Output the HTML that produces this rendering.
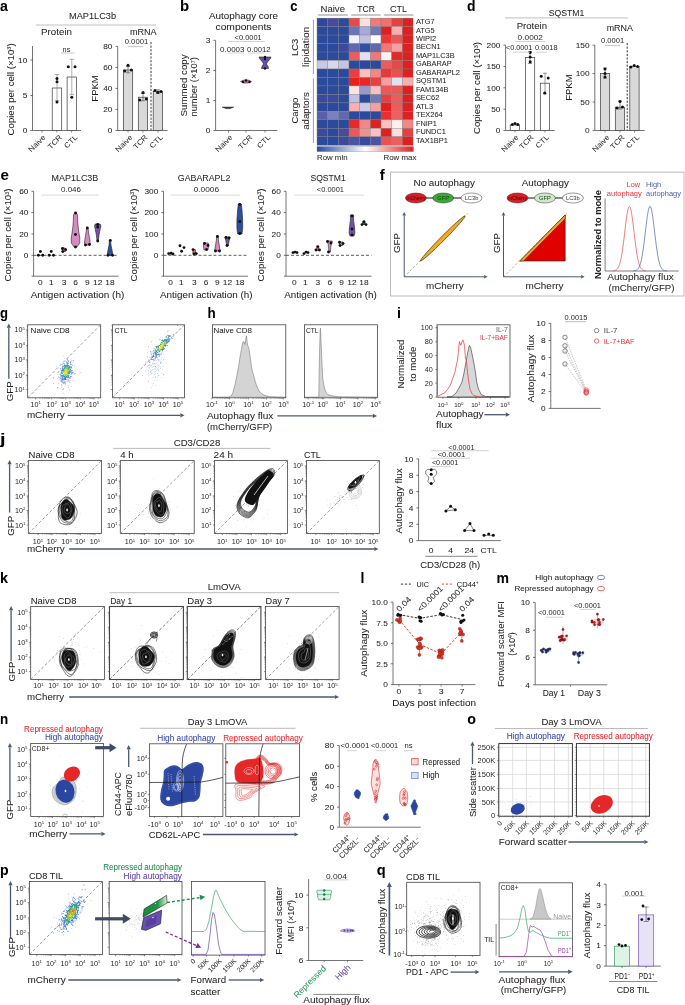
<!DOCTYPE html>
<html><head><meta charset="utf-8"><style>
html,body{margin:0;padding:0;background:#fff;}
svg{display:block;font-family:"Liberation Sans", sans-serif;will-change:transform;}
</style></head><body>
<svg width="685" height="1005" viewBox="0 0 685 1005" fill="#231f20">
<text x="0" y="10.9" font-size="14.5" font-weight="bold" fill="#000" textLength="7.90" lengthAdjust="spacingAndGlyphs" stroke="#000" stroke-width="0.05">a</text>
<text x="69.00" y="18.80" font-size="8.6" textLength="47.00" lengthAdjust="spacingAndGlyphs" stroke="#231f20" stroke-width="0.05">MAP1LC3b</text>
<line x1="36.00" y1="25.00" x2="156.00" y2="25.00" stroke="#b0b0b0" stroke-width="0.8"/>
<text x="41.00" y="35.30" font-size="8.6" textLength="31.00" lengthAdjust="spacingAndGlyphs" stroke="#231f20" stroke-width="0.05">Protein</text>
<text x="130.00" y="35.10" font-size="8.6" textLength="26.60" lengthAdjust="spacingAndGlyphs" stroke="#231f20" stroke-width="0.05">mRNA</text>
<line x1="32.50" y1="46.00" x2="32.50" y2="130.50" stroke="#3a3a3a" stroke-width="0.7"/>
<line x1="30.30" y1="130.50" x2="32.50" y2="130.50" stroke="#3a3a3a" stroke-width="0.7"/>
<text x="27.30" y="133.38" font-size="8.0" text-anchor="end" textLength="4.63" lengthAdjust="spacingAndGlyphs" stroke="#231f20" stroke-width="0.05">0</text>
<line x1="30.30" y1="95.50" x2="32.50" y2="95.50" stroke="#3a3a3a" stroke-width="0.7"/>
<text x="27.30" y="98.38" font-size="8.0" text-anchor="end" textLength="4.63" lengthAdjust="spacingAndGlyphs" stroke="#231f20" stroke-width="0.05">5</text>
<line x1="30.30" y1="60.00" x2="32.50" y2="60.00" stroke="#3a3a3a" stroke-width="0.7"/>
<text x="27.30" y="62.88" font-size="8.0" text-anchor="end" textLength="9.25" lengthAdjust="spacingAndGlyphs" stroke="#231f20" stroke-width="0.05">10</text>
<line x1="32.50" y1="130.50" x2="81.00" y2="130.50" stroke="#3a3a3a" stroke-width="0.7"/>
<line x1="42.00" y1="130.50" x2="42.00" y2="132.50" stroke="#3a3a3a" stroke-width="0.6"/>
<line x1="56.80" y1="130.50" x2="56.80" y2="132.50" stroke="#3a3a3a" stroke-width="0.6"/>
<line x1="71.60" y1="130.50" x2="71.60" y2="132.50" stroke="#3a3a3a" stroke-width="0.6"/>
<text x="10.80" y="92.50" font-size="8.6" text-anchor="middle" textLength="92.00" lengthAdjust="spacingAndGlyphs" transform="rotate(-90 10.80 89.40)" stroke="#231f20" stroke-width="0.05">Copies per cell (×10<tspan dy="-2.8" font-size="5">3</tspan><tspan dy="2.8">)</tspan></text>
<rect x="52.20" y="88.00" width="9.50" height="42.50" fill="white" stroke="#3a3a3a" stroke-width="0.7"/>
<rect x="67.10" y="77.00" width="9.50" height="53.50" fill="white" stroke="#3a3a3a" stroke-width="0.7"/>
<line x1="57.00" y1="74.50" x2="57.00" y2="100.50" stroke="#777" stroke-width="0.6"/>
<line x1="54.80" y1="74.50" x2="59.20" y2="74.50" stroke="#777" stroke-width="0.6"/>
<line x1="54.80" y1="100.50" x2="59.20" y2="100.50" stroke="#777" stroke-width="0.6"/>
<line x1="71.80" y1="59.30" x2="71.80" y2="94.60" stroke="#777" stroke-width="0.6"/>
<line x1="69.60" y1="59.30" x2="74.00" y2="59.30" stroke="#777" stroke-width="0.6"/>
<line x1="69.60" y1="94.60" x2="74.00" y2="94.60" stroke="#777" stroke-width="0.6"/>
<circle cx="57.00" cy="78.50" r="1.50" fill="#111"/>
<circle cx="57.00" cy="81.80" r="1.50" fill="#111"/>
<circle cx="57.00" cy="102.10" r="1.50" fill="#111"/>
<circle cx="68.30" cy="66.70" r="1.50" fill="#111"/>
<circle cx="75.00" cy="66.70" r="1.50" fill="#111"/>
<circle cx="71.80" cy="97.20" r="1.50" fill="#111"/>
<text x="62.60" y="51.98" font-size="6.6" textLength="7.67" lengthAdjust="spacingAndGlyphs">ns</text>
<line x1="61.00" y1="53.00" x2="74.50" y2="53.00" stroke="#b0b0b0" stroke-width="0.7"/>
<text x="46.00" y="137.80" font-size="7.4" text-anchor="end" textLength="20.81" lengthAdjust="spacingAndGlyphs" transform="rotate(-45 46.00 137.80)">Naive</text>
<text x="62.50" y="137.80" font-size="7.4" text-anchor="end" textLength="16.73" lengthAdjust="spacingAndGlyphs" transform="rotate(-45 62.50 137.80)">TCR</text>
<text x="78.00" y="137.80" font-size="7.4" text-anchor="end" textLength="15.38" lengthAdjust="spacingAndGlyphs" transform="rotate(-45 78.00 137.80)">CTL</text>
<line x1="117.70" y1="46.40" x2="117.70" y2="130.50" stroke="#3a3a3a" stroke-width="0.7"/>
<line x1="115.50" y1="130.50" x2="117.70" y2="130.50" stroke="#3a3a3a" stroke-width="0.7"/>
<text x="112.50" y="133.38" font-size="8.0" text-anchor="end" textLength="4.63" lengthAdjust="spacingAndGlyphs" stroke="#231f20" stroke-width="0.05">0</text>
<line x1="115.50" y1="109.40" x2="117.70" y2="109.40" stroke="#3a3a3a" stroke-width="0.7"/>
<text x="112.50" y="112.28" font-size="8.0" text-anchor="end" textLength="9.25" lengthAdjust="spacingAndGlyphs" stroke="#231f20" stroke-width="0.05">20</text>
<line x1="115.50" y1="88.40" x2="117.70" y2="88.40" stroke="#3a3a3a" stroke-width="0.7"/>
<text x="112.50" y="91.28" font-size="8.0" text-anchor="end" textLength="9.25" lengthAdjust="spacingAndGlyphs" stroke="#231f20" stroke-width="0.05">40</text>
<line x1="115.50" y1="67.40" x2="117.70" y2="67.40" stroke="#3a3a3a" stroke-width="0.7"/>
<text x="112.50" y="70.28" font-size="8.0" text-anchor="end" textLength="9.25" lengthAdjust="spacingAndGlyphs" stroke="#231f20" stroke-width="0.05">60</text>
<line x1="115.50" y1="46.40" x2="117.70" y2="46.40" stroke="#3a3a3a" stroke-width="0.7"/>
<text x="112.50" y="49.28" font-size="8.0" text-anchor="end" textLength="9.25" lengthAdjust="spacingAndGlyphs" stroke="#231f20" stroke-width="0.05">80</text>
<line x1="117.70" y1="130.50" x2="167.60" y2="130.50" stroke="#3a3a3a" stroke-width="0.7"/>
<line x1="128.00" y1="130.50" x2="128.00" y2="132.50" stroke="#3a3a3a" stroke-width="0.6"/>
<line x1="143.00" y1="130.50" x2="143.00" y2="132.50" stroke="#3a3a3a" stroke-width="0.6"/>
<line x1="158.00" y1="130.50" x2="158.00" y2="132.50" stroke="#3a3a3a" stroke-width="0.6"/>
<text x="94.90" y="91.60" font-size="8.6" text-anchor="middle" textLength="26.28" lengthAdjust="spacingAndGlyphs" transform="rotate(-90 94.90 88.50)" stroke="#231f20" stroke-width="0.05">FPKM</text>
<rect x="123.40" y="70.00" width="9.30" height="60.50" fill="#d9d9d9" stroke="#3a3a3a" stroke-width="0.7"/>
<rect x="138.30" y="97.20" width="9.30" height="33.30" fill="#d9d9d9" stroke="#3a3a3a" stroke-width="0.7"/>
<rect x="153.20" y="91.50" width="9.30" height="39.00" fill="#d9d9d9" stroke="#3a3a3a" stroke-width="0.7"/>
<line x1="128.00" y1="66.50" x2="128.00" y2="72.80" stroke="#444" stroke-width="0.6"/>
<line x1="126.00" y1="66.50" x2="130.00" y2="66.50" stroke="#444" stroke-width="0.6"/>
<line x1="126.00" y1="72.80" x2="130.00" y2="72.80" stroke="#444" stroke-width="0.6"/>
<line x1="143.00" y1="93.50" x2="143.00" y2="100.80" stroke="#444" stroke-width="0.6"/>
<line x1="141.00" y1="93.50" x2="145.00" y2="93.50" stroke="#444" stroke-width="0.6"/>
<line x1="141.00" y1="100.80" x2="145.00" y2="100.80" stroke="#444" stroke-width="0.6"/>
<line x1="158.00" y1="89.80" x2="158.00" y2="93.20" stroke="#444" stroke-width="0.6"/>
<line x1="156.00" y1="89.80" x2="160.00" y2="89.80" stroke="#444" stroke-width="0.6"/>
<line x1="156.00" y1="93.20" x2="160.00" y2="93.20" stroke="#444" stroke-width="0.6"/>
<circle cx="128.00" cy="65.20" r="1.50" fill="#111"/>
<circle cx="124.80" cy="71.00" r="1.50" fill="#111"/>
<circle cx="131.30" cy="70.00" r="1.50" fill="#111"/>
<circle cx="143.00" cy="92.50" r="1.50" fill="#111"/>
<circle cx="139.70" cy="100.00" r="1.50" fill="#111"/>
<circle cx="146.30" cy="99.00" r="1.50" fill="#111"/>
<circle cx="155.00" cy="90.50" r="1.50" fill="#111"/>
<circle cx="157.80" cy="92.50" r="1.50" fill="#111"/>
<circle cx="161.00" cy="91.50" r="1.50" fill="#111"/>
<line x1="151.00" y1="42.00" x2="151.00" y2="130.50" stroke="#222" stroke-width="0.9" stroke-dasharray="2.2,1.4"/>
<text x="124.70" y="44.30" font-size="6.4" textLength="23.60" lengthAdjust="spacingAndGlyphs">0.0001</text>
<line x1="128.00" y1="46.60" x2="143.00" y2="46.60" stroke="#b0b0b0" stroke-width="0.7"/>
<text x="133.00" y="137.80" font-size="7.4" text-anchor="end" textLength="20.81" lengthAdjust="spacingAndGlyphs" transform="rotate(-45 133.00 137.80)">Naive</text>
<text x="148.00" y="137.80" font-size="7.4" text-anchor="end" textLength="16.73" lengthAdjust="spacingAndGlyphs" transform="rotate(-45 148.00 137.80)">TCR</text>
<text x="163.50" y="137.80" font-size="7.4" text-anchor="end" textLength="15.38" lengthAdjust="spacingAndGlyphs" transform="rotate(-45 163.50 137.80)">CTL</text>
<text x="179.9" y="11.4" font-size="14.5" font-weight="bold" fill="#000" textLength="9.10" lengthAdjust="spacingAndGlyphs" stroke="#000" stroke-width="0.05">b</text>
<text x="243.50" y="18.80" font-size="8.6" text-anchor="middle" textLength="69.00" lengthAdjust="spacingAndGlyphs" stroke="#231f20" stroke-width="0.05">Autophagy core</text>
<text x="243.50" y="29.70" font-size="8.6" text-anchor="middle" textLength="56.00" lengthAdjust="spacingAndGlyphs" stroke="#231f20" stroke-width="0.05">components</text>
<line x1="215.60" y1="40.30" x2="215.60" y2="130.50" stroke="#3a3a3a" stroke-width="0.7"/>
<line x1="213.40" y1="130.50" x2="215.60" y2="130.50" stroke="#3a3a3a" stroke-width="0.7"/>
<text x="210.40" y="133.38" font-size="8.0" text-anchor="end" textLength="4.63" lengthAdjust="spacingAndGlyphs" stroke="#231f20" stroke-width="0.05">0</text>
<line x1="213.40" y1="100.50" x2="215.60" y2="100.50" stroke="#3a3a3a" stroke-width="0.7"/>
<text x="210.40" y="103.38" font-size="8.0" text-anchor="end" textLength="4.63" lengthAdjust="spacingAndGlyphs" stroke="#231f20" stroke-width="0.05">1</text>
<line x1="213.40" y1="70.40" x2="215.60" y2="70.40" stroke="#3a3a3a" stroke-width="0.7"/>
<text x="210.40" y="73.28" font-size="8.0" text-anchor="end" textLength="4.63" lengthAdjust="spacingAndGlyphs" stroke="#231f20" stroke-width="0.05">2</text>
<line x1="213.40" y1="40.30" x2="215.60" y2="40.30" stroke="#3a3a3a" stroke-width="0.7"/>
<text x="210.40" y="43.18" font-size="8.0" text-anchor="end" textLength="4.63" lengthAdjust="spacingAndGlyphs" stroke="#231f20" stroke-width="0.05">3</text>
<line x1="215.60" y1="130.50" x2="277.50" y2="130.50" stroke="#3a3a3a" stroke-width="0.7"/>
<line x1="228.50" y1="130.50" x2="228.50" y2="132.50" stroke="#3a3a3a" stroke-width="0.6"/>
<line x1="246.00" y1="130.50" x2="246.00" y2="132.50" stroke="#3a3a3a" stroke-width="0.6"/>
<line x1="265.00" y1="130.50" x2="265.00" y2="132.50" stroke="#3a3a3a" stroke-width="0.6"/>
<text x="183.80" y="88.50" font-size="8.6" text-anchor="middle" textLength="62.00" lengthAdjust="spacingAndGlyphs" transform="rotate(-90 183.80 85.40)" stroke="#231f20" stroke-width="0.05">Summed copy</text>
<text x="194.30" y="89.90" font-size="8.6" text-anchor="middle" textLength="59.50" lengthAdjust="spacingAndGlyphs" transform="rotate(-90 194.30 86.80)" stroke="#231f20" stroke-width="0.05">number (×10<tspan dy="-2.8" font-size="5">7</tspan><tspan dy="2.8">)</tspan></text>
<text x="234.60" y="39.90" font-size="6.4" textLength="27.10" lengthAdjust="spacingAndGlyphs">&lt;0.0001</text>
<line x1="228.00" y1="41.50" x2="265.00" y2="41.50" stroke="#c0c0c0" stroke-width="0.7"/>
<text x="220.00" y="51.50" font-size="6.4" textLength="24.50" lengthAdjust="spacingAndGlyphs">0.0003</text>
<text x="247.00" y="51.50" font-size="6.4" textLength="23.50" lengthAdjust="spacingAndGlyphs">0.0012</text>
<line x1="228.00" y1="53.00" x2="244.00" y2="53.00" stroke="#c0c0c0" stroke-width="0.7"/>
<line x1="248.00" y1="53.00" x2="265.00" y2="53.00" stroke="#c0c0c0" stroke-width="0.7"/>
<path d="M222.10,107.10 L233.80,107.10 L230.00,108.60 L226.00,108.60 Z" fill="#2a48a0" stroke="#111" stroke-width="0.5"/>
<path d="M244.00,80.00 L240.50,81.50 L244.00,83.00 L248.00,83.00 L251.50,81.50 L248.00,80.00 Z" fill="#c774b8" stroke="#222" stroke-width="0.6"/>
<circle cx="243.00" cy="82.00" r="1.20" fill="#111"/>
<circle cx="246.00" cy="80.50" r="1.20" fill="#111"/>
<circle cx="249.50" cy="82.00" r="1.20" fill="#111"/>
<path d="M259.00,57.00 L259.50,58.50 L262.50,62.00 L263.50,64.00 L262.00,66.50 L261.50,68.50 L268.50,68.50 L268.00,66.50 L266.50,64.00 L267.50,62.00 L270.50,58.50 L271.00,57.00 Z" fill="#6a4fa8" stroke="#222" stroke-width="0.6"/>
<circle cx="265.00" cy="57.00" r="1.20" fill="#111"/>
<circle cx="265.00" cy="59.00" r="1.20" fill="#111"/>
<circle cx="265.00" cy="68.50" r="1.20" fill="#111"/>
<text x="233.00" y="137.80" font-size="7.4" text-anchor="end" textLength="20.81" lengthAdjust="spacingAndGlyphs" transform="rotate(-45 233.00 137.80)">Naive</text>
<text x="253.00" y="137.80" font-size="7.4" text-anchor="end" textLength="16.73" lengthAdjust="spacingAndGlyphs" transform="rotate(-45 253.00 137.80)">TCR</text>
<text x="271.00" y="137.80" font-size="7.4" text-anchor="end" textLength="15.38" lengthAdjust="spacingAndGlyphs" transform="rotate(-45 271.00 137.80)">CTL</text>
<text x="290.3" y="10.5" font-size="14.5" font-weight="bold" fill="#000" textLength="7.20" lengthAdjust="spacingAndGlyphs" stroke="#000" stroke-width="0.05">c</text>
<rect x="317.00" y="18.10" width="10.67" height="8.48" fill="#2b4a9c" stroke="#7a7a7a" stroke-width="0.35"/>
<rect x="327.67" y="18.10" width="10.67" height="8.48" fill="#4a4a9c" stroke="#7a7a7a" stroke-width="0.35"/>
<rect x="338.34" y="18.10" width="10.67" height="8.48" fill="#2b4a9c" stroke="#7a7a7a" stroke-width="0.35"/>
<rect x="349.01" y="18.10" width="10.67" height="8.48" fill="#e84a4a" stroke="#7a7a7a" stroke-width="0.35"/>
<rect x="359.68" y="18.10" width="10.67" height="8.48" fill="#fce0e0" stroke="#7a7a7a" stroke-width="0.35"/>
<rect x="370.35" y="18.10" width="10.67" height="8.48" fill="#f07a7a" stroke="#7a7a7a" stroke-width="0.35"/>
<rect x="381.02" y="18.10" width="10.67" height="8.48" fill="#f07070" stroke="#7a7a7a" stroke-width="0.35"/>
<rect x="391.69" y="18.10" width="10.67" height="8.48" fill="#e84040" stroke="#7a7a7a" stroke-width="0.35"/>
<rect x="402.36" y="18.10" width="10.67" height="8.48" fill="#e02020" stroke="#7a7a7a" stroke-width="0.35"/>
<rect x="317.00" y="26.58" width="10.67" height="8.48" fill="#2b4a9c" stroke="#7a7a7a" stroke-width="0.35"/>
<rect x="327.67" y="26.58" width="10.67" height="8.48" fill="#2b4a9c" stroke="#7a7a7a" stroke-width="0.35"/>
<rect x="338.34" y="26.58" width="10.67" height="8.48" fill="#2b4a9c" stroke="#7a7a7a" stroke-width="0.35"/>
<rect x="349.01" y="26.58" width="10.67" height="8.48" fill="#6c74b8" stroke="#7a7a7a" stroke-width="0.35"/>
<rect x="359.68" y="26.58" width="10.67" height="8.48" fill="#a8a8d8" stroke="#7a7a7a" stroke-width="0.35"/>
<rect x="370.35" y="26.58" width="10.67" height="8.48" fill="#7078b8" stroke="#7a7a7a" stroke-width="0.35"/>
<rect x="381.02" y="26.58" width="10.67" height="8.48" fill="#e02020" stroke="#7a7a7a" stroke-width="0.35"/>
<rect x="391.69" y="26.58" width="10.67" height="8.48" fill="#f4b0b0" stroke="#7a7a7a" stroke-width="0.35"/>
<rect x="402.36" y="26.58" width="10.67" height="8.48" fill="#e02020" stroke="#7a7a7a" stroke-width="0.35"/>
<rect x="317.00" y="35.06" width="10.67" height="8.48" fill="#2b4a9c" stroke="#7a7a7a" stroke-width="0.35"/>
<rect x="327.67" y="35.06" width="10.67" height="8.48" fill="#2b4a9c" stroke="#7a7a7a" stroke-width="0.35"/>
<rect x="338.34" y="35.06" width="10.67" height="8.48" fill="#2b4a9c" stroke="#7a7a7a" stroke-width="0.35"/>
<rect x="349.01" y="35.06" width="10.67" height="8.48" fill="#f0f0f8" stroke="#7a7a7a" stroke-width="0.35"/>
<rect x="359.68" y="35.06" width="10.67" height="8.48" fill="#c0c0e0" stroke="#7a7a7a" stroke-width="0.35"/>
<rect x="370.35" y="35.06" width="10.67" height="8.48" fill="#ffffff" stroke="#7a7a7a" stroke-width="0.35"/>
<rect x="381.02" y="35.06" width="10.67" height="8.48" fill="#e83838" stroke="#7a7a7a" stroke-width="0.35"/>
<rect x="391.69" y="35.06" width="10.67" height="8.48" fill="#e85858" stroke="#7a7a7a" stroke-width="0.35"/>
<rect x="402.36" y="35.06" width="10.67" height="8.48" fill="#e02020" stroke="#7a7a7a" stroke-width="0.35"/>
<rect x="317.00" y="43.54" width="10.67" height="8.48" fill="#2b4a9c" stroke="#7a7a7a" stroke-width="0.35"/>
<rect x="327.67" y="43.54" width="10.67" height="8.48" fill="#2b4a9c" stroke="#7a7a7a" stroke-width="0.35"/>
<rect x="338.34" y="43.54" width="10.67" height="8.48" fill="#3a4a9c" stroke="#7a7a7a" stroke-width="0.35"/>
<rect x="349.01" y="43.54" width="10.67" height="8.48" fill="#6068b0" stroke="#7a7a7a" stroke-width="0.35"/>
<rect x="359.68" y="43.54" width="10.67" height="8.48" fill="#3050a0" stroke="#7a7a7a" stroke-width="0.35"/>
<rect x="370.35" y="43.54" width="10.67" height="8.48" fill="#6068b0" stroke="#7a7a7a" stroke-width="0.35"/>
<rect x="381.02" y="43.54" width="10.67" height="8.48" fill="#f07878" stroke="#7a7a7a" stroke-width="0.35"/>
<rect x="391.69" y="43.54" width="10.67" height="8.48" fill="#f4a0a0" stroke="#7a7a7a" stroke-width="0.35"/>
<rect x="402.36" y="43.54" width="10.67" height="8.48" fill="#e02020" stroke="#7a7a7a" stroke-width="0.35"/>
<rect x="317.00" y="52.02" width="10.67" height="8.48" fill="#2b4a9c" stroke="#7a7a7a" stroke-width="0.35"/>
<rect x="327.67" y="52.02" width="10.67" height="8.48" fill="#2b4a9c" stroke="#7a7a7a" stroke-width="0.35"/>
<rect x="338.34" y="52.02" width="10.67" height="8.48" fill="#2b4a9c" stroke="#7a7a7a" stroke-width="0.35"/>
<rect x="349.01" y="52.02" width="10.67" height="8.48" fill="#ec5c5c" stroke="#7a7a7a" stroke-width="0.35"/>
<rect x="359.68" y="52.02" width="10.67" height="8.48" fill="#e0e0f4" stroke="#7a7a7a" stroke-width="0.35"/>
<rect x="370.35" y="52.02" width="10.67" height="8.48" fill="#f07878" stroke="#7a7a7a" stroke-width="0.35"/>
<rect x="381.02" y="52.02" width="10.67" height="8.48" fill="#fcf0f0" stroke="#7a7a7a" stroke-width="0.35"/>
<rect x="391.69" y="52.02" width="10.67" height="8.48" fill="#e82828" stroke="#7a7a7a" stroke-width="0.35"/>
<rect x="402.36" y="52.02" width="10.67" height="8.48" fill="#e02020" stroke="#7a7a7a" stroke-width="0.35"/>
<rect x="317.00" y="60.50" width="10.67" height="8.48" fill="#c8c8e4" stroke="#7a7a7a" stroke-width="0.35"/>
<rect x="327.67" y="60.50" width="10.67" height="8.48" fill="#d8d8ec" stroke="#7a7a7a" stroke-width="0.35"/>
<rect x="338.34" y="60.50" width="10.67" height="8.48" fill="#c4c4e4" stroke="#7a7a7a" stroke-width="0.35"/>
<rect x="349.01" y="60.50" width="10.67" height="8.48" fill="#2b4a9c" stroke="#7a7a7a" stroke-width="0.35"/>
<rect x="359.68" y="60.50" width="10.67" height="8.48" fill="#2b4a9c" stroke="#7a7a7a" stroke-width="0.35"/>
<rect x="370.35" y="60.50" width="10.67" height="8.48" fill="#2b4a9c" stroke="#7a7a7a" stroke-width="0.35"/>
<rect x="381.02" y="60.50" width="10.67" height="8.48" fill="#ec5c5c" stroke="#7a7a7a" stroke-width="0.35"/>
<rect x="391.69" y="60.50" width="10.67" height="8.48" fill="#e84848" stroke="#7a7a7a" stroke-width="0.35"/>
<rect x="402.36" y="60.50" width="10.67" height="8.48" fill="#e02020" stroke="#7a7a7a" stroke-width="0.35"/>
<rect x="317.00" y="68.98" width="10.67" height="8.48" fill="#2b4a9c" stroke="#7a7a7a" stroke-width="0.35"/>
<rect x="327.67" y="68.98" width="10.67" height="8.48" fill="#2b4a9c" stroke="#7a7a7a" stroke-width="0.35"/>
<rect x="338.34" y="68.98" width="10.67" height="8.48" fill="#2b4a9c" stroke="#7a7a7a" stroke-width="0.35"/>
<rect x="349.01" y="68.98" width="10.67" height="8.48" fill="#e84040" stroke="#7a7a7a" stroke-width="0.35"/>
<rect x="359.68" y="68.98" width="10.67" height="8.48" fill="#f8c0c0" stroke="#7a7a7a" stroke-width="0.35"/>
<rect x="370.35" y="68.98" width="10.67" height="8.48" fill="#f08888" stroke="#7a7a7a" stroke-width="0.35"/>
<rect x="381.02" y="68.98" width="10.67" height="8.48" fill="#e83838" stroke="#7a7a7a" stroke-width="0.35"/>
<rect x="391.69" y="68.98" width="10.67" height="8.48" fill="#e85050" stroke="#7a7a7a" stroke-width="0.35"/>
<rect x="402.36" y="68.98" width="10.67" height="8.48" fill="#e02020" stroke="#7a7a7a" stroke-width="0.35"/>
<rect x="317.00" y="77.46" width="10.67" height="8.48" fill="#2b4a9c" stroke="#7a7a7a" stroke-width="0.35"/>
<rect x="327.67" y="77.46" width="10.67" height="8.48" fill="#2b4a9c" stroke="#7a7a7a" stroke-width="0.35"/>
<rect x="338.34" y="77.46" width="10.67" height="8.48" fill="#2b4a9c" stroke="#7a7a7a" stroke-width="0.35"/>
<rect x="349.01" y="77.46" width="10.67" height="8.48" fill="#e82020" stroke="#7a7a7a" stroke-width="0.35"/>
<rect x="359.68" y="77.46" width="10.67" height="8.48" fill="#e82828" stroke="#7a7a7a" stroke-width="0.35"/>
<rect x="370.35" y="77.46" width="10.67" height="8.48" fill="#e84040" stroke="#7a7a7a" stroke-width="0.35"/>
<rect x="381.02" y="77.46" width="10.67" height="8.48" fill="#f4a0a0" stroke="#7a7a7a" stroke-width="0.35"/>
<rect x="391.69" y="77.46" width="10.67" height="8.48" fill="#e0e0f0" stroke="#7a7a7a" stroke-width="0.35"/>
<rect x="402.36" y="77.46" width="10.67" height="8.48" fill="#f4b0b0" stroke="#7a7a7a" stroke-width="0.35"/>
<rect x="317.00" y="85.94" width="10.67" height="8.48" fill="#2b4a9c" stroke="#7a7a7a" stroke-width="0.35"/>
<rect x="327.67" y="85.94" width="10.67" height="8.48" fill="#2b4a9c" stroke="#7a7a7a" stroke-width="0.35"/>
<rect x="338.34" y="85.94" width="10.67" height="8.48" fill="#2b4a9c" stroke="#7a7a7a" stroke-width="0.35"/>
<rect x="349.01" y="85.94" width="10.67" height="8.48" fill="#fce4e4" stroke="#7a7a7a" stroke-width="0.35"/>
<rect x="359.68" y="85.94" width="10.67" height="8.48" fill="#9898d0" stroke="#7a7a7a" stroke-width="0.35"/>
<rect x="370.35" y="85.94" width="10.67" height="8.48" fill="#f8c0c0" stroke="#7a7a7a" stroke-width="0.35"/>
<rect x="381.02" y="85.94" width="10.67" height="8.48" fill="#ec5858" stroke="#7a7a7a" stroke-width="0.35"/>
<rect x="391.69" y="85.94" width="10.67" height="8.48" fill="#ec5858" stroke="#7a7a7a" stroke-width="0.35"/>
<rect x="402.36" y="85.94" width="10.67" height="8.48" fill="#e02020" stroke="#7a7a7a" stroke-width="0.35"/>
<rect x="317.00" y="94.42" width="10.67" height="8.48" fill="#3a4a9c" stroke="#7a7a7a" stroke-width="0.35"/>
<rect x="327.67" y="94.42" width="10.67" height="8.48" fill="#3a4a9c" stroke="#7a7a7a" stroke-width="0.35"/>
<rect x="338.34" y="94.42" width="10.67" height="8.48" fill="#2b4a9c" stroke="#7a7a7a" stroke-width="0.35"/>
<rect x="349.01" y="94.42" width="10.67" height="8.48" fill="#c0c0e4" stroke="#7a7a7a" stroke-width="0.35"/>
<rect x="359.68" y="94.42" width="10.67" height="8.48" fill="#2b4a9c" stroke="#7a7a7a" stroke-width="0.35"/>
<rect x="370.35" y="94.42" width="10.67" height="8.48" fill="#7078b8" stroke="#7a7a7a" stroke-width="0.35"/>
<rect x="381.02" y="94.42" width="10.67" height="8.48" fill="#e84040" stroke="#7a7a7a" stroke-width="0.35"/>
<rect x="391.69" y="94.42" width="10.67" height="8.48" fill="#ec5c5c" stroke="#7a7a7a" stroke-width="0.35"/>
<rect x="402.36" y="94.42" width="10.67" height="8.48" fill="#e02020" stroke="#7a7a7a" stroke-width="0.35"/>
<rect x="317.00" y="102.90" width="10.67" height="8.48" fill="#2b4a9c" stroke="#7a7a7a" stroke-width="0.35"/>
<rect x="327.67" y="102.90" width="10.67" height="8.48" fill="#2b4a9c" stroke="#7a7a7a" stroke-width="0.35"/>
<rect x="338.34" y="102.90" width="10.67" height="8.48" fill="#2b4a9c" stroke="#7a7a7a" stroke-width="0.35"/>
<rect x="349.01" y="102.90" width="10.67" height="8.48" fill="#f8b0b0" stroke="#7a7a7a" stroke-width="0.35"/>
<rect x="359.68" y="102.90" width="10.67" height="8.48" fill="#c8c8e8" stroke="#7a7a7a" stroke-width="0.35"/>
<rect x="370.35" y="102.90" width="10.67" height="8.48" fill="#f4a0a0" stroke="#7a7a7a" stroke-width="0.35"/>
<rect x="381.02" y="102.90" width="10.67" height="8.48" fill="#e02020" stroke="#7a7a7a" stroke-width="0.35"/>
<rect x="391.69" y="102.90" width="10.67" height="8.48" fill="#ec5c5c" stroke="#7a7a7a" stroke-width="0.35"/>
<rect x="402.36" y="102.90" width="10.67" height="8.48" fill="#e02020" stroke="#7a7a7a" stroke-width="0.35"/>
<rect x="317.00" y="111.38" width="10.67" height="8.48" fill="#5a60a8" stroke="#7a7a7a" stroke-width="0.35"/>
<rect x="327.67" y="111.38" width="10.67" height="8.48" fill="#7c80c0" stroke="#7a7a7a" stroke-width="0.35"/>
<rect x="338.34" y="111.38" width="10.67" height="8.48" fill="#6068b0" stroke="#7a7a7a" stroke-width="0.35"/>
<rect x="349.01" y="111.38" width="10.67" height="8.48" fill="#2b4a9c" stroke="#7a7a7a" stroke-width="0.35"/>
<rect x="359.68" y="111.38" width="10.67" height="8.48" fill="#2b4a9c" stroke="#7a7a7a" stroke-width="0.35"/>
<rect x="370.35" y="111.38" width="10.67" height="8.48" fill="#2b4a9c" stroke="#7a7a7a" stroke-width="0.35"/>
<rect x="381.02" y="111.38" width="10.67" height="8.48" fill="#e83030" stroke="#7a7a7a" stroke-width="0.35"/>
<rect x="391.69" y="111.38" width="10.67" height="8.48" fill="#ec6060" stroke="#7a7a7a" stroke-width="0.35"/>
<rect x="402.36" y="111.38" width="10.67" height="8.48" fill="#e02020" stroke="#7a7a7a" stroke-width="0.35"/>
<rect x="317.00" y="119.86" width="10.67" height="8.48" fill="#2b4a9c" stroke="#7a7a7a" stroke-width="0.35"/>
<rect x="327.67" y="119.86" width="10.67" height="8.48" fill="#2b4a9c" stroke="#7a7a7a" stroke-width="0.35"/>
<rect x="338.34" y="119.86" width="10.67" height="8.48" fill="#2b4a9c" stroke="#7a7a7a" stroke-width="0.35"/>
<rect x="349.01" y="119.86" width="10.67" height="8.48" fill="#e82828" stroke="#7a7a7a" stroke-width="0.35"/>
<rect x="359.68" y="119.86" width="10.67" height="8.48" fill="#f08888" stroke="#7a7a7a" stroke-width="0.35"/>
<rect x="370.35" y="119.86" width="10.67" height="8.48" fill="#e02020" stroke="#7a7a7a" stroke-width="0.35"/>
<rect x="381.02" y="119.86" width="10.67" height="8.48" fill="#f8c0c0" stroke="#7a7a7a" stroke-width="0.35"/>
<rect x="391.69" y="119.86" width="10.67" height="8.48" fill="#fcf0f0" stroke="#7a7a7a" stroke-width="0.35"/>
<rect x="402.36" y="119.86" width="10.67" height="8.48" fill="#f08888" stroke="#7a7a7a" stroke-width="0.35"/>
<rect x="317.00" y="128.34" width="10.67" height="8.48" fill="#3a4a9c" stroke="#7a7a7a" stroke-width="0.35"/>
<rect x="327.67" y="128.34" width="10.67" height="8.48" fill="#2b4a9c" stroke="#7a7a7a" stroke-width="0.35"/>
<rect x="338.34" y="128.34" width="10.67" height="8.48" fill="#4a4a9c" stroke="#7a7a7a" stroke-width="0.35"/>
<rect x="349.01" y="128.34" width="10.67" height="8.48" fill="#ec5858" stroke="#7a7a7a" stroke-width="0.35"/>
<rect x="359.68" y="128.34" width="10.67" height="8.48" fill="#f09090" stroke="#7a7a7a" stroke-width="0.35"/>
<rect x="370.35" y="128.34" width="10.67" height="8.48" fill="#f8c0c0" stroke="#7a7a7a" stroke-width="0.35"/>
<rect x="381.02" y="128.34" width="10.67" height="8.48" fill="#e02020" stroke="#7a7a7a" stroke-width="0.35"/>
<rect x="391.69" y="128.34" width="10.67" height="8.48" fill="#fce0e0" stroke="#7a7a7a" stroke-width="0.35"/>
<rect x="402.36" y="128.34" width="10.67" height="8.48" fill="#e84040" stroke="#7a7a7a" stroke-width="0.35"/>
<rect x="317.00" y="136.82" width="10.67" height="8.48" fill="#2b4a9c" stroke="#7a7a7a" stroke-width="0.35"/>
<rect x="327.67" y="136.82" width="10.67" height="8.48" fill="#2b4a9c" stroke="#7a7a7a" stroke-width="0.35"/>
<rect x="338.34" y="136.82" width="10.67" height="8.48" fill="#3a4a9c" stroke="#7a7a7a" stroke-width="0.35"/>
<rect x="349.01" y="136.82" width="10.67" height="8.48" fill="#4a54a4" stroke="#7a7a7a" stroke-width="0.35"/>
<rect x="359.68" y="136.82" width="10.67" height="8.48" fill="#3a4a9c" stroke="#7a7a7a" stroke-width="0.35"/>
<rect x="370.35" y="136.82" width="10.67" height="8.48" fill="#4a54a4" stroke="#7a7a7a" stroke-width="0.35"/>
<rect x="381.02" y="136.82" width="10.67" height="8.48" fill="#ec5050" stroke="#7a7a7a" stroke-width="0.35"/>
<rect x="391.69" y="136.82" width="10.67" height="8.48" fill="#ec6060" stroke="#7a7a7a" stroke-width="0.35"/>
<rect x="402.36" y="136.82" width="10.67" height="8.48" fill="#e02020" stroke="#7a7a7a" stroke-width="0.35"/>
<text x="415.90" y="24.05" font-size="7.8" textLength="18.80" lengthAdjust="spacingAndGlyphs" stroke="#231f20" stroke-width="0.05">ATG7</text>
<text x="415.90" y="32.53" font-size="7.8" textLength="18.80" lengthAdjust="spacingAndGlyphs" stroke="#231f20" stroke-width="0.05">ATG5</text>
<text x="415.90" y="41.01" font-size="7.8" textLength="20.17" lengthAdjust="spacingAndGlyphs" stroke="#231f20" stroke-width="0.05">WIPI2</text>
<text x="415.90" y="49.49" font-size="7.8" textLength="24.71" lengthAdjust="spacingAndGlyphs" stroke="#231f20" stroke-width="0.05">BECN1</text>
<text x="415.90" y="57.97" font-size="7.8" textLength="38.71" lengthAdjust="spacingAndGlyphs" stroke="#231f20" stroke-width="0.05">MAP1LC3B</text>
<text x="415.90" y="66.45" font-size="7.8" textLength="35.83" lengthAdjust="spacingAndGlyphs" stroke="#231f20" stroke-width="0.05">GABARAP</text>
<text x="415.90" y="74.93" font-size="7.8" textLength="44.07" lengthAdjust="spacingAndGlyphs" stroke="#231f20" stroke-width="0.05">GABARAPL2</text>
<text x="415.90" y="83.41" font-size="7.8" textLength="30.47" lengthAdjust="spacingAndGlyphs" stroke="#231f20" stroke-width="0.05">SQSTM1</text>
<text x="415.90" y="91.89" font-size="7.8" textLength="32.54" lengthAdjust="spacingAndGlyphs" stroke="#231f20" stroke-width="0.05">FAM134B</text>
<text x="415.90" y="100.37" font-size="7.8" textLength="23.48" lengthAdjust="spacingAndGlyphs" stroke="#231f20" stroke-width="0.05">SEC62</text>
<text x="415.90" y="108.85" font-size="7.8" textLength="17.16" lengthAdjust="spacingAndGlyphs" stroke="#231f20" stroke-width="0.05">ATL3</text>
<text x="415.90" y="117.33" font-size="7.8" textLength="26.77" lengthAdjust="spacingAndGlyphs" stroke="#231f20" stroke-width="0.05">TEX264</text>
<text x="415.90" y="125.81" font-size="7.8" textLength="21.00" lengthAdjust="spacingAndGlyphs" stroke="#231f20" stroke-width="0.05">FNIP1</text>
<text x="415.90" y="134.29" font-size="7.8" textLength="30.05" lengthAdjust="spacingAndGlyphs" stroke="#231f20" stroke-width="0.05">FUNDC1</text>
<text x="415.90" y="142.77" font-size="7.8" textLength="31.99" lengthAdjust="spacingAndGlyphs" stroke="#231f20" stroke-width="0.05">TAX1BP1</text>
<text x="320.50" y="12.40" font-size="8.6" textLength="24.50" lengthAdjust="spacingAndGlyphs" stroke="#231f20" stroke-width="0.05">Naive</text>
<text x="357.30" y="12.40" font-size="8.6" textLength="17.60" lengthAdjust="spacingAndGlyphs" stroke="#231f20" stroke-width="0.05">TCR</text>
<text x="390.00" y="12.40" font-size="8.6" textLength="17.00" lengthAdjust="spacingAndGlyphs" stroke="#231f20" stroke-width="0.05">CTL</text>
<line x1="317.90" y1="15.00" x2="347.80" y2="15.00" stroke="#777" stroke-width="0.8"/>
<line x1="351.20" y1="15.00" x2="380.70" y2="15.00" stroke="#777" stroke-width="0.8"/>
<line x1="383.90" y1="15.00" x2="413.50" y2="15.00" stroke="#777" stroke-width="0.8"/>
<line x1="313.40" y1="19.80" x2="313.40" y2="74.10" stroke="#888" stroke-width="0.8"/>
<line x1="313.40" y1="78.30" x2="313.40" y2="143.10" stroke="#888" stroke-width="0.8"/>
<text x="295.10" y="50.40" font-size="8.6" text-anchor="middle" textLength="17.40" lengthAdjust="spacingAndGlyphs" transform="rotate(-90 295.10 47.30)" stroke="#231f20" stroke-width="0.05">LC3</text>
<text x="305.60" y="50.00" font-size="8.6" text-anchor="middle" textLength="40.40" lengthAdjust="spacingAndGlyphs" transform="rotate(-90 305.60 46.90)" stroke="#231f20" stroke-width="0.05">lipidation</text>
<text x="295.10" y="113.80" font-size="8.6" text-anchor="middle" textLength="25.80" lengthAdjust="spacingAndGlyphs" transform="rotate(-90 295.10 110.70)" stroke="#231f20" stroke-width="0.05">Cargo</text>
<text x="305.60" y="114.10" font-size="8.6" text-anchor="middle" textLength="37.60" lengthAdjust="spacingAndGlyphs" transform="rotate(-90 305.60 111.00)" stroke="#231f20" stroke-width="0.05">adaptors</text>
<defs><linearGradient id="hg" x1="0" x2="1" y1="0" y2="0"><stop offset="0" stop-color="#2a4a9e"/><stop offset="0.5" stop-color="#ffffff"/><stop offset="1" stop-color="#e02020"/></linearGradient></defs>
<rect x="317.00" y="146.50" width="96.50" height="5.20" fill="url(#hg)" stroke="#888" stroke-width="0.35"/>
<text x="317.00" y="160.08" font-size="8.0" textLength="30.50" lengthAdjust="spacingAndGlyphs" stroke="#231f20" stroke-width="0.05">Row min</text>
<text x="383.50" y="160.08" font-size="8.0" textLength="32.90" lengthAdjust="spacingAndGlyphs" stroke="#231f20" stroke-width="0.05">Row max</text>
<text x="467" y="10.9" font-size="14.5" font-weight="bold" fill="#000" textLength="8.50" lengthAdjust="spacingAndGlyphs" stroke="#000" stroke-width="0.05">d</text>
<text x="548.70" y="15.60" font-size="8.6" textLength="35.60" lengthAdjust="spacingAndGlyphs" stroke="#231f20" stroke-width="0.05">SQSTM1</text>
<line x1="505.00" y1="17.90" x2="628.00" y2="17.90" stroke="#b0b0b0" stroke-width="0.8"/>
<text x="516.70" y="29.30" font-size="8.6" textLength="30.30" lengthAdjust="spacingAndGlyphs" stroke="#231f20" stroke-width="0.05">Protein</text>
<text x="606.70" y="30.60" font-size="8.6" textLength="26.30" lengthAdjust="spacingAndGlyphs" stroke="#231f20" stroke-width="0.05">mRNA</text>
<line x1="505.60" y1="45.20" x2="505.60" y2="130.50" stroke="#3a3a3a" stroke-width="0.7"/>
<line x1="503.40" y1="130.50" x2="505.60" y2="130.50" stroke="#3a3a3a" stroke-width="0.7"/>
<text x="500.40" y="133.38" font-size="8.0" text-anchor="end" textLength="4.63" lengthAdjust="spacingAndGlyphs" stroke="#231f20" stroke-width="0.05">0</text>
<line x1="503.40" y1="109.20" x2="505.60" y2="109.20" stroke="#3a3a3a" stroke-width="0.7"/>
<text x="500.40" y="112.08" font-size="8.0" text-anchor="end" textLength="9.25" lengthAdjust="spacingAndGlyphs" stroke="#231f20" stroke-width="0.05">50</text>
<line x1="503.40" y1="87.80" x2="505.60" y2="87.80" stroke="#3a3a3a" stroke-width="0.7"/>
<text x="500.40" y="90.68" font-size="8.0" text-anchor="end" textLength="13.88" lengthAdjust="spacingAndGlyphs" stroke="#231f20" stroke-width="0.05">100</text>
<line x1="503.40" y1="66.50" x2="505.60" y2="66.50" stroke="#3a3a3a" stroke-width="0.7"/>
<text x="500.40" y="69.38" font-size="8.0" text-anchor="end" textLength="13.88" lengthAdjust="spacingAndGlyphs" stroke="#231f20" stroke-width="0.05">150</text>
<line x1="503.40" y1="45.20" x2="505.60" y2="45.20" stroke="#3a3a3a" stroke-width="0.7"/>
<text x="500.40" y="48.08" font-size="8.0" text-anchor="end" textLength="13.88" lengthAdjust="spacingAndGlyphs" stroke="#231f20" stroke-width="0.05">200</text>
<line x1="505.60" y1="130.50" x2="554.70" y2="130.50" stroke="#3a3a3a" stroke-width="0.7"/>
<line x1="515.00" y1="130.50" x2="515.00" y2="132.50" stroke="#3a3a3a" stroke-width="0.6"/>
<line x1="530.00" y1="130.50" x2="530.00" y2="132.50" stroke="#3a3a3a" stroke-width="0.6"/>
<line x1="545.00" y1="130.50" x2="545.00" y2="132.50" stroke="#3a3a3a" stroke-width="0.6"/>
<text x="477.30" y="91.10" font-size="8.6" text-anchor="middle" textLength="92.00" lengthAdjust="spacingAndGlyphs" transform="rotate(-90 477.30 88.00)" stroke="#231f20" stroke-width="0.05">Copies per cell (×10<tspan dy="-2.8" font-size="5">3</tspan><tspan dy="2.8">)</tspan></text>
<rect x="510.20" y="125.00" width="9.30" height="5.50" fill="white" stroke="#3a3a3a" stroke-width="0.7"/>
<rect x="525.40" y="57.50" width="9.30" height="73.00" fill="white" stroke="#3a3a3a" stroke-width="0.7"/>
<rect x="540.30" y="83.20" width="9.30" height="47.30" fill="white" stroke="#3a3a3a" stroke-width="0.7"/>
<line x1="530.00" y1="51.50" x2="530.00" y2="63.50" stroke="#555" stroke-width="0.6"/>
<line x1="528.00" y1="51.50" x2="532.00" y2="51.50" stroke="#555" stroke-width="0.6"/>
<line x1="528.00" y1="63.50" x2="532.00" y2="63.50" stroke="#555" stroke-width="0.6"/>
<line x1="545.00" y1="73.20" x2="545.00" y2="93.70" stroke="#555" stroke-width="0.6"/>
<line x1="543.00" y1="73.20" x2="547.00" y2="73.20" stroke="#555" stroke-width="0.6"/>
<line x1="543.00" y1="93.70" x2="547.00" y2="93.70" stroke="#555" stroke-width="0.6"/>
<circle cx="512.30" cy="124.50" r="1.50" fill="#111"/>
<circle cx="515.00" cy="123.50" r="1.50" fill="#111"/>
<circle cx="517.80" cy="124.50" r="1.50" fill="#111"/>
<circle cx="530.20" cy="52.60" r="1.50" fill="#111"/>
<circle cx="530.20" cy="57.00" r="1.50" fill="#111"/>
<circle cx="530.20" cy="61.70" r="1.50" fill="#111"/>
<circle cx="541.20" cy="76.20" r="1.50" fill="#111"/>
<circle cx="548.20" cy="78.00" r="1.50" fill="#111"/>
<circle cx="544.70" cy="92.90" r="1.50" fill="#111"/>
<text x="517.60" y="39.60" font-size="6.4" textLength="25.40" lengthAdjust="spacingAndGlyphs">0.0002</text>
<line x1="515.00" y1="41.50" x2="545.00" y2="41.50" stroke="#c0c0c0" stroke-width="0.7"/>
<text x="506.00" y="49.60" font-size="6.4" textLength="26.40" lengthAdjust="spacingAndGlyphs">&lt;0.0001</text>
<text x="535.00" y="49.60" font-size="6.4" textLength="22.50" lengthAdjust="spacingAndGlyphs">0.0018</text>
<line x1="513.00" y1="52.20" x2="530.00" y2="52.20" stroke="#c0c0c0" stroke-width="0.7"/>
<line x1="536.00" y1="52.20" x2="547.00" y2="52.20" stroke="#c0c0c0" stroke-width="0.7"/>
<text x="519.00" y="137.80" font-size="7.4" text-anchor="end" textLength="20.81" lengthAdjust="spacingAndGlyphs" transform="rotate(-45 519.00 137.80)">Naive</text>
<text x="534.00" y="137.80" font-size="7.4" text-anchor="end" textLength="16.73" lengthAdjust="spacingAndGlyphs" transform="rotate(-45 534.00 137.80)">TCR</text>
<text x="549.50" y="137.80" font-size="7.4" text-anchor="end" textLength="15.38" lengthAdjust="spacingAndGlyphs" transform="rotate(-45 549.50 137.80)">CTL</text>
<line x1="594.80" y1="45.20" x2="594.80" y2="130.50" stroke="#3a3a3a" stroke-width="0.7"/>
<line x1="592.60" y1="130.50" x2="594.80" y2="130.50" stroke="#3a3a3a" stroke-width="0.7"/>
<text x="589.60" y="133.38" font-size="8.0" text-anchor="end" textLength="4.63" lengthAdjust="spacingAndGlyphs" stroke="#231f20" stroke-width="0.05">0</text>
<line x1="592.60" y1="102.00" x2="594.80" y2="102.00" stroke="#3a3a3a" stroke-width="0.7"/>
<text x="589.60" y="104.88" font-size="8.0" text-anchor="end" textLength="9.25" lengthAdjust="spacingAndGlyphs" stroke="#231f20" stroke-width="0.05">50</text>
<line x1="592.60" y1="73.60" x2="594.80" y2="73.60" stroke="#3a3a3a" stroke-width="0.7"/>
<text x="589.60" y="76.48" font-size="8.0" text-anchor="end" textLength="13.88" lengthAdjust="spacingAndGlyphs" stroke="#231f20" stroke-width="0.05">100</text>
<line x1="592.60" y1="45.20" x2="594.80" y2="45.20" stroke="#3a3a3a" stroke-width="0.7"/>
<text x="589.60" y="48.08" font-size="8.0" text-anchor="end" textLength="13.88" lengthAdjust="spacingAndGlyphs" stroke="#231f20" stroke-width="0.05">150</text>
<line x1="594.80" y1="130.50" x2="644.70" y2="130.50" stroke="#3a3a3a" stroke-width="0.7"/>
<line x1="605.00" y1="130.50" x2="605.00" y2="132.50" stroke="#3a3a3a" stroke-width="0.6"/>
<line x1="620.00" y1="130.50" x2="620.00" y2="132.50" stroke="#3a3a3a" stroke-width="0.6"/>
<line x1="634.50" y1="130.50" x2="634.50" y2="132.50" stroke="#3a3a3a" stroke-width="0.6"/>
<text x="568.50" y="90.70" font-size="8.6" text-anchor="middle" textLength="26.28" lengthAdjust="spacingAndGlyphs" transform="rotate(-90 568.50 87.60)" stroke="#231f20" stroke-width="0.05">FPKM</text>
<rect x="600.40" y="73.60" width="9.30" height="56.90" fill="#d9d9d9" stroke="#3a3a3a" stroke-width="0.7"/>
<rect x="615.30" y="107.20" width="9.30" height="23.30" fill="#d9d9d9" stroke="#3a3a3a" stroke-width="0.7"/>
<rect x="629.80" y="66.60" width="9.30" height="63.90" fill="#d9d9d9" stroke="#3a3a3a" stroke-width="0.7"/>
<line x1="605.00" y1="68.00" x2="605.00" y2="78.00" stroke="#444" stroke-width="0.6"/>
<line x1="603.00" y1="68.00" x2="607.00" y2="68.00" stroke="#444" stroke-width="0.6"/>
<line x1="603.00" y1="78.00" x2="607.00" y2="78.00" stroke="#444" stroke-width="0.6"/>
<line x1="620.00" y1="101.00" x2="620.00" y2="109.00" stroke="#444" stroke-width="0.6"/>
<line x1="618.00" y1="101.00" x2="622.00" y2="101.00" stroke="#444" stroke-width="0.6"/>
<line x1="618.00" y1="109.00" x2="622.00" y2="109.00" stroke="#444" stroke-width="0.6"/>
<circle cx="605.00" cy="69.00" r="1.50" fill="#111"/>
<circle cx="605.00" cy="73.50" r="1.50" fill="#111"/>
<circle cx="605.00" cy="77.00" r="1.50" fill="#111"/>
<circle cx="620.00" cy="101.50" r="1.50" fill="#111"/>
<circle cx="617.00" cy="108.00" r="1.50" fill="#111"/>
<circle cx="622.50" cy="107.00" r="1.50" fill="#111"/>
<circle cx="630.80" cy="67.00" r="1.50" fill="#111"/>
<circle cx="634.20" cy="65.60" r="1.50" fill="#111"/>
<circle cx="637.60" cy="66.60" r="1.50" fill="#111"/>
<line x1="627.20" y1="43.00" x2="627.20" y2="130.50" stroke="#222" stroke-width="0.9" stroke-dasharray="2.2,1.4"/>
<text x="601.00" y="43.30" font-size="6.4" textLength="23.20" lengthAdjust="spacingAndGlyphs">0.0001</text>
<line x1="605.00" y1="45.50" x2="620.00" y2="45.50" stroke="#b0b0b0" stroke-width="0.7"/>
<text x="610.00" y="137.80" font-size="7.4" text-anchor="end" textLength="20.81" lengthAdjust="spacingAndGlyphs" transform="rotate(-45 610.00 137.80)">Naive</text>
<text x="625.00" y="137.80" font-size="7.4" text-anchor="end" textLength="16.73" lengthAdjust="spacingAndGlyphs" transform="rotate(-45 625.00 137.80)">TCR</text>
<text x="640.00" y="137.80" font-size="7.4" text-anchor="end" textLength="15.38" lengthAdjust="spacingAndGlyphs" transform="rotate(-45 640.00 137.80)">CTL</text>
<text x="0.4" y="179.7" font-size="14.5" font-weight="bold" fill="#000" textLength="8.40" lengthAdjust="spacingAndGlyphs" stroke="#000" stroke-width="0.05">e</text>
<line x1="33.60" y1="191.30" x2="33.60" y2="276.20" stroke="#3a3a3a" stroke-width="0.7"/>
<line x1="31.40" y1="255.30" x2="33.60" y2="255.30" stroke="#3a3a3a" stroke-width="0.7"/>
<text x="28.40" y="258.18" font-size="8.0" text-anchor="end" textLength="4.63" lengthAdjust="spacingAndGlyphs" stroke="#231f20" stroke-width="0.05">0</text>
<line x1="31.40" y1="234.00" x2="33.60" y2="234.00" stroke="#3a3a3a" stroke-width="0.7"/>
<text x="28.40" y="236.88" font-size="8.0" text-anchor="end" textLength="9.25" lengthAdjust="spacingAndGlyphs" stroke="#231f20" stroke-width="0.05">20</text>
<line x1="31.40" y1="212.60" x2="33.60" y2="212.60" stroke="#3a3a3a" stroke-width="0.7"/>
<text x="28.40" y="215.48" font-size="8.0" text-anchor="end" textLength="9.25" lengthAdjust="spacingAndGlyphs" stroke="#231f20" stroke-width="0.05">40</text>
<line x1="31.40" y1="191.30" x2="33.60" y2="191.30" stroke="#3a3a3a" stroke-width="0.7"/>
<text x="28.40" y="194.18" font-size="8.0" text-anchor="end" textLength="9.25" lengthAdjust="spacingAndGlyphs" stroke="#231f20" stroke-width="0.05">60</text>
<line x1="31.60" y1="276.20" x2="33.60" y2="276.20" stroke="#3a3a3a" stroke-width="0.7"/>
<line x1="33.60" y1="276.20" x2="118.60" y2="276.20" stroke="#3a3a3a" stroke-width="0.7"/>
<line x1="33.60" y1="255.30" x2="118.60" y2="255.30" stroke="#333" stroke-width="0.8" stroke-dasharray="3,2"/>
<text x="51.60" y="181.10" font-size="8.6" textLength="46.70" lengthAdjust="spacingAndGlyphs" stroke="#231f20" stroke-width="0.05">MAP1LC3B</text>
<text x="61.00" y="192.18" font-size="6.6" textLength="20.00" lengthAdjust="spacingAndGlyphs">0.046</text>
<line x1="41.40" y1="195.10" x2="99.00" y2="195.10" stroke="#c8c8c8" stroke-width="0.7"/>
<text x="40.40" y="285.14" font-size="7.6" text-anchor="middle" textLength="4.65" lengthAdjust="spacingAndGlyphs" stroke="#231f20" stroke-width="0.05">0</text>
<text x="51.20" y="285.14" font-size="7.6" text-anchor="middle" textLength="4.65" lengthAdjust="spacingAndGlyphs" stroke="#231f20" stroke-width="0.05">1</text>
<text x="64.00" y="285.14" font-size="7.6" text-anchor="middle" textLength="4.65" lengthAdjust="spacingAndGlyphs" stroke="#231f20" stroke-width="0.05">3</text>
<text x="75.50" y="285.14" font-size="7.6" text-anchor="middle" textLength="4.65" lengthAdjust="spacingAndGlyphs" stroke="#231f20" stroke-width="0.05">6</text>
<text x="87.30" y="285.14" font-size="7.6" text-anchor="middle" textLength="4.65" lengthAdjust="spacingAndGlyphs" stroke="#231f20" stroke-width="0.05">9</text>
<text x="97.70" y="285.14" font-size="7.6" text-anchor="middle" textLength="9.30" lengthAdjust="spacingAndGlyphs" stroke="#231f20" stroke-width="0.05">12</text>
<text x="110.00" y="285.14" font-size="7.6" text-anchor="middle" textLength="9.30" lengthAdjust="spacingAndGlyphs" stroke="#231f20" stroke-width="0.05">18</text>
<text x="30.70" y="297.64" font-size="9.0" textLength="93.60" lengthAdjust="spacingAndGlyphs" stroke="#231f20" stroke-width="0.05">Antigen activation (h)</text>
<text x="8.20" y="238.24" font-size="9.0" text-anchor="middle" textLength="93.00" lengthAdjust="spacingAndGlyphs" transform="rotate(-90 8.20 235.00)" stroke="#231f20" stroke-width="0.05">Copies per cell (×10<tspan dy="-2.8" font-size="5">3</tspan><tspan dy="2.8">)</tspan></text>
<circle cx="40.40" cy="251.50" r="1.45" fill="#111"/>
<circle cx="38.40" cy="255.30" r="1.45" fill="#111"/>
<circle cx="42.70" cy="255.30" r="1.45" fill="#111"/>
<circle cx="51.20" cy="251.50" r="1.45" fill="#111"/>
<circle cx="49.20" cy="255.30" r="1.45" fill="#111"/>
<circle cx="53.50" cy="255.30" r="1.45" fill="#111"/>
<path d="M62.80,248.00 L61.80,249.50 L62.80,251.50 L65.20,251.50 L66.20,249.50 L65.20,248.00 Z" fill="#e86a6a" stroke="#222" stroke-width="0.6"/>
<circle cx="62.50" cy="248.50" r="1.45" fill="#111"/>
<circle cx="65.60" cy="249.80" r="1.45" fill="#111"/>
<circle cx="62.80" cy="251.60" r="1.45" fill="#111"/>
<path d="M74.50,213.00 L73.50,215.00 L73.30,222.00 L72.50,230.00 L71.20,238.00 L71.30,243.00 L74.00,247.00 L77.00,247.00 L79.70,243.00 L79.80,238.00 L78.50,230.00 L77.70,222.00 L77.50,215.00 L76.50,213.00 Z" fill="#d68ac4" stroke="#222" stroke-width="0.6"/>
<circle cx="75.50" cy="213.00" r="1.45" fill="#111"/>
<circle cx="75.50" cy="234.50" r="1.45" fill="#111"/>
<circle cx="75.50" cy="247.00" r="1.45" fill="#111"/>
<path d="M86.50,228.00 L86.00,233.00 L85.10,238.00 L84.50,242.00 L84.90,245.00 L89.70,245.00 L90.10,242.00 L89.50,238.00 L88.60,233.00 L88.10,228.00 Z" fill="#d68ac4" stroke="#222" stroke-width="0.6"/>
<circle cx="87.30" cy="228.00" r="1.45" fill="#111"/>
<circle cx="85.50" cy="245.00" r="1.45" fill="#111"/>
<circle cx="89.50" cy="244.50" r="1.45" fill="#111"/>
<path d="M95.20,224.00 L94.50,226.00 L95.20,229.00 L96.20,234.00 L96.70,238.00 L97.10,241.00 L98.30,241.00 L98.70,238.00 L99.20,234.00 L100.20,229.00 L100.90,226.00 L100.20,224.00 Z" fill="#7452ad" stroke="#222" stroke-width="0.6"/>
<circle cx="97.70" cy="224.50" r="1.45" fill="#111"/>
<circle cx="97.70" cy="227.00" r="1.45" fill="#111"/>
<circle cx="97.70" cy="241.00" r="1.45" fill="#111"/>
<path d="M109.40,240.50 L109.00,245.00 L108.00,250.00 L107.40,253.00 L107.60,255.30 L112.40,255.30 L112.60,253.00 L112.00,250.00 L111.00,245.00 L110.60,240.50 Z" fill="#2b4fa3" stroke="#222" stroke-width="0.6"/>
<circle cx="110.30" cy="240.50" r="1.45" fill="#111"/>
<circle cx="108.00" cy="255.30" r="1.45" fill="#111"/>
<circle cx="112.50" cy="255.30" r="1.45" fill="#111"/>
<line x1="163.50" y1="191.30" x2="163.50" y2="276.20" stroke="#3a3a3a" stroke-width="0.7"/>
<line x1="161.30" y1="255.30" x2="163.50" y2="255.30" stroke="#3a3a3a" stroke-width="0.7"/>
<text x="158.30" y="258.18" font-size="8.0" text-anchor="end" textLength="4.63" lengthAdjust="spacingAndGlyphs" stroke="#231f20" stroke-width="0.05">0</text>
<line x1="161.30" y1="234.00" x2="163.50" y2="234.00" stroke="#3a3a3a" stroke-width="0.7"/>
<text x="158.30" y="236.88" font-size="8.0" text-anchor="end" textLength="13.88" lengthAdjust="spacingAndGlyphs" stroke="#231f20" stroke-width="0.05">100</text>
<line x1="161.30" y1="212.60" x2="163.50" y2="212.60" stroke="#3a3a3a" stroke-width="0.7"/>
<text x="158.30" y="215.48" font-size="8.0" text-anchor="end" textLength="13.88" lengthAdjust="spacingAndGlyphs" stroke="#231f20" stroke-width="0.05">200</text>
<line x1="161.30" y1="191.30" x2="163.50" y2="191.30" stroke="#3a3a3a" stroke-width="0.7"/>
<text x="158.30" y="194.18" font-size="8.0" text-anchor="end" textLength="13.88" lengthAdjust="spacingAndGlyphs" stroke="#231f20" stroke-width="0.05">300</text>
<line x1="161.50" y1="276.20" x2="163.50" y2="276.20" stroke="#3a3a3a" stroke-width="0.7"/>
<line x1="163.50" y1="276.20" x2="248.00" y2="276.20" stroke="#3a3a3a" stroke-width="0.7"/>
<line x1="163.50" y1="255.30" x2="248.00" y2="255.30" stroke="#333" stroke-width="0.8" stroke-dasharray="3,2"/>
<text x="177.80" y="181.10" font-size="8.6" textLength="52.50" lengthAdjust="spacingAndGlyphs" stroke="#231f20" stroke-width="0.05">GABARAPL2</text>
<text x="193.70" y="192.18" font-size="6.6" textLength="25.30" lengthAdjust="spacingAndGlyphs">0.0006</text>
<line x1="170.50" y1="195.10" x2="239.80" y2="195.10" stroke="#c8c8c8" stroke-width="0.7"/>
<text x="170.50" y="285.14" font-size="7.6" text-anchor="middle" textLength="4.65" lengthAdjust="spacingAndGlyphs" stroke="#231f20" stroke-width="0.05">0</text>
<text x="181.40" y="285.14" font-size="7.6" text-anchor="middle" textLength="4.65" lengthAdjust="spacingAndGlyphs" stroke="#231f20" stroke-width="0.05">1</text>
<text x="194.30" y="285.14" font-size="7.6" text-anchor="middle" textLength="4.65" lengthAdjust="spacingAndGlyphs" stroke="#231f20" stroke-width="0.05">3</text>
<text x="206.00" y="285.14" font-size="7.6" text-anchor="middle" textLength="4.65" lengthAdjust="spacingAndGlyphs" stroke="#231f20" stroke-width="0.05">6</text>
<text x="217.40" y="285.14" font-size="7.6" text-anchor="middle" textLength="4.65" lengthAdjust="spacingAndGlyphs" stroke="#231f20" stroke-width="0.05">9</text>
<text x="227.50" y="285.14" font-size="7.6" text-anchor="middle" textLength="9.30" lengthAdjust="spacingAndGlyphs" stroke="#231f20" stroke-width="0.05">12</text>
<text x="239.80" y="285.14" font-size="7.6" text-anchor="middle" textLength="9.30" lengthAdjust="spacingAndGlyphs" stroke="#231f20" stroke-width="0.05">18</text>
<text x="160.00" y="297.64" font-size="9.0" textLength="92.50" lengthAdjust="spacingAndGlyphs" stroke="#231f20" stroke-width="0.05">Antigen activation (h)</text>
<text x="133.30" y="238.24" font-size="9.0" text-anchor="middle" textLength="93.00" lengthAdjust="spacingAndGlyphs" transform="rotate(-90 133.30 235.00)" stroke="#231f20" stroke-width="0.05">Copies per cell (×10<tspan dy="-2.8" font-size="5">3</tspan><tspan dy="2.8">)</tspan></text>
<circle cx="168.70" cy="253.60" r="1.45" fill="#111"/>
<circle cx="171.00" cy="253.20" r="1.45" fill="#111"/>
<circle cx="173.00" cy="254.00" r="1.45" fill="#111"/>
<circle cx="180.00" cy="245.80" r="1.45" fill="#111"/>
<circle cx="184.00" cy="247.60" r="1.45" fill="#111"/>
<circle cx="181.60" cy="251.20" r="1.45" fill="#111"/>
<path d="M193.30,249.50 L192.80,252.00 L193.10,254.00 L195.50,254.00 L195.80,252.00 L195.30,249.50 Z" fill="#e86a6a" stroke="#222" stroke-width="0.6"/>
<circle cx="193.00" cy="249.60" r="1.45" fill="#111"/>
<circle cx="194.00" cy="254.00" r="1.45" fill="#111"/>
<circle cx="196.30" cy="253.60" r="1.45" fill="#111"/>
<path d="M203.80,243.00 L203.40,246.00 L204.00,250.00 L208.00,250.00 L208.60,246.00 L208.20,243.00 Z" fill="#d68ac4" stroke="#222" stroke-width="0.6"/>
<circle cx="204.50" cy="243.50" r="1.45" fill="#111"/>
<circle cx="208.00" cy="245.50" r="1.45" fill="#111"/>
<circle cx="206.50" cy="249.50" r="1.45" fill="#111"/>
<path d="M216.60,236.00 L216.40,240.00 L215.60,245.00 L214.60,251.00 L220.20,251.00 L219.20,245.00 L218.40,240.00 L218.20,236.00 Z" fill="#d68ac4" stroke="#222" stroke-width="0.6"/>
<circle cx="217.40" cy="236.50" r="1.45" fill="#111"/>
<circle cx="215.50" cy="251.00" r="1.45" fill="#111"/>
<circle cx="219.50" cy="251.00" r="1.45" fill="#111"/>
<path d="M224.90,237.00 L225.90,241.00 L226.70,246.00 L228.30,246.00 L229.10,241.00 L230.10,237.00 Z" fill="#7452ad" stroke="#222" stroke-width="0.6"/>
<circle cx="226.00" cy="237.50" r="1.45" fill="#111"/>
<circle cx="229.00" cy="238.00" r="1.45" fill="#111"/>
<circle cx="227.00" cy="245.50" r="1.45" fill="#111"/>
<path d="M238.30,204.00 L237.60,210.00 L236.90,220.00 L236.90,228.00 L237.60,234.00 L242.00,234.00 L242.70,228.00 L242.70,220.00 L242.00,210.00 L241.30,204.00 Z" fill="#2b4fa3" stroke="#222" stroke-width="0.6"/>
<circle cx="239.80" cy="204.50" r="1.45" fill="#111"/>
<circle cx="239.80" cy="221.50" r="1.45" fill="#111"/>
<circle cx="239.80" cy="233.50" r="1.45" fill="#111"/>
<line x1="286.00" y1="191.30" x2="286.00" y2="276.20" stroke="#3a3a3a" stroke-width="0.7"/>
<line x1="283.80" y1="255.30" x2="286.00" y2="255.30" stroke="#3a3a3a" stroke-width="0.7"/>
<text x="280.80" y="258.18" font-size="8.0" text-anchor="end" textLength="4.63" lengthAdjust="spacingAndGlyphs" stroke="#231f20" stroke-width="0.05">0</text>
<line x1="283.80" y1="234.00" x2="286.00" y2="234.00" stroke="#3a3a3a" stroke-width="0.7"/>
<text x="280.80" y="236.88" font-size="8.0" text-anchor="end" textLength="9.25" lengthAdjust="spacingAndGlyphs" stroke="#231f20" stroke-width="0.05">20</text>
<line x1="283.80" y1="212.60" x2="286.00" y2="212.60" stroke="#3a3a3a" stroke-width="0.7"/>
<text x="280.80" y="215.48" font-size="8.0" text-anchor="end" textLength="9.25" lengthAdjust="spacingAndGlyphs" stroke="#231f20" stroke-width="0.05">40</text>
<line x1="283.80" y1="191.30" x2="286.00" y2="191.30" stroke="#3a3a3a" stroke-width="0.7"/>
<text x="280.80" y="194.18" font-size="8.0" text-anchor="end" textLength="9.25" lengthAdjust="spacingAndGlyphs" stroke="#231f20" stroke-width="0.05">60</text>
<line x1="284.00" y1="276.20" x2="286.00" y2="276.20" stroke="#3a3a3a" stroke-width="0.7"/>
<line x1="286.00" y1="276.20" x2="371.50" y2="276.20" stroke="#3a3a3a" stroke-width="0.7"/>
<line x1="286.00" y1="255.30" x2="371.50" y2="255.30" stroke="#333" stroke-width="0.8" stroke-dasharray="3,2"/>
<text x="310.40" y="181.10" font-size="8.6" textLength="35.40" lengthAdjust="spacingAndGlyphs" stroke="#231f20" stroke-width="0.05">SQSTM1</text>
<text x="316.80" y="192.18" font-size="6.6" textLength="27.20" lengthAdjust="spacingAndGlyphs">&lt;0.0001</text>
<line x1="294.60" y1="195.10" x2="363.90" y2="195.10" stroke="#c8c8c8" stroke-width="0.7"/>
<text x="294.20" y="285.14" font-size="7.6" text-anchor="middle" textLength="4.65" lengthAdjust="spacingAndGlyphs" stroke="#231f20" stroke-width="0.05">0</text>
<text x="305.40" y="285.14" font-size="7.6" text-anchor="middle" textLength="4.65" lengthAdjust="spacingAndGlyphs" stroke="#231f20" stroke-width="0.05">1</text>
<text x="317.80" y="285.14" font-size="7.6" text-anchor="middle" textLength="4.65" lengthAdjust="spacingAndGlyphs" stroke="#231f20" stroke-width="0.05">3</text>
<text x="329.70" y="285.14" font-size="7.6" text-anchor="middle" textLength="4.65" lengthAdjust="spacingAndGlyphs" stroke="#231f20" stroke-width="0.05">6</text>
<text x="341.50" y="285.14" font-size="7.6" text-anchor="middle" textLength="4.65" lengthAdjust="spacingAndGlyphs" stroke="#231f20" stroke-width="0.05">9</text>
<text x="352.00" y="285.14" font-size="7.6" text-anchor="middle" textLength="9.30" lengthAdjust="spacingAndGlyphs" stroke="#231f20" stroke-width="0.05">12</text>
<text x="363.90" y="285.14" font-size="7.6" text-anchor="middle" textLength="9.30" lengthAdjust="spacingAndGlyphs" stroke="#231f20" stroke-width="0.05">18</text>
<text x="284.20" y="297.64" font-size="9.0" textLength="92.60" lengthAdjust="spacingAndGlyphs" stroke="#231f20" stroke-width="0.05">Antigen activation (h)</text>
<text x="260.30" y="238.24" font-size="9.0" text-anchor="middle" textLength="93.00" lengthAdjust="spacingAndGlyphs" transform="rotate(-90 260.30 235.00)" stroke="#231f20" stroke-width="0.05">Copies per cell (×10<tspan dy="-2.8" font-size="5">3</tspan><tspan dy="2.8">)</tspan></text>
<circle cx="293.00" cy="252.60" r="1.45" fill="#111"/>
<circle cx="295.00" cy="252.10" r="1.45" fill="#111"/>
<circle cx="297.00" cy="252.60" r="1.45" fill="#111"/>
<circle cx="304.00" cy="253.60" r="1.45" fill="#111"/>
<circle cx="306.00" cy="252.10" r="1.45" fill="#111"/>
<circle cx="308.00" cy="252.60" r="1.45" fill="#111"/>
<path d="M317.00,246.50 L316.60,249.00 L316.80,250.50 L318.80,250.50 L319.00,249.00 L318.60,246.50 Z" fill="#e86a6a" stroke="#222" stroke-width="0.6"/>
<circle cx="317.80" cy="246.60" r="1.45" fill="#111"/>
<circle cx="316.00" cy="250.00" r="1.45" fill="#111"/>
<circle cx="319.50" cy="250.00" r="1.45" fill="#111"/>
<path d="M327.10,241.00 L328.10,244.00 L328.70,248.00 L328.90,252.00 L330.50,252.00 L330.70,248.00 L331.30,244.00 L332.30,241.00 Z" fill="#d68ac4" stroke="#222" stroke-width="0.6"/>
<circle cx="327.50" cy="241.50" r="1.45" fill="#111"/>
<circle cx="331.00" cy="243.00" r="1.45" fill="#111"/>
<circle cx="328.50" cy="252.00" r="1.45" fill="#111"/>
<path d="M340.00,242.00 L339.30,243.50 L340.30,245.50 L342.70,245.50 L343.70,243.50 L343.00,242.00 Z" fill="#d68ac4" stroke="#222" stroke-width="0.6"/>
<circle cx="339.50" cy="242.20" r="1.45" fill="#111"/>
<circle cx="343.00" cy="243.60" r="1.45" fill="#111"/>
<circle cx="340.00" cy="245.60" r="1.45" fill="#111"/>
<path d="M350.40,215.00 L350.40,220.00 L349.40,228.00 L349.10,233.00 L350.00,236.00 L354.00,236.00 L354.90,233.00 L354.60,228.00 L353.60,220.00 L353.60,215.00 Z" fill="#7452ad" stroke="#222" stroke-width="0.6"/>
<circle cx="352.00" cy="216.00" r="1.45" fill="#111"/>
<circle cx="352.00" cy="229.00" r="1.45" fill="#111"/>
<circle cx="352.00" cy="235.00" r="1.45" fill="#111"/>
<path d="M363.10,221.50 L362.40,223.00 L362.90,224.50 L364.90,224.50 L365.40,223.00 L364.70,221.50 Z" fill="#2b4fa3" stroke="#222" stroke-width="0.6"/>
<circle cx="363.90" cy="221.60" r="1.45" fill="#111"/>
<circle cx="362.00" cy="224.60" r="1.45" fill="#111"/>
<circle cx="366.00" cy="224.60" r="1.45" fill="#111"/>
<text x="379.7" y="179.9" font-size="14.5" font-weight="bold" fill="#000" textLength="4.90" lengthAdjust="spacingAndGlyphs" stroke="#000" stroke-width="0.05">f</text>
<rect x="390.60" y="172.10" width="293.40" height="123.90" fill="none" stroke="#aaaaaa" stroke-width="0.8"/>
<text x="413.50" y="186.17" font-size="8.8" textLength="61.50" lengthAdjust="spacingAndGlyphs" stroke="#231f20" stroke-width="0.05">No autophagy</text>
<line x1="425.90" y1="198.00" x2="461.50" y2="198.00" stroke="#111" stroke-width="1.0"/>
<ellipse cx="415.9" cy="198" rx="10.5" ry="5" fill="#dc1c24" stroke="#333" stroke-width="0.5"/>
<ellipse cx="443.2" cy="198" rx="10.5" ry="5" fill="#3aaa35" stroke="#333" stroke-width="0.5"/>
<ellipse cx="471.5" cy="198" rx="10.5" ry="5" fill="#fff" stroke="#333" stroke-width="0.5"/>
<text x="415.90" y="199.87" font-size="5.2" text-anchor="middle" fill="#4a0000" textLength="19.00" lengthAdjust="spacingAndGlyphs">mCherry</text>
<text x="443.20" y="199.87" font-size="5.2" text-anchor="middle" fill="#143a14" textLength="11.76" lengthAdjust="spacingAndGlyphs">GFP</text>
<text x="471.50" y="199.87" font-size="5.2" text-anchor="middle" fill="#333" textLength="13.67" lengthAdjust="spacingAndGlyphs">LC3b</text>
<line x1="527.50" y1="198.00" x2="562.90" y2="198.00" stroke="#111" stroke-width="1.0"/>
<ellipse cx="517.5" cy="198" rx="10.5" ry="5" fill="#dc1c24" stroke="#333" stroke-width="0.5"/>
<ellipse cx="544.9" cy="198" rx="10.5" ry="5" fill="#cfe8c8" stroke="#333" stroke-width="0.5"/>
<ellipse cx="572.9" cy="198" rx="10.5" ry="5" fill="#fff" stroke="#333" stroke-width="0.5"/>
<text x="517.50" y="199.87" font-size="5.2" text-anchor="middle" fill="#4a0000" textLength="19.00" lengthAdjust="spacingAndGlyphs">mCherry</text>
<text x="544.90" y="199.87" font-size="5.2" text-anchor="middle" fill="#143a14" textLength="11.76" lengthAdjust="spacingAndGlyphs">GFP</text>
<text x="572.90" y="199.87" font-size="5.2" text-anchor="middle" fill="#333" textLength="13.67" lengthAdjust="spacingAndGlyphs">LC3b</text>
<line x1="404.20" y1="276.80" x2="467.70" y2="213.30" stroke="#888888" stroke-width="0.7" stroke-dasharray="2.2,2"/>
<line x1="404.20" y1="276.80" x2="404.20" y2="215.40" stroke="#4a5876" stroke-width="1.0"/>
<path d="M404.20,211.90 L406.00,215.40 L402.40,215.40 Z" fill="#4a5876"/>
<line x1="404.20" y1="276.80" x2="484.10" y2="276.80" stroke="#4a5876" stroke-width="1.0"/>
<path d="M487.60,276.80 L484.10,278.60 L484.10,275.00 Z" fill="#4a5876"/>
<line x1="503.50" y1="276.80" x2="567.00" y2="213.30" stroke="#888888" stroke-width="0.7" stroke-dasharray="2.2,2"/>
<line x1="503.50" y1="276.80" x2="503.50" y2="215.40" stroke="#4a5876" stroke-width="1.0"/>
<path d="M503.50,211.90 L505.30,215.40 L501.70,215.40 Z" fill="#4a5876"/>
<line x1="503.50" y1="276.80" x2="581.10" y2="276.80" stroke="#4a5876" stroke-width="1.0"/>
<path d="M584.60,276.80 L581.10,278.60 L581.10,275.00 Z" fill="#4a5876"/>
<ellipse cx="442.75" cy="238.5" rx="31.8" ry="2.1" fill="#f4a81d" stroke="#222" stroke-width="0.6" transform="rotate(-45.3 442.75 238.5)"/>
<path d="M519.80,261.00 L565.20,261.00 L565.20,214.90 Z" fill="#e00000" stroke="#222" stroke-width="0.6"/>
<path d="M519.80,261.00 L565.20,214.90 L565.20,218.60 L523.50,261.00 Z" fill="#f4a81d" stroke="#222" stroke-width="0.5"/>
<text x="397.20" y="246.17" font-size="8.8" text-anchor="middle" textLength="19.90" lengthAdjust="spacingAndGlyphs" transform="rotate(-90 397.20 243.00)" stroke="#231f20" stroke-width="0.05">GFP</text>
<text x="496.80" y="246.17" font-size="8.8" text-anchor="middle" textLength="19.90" lengthAdjust="spacingAndGlyphs" transform="rotate(-90 496.80 243.00)" stroke="#231f20" stroke-width="0.05">GFP</text>
<text x="426.00" y="289.17" font-size="8.8" textLength="37.80" lengthAdjust="spacingAndGlyphs" stroke="#231f20" stroke-width="0.05">mCherry</text>
<text x="521.70" y="186.17" font-size="8.8" textLength="47.30" lengthAdjust="spacingAndGlyphs" stroke="#231f20" stroke-width="0.05">Autophagy</text>
<text x="525.40" y="289.17" font-size="8.8" textLength="38.10" lengthAdjust="spacingAndGlyphs" stroke="#231f20" stroke-width="0.05">mCherry</text>
<line x1="605.10" y1="198.50" x2="605.10" y2="271.00" stroke="#444" stroke-width="0.7"/>
<line x1="605.10" y1="271.00" x2="678.70" y2="271.00" stroke="#444" stroke-width="0.7"/>
<path d="M613.00,270.89 L613.55,270.83 L614.10,270.74 L614.65,270.62 L615.20,270.45 L615.75,270.21 L616.30,269.88 L616.85,269.43 L617.40,268.85 L617.95,268.08 L618.50,267.09 L619.05,265.85 L619.60,264.31 L620.15,262.43 L620.70,260.18 L621.25,257.53 L621.80,254.47 L622.35,251.01 L622.90,247.16 L623.45,242.97 L624.00,238.52 L624.55,233.89 L625.10,229.20 L625.65,224.59 L626.20,220.21 L626.75,216.19 L627.30,212.70 L627.85,209.87 L628.40,207.81 L628.95,206.61 L629.50,206.32 L630.05,206.94 L630.60,208.46 L631.15,210.82 L631.70,213.90 L632.25,217.60 L632.80,221.77 L633.35,226.25 L633.90,230.90 L634.45,235.58 L635.00,240.16 L635.55,244.53 L636.10,248.60 L636.65,252.31 L637.20,255.63 L637.75,258.54 L638.30,261.05 L638.85,263.16 L639.40,264.91 L639.95,266.34 L640.50,267.48 L641.05,268.38 L641.60,269.08 L642.15,269.61 L642.70,270.01 L643.25,270.30 L643.80,270.52 L644.35,270.67 L644.90,270.78 L645.45,270.85 L646.00,270.90" fill="none" stroke="#e8464b" stroke-width="0.7"/>
<path d="M633.00,270.93 L633.57,270.89 L634.13,270.83 L634.70,270.74 L635.27,270.62 L635.83,270.44 L636.40,270.18 L636.97,269.83 L637.53,269.36 L638.10,268.72 L638.67,267.89 L639.23,266.82 L639.80,265.46 L640.37,263.78 L640.93,261.73 L641.50,259.27 L642.07,256.38 L642.63,253.05 L643.20,249.30 L643.77,245.17 L644.33,240.70 L644.90,236.01 L645.47,231.19 L646.03,226.39 L646.60,221.77 L647.17,217.48 L647.73,213.70 L648.30,210.57 L648.87,208.23 L649.43,206.79 L650.00,206.30 L650.57,206.79 L651.13,208.23 L651.70,210.57 L652.27,213.70 L652.83,217.48 L653.40,221.77 L653.97,226.39 L654.53,231.19 L655.10,236.01 L655.67,240.70 L656.23,245.17 L656.80,249.30 L657.37,253.05 L657.93,256.38 L658.50,259.27 L659.07,261.73 L659.63,263.78 L660.20,265.46 L660.77,266.82 L661.33,267.89 L661.90,268.72 L662.47,269.36 L663.03,269.83 L663.60,270.18 L664.17,270.44 L664.73,270.62 L665.30,270.74 L665.87,270.83 L666.43,270.89 L667.00,270.93" fill="none" stroke="#4a62b0" stroke-width="0.7"/>
<text x="626.60" y="187.16" font-size="7.4" fill="#e8323a" textLength="13.40" lengthAdjust="spacingAndGlyphs">Low</text>
<text x="606.80" y="196.06" font-size="7.4" fill="#e8323a" textLength="35.00" lengthAdjust="spacingAndGlyphs">autophagy</text>
<text x="646.00" y="187.16" font-size="7.4" fill="#4a62b0" textLength="15.20" lengthAdjust="spacingAndGlyphs">High</text>
<text x="646.00" y="196.06" font-size="7.4" fill="#4a62b0" textLength="35.00" lengthAdjust="spacingAndGlyphs">autophagy</text>
<text x="598" y="237.7" font-size="8.8" font-weight="bold" text-anchor="middle" textLength="89" lengthAdjust="spacingAndGlyphs" transform="rotate(-90 598 234.5)" stroke="#231f20" stroke-width="0.05">Normalized to mode</text>
<text x="607.20" y="280.47" font-size="8.8" textLength="66.60" lengthAdjust="spacingAndGlyphs" stroke="#231f20" stroke-width="0.05">Autophagy flux</text>
<text x="608.60" y="291.17" font-size="8.8" textLength="65.90" lengthAdjust="spacingAndGlyphs" stroke="#231f20" stroke-width="0.05">(mCherry/GFP)</text>
<text x="0" y="317.9" font-size="14.5" font-weight="bold" fill="#000" textLength="8.00" lengthAdjust="spacingAndGlyphs" stroke="#000" stroke-width="0.05">g</text>
<rect x="27.70" y="324.80" width="73.00" height="73.00" fill="none" stroke="#444" stroke-width="0.8"/>
<line x1="27.70" y1="397.80" x2="100.70" y2="324.80" stroke="#7c7c7c" stroke-width="0.75" stroke-dasharray="3,2"/>
<line x1="26.10" y1="329.80" x2="27.70" y2="329.80" stroke="#444" stroke-width="0.6"/>
<text x="25.00" y="332.39" font-size="7.2" text-anchor="end">10<tspan dy="-2.6" font-size="4.3">5</tspan></text>
<line x1="26.10" y1="345.30" x2="27.70" y2="345.30" stroke="#444" stroke-width="0.6"/>
<text x="25.00" y="347.89" font-size="7.2" text-anchor="end">10<tspan dy="-2.6" font-size="4.3">4</tspan></text>
<line x1="26.10" y1="359.90" x2="27.70" y2="359.90" stroke="#444" stroke-width="0.6"/>
<text x="25.00" y="362.49" font-size="7.2" text-anchor="end">10<tspan dy="-2.6" font-size="4.3">3</tspan></text>
<line x1="26.10" y1="375.30" x2="27.70" y2="375.30" stroke="#444" stroke-width="0.6"/>
<text x="25.00" y="377.89" font-size="7.2" text-anchor="end">10<tspan dy="-2.6" font-size="4.3">2</tspan></text>
<line x1="26.10" y1="389.60" x2="27.70" y2="389.60" stroke="#444" stroke-width="0.6"/>
<text x="25.00" y="392.19" font-size="7.2" text-anchor="end">10<tspan dy="-2.6" font-size="4.3">1</tspan></text>
<path d="M26.6 385.1h1.1M26.6 382.5h1.1M26.6 380.6h1.1M26.6 379.2h1.1M26.6 378.0h1.1M26.6 377.0h1.1M26.6 376.1h1.1M26.6 375.3h1.1M26.6 370.1h1.1M26.6 367.5h1.1M26.6 365.6h1.1M26.6 364.2h1.1M26.6 363.0h1.1M26.6 362.0h1.1M26.6 361.1h1.1M26.6 360.4h1.1M26.6 355.2h1.1M26.6 352.6h1.1M26.6 350.7h1.1M26.6 349.3h1.1M26.6 348.1h1.1M26.6 347.1h1.1M26.6 346.2h1.1M26.6 345.4h1.1M26.6 340.2h1.1M26.6 337.6h1.1M26.6 335.7h1.1M26.6 334.3h1.1M26.6 333.1h1.1M26.6 332.1h1.1M26.6 331.2h1.1M26.6 330.5h1.1M26.6 325.3h1.1" stroke="#444" stroke-width="0.4" fill="none"/>
<path d="M40.0 397.8v1.1M42.6 397.8v1.1M44.4 397.8v1.1M45.8 397.8v1.1M47.0 397.8v1.1M47.9 397.8v1.1M48.8 397.8v1.1M49.5 397.8v1.1M54.6 397.8v1.1M57.2 397.8v1.1M59.0 397.8v1.1M60.4 397.8v1.1M61.6 397.8v1.1M62.5 397.8v1.1M63.4 397.8v1.1M64.1 397.8v1.1M69.2 397.8v1.1M71.8 397.8v1.1M73.6 397.8v1.1M75.0 397.8v1.1M76.2 397.8v1.1M77.1 397.8v1.1M78.0 397.8v1.1M78.7 397.8v1.1M83.8 397.8v1.1M86.4 397.8v1.1M88.2 397.8v1.1M89.6 397.8v1.1M90.8 397.8v1.1M91.7 397.8v1.1M92.6 397.8v1.1M93.3 397.8v1.1M98.4 397.8v1.1" stroke="#444" stroke-width="0.4" fill="none"/>
<line x1="35.60" y1="397.80" x2="35.60" y2="399.40" stroke="#444" stroke-width="0.6"/>
<text x="35.60" y="407.09" font-size="7.2" text-anchor="middle">10<tspan dy="-2.6" font-size="4.3">1</tspan></text>
<line x1="51.70" y1="397.80" x2="51.70" y2="399.40" stroke="#444" stroke-width="0.6"/>
<text x="51.70" y="407.09" font-size="7.2" text-anchor="middle">10<tspan dy="-2.6" font-size="4.3">2</tspan></text>
<line x1="65.70" y1="397.80" x2="65.70" y2="399.40" stroke="#444" stroke-width="0.6"/>
<text x="65.70" y="407.09" font-size="7.2" text-anchor="middle">10<tspan dy="-2.6" font-size="4.3">3</tspan></text>
<line x1="80.30" y1="397.80" x2="80.30" y2="399.40" stroke="#444" stroke-width="0.6"/>
<text x="80.30" y="407.09" font-size="7.2" text-anchor="middle">10<tspan dy="-2.6" font-size="4.3">4</tspan></text>
<line x1="94.00" y1="397.80" x2="94.00" y2="399.40" stroke="#444" stroke-width="0.6"/>
<text x="94.00" y="407.09" font-size="7.2" text-anchor="middle">10<tspan dy="-2.6" font-size="4.3">5</tspan></text>
<rect x="112.40" y="324.80" width="72.10" height="73.00" fill="none" stroke="#444" stroke-width="0.8"/>
<line x1="112.40" y1="397.80" x2="184.50" y2="324.80" stroke="#7c7c7c" stroke-width="0.75" stroke-dasharray="3,2"/>
<line x1="110.80" y1="329.80" x2="112.40" y2="329.80" stroke="#444" stroke-width="0.6"/>
<line x1="110.80" y1="345.30" x2="112.40" y2="345.30" stroke="#444" stroke-width="0.6"/>
<line x1="110.80" y1="359.90" x2="112.40" y2="359.90" stroke="#444" stroke-width="0.6"/>
<line x1="110.80" y1="375.30" x2="112.40" y2="375.30" stroke="#444" stroke-width="0.6"/>
<line x1="110.80" y1="389.60" x2="112.40" y2="389.60" stroke="#444" stroke-width="0.6"/>
<path d="M111.3 385.1h1.1M111.3 382.5h1.1M111.3 380.6h1.1M111.3 379.2h1.1M111.3 378.0h1.1M111.3 377.0h1.1M111.3 376.1h1.1M111.3 375.3h1.1M111.3 370.1h1.1M111.3 367.5h1.1M111.3 365.6h1.1M111.3 364.2h1.1M111.3 363.0h1.1M111.3 362.0h1.1M111.3 361.1h1.1M111.3 360.4h1.1M111.3 355.2h1.1M111.3 352.6h1.1M111.3 350.7h1.1M111.3 349.3h1.1M111.3 348.1h1.1M111.3 347.1h1.1M111.3 346.2h1.1M111.3 345.4h1.1M111.3 340.2h1.1M111.3 337.6h1.1M111.3 335.7h1.1M111.3 334.3h1.1M111.3 333.1h1.1M111.3 332.1h1.1M111.3 331.2h1.1M111.3 330.5h1.1M111.3 325.3h1.1" stroke="#444" stroke-width="0.4" fill="none"/>
<path d="M124.1 397.8v1.1M126.7 397.8v1.1M128.5 397.8v1.1M129.9 397.8v1.1M131.0 397.8v1.1M132.0 397.8v1.1M132.9 397.8v1.1M133.6 397.8v1.1M138.7 397.8v1.1M141.2 397.8v1.1M143.1 397.8v1.1M144.5 397.8v1.1M145.6 397.8v1.1M146.6 397.8v1.1M147.4 397.8v1.1M148.2 397.8v1.1M153.2 397.8v1.1M155.8 397.8v1.1M157.6 397.8v1.1M159.0 397.8v1.1M160.2 397.8v1.1M161.2 397.8v1.1M162.0 397.8v1.1M162.8 397.8v1.1M167.8 397.8v1.1M170.4 397.8v1.1M172.2 397.8v1.1M173.6 397.8v1.1M174.8 397.8v1.1M175.7 397.8v1.1M176.6 397.8v1.1M177.3 397.8v1.1M182.4 397.8v1.1" stroke="#444" stroke-width="0.4" fill="none"/>
<line x1="119.70" y1="397.80" x2="119.70" y2="399.40" stroke="#444" stroke-width="0.6"/>
<text x="119.70" y="407.09" font-size="7.2" text-anchor="middle">10<tspan dy="-2.6" font-size="4.3">1</tspan></text>
<line x1="134.30" y1="397.80" x2="134.30" y2="399.40" stroke="#444" stroke-width="0.6"/>
<text x="134.30" y="407.09" font-size="7.2" text-anchor="middle">10<tspan dy="-2.6" font-size="4.3">2</tspan></text>
<line x1="149.00" y1="397.80" x2="149.00" y2="399.40" stroke="#444" stroke-width="0.6"/>
<text x="149.00" y="407.09" font-size="7.2" text-anchor="middle">10<tspan dy="-2.6" font-size="4.3">3</tspan></text>
<line x1="163.50" y1="397.80" x2="163.50" y2="399.40" stroke="#444" stroke-width="0.6"/>
<text x="163.50" y="407.09" font-size="7.2" text-anchor="middle">10<tspan dy="-2.6" font-size="4.3">4</tspan></text>
<line x1="178.00" y1="397.80" x2="178.00" y2="399.40" stroke="#444" stroke-width="0.6"/>
<text x="178.00" y="407.09" font-size="7.2" text-anchor="middle">10<tspan dy="-2.6" font-size="4.3">5</tspan></text>
<path fill="#7890d0" d="M80.6 372.3h.6v.6h-.6zM53.0 383.3h.6v.6h-.6zM62.8 355.6h.6v.6h-.6zM74.6 365.8h.6v.6h-.6zM53.3 377.8h.6v.6h-.6zM53.3 377.2h.6v.6h-.6zM75.4 373.5h.6v.6h-.6zM63.6 393.1h.6v.6h-.6zM62.6 392.7h.6v.6h-.6zM69.6 389.8h.6v.6h-.6zM73.8 381.2h.6v.6h-.6zM64.4 358.5h.6v.6h-.6zM72.4 365.1h.6v.6h-.6zM69.6 388.9h.6v.6h-.6zM56.3 366.5h.6v.6h-.6zM70.9 386.5h.6v.6h-.6zM62.2 389.7h.6v.6h-.6zM72.7 377.5h.6v.6h-.6zM72.3 380.0h.6v.6h-.6zM68.4 387.1h.6v.6h-.6zM63.3 388.5h.6v.6h-.6zM71.1 367.4h.6v.6h-.6zM56.8 372.1h.6v.6h-.6zM61.0 386.9h.6v.6h-.6zM58.6 383.3h.6v.6h-.6zM71.5 376.3h.6v.6h-.6zM57.6 373.9h.6v.6h-.6zM67.5 385.4h.6v.6h-.6zM61.8 385.7h.6v.6h-.6zM61.7 364.5h.6v.6h-.6zM70.8 370.4h.6v.6h-.6zM70.6 380.2h.6v.6h-.6zM61.4 385.2h.6v.6h-.6zM62.0 364.6h.6v.6h-.6zM71.1 373.4h.6v.6h-.6zM58.3 371.1h.6v.6h-.6zM64.9 364.0h.6v.6h-.6zM58.0 376.7h.6v.6h-.6zM67.7 365.7h.6v.6h-.6zM60.9 383.9h.6v.6h-.6zM58.2 376.5h.6v.6h-.6zM58.6 371.1h.6v.6h-.6zM58.4 372.3h.6v.6h-.6zM70.6 377.6h.6v.6h-.6zM62.3 365.5h.6v.6h-.6zM65.9 365.4h.6v.6h-.6zM64.0 365.4h.6v.6h-.6zM69.0 380.7h.6v.6h-.6zM68.4 381.5h.6v.6h-.6zM65.2 384.1h.6v.6h-.6zM59.6 378.9h.6v.6h-.6zM61.0 381.8h.6v.6h-.6zM66.5 366.8h.6v.6h-.6zM69.6 376.6h.6v.6h-.6zM60.3 370.2h.6v.6h-.6zM69.2 377.7h.6v.6h-.6zM67.5 381.4h.6v.6h-.6zM65.3 382.8h.6v.6h-.6zM68.1 380.1h.6v.6h-.6zM60.7 379.6h.6v.6h-.6zM64.8 367.2h.6v.6h-.6zM64.6 382.7h.6v.6h-.6zM62.1 381.5h.6v.6h-.6zM63.1 367.9h.6v.6h-.6zM68.9 375.5h.6v.6h-.6zM62.0 380.9h.6v.6h-.6zM68.4 372.1h.6v.6h-.6zM61.9 380.6h.6v.6h-.6zM65.0 368.2h.6v.6h-.6zM67.1 379.9h.6v.6h-.6zM62.1 380.2h.6v.6h-.6zM65.4 380.9h.6v.6h-.6zM68.0 376.4h.6v.6h-.6zM68.1 375.2h.6v.6h-.6zM63.7 380.6h.6v.6h-.6zM61.6 377.7h.6v.6h-.6zM67.0 378.6h.6v.6h-.6zM63.6 370.0h.6v.6h-.6zM62.6 378.7h.6v.6h-.6zM62.6 371.9h.6v.6h-.6zM66.6 372.3h.6v.6h-.6zM63.2 371.4h.6v.6h-.6zM63.0 377.3h.6v.6h-.6zM62.5 374.8h.6v.6h-.6zM65.7 377.5h.6v.6h-.6zM64.0 372.7h.6v.6h-.6zM63.7 376.2h.6v.6h-.6zM63.5 375.0h.6v.6h-.6zM65.0 373.8h.6v.6h-.6zM64.5 376.0h.6v.6h-.6z"/>
<path fill="#6a8ad8" d="M57.0 387.2h.9v.9h-.9zM62.7 388.9h.9v.9h-.9zM73.9 373.5h.9v.9h-.9zM72.9 360.2h.9v.9h-.9zM69.3 381.7h.9v.9h-.9zM72.8 371.7h.9v.9h-.9zM72.3 371.8h.9v.9h-.9zM66.7 359.2h.9v.9h-.9zM71.0 376.2h.9v.9h-.9zM70.8 360.7h.9v.9h-.9zM71.7 373.0h.9v.9h-.9zM70.0 377.5h.9v.9h-.9zM64.5 383.2h.9v.9h-.9zM67.1 359.6h.9v.9h-.9zM63.1 383.2h.9v.9h-.9zM71.7 372.3h.9v.9h-.9zM68.2 359.9h.9v.9h-.9zM60.1 368.3h.9v.9h-.9zM70.2 376.1h.9v.9h-.9zM71.8 370.0h.9v.9h-.9zM60.6 380.9h.9v.9h-.9zM63.2 363.2h.9v.9h-.9zM69.8 361.6h.9v.9h-.9zM70.1 362.0h.9v.9h-.9zM65.8 361.2h.9v.9h-.9zM62.4 382.0h.9v.9h-.9zM70.7 374.2h.9v.9h-.9zM60.6 380.4h.9v.9h-.9zM63.6 362.9h.9v.9h-.9zM62.7 382.0h.9v.9h-.9zM69.1 377.5h.9v.9h-.9zM70.2 362.6h.9v.9h-.9zM70.8 363.7h.9v.9h-.9zM67.8 361.0h.9v.9h-.9zM64.0 381.9h.9v.9h-.9zM59.6 377.0h.9v.9h-.9zM67.7 379.3h.9v.9h-.9zM59.6 373.8h.9v.9h-.9zM60.0 378.3h.9v.9h-.9zM61.2 380.5h.9v.9h-.9zM71.2 366.6h.9v.9h-.9zM70.8 372.5h.9v.9h-.9zM71.2 366.9h.9v.9h-.9zM62.2 365.9h.9v.9h-.9zM66.6 361.9h.9v.9h-.9zM61.8 366.8h.9v.9h-.9zM64.3 380.9h.9v.9h-.9zM70.2 364.2h.9v.9h-.9zM70.9 370.3h.9v.9h-.9zM66.4 362.2h.9v.9h-.9zM60.1 373.7h.9v.9h-.9zM61.3 379.5h.9v.9h-.9zM60.1 373.7h.9v.9h-.9zM62.9 380.4h.9v.9h-.9zM67.0 362.5h.9v.9h-.9zM70.7 367.7h.9v.9h-.9zM70.4 371.5h.9v.9h-.9zM67.6 362.6h.9v.9h-.9zM68.1 377.3h.9v.9h-.9zM70.3 371.8h.9v.9h-.9zM70.4 371.1h.9v.9h-.9z"/>
<path fill="#3c78c8" d="M70.5 367.0h.9v.9h-.9zM60.5 375.6h.9v.9h-.9zM70.3 366.4h.9v.9h-.9zM64.1 364.4h.9v.9h-.9zM60.6 375.9h.9v.9h-.9zM61.8 379.0h.9v.9h-.9zM61.7 368.4h.9v.9h-.9zM60.5 374.7h.9v.9h-.9zM61.3 378.2h.9v.9h-.9zM67.6 363.1h.9v.9h-.9zM62.1 367.8h.9v.9h-.9zM66.1 363.4h.9v.9h-.9zM60.8 372.3h.9v.9h-.9zM66.3 363.4h.9v.9h-.9zM63.3 365.9h.9v.9h-.9zM61.3 370.1h.9v.9h-.9zM70.1 370.8h.9v.9h-.9zM63.8 365.3h.9v.9h-.9zM66.0 378.9h.9v.9h-.9zM68.0 376.5h.9v.9h-.9zM63.8 365.4h.9v.9h-.9zM65.0 379.2h.9v.9h-.9zM67.4 377.2h.9v.9h-.9zM61.2 371.3h.9v.9h-.9zM62.5 378.8h.9v.9h-.9zM63.7 379.3h.9v.9h-.9zM61.7 369.6h.9v.9h-.9zM70.0 369.3h.9v.9h-.9zM65.5 378.9h.9v.9h-.9zM64.6 364.9h.9v.9h-.9zM62.7 378.8h.9v.9h-.9zM69.3 365.7h.9v.9h-.9zM63.8 379.1h.9v.9h-.9zM67.2 363.9h.9v.9h-.9zM69.2 365.8h.9v.9h-.9zM61.7 370.3h.9v.9h-.9zM61.2 374.9h.9v.9h-.9zM61.6 376.8h.9v.9h-.9zM62.5 378.1h.9v.9h-.9zM61.3 373.1h.9v.9h-.9zM62.1 377.4h.9v.9h-.9zM61.8 370.5h.9v.9h-.9zM69.6 368.4h.9v.9h-.9zM69.4 371.6h.9v.9h-.9zM64.4 365.7h.9v.9h-.9zM66.6 377.2h.9v.9h-.9zM69.1 372.5h.9v.9h-.9zM69.2 366.6h.9v.9h-.9zM62.2 369.7h.9v.9h-.9zM67.7 375.7h.9v.9h-.9zM69.1 372.2h.9v.9h-.9zM68.8 373.4h.9v.9h-.9zM64.8 378.3h.9v.9h-.9zM67.9 375.4h.9v.9h-.9zM68.0 365.1h.9v.9h-.9zM64.6 365.7h.9v.9h-.9zM61.9 376.2h.9v.9h-.9zM65.1 378.1h.9v.9h-.9zM65.0 365.5h.9v.9h-.9zM69.0 366.7h.9v.9h-.9zM63.4 367.4h.9v.9h-.9zM69.2 367.7h.9v.9h-.9zM68.5 373.6h.9v.9h-.9zM63.9 378.1h.9v.9h-.9zM62.5 369.5h.9v.9h-.9zM62.2 370.3h.9v.9h-.9zM65.9 365.2h.9v.9h-.9zM67.4 375.7h.9v.9h-.9zM66.9 365.1h.9v.9h-.9zM68.9 367.3h.9v.9h-.9zM66.3 365.2h.9v.9h-.9z"/>
<path fill="#28a08c" d="M65.2 365.7h.9v.9h-.9zM62.0 375.3h.9v.9h-.9zM69.0 371.1h.9v.9h-.9zM65.1 365.9h.9v.9h-.9zM68.7 366.8h.9v.9h-.9zM61.9 372.5h.9v.9h-.9zM67.6 375.0h.9v.9h-.9zM67.6 365.8h.9v.9h-.9zM64.7 366.4h.9v.9h-.9zM64.5 377.5h.9v.9h-.9zM68.8 371.1h.9v.9h-.9zM64.7 366.5h.9v.9h-.9zM66.0 365.7h.9v.9h-.9zM68.8 371.2h.9v.9h-.9zM63.1 368.9h.9v.9h-.9zM65.3 377.1h.9v.9h-.9zM66.6 376.1h.9v.9h-.9zM63.1 369.0h.9v.9h-.9zM64.0 367.5h.9v.9h-.9zM62.9 369.4h.9v.9h-.9zM66.0 365.9h.9v.9h-.9zM66.3 376.3h.9v.9h-.9zM65.6 376.8h.9v.9h-.9zM64.5 366.9h.9v.9h-.9zM68.8 370.4h.9v.9h-.9zM63.4 368.6h.9v.9h-.9zM68.7 370.8h.9v.9h-.9zM62.3 373.2h.9v.9h-.9zM63.7 376.8h.9v.9h-.9zM68.2 372.6h.9v.9h-.9zM65.8 376.5h.9v.9h-.9zM68.7 369.2h.9v.9h-.9zM62.7 375.6h.9v.9h-.9zM66.5 366.0h.9v.9h-.9zM62.9 375.9h.9v.9h-.9zM68.7 369.7h.9v.9h-.9zM68.0 373.3h.9v.9h-.9zM68.6 370.4h.9v.9h-.9zM64.5 367.2h.9v.9h-.9zM65.4 376.6h.9v.9h-.9zM66.4 375.9h.9v.9h-.9zM62.6 374.8h.9v.9h-.9zM68.4 371.6h.9v.9h-.9zM63.5 368.9h.9v.9h-.9zM64.6 367.2h.9v.9h-.9zM67.2 374.7h.9v.9h-.9zM63.1 369.8h.9v.9h-.9zM66.4 375.7h.9v.9h-.9zM65.0 376.6h.9v.9h-.9zM63.0 370.3h.9v.9h-.9zM68.0 367.5h.9v.9h-.9zM66.5 375.4h.9v.9h-.9zM68.4 370.5h.9v.9h-.9zM63.9 368.4h.9v.9h-.9zM64.8 376.5h.9v.9h-.9zM63.3 369.6h.9v.9h-.9zM62.7 374.5h.9v.9h-.9zM67.1 366.7h.9v.9h-.9zM67.7 367.2h.9v.9h-.9zM66.6 366.5h.9v.9h-.9zM64.7 367.5h.9v.9h-.9zM64.1 376.4h.9v.9h-.9zM67.1 366.7h.9v.9h-.9zM68.2 371.6h.9v.9h-.9zM64.9 376.4h.9v.9h-.9zM63.3 369.9h.9v.9h-.9zM66.4 366.7h.9v.9h-.9zM68.0 368.0h.9v.9h-.9zM68.2 368.7h.9v.9h-.9zM64.7 367.7h.9v.9h-.9zM63.4 375.6h.9v.9h-.9zM65.5 375.9h.9v.9h-.9zM67.8 372.4h.9v.9h-.9zM67.9 368.4h.9v.9h-.9zM64.0 375.8h.9v.9h-.9zM65.4 367.4h.9v.9h-.9z"/>
<path fill="#8cc83c" d="M66.8 374.3h.9v.9h-.9zM67.0 367.3h.9v.9h-.9zM65.7 367.3h.9v.9h-.9zM63.2 371.5h.9v.9h-.9zM64.2 368.9h.9v.9h-.9zM67.9 369.6h.9v.9h-.9zM66.7 374.3h.9v.9h-.9zM64.4 368.7h.9v.9h-.9zM63.3 374.1h.9v.9h-.9zM64.7 368.5h.9v.9h-.9zM63.3 372.0h.9v.9h-.9zM63.3 372.2h.9v.9h-.9zM65.0 375.3h.9v.9h-.9zM66.9 367.8h.9v.9h-.9zM67.4 372.4h.9v.9h-.9zM63.3 372.0h.9v.9h-.9zM65.0 375.3h.9v.9h-.9zM66.2 374.3h.9v.9h-.9zM67.5 371.4h.9v.9h-.9zM65.3 375.0h.9v.9h-.9zM66.3 367.9h.9v.9h-.9zM67.2 368.6h.9v.9h-.9zM67.4 369.1h.9v.9h-.9zM63.6 371.4h.9v.9h-.9zM63.9 374.5h.9v.9h-.9zM66.8 373.4h.9v.9h-.9zM65.2 374.9h.9v.9h-.9zM67.2 372.0h.9v.9h-.9zM65.2 368.6h.9v.9h-.9zM67.4 370.3h.9v.9h-.9zM65.4 374.7h.9v.9h-.9zM64.4 369.7h.9v.9h-.9zM67.1 372.3h.9v.9h-.9zM65.6 368.4h.9v.9h-.9zM64.6 374.7h.9v.9h-.9zM66.8 372.9h.9v.9h-.9zM64.7 374.6h.9v.9h-.9zM65.9 368.4h.9v.9h-.9zM63.8 371.6h.9v.9h-.9zM66.7 368.7h.9v.9h-.9zM66.7 368.8h.9v.9h-.9zM65.2 374.4h.9v.9h-.9zM64.5 374.3h.9v.9h-.9zM65.3 374.4h.9v.9h-.9zM64.2 370.6h.9v.9h-.9zM65.4 374.2h.9v.9h-.9zM65.8 373.9h.9v.9h-.9zM64.5 370.0h.9v.9h-.9zM66.8 372.2h.9v.9h-.9zM67.0 370.1h.9v.9h-.9zM64.6 370.1h.9v.9h-.9zM67.0 370.7h.9v.9h-.9zM66.5 369.2h.9v.9h-.9zM64.3 370.7h.9v.9h-.9z"/>
<path fill="#e8e020" d="M66.8 371.4h.9v.9h-.9zM64.9 369.8h.9v.9h-.9zM64.2 372.3h.9v.9h-.9zM64.3 372.8h.9v.9h-.9zM64.8 373.7h.9v.9h-.9zM66.8 370.8h.9v.9h-.9zM66.7 370.6h.9v.9h-.9zM66.7 371.1h.9v.9h-.9zM66.3 369.8h.9v.9h-.9zM64.7 373.2h.9v.9h-.9zM65.4 373.3h.9v.9h-.9zM65.8 369.6h.9v.9h-.9zM64.8 373.2h.9v.9h-.9zM65.6 369.7h.9v.9h-.9zM66.3 370.0h.9v.9h-.9zM64.5 371.8h.9v.9h-.9zM65.9 372.7h.9v.9h-.9zM64.7 371.0h.9v.9h-.9zM65.1 370.2h.9v.9h-.9zM65.3 373.1h.9v.9h-.9zM65.9 369.9h.9v.9h-.9zM65.7 372.8h.9v.9h-.9zM65.1 372.9h.9v.9h-.9zM65.6 370.1h.9v.9h-.9zM66.3 370.6h.9v.9h-.9zM65.8 372.5h.9v.9h-.9zM65.7 372.6h.9v.9h-.9zM65.9 372.2h.9v.9h-.9zM64.9 371.4h.9v.9h-.9zM65.2 370.7h.9v.9h-.9zM64.9 371.7h.9v.9h-.9zM66.1 371.5h.9v.9h-.9zM65.9 370.5h.9v.9h-.9zM65.1 371.3h.9v.9h-.9zM65.6 372.3h.9v.9h-.9zM65.2 372.2h.9v.9h-.9zM65.3 370.9h.9v.9h-.9zM65.3 372.2h.9v.9h-.9z"/>
<path fill="#7890d0" d="M142.4 375.3h.6v.6h-.6zM151.2 387.0h.6v.6h-.6zM151.4 341.3h.6v.6h-.6zM148.1 346.6h.6v.6h-.6zM162.8 348.1h.6v.6h-.6zM152.6 384.7h.6v.6h-.6zM148.4 381.4h.6v.6h-.6zM155.2 385.0h.6v.6h-.6zM148.0 380.7h.6v.6h-.6zM166.5 362.6h.6v.6h-.6zM153.3 383.3h.6v.6h-.6zM144.9 370.8h.6v.6h-.6zM147.1 352.6h.6v.6h-.6zM163.2 374.3h.6v.6h-.6zM163.5 373.7h.6v.6h-.6zM164.1 356.7h.6v.6h-.6zM161.6 377.2h.6v.6h-.6zM163.0 353.7h.6v.6h-.6zM145.4 363.1h.6v.6h-.6zM145.6 361.5h.6v.6h-.6zM161.6 352.0h.6v.6h-.6zM163.7 359.6h.6v.6h-.6zM154.4 380.2h.6v.6h-.6zM156.8 379.8h.6v.6h-.6zM147.1 356.6h.6v.6h-.6zM148.6 374.8h.6v.6h-.6zM146.7 368.9h.6v.6h-.6zM148.1 373.4h.6v.6h-.6zM149.9 351.5h.6v.6h-.6zM162.9 358.6h.6v.6h-.6zM146.7 366.5h.6v.6h-.6zM162.8 365.7h.6v.6h-.6zM161.1 372.7h.6v.6h-.6zM157.3 377.2h.6v.6h-.6zM149.7 373.9h.6v.6h-.6zM151.6 351.8h.6v.6h-.6zM147.5 365.7h.6v.6h-.6zM152.5 376.9h.6v.6h-.6zM147.5 362.2h.6v.6h-.6zM155.1 377.6h.6v.6h-.6zM148.3 370.4h.6v.6h-.6zM162.0 369.2h.6v.6h-.6zM148.0 359.8h.6v.6h-.6zM154.3 350.9h.6v.6h-.6zM150.6 353.5h.6v.6h-.6zM158.7 375.2h.6v.6h-.6zM158.2 375.4h.6v.6h-.6zM147.9 365.1h.6v.6h-.6zM149.0 357.2h.6v.6h-.6zM154.7 351.4h.6v.6h-.6zM160.9 357.7h.6v.6h-.6zM155.1 376.2h.6v.6h-.6zM149.9 372.1h.6v.6h-.6zM148.8 359.5h.6v.6h-.6zM161.6 362.7h.6v.6h-.6zM153.1 352.8h.6v.6h-.6zM151.3 373.6h.6v.6h-.6zM151.5 354.4h.6v.6h-.6zM161.1 361.2h.6v.6h-.6zM149.1 367.7h.6v.6h-.6zM160.7 359.5h.6v.6h-.6zM148.9 364.3h.6v.6h-.6zM150.4 371.1h.6v.6h-.6zM159.2 356.3h.6v.6h-.6zM151.6 372.6h.6v.6h-.6zM158.7 356.2h.6v.6h-.6zM154.4 374.1h.6v.6h-.6zM151.1 356.7h.6v.6h-.6zM149.6 361.8h.6v.6h-.6zM156.9 373.3h.6v.6h-.6zM150.7 369.9h.6v.6h-.6zM160.4 363.4h.6v.6h-.6zM159.9 368.1h.6v.6h-.6zM149.7 364.9h.6v.6h-.6zM159.9 360.7h.6v.6h-.6zM160.1 362.1h.6v.6h-.6zM159.9 366.6h.6v.6h-.6zM160.0 362.7h.6v.6h-.6zM154.8 372.9h.6v.6h-.6zM151.7 370.6h.6v.6h-.6zM158.2 370.6h.6v.6h-.6zM155.3 355.4h.6v.6h-.6zM154.8 372.6h.6v.6h-.6zM158.8 359.1h.6v.6h-.6zM150.5 365.6h.6v.6h-.6zM158.2 369.7h.6v.6h-.6zM155.6 356.3h.6v.6h-.6zM159.2 365.7h.6v.6h-.6zM157.0 357.2h.6v.6h-.6zM156.2 356.6h.6v.6h-.6zM158.6 360.3h.6v.6h-.6zM157.7 358.9h.6v.6h-.6zM158.6 361.4h.6v.6h-.6zM157.5 369.4h.6v.6h-.6zM154.5 370.9h.6v.6h-.6zM155.3 370.9h.6v.6h-.6zM152.6 369.3h.6v.6h-.6zM157.4 358.8h.6v.6h-.6zM151.4 365.1h.6v.6h-.6zM158.7 363.9h.6v.6h-.6zM156.1 370.2h.6v.6h-.6zM151.8 367.0h.6v.6h-.6zM157.6 368.3h.6v.6h-.6zM157.6 368.4h.6v.6h-.6zM153.3 358.4h.6v.6h-.6zM157.9 367.0h.6v.6h-.6zM154.0 369.5h.6v.6h-.6zM154.1 358.5h.6v.6h-.6zM152.2 362.9h.6v.6h-.6zM153.1 360.2h.6v.6h-.6zM154.6 359.0h.6v.6h-.6zM155.5 369.0h.6v.6h-.6zM157.7 365.1h.6v.6h-.6zM157.5 366.0h.6v.6h-.6zM157.7 364.9h.6v.6h-.6zM152.7 366.1h.6v.6h-.6zM154.9 359.6h.6v.6h-.6zM154.1 360.0h.6v.6h-.6zM154.8 368.2h.6v.6h-.6zM152.7 364.0h.6v.6h-.6zM153.2 361.7h.6v.6h-.6zM155.9 367.6h.6v.6h-.6zM152.8 363.4h.6v.6h-.6zM155.9 360.5h.6v.6h-.6zM156.7 362.6h.6v.6h-.6zM155.4 366.1h.6v.6h-.6zM153.9 363.2h.6v.6h-.6zM154.8 366.1h.6v.6h-.6zM154.6 363.5h.6v.6h-.6zM154.9 363.8h.6v.6h-.6z"/>
<path fill="#6a8ad8" d="M177.0 325.0h.9v.9h-.9zM149.9 351.3h.9v.9h-.9zM167.5 330.6h.9v.9h-.9zM159.5 339.0h.9v.9h-.9zM171.9 337.9h.9v.9h-.9zM149.1 361.9h.9v.9h-.9zM173.3 334.0h.9v.9h-.9zM161.1 353.7h.9v.9h-.9zM149.4 361.4h.9v.9h-.9zM161.2 353.5h.9v.9h-.9zM153.5 348.4h.9v.9h-.9zM171.5 337.9h.9v.9h-.9zM150.9 353.8h.9v.9h-.9zM158.9 355.3h.9v.9h-.9zM152.6 350.7h.9v.9h-.9zM153.5 359.6h.9v.9h-.9zM167.2 344.9h.9v.9h-.9zM155.5 346.1h.9v.9h-.9zM150.5 359.1h.9v.9h-.9zM171.1 336.8h.9v.9h-.9zM153.4 350.0h.9v.9h-.9zM150.6 357.5h.9v.9h-.9zM152.4 359.1h.9v.9h-.9zM151.4 358.9h.9v.9h-.9zM159.7 353.8h.9v.9h-.9zM156.1 346.0h.9v.9h-.9zM151.2 356.4h.9v.9h-.9zM155.3 357.3h.9v.9h-.9zM169.0 340.5h.9v.9h-.9zM154.8 357.5h.9v.9h-.9zM156.1 346.3h.9v.9h-.9zM168.3 341.6h.9v.9h-.9zM166.4 344.7h.9v.9h-.9zM164.1 348.0h.9v.9h-.9zM163.6 348.7h.9v.9h-.9zM154.8 348.7h.9v.9h-.9zM152.7 352.8h.9v.9h-.9zM161.3 340.0h.9v.9h-.9zM152.1 357.0h.9v.9h-.9zM157.4 355.2h.9v.9h-.9zM155.7 356.5h.9v.9h-.9zM169.9 335.5h.9v.9h-.9zM169.8 335.6h.9v.9h-.9zM152.2 355.8h.9v.9h-.9zM167.4 335.1h.9v.9h-.9zM155.3 356.5h.9v.9h-.9zM169.2 335.1h.9v.9h-.9zM161.4 340.1h.9v.9h-.9zM168.6 340.1h.9v.9h-.9zM165.4 336.5h.9v.9h-.9zM155.9 356.0h.9v.9h-.9z"/>
<path fill="#3c78c8" d="M158.7 353.8h.9v.9h-.9zM162.0 339.6h.9v.9h-.9zM169.1 338.6h.9v.9h-.9zM156.0 347.3h.9v.9h-.9zM167.8 335.3h.9v.9h-.9zM168.0 341.2h.9v.9h-.9zM169.2 335.8h.9v.9h-.9zM152.8 356.1h.9v.9h-.9zM162.8 349.2h.9v.9h-.9zM153.0 356.2h.9v.9h-.9zM161.6 350.4h.9v.9h-.9zM168.5 335.8h.9v.9h-.9zM168.8 338.4h.9v.9h-.9zM153.7 356.2h.9v.9h-.9zM158.0 353.9h.9v.9h-.9zM153.1 355.3h.9v.9h-.9zM153.1 354.4h.9v.9h-.9zM153.1 354.7h.9v.9h-.9zM165.1 345.6h.9v.9h-.9zM162.2 339.8h.9v.9h-.9zM157.3 345.8h.9v.9h-.9zM166.1 336.6h.9v.9h-.9zM165.9 336.7h.9v.9h-.9zM165.5 344.9h.9v.9h-.9zM158.3 353.6h.9v.9h-.9zM167.7 340.9h.9v.9h-.9zM153.8 352.5h.9v.9h-.9zM165.0 345.6h.9v.9h-.9zM157.6 354.0h.9v.9h-.9zM162.5 339.7h.9v.9h-.9zM162.0 349.6h.9v.9h-.9zM155.9 355.1h.9v.9h-.9zM155.2 349.6h.9v.9h-.9zM168.2 336.9h.9v.9h-.9zM167.7 336.7h.9v.9h-.9zM162.9 348.3h.9v.9h-.9zM162.9 348.2h.9v.9h-.9zM166.5 342.8h.9v.9h-.9zM162.3 340.1h.9v.9h-.9zM167.2 341.3h.9v.9h-.9zM157.6 346.0h.9v.9h-.9zM167.6 339.8h.9v.9h-.9zM167.8 338.9h.9v.9h-.9zM167.8 338.9h.9v.9h-.9zM160.8 341.9h.9v.9h-.9zM166.6 342.0h.9v.9h-.9zM167.6 338.0h.9v.9h-.9zM156.4 354.2h.9v.9h-.9zM167.6 338.7h.9v.9h-.9zM164.5 345.6h.9v.9h-.9zM157.9 345.8h.9v.9h-.9zM155.5 350.0h.9v.9h-.9zM162.5 340.4h.9v.9h-.9zM155.0 354.3h.9v.9h-.9zM160.9 342.1h.9v.9h-.9zM162.3 348.5h.9v.9h-.9zM154.7 352.3h.9v.9h-.9zM161.8 349.0h.9v.9h-.9zM157.4 346.8h.9v.9h-.9zM156.2 353.8h.9v.9h-.9zM165.0 344.5h.9v.9h-.9zM157.7 346.4h.9v.9h-.9z"/>
<path fill="#28a08c" d="M158.5 345.3h.9v.9h-.9zM158.8 344.9h.9v.9h-.9zM155.1 351.5h.9v.9h-.9zM164.2 339.1h.9v.9h-.9zM161.5 349.2h.9v.9h-.9zM155.5 353.7h.9v.9h-.9zM155.0 352.5h.9v.9h-.9zM166.9 339.2h.9v.9h-.9zM166.1 342.3h.9v.9h-.9zM161.4 341.9h.9v.9h-.9zM163.1 347.1h.9v.9h-.9zM164.4 345.2h.9v.9h-.9zM155.3 353.1h.9v.9h-.9zM166.5 338.7h.9v.9h-.9zM165.3 338.9h.9v.9h-.9zM166.6 339.3h.9v.9h-.9zM166.6 339.8h.9v.9h-.9zM161.5 342.0h.9v.9h-.9zM163.8 339.8h.9v.9h-.9zM156.8 348.4h.9v.9h-.9zM159.9 343.8h.9v.9h-.9zM165.9 342.2h.9v.9h-.9zM166.4 340.6h.9v.9h-.9zM158.6 351.7h.9v.9h-.9zM155.7 352.6h.9v.9h-.9zM166.1 339.2h.9v.9h-.9zM166.3 340.6h.9v.9h-.9zM163.2 340.5h.9v.9h-.9zM162.6 347.4h.9v.9h-.9zM159.0 345.1h.9v.9h-.9zM166.0 339.5h.9v.9h-.9zM155.9 350.9h.9v.9h-.9zM161.5 342.1h.9v.9h-.9zM157.9 346.9h.9v.9h-.9zM164.8 339.6h.9v.9h-.9zM159.1 351.1h.9v.9h-.9zM160.4 343.5h.9v.9h-.9zM166.1 340.0h.9v.9h-.9zM162.9 346.9h.9v.9h-.9zM161.2 348.9h.9v.9h-.9zM160.0 344.0h.9v.9h-.9zM159.1 351.1h.9v.9h-.9zM156.0 351.4h.9v.9h-.9zM159.8 350.4h.9v.9h-.9zM156.9 348.8h.9v.9h-.9zM158.0 346.8h.9v.9h-.9zM158.2 346.6h.9v.9h-.9zM162.6 341.3h.9v.9h-.9zM156.1 351.1h.9v.9h-.9zM157.1 352.2h.9v.9h-.9zM165.8 340.4h.9v.9h-.9zM156.5 350.0h.9v.9h-.9zM164.9 340.0h.9v.9h-.9zM160.9 349.0h.9v.9h-.9zM165.7 341.1h.9v.9h-.9zM163.1 341.0h.9v.9h-.9zM156.8 349.5h.9v.9h-.9zM157.9 347.3h.9v.9h-.9zM156.9 351.9h.9v.9h-.9zM163.8 345.1h.9v.9h-.9zM156.7 350.2h.9v.9h-.9zM163.6 345.4h.9v.9h-.9zM165.4 340.9h.9v.9h-.9zM159.9 344.6h.9v.9h-.9zM164.5 340.5h.9v.9h-.9zM165.1 340.6h.9v.9h-.9z"/>
<path fill="#8cc83c" d="M162.8 346.5h.9v.9h-.9zM164.5 343.6h.9v.9h-.9zM164.8 342.6h.9v.9h-.9zM157.0 349.8h.9v.9h-.9zM164.7 343.0h.9v.9h-.9zM158.1 347.6h.9v.9h-.9zM160.0 349.5h.9v.9h-.9zM157.0 350.2h.9v.9h-.9zM160.2 349.3h.9v.9h-.9zM162.4 346.8h.9v.9h-.9zM164.7 341.3h.9v.9h-.9zM157.6 350.7h.9v.9h-.9zM164.7 341.6h.9v.9h-.9zM162.1 342.6h.9v.9h-.9zM163.6 341.5h.9v.9h-.9zM157.4 349.4h.9v.9h-.9zM164.1 341.3h.9v.9h-.9zM157.6 349.1h.9v.9h-.9zM164.4 341.5h.9v.9h-.9zM158.6 350.4h.9v.9h-.9zM164.0 343.8h.9v.9h-.9zM162.4 346.4h.9v.9h-.9zM164.5 342.1h.9v.9h-.9zM163.3 345.1h.9v.9h-.9zM164.2 343.3h.9v.9h-.9zM163.8 344.1h.9v.9h-.9zM161.1 343.7h.9v.9h-.9zM161.5 343.4h.9v.9h-.9zM164.3 342.7h.9v.9h-.9zM157.7 349.9h.9v.9h-.9zM161.1 347.9h.9v.9h-.9zM157.9 349.7h.9v.9h-.9zM160.5 344.7h.9v.9h-.9zM157.9 349.4h.9v.9h-.9zM158.0 349.6h.9v.9h-.9zM158.7 349.7h.9v.9h-.9zM158.5 347.9h.9v.9h-.9zM160.6 344.6h.9v.9h-.9zM161.8 343.4h.9v.9h-.9zM158.6 347.8h.9v.9h-.9zM162.5 345.8h.9v.9h-.9zM161.9 343.4h.9v.9h-.9zM161.7 343.6h.9v.9h-.9zM162.0 346.5h.9v.9h-.9zM162.1 343.2h.9v.9h-.9zM162.0 343.4h.9v.9h-.9zM163.6 343.0h.9v.9h-.9zM159.2 349.2h.9v.9h-.9zM159.1 349.2h.9v.9h-.9zM160.0 345.7h.9v.9h-.9zM163.3 344.0h.9v.9h-.9zM163.5 343.1h.9v.9h-.9zM158.5 348.8h.9v.9h-.9z"/>
<path fill="#e8e020" d="M160.8 347.7h.9v.9h-.9zM159.0 349.0h.9v.9h-.9zM162.3 343.3h.9v.9h-.9zM161.9 346.4h.9v.9h-.9zM161.9 343.7h.9v.9h-.9zM160.0 345.9h.9v.9h-.9zM160.2 345.5h.9v.9h-.9zM159.3 348.8h.9v.9h-.9zM160.9 347.5h.9v.9h-.9zM162.5 345.3h.9v.9h-.9zM160.5 347.9h.9v.9h-.9zM162.8 343.4h.9v.9h-.9zM162.0 343.7h.9v.9h-.9zM161.0 347.2h.9v.9h-.9zM160.1 346.0h.9v.9h-.9zM159.4 348.1h.9v.9h-.9zM159.4 347.7h.9v.9h-.9zM159.4 347.7h.9v.9h-.9zM159.4 347.5h.9v.9h-.9zM161.8 346.0h.9v.9h-.9zM160.1 347.6h.9v.9h-.9zM162.2 344.7h.9v.9h-.9zM161.8 344.7h.9v.9h-.9zM161.6 344.9h.9v.9h-.9zM160.6 346.0h.9v.9h-.9zM160.6 346.4h.9v.9h-.9zM160.7 346.5h.9v.9h-.9zM160.9 346.3h.9v.9h-.9z"/>
<text x="30.60" y="332.54" font-size="7.6" textLength="38.90" lengthAdjust="spacingAndGlyphs" stroke="#231f20" stroke-width="0.05">Naive CD8</text>
<text x="114.50" y="332.54" font-size="7.6" textLength="13.20" lengthAdjust="spacingAndGlyphs" stroke="#231f20" stroke-width="0.05">CTL</text>
<line x1="8.80" y1="378.80" x2="8.80" y2="327.70" stroke="#4a5876" stroke-width="1.3"/>
<path d="M8.80,323.50 L10.90,327.70 L6.70,327.70 Z" fill="#4a5876"/>
<text x="10.20" y="394.47" font-size="8.8" text-anchor="middle" textLength="19.90" lengthAdjust="spacingAndGlyphs" transform="rotate(-90 10.20 391.30)" stroke="#231f20" stroke-width="0.05">GFP</text>
<text x="26.90" y="418.47" font-size="8.8" textLength="37.90" lengthAdjust="spacingAndGlyphs" stroke="#231f20" stroke-width="0.05">mCherry</text>
<line x1="67.70" y1="415.30" x2="180.30" y2="415.30" stroke="#4a5876" stroke-width="1.3"/>
<path d="M184.50,415.30 L180.30,417.40 L180.30,413.20 Z" fill="#4a5876"/>
<text x="207.5" y="318" font-size="14.5" font-weight="bold" fill="#000" textLength="8.20" lengthAdjust="spacingAndGlyphs" stroke="#000" stroke-width="0.05">h</text>
<rect x="212.50" y="324.80" width="73.30" height="73.00" fill="none" stroke="#444" stroke-width="0.8"/>
<path d="M217.3 397.8v1.1M220.4 397.8v1.1M222.7 397.8v1.1M224.4 397.8v1.1M225.8 397.8v1.1M227.0 397.8v1.1M228.0 397.8v1.1M229.0 397.8v1.1M235.2 397.8v1.1M238.3 397.8v1.1M240.5 397.8v1.1M242.3 397.8v1.1M243.7 397.8v1.1M244.9 397.8v1.1M245.9 397.8v1.1M246.8 397.8v1.1M253.0 397.8v1.1M256.2 397.8v1.1M258.4 397.8v1.1M260.1 397.8v1.1M261.6 397.8v1.1M262.8 397.8v1.1M263.8 397.8v1.1M264.7 397.8v1.1M270.9 397.8v1.1M274.1 397.8v1.1M276.3 397.8v1.1M278.0 397.8v1.1M279.4 397.8v1.1M280.6 397.8v1.1M281.7 397.8v1.1M282.6 397.8v1.1" stroke="#444" stroke-width="0.4" fill="none"/>
<line x1="211.90" y1="397.80" x2="211.90" y2="399.40" stroke="#444" stroke-width="0.6"/>
<text x="211.90" y="407.09" font-size="7.2" text-anchor="middle">10<tspan dy="-2.6" font-size="4.3">-1</tspan></text>
<line x1="229.40" y1="397.80" x2="229.40" y2="399.40" stroke="#444" stroke-width="0.6"/>
<text x="229.40" y="407.09" font-size="7.2" text-anchor="middle">10<tspan dy="-2.6" font-size="4.3">0</tspan></text>
<line x1="248.40" y1="397.80" x2="248.40" y2="399.40" stroke="#444" stroke-width="0.6"/>
<text x="248.40" y="407.09" font-size="7.2" text-anchor="middle">10<tspan dy="-2.6" font-size="4.3">1</tspan></text>
<line x1="266.50" y1="397.80" x2="266.50" y2="399.40" stroke="#444" stroke-width="0.6"/>
<text x="266.50" y="407.09" font-size="7.2" text-anchor="middle">10<tspan dy="-2.6" font-size="4.3">2</tspan></text>
<line x1="283.40" y1="397.80" x2="283.40" y2="399.40" stroke="#444" stroke-width="0.6"/>
<text x="283.40" y="407.09" font-size="7.2" text-anchor="middle">10<tspan dy="-2.6" font-size="4.3">3</tspan></text>
<rect x="304.50" y="324.80" width="72.90" height="73.00" fill="none" stroke="#444" stroke-width="0.8"/>
<path d="M313.3 397.8v1.1M316.2 397.8v1.1M318.3 397.8v1.1M319.9 397.8v1.1M321.3 397.8v1.1M322.4 397.8v1.1M323.4 397.8v1.1M324.2 397.8v1.1M330.1 397.8v1.1M333.0 397.8v1.1M335.1 397.8v1.1M336.7 397.8v1.1M338.1 397.8v1.1M339.2 397.8v1.1M340.2 397.8v1.1M341.0 397.8v1.1M346.9 397.8v1.1M349.8 397.8v1.1M351.9 397.8v1.1M353.5 397.8v1.1M354.9 397.8v1.1M356.0 397.8v1.1M357.0 397.8v1.1M357.8 397.8v1.1M363.7 397.8v1.1M366.6 397.8v1.1M368.7 397.8v1.1M370.3 397.8v1.1M371.7 397.8v1.1M372.8 397.8v1.1M373.8 397.8v1.1M374.6 397.8v1.1" stroke="#444" stroke-width="0.4" fill="none"/>
<line x1="308.20" y1="397.80" x2="308.20" y2="399.40" stroke="#444" stroke-width="0.6"/>
<text x="308.20" y="407.09" font-size="7.2" text-anchor="middle">10<tspan dy="-2.6" font-size="4.3">-1</tspan></text>
<line x1="322.80" y1="397.80" x2="322.80" y2="399.40" stroke="#444" stroke-width="0.6"/>
<text x="322.80" y="407.09" font-size="7.2" text-anchor="middle">10<tspan dy="-2.6" font-size="4.3">0</tspan></text>
<line x1="340.40" y1="397.80" x2="340.40" y2="399.40" stroke="#444" stroke-width="0.6"/>
<text x="340.40" y="407.09" font-size="7.2" text-anchor="middle">10<tspan dy="-2.6" font-size="4.3">1</tspan></text>
<line x1="357.90" y1="397.80" x2="357.90" y2="399.40" stroke="#444" stroke-width="0.6"/>
<text x="357.90" y="407.09" font-size="7.2" text-anchor="middle">10<tspan dy="-2.6" font-size="4.3">2</tspan></text>
<line x1="375.40" y1="397.80" x2="375.40" y2="399.40" stroke="#444" stroke-width="0.6"/>
<text x="375.40" y="407.09" font-size="7.2" text-anchor="middle">10<tspan dy="-2.6" font-size="4.3">3</tspan></text>
<path d="M213,397.3 L229,397.2 L231.5,395.5 L233,392.4 L235.1,384.2 L237,375 L238.6,366.7 L240,357 L241.5,349.2 L242.7,342.2 L243.9,341.6 L245,344.5 L246.4,335.8 L247.6,345.7 L248.5,346.9 L249.1,349.2 L250.3,358 L251.5,366.7 L252.5,372 L253.5,374.5 L254.5,379 L256.1,384.2 L258,389 L260.2,392.4 L263,394.5 L266,395.8 L270,396.8 L285,397.3 Z" fill="#d4d4d4" stroke="#666" stroke-width="0.5"/>
<path d="M305,397.3 L318.8,397.2 L319,380 L319.6,350 L320.2,330 L320.5,328.2 L321,340 L321.6,355 L322.2,368 L322.8,378.4 L323.8,385 L325.1,390 L326.5,393 L328,394.7 L332,395.8 L338.5,396.8 L377,397.3 Z" fill="#d4d4d4" stroke="#666" stroke-width="0.5"/>
<text x="213.50" y="332.74" font-size="7.6" textLength="38.50" lengthAdjust="spacingAndGlyphs" stroke="#231f20" stroke-width="0.05">Naive CD8</text>
<text x="306.00" y="332.74" font-size="7.6" textLength="12.50" lengthAdjust="spacingAndGlyphs" stroke="#231f20" stroke-width="0.05">CTL</text>
<text x="206.90" y="419.07" font-size="8.8" textLength="66.50" lengthAdjust="spacingAndGlyphs" stroke="#231f20" stroke-width="0.05">Autophagy flux</text>
<text x="206.90" y="430.07" font-size="8.8" textLength="65.30" lengthAdjust="spacingAndGlyphs" stroke="#231f20" stroke-width="0.05">(mCherry/GFP)</text>
<line x1="277.40" y1="415.90" x2="372.80" y2="415.90" stroke="#4a5876" stroke-width="1.3"/>
<path d="M377.00,415.90 L372.80,418.00 L372.80,413.80 Z" fill="#4a5876"/>
<text x="397" y="318" font-size="14.5" font-weight="bold" fill="#000" textLength="4.00" lengthAdjust="spacingAndGlyphs" stroke="#000" stroke-width="0.05">i</text>
<rect x="437.00" y="324.80" width="73.00" height="72.40" fill="none" stroke="#444" stroke-width="0.8"/>
<line x1="435.40" y1="327.70" x2="437.00" y2="327.70" stroke="#444" stroke-width="0.6"/>
<text x="432.80" y="330.08" font-size="6.6" text-anchor="end" textLength="12.11" lengthAdjust="spacingAndGlyphs">100</text>
<line x1="435.40" y1="341.80" x2="437.00" y2="341.80" stroke="#444" stroke-width="0.6"/>
<text x="432.80" y="344.18" font-size="6.6" text-anchor="end" textLength="8.07" lengthAdjust="spacingAndGlyphs">80</text>
<line x1="435.40" y1="355.50" x2="437.00" y2="355.50" stroke="#444" stroke-width="0.6"/>
<text x="432.80" y="357.88" font-size="6.6" text-anchor="end" textLength="8.07" lengthAdjust="spacingAndGlyphs">60</text>
<line x1="435.40" y1="369.50" x2="437.00" y2="369.50" stroke="#444" stroke-width="0.6"/>
<text x="432.80" y="371.88" font-size="6.6" text-anchor="end" textLength="8.07" lengthAdjust="spacingAndGlyphs">40</text>
<line x1="435.40" y1="383.20" x2="437.00" y2="383.20" stroke="#444" stroke-width="0.6"/>
<text x="432.80" y="385.58" font-size="6.6" text-anchor="end" textLength="8.07" lengthAdjust="spacingAndGlyphs">20</text>
<line x1="435.40" y1="397.00" x2="437.00" y2="397.00" stroke="#444" stroke-width="0.6"/>
<text x="432.80" y="399.38" font-size="6.6" text-anchor="end" textLength="4.04" lengthAdjust="spacingAndGlyphs">0</text>
<line x1="442.80" y1="397.20" x2="442.80" y2="398.80" stroke="#444" stroke-width="0.6"/>
<text x="442.80" y="407.23" font-size="6.2" text-anchor="middle">10<tspan dy="-2.6" font-size="4.3">-1</tspan></text>
<line x1="458.80" y1="397.20" x2="458.80" y2="398.80" stroke="#444" stroke-width="0.6"/>
<text x="458.80" y="407.23" font-size="6.2" text-anchor="middle">10<tspan dy="-2.6" font-size="4.3">0</tspan></text>
<line x1="475.80" y1="397.20" x2="475.80" y2="398.80" stroke="#444" stroke-width="0.6"/>
<text x="475.80" y="407.23" font-size="6.2" text-anchor="middle">10<tspan dy="-2.6" font-size="4.3">1</tspan></text>
<line x1="490.40" y1="397.20" x2="490.40" y2="398.80" stroke="#444" stroke-width="0.6"/>
<text x="490.40" y="407.23" font-size="6.2" text-anchor="middle">10<tspan dy="-2.6" font-size="4.3">2</tspan></text>
<line x1="505.00" y1="397.20" x2="505.00" y2="398.80" stroke="#444" stroke-width="0.6"/>
<text x="505.00" y="407.23" font-size="6.2" text-anchor="middle">10<tspan dy="-2.6" font-size="4.3">3</tspan></text>
<path d="M447,397 L452,396.5 L456,393 L459,388 L462,381.9 L464,373 L465.7,363.6 L467,356 L468.5,349 L469.4,345.4 L470.5,347 L472,354 L474,363.6 L475.5,373 L476.7,381.9 L478.5,389 L481.2,394.6 L486,396.6 L509,396.8 Z" fill="#d8d8d8" stroke="#333" stroke-width="0.6"/>
<path d="M437.8,396.5 L441,394.5 L444.7,392.9 L447.5,389.5 L450.2,385.6 L452.5,379 L454.8,372.8 L456.2,366 L457.5,360 L458.5,350 L459.4,341.7 L460.8,345.4 L462,342 L463,339.9 L464.5,345.4 L465.4,358.2 L466.3,360 L467.6,372.8 L468.8,382 L470,389.2 L472,393.5 L474,395.6 L479.5,396.9 L484,397" fill="none" stroke="#e8323a" stroke-width="0.7"/>
<line x1="437.50" y1="326.00" x2="437.50" y2="396.00" stroke="#e8323a" stroke-width="0.7"/>
<text x="496.00" y="331.65" font-size="6.8" fill="#555" textLength="11.90" lengthAdjust="spacingAndGlyphs">IL-7</text>
<text x="479.90" y="339.85" font-size="6.8" fill="#e8323a" textLength="28.00" lengthAdjust="spacingAndGlyphs">IL-7+BAF</text>
<text x="400.40" y="367.17" font-size="8.8" text-anchor="middle" textLength="48.95" lengthAdjust="spacingAndGlyphs" transform="rotate(-90 400.40 364.00)" stroke="#231f20" stroke-width="0.05">Normalized</text>
<text x="412.70" y="367.17" font-size="8.8" text-anchor="middle" textLength="34.97" lengthAdjust="spacingAndGlyphs" transform="rotate(-90 412.70 364.00)" stroke="#231f20" stroke-width="0.05">to mode</text>
<text x="436.00" y="417.07" font-size="8.8" textLength="47.60" lengthAdjust="spacingAndGlyphs" stroke="#231f20" stroke-width="0.05">Autophagy</text>
<text x="436.00" y="428.17" font-size="8.8" textLength="16.40" lengthAdjust="spacingAndGlyphs" stroke="#231f20" stroke-width="0.05">flux</text>
<line x1="484.50" y1="414.70" x2="505.80" y2="414.70" stroke="#4a5876" stroke-width="1.3"/>
<path d="M510.00,414.70 L505.80,416.80 L505.80,412.60 Z" fill="#4a5876"/>
<line x1="550.80" y1="323.40" x2="550.80" y2="408.40" stroke="#3a3a3a" stroke-width="0.7"/>
<line x1="548.60" y1="408.40" x2="550.80" y2="408.40" stroke="#3a3a3a" stroke-width="0.7"/>
<text x="545.60" y="411.28" font-size="8.0" text-anchor="end" textLength="4.63" lengthAdjust="spacingAndGlyphs" stroke="#231f20" stroke-width="0.05">0</text>
<line x1="548.60" y1="391.40" x2="550.80" y2="391.40" stroke="#3a3a3a" stroke-width="0.7"/>
<text x="545.60" y="394.28" font-size="8.0" text-anchor="end" textLength="4.63" lengthAdjust="spacingAndGlyphs" stroke="#231f20" stroke-width="0.05">2</text>
<line x1="548.60" y1="374.50" x2="550.80" y2="374.50" stroke="#3a3a3a" stroke-width="0.7"/>
<text x="545.60" y="377.38" font-size="8.0" text-anchor="end" textLength="4.63" lengthAdjust="spacingAndGlyphs" stroke="#231f20" stroke-width="0.05">4</text>
<line x1="548.60" y1="357.50" x2="550.80" y2="357.50" stroke="#3a3a3a" stroke-width="0.7"/>
<text x="545.60" y="360.38" font-size="8.0" text-anchor="end" textLength="4.63" lengthAdjust="spacingAndGlyphs" stroke="#231f20" stroke-width="0.05">6</text>
<line x1="548.60" y1="340.50" x2="550.80" y2="340.50" stroke="#3a3a3a" stroke-width="0.7"/>
<text x="545.60" y="343.38" font-size="8.0" text-anchor="end" textLength="4.63" lengthAdjust="spacingAndGlyphs" stroke="#231f20" stroke-width="0.05">8</text>
<line x1="548.60" y1="323.40" x2="550.80" y2="323.40" stroke="#3a3a3a" stroke-width="0.7"/>
<text x="545.60" y="326.28" font-size="8.0" text-anchor="end" textLength="9.25" lengthAdjust="spacingAndGlyphs" stroke="#231f20" stroke-width="0.05">10</text>
<line x1="550.80" y1="408.40" x2="600.70" y2="408.40" stroke="#3a3a3a" stroke-width="0.7"/>
<text x="530.80" y="371.77" font-size="8.8" text-anchor="middle" textLength="68.00" lengthAdjust="spacingAndGlyphs" transform="rotate(-90 530.80 368.60)" stroke="#231f20" stroke-width="0.05">Autophagy flux</text>
<text x="564.60" y="319.68" font-size="6.6" textLength="22.80" lengthAdjust="spacingAndGlyphs">0.0015</text>
<line x1="565.00" y1="321.70" x2="586.00" y2="321.70" stroke="#a0a0a0" stroke-width="0.7"/>
<line x1="565.00" y1="337.30" x2="586.20" y2="390.00" stroke="#888" stroke-width="0.5" stroke-dasharray="1.5,1"/>
<line x1="565.00" y1="345.80" x2="586.20" y2="391.50" stroke="#888" stroke-width="0.5" stroke-dasharray="1.5,1"/>
<line x1="565.00" y1="351.00" x2="586.20" y2="392.50" stroke="#888" stroke-width="0.5" stroke-dasharray="1.5,1"/>
<line x1="565.00" y1="364.00" x2="586.20" y2="393.00" stroke="#888" stroke-width="0.5" stroke-dasharray="1.5,1"/>
<circle cx="565.00" cy="337.30" r="2.20" fill="none" stroke="#555" stroke-width="0.7"/>
<circle cx="565.00" cy="345.80" r="2.20" fill="none" stroke="#555" stroke-width="0.7"/>
<circle cx="565.00" cy="351.00" r="2.20" fill="none" stroke="#555" stroke-width="0.7"/>
<circle cx="565.00" cy="364.00" r="2.20" fill="none" stroke="#555" stroke-width="0.7"/>
<circle cx="586.20" cy="390.00" r="2.20" fill="none" stroke="#e8323a" stroke-width="0.7"/>
<circle cx="586.20" cy="391.50" r="2.20" fill="none" stroke="#e8323a" stroke-width="0.7"/>
<circle cx="586.20" cy="392.50" r="2.20" fill="none" stroke="#e8323a" stroke-width="0.7"/>
<circle cx="586.20" cy="393.00" r="2.20" fill="none" stroke="#e8323a" stroke-width="0.7"/>
<circle cx="596.60" cy="330.60" r="2.20" fill="none" stroke="#555" stroke-width="0.7"/>
<text x="603.80" y="333.26" font-size="7.4" fill="#444" textLength="13.70" lengthAdjust="spacingAndGlyphs">IL-7</text>
<circle cx="596.60" cy="341.00" r="2.20" fill="none" stroke="#e8323a" stroke-width="0.7"/>
<text x="603.80" y="343.66" font-size="7.4" fill="#e8323a" textLength="30.60" lengthAdjust="spacingAndGlyphs">IL-7+BAF</text>
<text x="0" y="443.5" font-size="14.5" font-weight="bold" fill="#000" textLength="5.50" lengthAdjust="spacingAndGlyphs" stroke="#000" stroke-width="0.05">j</text>
<rect x="28.30" y="460.60" width="73.30" height="73.00" fill="none" stroke="#444" stroke-width="0.8"/>
<line x1="28.30" y1="533.60" x2="101.60" y2="460.60" stroke="#7c7c7c" stroke-width="0.75" stroke-dasharray="3,2"/>
<line x1="26.70" y1="465.90" x2="28.30" y2="465.90" stroke="#444" stroke-width="0.6"/>
<text x="25.30" y="468.49" font-size="7.2" text-anchor="end">10<tspan dy="-2.6" font-size="4.3">5</tspan></text>
<line x1="26.70" y1="481.00" x2="28.30" y2="481.00" stroke="#444" stroke-width="0.6"/>
<text x="25.30" y="483.59" font-size="7.2" text-anchor="end">10<tspan dy="-2.6" font-size="4.3">4</tspan></text>
<line x1="26.70" y1="496.00" x2="28.30" y2="496.00" stroke="#444" stroke-width="0.6"/>
<text x="25.30" y="498.59" font-size="7.2" text-anchor="end">10<tspan dy="-2.6" font-size="4.3">3</tspan></text>
<line x1="26.70" y1="510.50" x2="28.30" y2="510.50" stroke="#444" stroke-width="0.6"/>
<text x="25.30" y="513.09" font-size="7.2" text-anchor="end">10<tspan dy="-2.6" font-size="4.3">2</tspan></text>
<line x1="26.70" y1="525.00" x2="28.30" y2="525.00" stroke="#444" stroke-width="0.6"/>
<text x="25.30" y="527.59" font-size="7.2" text-anchor="end">10<tspan dy="-2.6" font-size="4.3">1</tspan></text>
<path d="M27.2 520.6h1.1M27.2 518.0h1.1M27.2 516.1h1.1M27.2 514.7h1.1M27.2 513.5h1.1M27.2 512.5h1.1M27.2 511.7h1.1M27.2 510.9h1.1M27.2 505.8h1.1M27.2 503.2h1.1M27.2 501.3h1.1M27.2 499.9h1.1M27.2 498.7h1.1M27.2 497.7h1.1M27.2 496.9h1.1M27.2 496.1h1.1M27.2 491.0h1.1M27.2 488.4h1.1M27.2 486.6h1.1M27.2 485.1h1.1M27.2 484.0h1.1M27.2 483.0h1.1M27.2 482.1h1.1M27.2 481.4h1.1M27.2 476.2h1.1M27.2 473.6h1.1M27.2 471.8h1.1M27.2 470.3h1.1M27.2 469.2h1.1M27.2 468.2h1.1M27.2 467.3h1.1M27.2 466.6h1.1M27.2 461.5h1.1" stroke="#444" stroke-width="0.4" fill="none"/>
<path d="M42.3 533.6v1.1M44.8 533.6v1.1M46.6 533.6v1.1M47.9 533.6v1.1M49.1 533.6v1.1M50.0 533.6v1.1M50.8 533.6v1.1M51.6 533.6v1.1M56.5 533.6v1.1M59.0 533.6v1.1M60.8 533.6v1.1M62.2 533.6v1.1M63.3 533.6v1.1M64.2 533.6v1.1M65.1 533.6v1.1M65.8 533.6v1.1M70.7 533.6v1.1M73.2 533.6v1.1M75.0 533.6v1.1M76.4 533.6v1.1M77.5 533.6v1.1M78.5 533.6v1.1M79.3 533.6v1.1M80.0 533.6v1.1M85.0 533.6v1.1M87.5 533.6v1.1M89.2 533.6v1.1M90.6 533.6v1.1M91.7 533.6v1.1M92.7 533.6v1.1M93.5 533.6v1.1M94.2 533.6v1.1M99.2 533.6v1.1" stroke="#444" stroke-width="0.4" fill="none"/>
<line x1="38.00" y1="533.60" x2="38.00" y2="535.20" stroke="#444" stroke-width="0.6"/>
<text x="38.00" y="544.39" font-size="7.2" text-anchor="middle">10<tspan dy="-2.6" font-size="4.3">1</tspan></text>
<line x1="52.00" y1="533.60" x2="52.00" y2="535.20" stroke="#444" stroke-width="0.6"/>
<text x="52.00" y="544.39" font-size="7.2" text-anchor="middle">10<tspan dy="-2.6" font-size="4.3">2</tspan></text>
<line x1="66.60" y1="533.60" x2="66.60" y2="535.20" stroke="#444" stroke-width="0.6"/>
<text x="66.60" y="544.39" font-size="7.2" text-anchor="middle">10<tspan dy="-2.6" font-size="4.3">3</tspan></text>
<line x1="80.30" y1="533.60" x2="80.30" y2="535.20" stroke="#444" stroke-width="0.6"/>
<text x="80.30" y="544.39" font-size="7.2" text-anchor="middle">10<tspan dy="-2.6" font-size="4.3">4</tspan></text>
<line x1="94.90" y1="533.60" x2="94.90" y2="535.20" stroke="#444" stroke-width="0.6"/>
<text x="94.90" y="544.39" font-size="7.2" text-anchor="middle">10<tspan dy="-2.6" font-size="4.3">5</tspan></text>
<text x="28.60" y="457.97" font-size="8.8" textLength="45.90" lengthAdjust="spacingAndGlyphs" stroke="#231f20" stroke-width="0.05">Naive CD8</text>
<rect x="120.30" y="460.60" width="73.90" height="73.00" fill="none" stroke="#444" stroke-width="0.8"/>
<line x1="120.30" y1="533.60" x2="194.20" y2="460.60" stroke="#7c7c7c" stroke-width="0.75" stroke-dasharray="3,2"/>
<line x1="118.70" y1="465.90" x2="120.30" y2="465.90" stroke="#444" stroke-width="0.6"/>
<text x="117.30" y="468.49" font-size="7.2" text-anchor="end">10<tspan dy="-2.6" font-size="4.3">5</tspan></text>
<line x1="118.70" y1="481.00" x2="120.30" y2="481.00" stroke="#444" stroke-width="0.6"/>
<text x="117.30" y="483.59" font-size="7.2" text-anchor="end">10<tspan dy="-2.6" font-size="4.3">4</tspan></text>
<line x1="118.70" y1="496.00" x2="120.30" y2="496.00" stroke="#444" stroke-width="0.6"/>
<text x="117.30" y="498.59" font-size="7.2" text-anchor="end">10<tspan dy="-2.6" font-size="4.3">3</tspan></text>
<line x1="118.70" y1="510.50" x2="120.30" y2="510.50" stroke="#444" stroke-width="0.6"/>
<text x="117.30" y="513.09" font-size="7.2" text-anchor="end">10<tspan dy="-2.6" font-size="4.3">2</tspan></text>
<line x1="118.70" y1="525.00" x2="120.30" y2="525.00" stroke="#444" stroke-width="0.6"/>
<text x="117.30" y="527.59" font-size="7.2" text-anchor="end">10<tspan dy="-2.6" font-size="4.3">1</tspan></text>
<path d="M119.2 520.6h1.1M119.2 518.0h1.1M119.2 516.1h1.1M119.2 514.7h1.1M119.2 513.5h1.1M119.2 512.5h1.1M119.2 511.7h1.1M119.2 510.9h1.1M119.2 505.8h1.1M119.2 503.2h1.1M119.2 501.3h1.1M119.2 499.9h1.1M119.2 498.7h1.1M119.2 497.7h1.1M119.2 496.9h1.1M119.2 496.1h1.1M119.2 491.0h1.1M119.2 488.4h1.1M119.2 486.6h1.1M119.2 485.1h1.1M119.2 484.0h1.1M119.2 483.0h1.1M119.2 482.1h1.1M119.2 481.4h1.1M119.2 476.2h1.1M119.2 473.6h1.1M119.2 471.8h1.1M119.2 470.3h1.1M119.2 469.2h1.1M119.2 468.2h1.1M119.2 467.3h1.1M119.2 466.6h1.1M119.2 461.5h1.1" stroke="#444" stroke-width="0.4" fill="none"/>
<path d="M134.4 533.6v1.1M137.0 533.6v1.1M138.8 533.6v1.1M140.3 533.6v1.1M141.4 533.6v1.1M142.4 533.6v1.1M143.3 533.6v1.1M144.0 533.6v1.1M149.2 533.6v1.1M151.8 533.6v1.1M153.7 533.6v1.1M155.1 533.6v1.1M156.3 533.6v1.1M157.3 533.6v1.1M158.1 533.6v1.1M158.9 533.6v1.1M164.0 533.6v1.1M166.6 533.6v1.1M168.5 533.6v1.1M169.9 533.6v1.1M171.1 533.6v1.1M172.1 533.6v1.1M172.9 533.6v1.1M173.7 533.6v1.1M178.8 533.6v1.1M181.4 533.6v1.1M183.3 533.6v1.1M184.7 533.6v1.1M185.9 533.6v1.1M186.9 533.6v1.1M187.8 533.6v1.1M188.5 533.6v1.1M193.7 533.6v1.1" stroke="#444" stroke-width="0.4" fill="none"/>
<line x1="129.90" y1="533.60" x2="129.90" y2="535.20" stroke="#444" stroke-width="0.6"/>
<text x="129.90" y="544.39" font-size="7.2" text-anchor="middle">10<tspan dy="-2.6" font-size="4.3">1</tspan></text>
<line x1="144.50" y1="533.60" x2="144.50" y2="535.20" stroke="#444" stroke-width="0.6"/>
<text x="144.50" y="544.39" font-size="7.2" text-anchor="middle">10<tspan dy="-2.6" font-size="4.3">2</tspan></text>
<line x1="159.10" y1="533.60" x2="159.10" y2="535.20" stroke="#444" stroke-width="0.6"/>
<text x="159.10" y="544.39" font-size="7.2" text-anchor="middle">10<tspan dy="-2.6" font-size="4.3">3</tspan></text>
<line x1="174.30" y1="533.60" x2="174.30" y2="535.20" stroke="#444" stroke-width="0.6"/>
<text x="174.30" y="544.39" font-size="7.2" text-anchor="middle">10<tspan dy="-2.6" font-size="4.3">4</tspan></text>
<line x1="189.20" y1="533.60" x2="189.20" y2="535.20" stroke="#444" stroke-width="0.6"/>
<text x="189.20" y="544.39" font-size="7.2" text-anchor="middle">10<tspan dy="-2.6" font-size="4.3">5</tspan></text>
<text x="120.30" y="457.97" font-size="8.8" textLength="13.40" lengthAdjust="spacingAndGlyphs" stroke="#231f20" stroke-width="0.05">4 h</text>
<rect x="214.50" y="460.60" width="72.90" height="73.00" fill="none" stroke="#444" stroke-width="0.8"/>
<line x1="214.50" y1="533.60" x2="287.40" y2="460.60" stroke="#7c7c7c" stroke-width="0.75" stroke-dasharray="3,2"/>
<line x1="212.90" y1="465.90" x2="214.50" y2="465.90" stroke="#444" stroke-width="0.6"/>
<text x="211.50" y="468.49" font-size="7.2" text-anchor="end">10<tspan dy="-2.6" font-size="4.3">5</tspan></text>
<line x1="212.90" y1="481.00" x2="214.50" y2="481.00" stroke="#444" stroke-width="0.6"/>
<text x="211.50" y="483.59" font-size="7.2" text-anchor="end">10<tspan dy="-2.6" font-size="4.3">4</tspan></text>
<line x1="212.90" y1="496.00" x2="214.50" y2="496.00" stroke="#444" stroke-width="0.6"/>
<text x="211.50" y="498.59" font-size="7.2" text-anchor="end">10<tspan dy="-2.6" font-size="4.3">3</tspan></text>
<line x1="212.90" y1="510.50" x2="214.50" y2="510.50" stroke="#444" stroke-width="0.6"/>
<text x="211.50" y="513.09" font-size="7.2" text-anchor="end">10<tspan dy="-2.6" font-size="4.3">2</tspan></text>
<line x1="212.90" y1="525.00" x2="214.50" y2="525.00" stroke="#444" stroke-width="0.6"/>
<text x="211.50" y="527.59" font-size="7.2" text-anchor="end">10<tspan dy="-2.6" font-size="4.3">1</tspan></text>
<path d="M213.4 520.6h1.1M213.4 518.0h1.1M213.4 516.1h1.1M213.4 514.7h1.1M213.4 513.5h1.1M213.4 512.5h1.1M213.4 511.7h1.1M213.4 510.9h1.1M213.4 505.8h1.1M213.4 503.2h1.1M213.4 501.3h1.1M213.4 499.9h1.1M213.4 498.7h1.1M213.4 497.7h1.1M213.4 496.9h1.1M213.4 496.1h1.1M213.4 491.0h1.1M213.4 488.4h1.1M213.4 486.6h1.1M213.4 485.1h1.1M213.4 484.0h1.1M213.4 483.0h1.1M213.4 482.1h1.1M213.4 481.4h1.1M213.4 476.2h1.1M213.4 473.6h1.1M213.4 471.8h1.1M213.4 470.3h1.1M213.4 469.2h1.1M213.4 468.2h1.1M213.4 467.3h1.1M213.4 466.6h1.1M213.4 461.5h1.1" stroke="#444" stroke-width="0.4" fill="none"/>
<path d="M226.7 533.6v1.1M229.3 533.6v1.1M231.1 533.6v1.1M232.5 533.6v1.1M233.7 533.6v1.1M234.6 533.6v1.1M235.5 533.6v1.1M236.2 533.6v1.1M241.3 533.6v1.1M243.9 533.6v1.1M245.7 533.6v1.1M247.1 533.6v1.1M248.3 533.6v1.1M249.2 533.6v1.1M250.1 533.6v1.1M250.8 533.6v1.1M255.9 533.6v1.1M258.5 533.6v1.1M260.3 533.6v1.1M261.7 533.6v1.1M262.9 533.6v1.1M263.8 533.6v1.1M264.7 533.6v1.1M265.4 533.6v1.1M270.5 533.6v1.1M273.1 533.6v1.1M274.9 533.6v1.1M276.3 533.6v1.1M277.5 533.6v1.1M278.4 533.6v1.1M279.3 533.6v1.1M280.0 533.6v1.1M285.1 533.6v1.1" stroke="#444" stroke-width="0.4" fill="none"/>
<line x1="222.30" y1="533.60" x2="222.30" y2="535.20" stroke="#444" stroke-width="0.6"/>
<text x="222.30" y="544.39" font-size="7.2" text-anchor="middle">10<tspan dy="-2.6" font-size="4.3">1</tspan></text>
<line x1="236.90" y1="533.60" x2="236.90" y2="535.20" stroke="#444" stroke-width="0.6"/>
<text x="236.90" y="544.39" font-size="7.2" text-anchor="middle">10<tspan dy="-2.6" font-size="4.3">2</tspan></text>
<line x1="251.50" y1="533.60" x2="251.50" y2="535.20" stroke="#444" stroke-width="0.6"/>
<text x="251.50" y="544.39" font-size="7.2" text-anchor="middle">10<tspan dy="-2.6" font-size="4.3">3</tspan></text>
<line x1="266.70" y1="533.60" x2="266.70" y2="535.20" stroke="#444" stroke-width="0.6"/>
<text x="266.70" y="544.39" font-size="7.2" text-anchor="middle">10<tspan dy="-2.6" font-size="4.3">4</tspan></text>
<line x1="280.70" y1="533.60" x2="280.70" y2="535.20" stroke="#444" stroke-width="0.6"/>
<text x="280.70" y="544.39" font-size="7.2" text-anchor="middle">10<tspan dy="-2.6" font-size="4.3">5</tspan></text>
<text x="213.60" y="457.97" font-size="8.8" textLength="19.50" lengthAdjust="spacingAndGlyphs" stroke="#231f20" stroke-width="0.05">24 h</text>
<rect x="306.40" y="460.60" width="72.90" height="73.00" fill="none" stroke="#444" stroke-width="0.8"/>
<line x1="306.40" y1="533.60" x2="379.30" y2="460.60" stroke="#7c7c7c" stroke-width="0.75" stroke-dasharray="3,2"/>
<line x1="304.80" y1="465.90" x2="306.40" y2="465.90" stroke="#444" stroke-width="0.6"/>
<text x="303.40" y="468.49" font-size="7.2" text-anchor="end">10<tspan dy="-2.6" font-size="4.3">5</tspan></text>
<line x1="304.80" y1="481.00" x2="306.40" y2="481.00" stroke="#444" stroke-width="0.6"/>
<text x="303.40" y="483.59" font-size="7.2" text-anchor="end">10<tspan dy="-2.6" font-size="4.3">4</tspan></text>
<line x1="304.80" y1="496.00" x2="306.40" y2="496.00" stroke="#444" stroke-width="0.6"/>
<text x="303.40" y="498.59" font-size="7.2" text-anchor="end">10<tspan dy="-2.6" font-size="4.3">3</tspan></text>
<line x1="304.80" y1="510.50" x2="306.40" y2="510.50" stroke="#444" stroke-width="0.6"/>
<text x="303.40" y="513.09" font-size="7.2" text-anchor="end">10<tspan dy="-2.6" font-size="4.3">2</tspan></text>
<line x1="304.80" y1="525.00" x2="306.40" y2="525.00" stroke="#444" stroke-width="0.6"/>
<text x="303.40" y="527.59" font-size="7.2" text-anchor="end">10<tspan dy="-2.6" font-size="4.3">1</tspan></text>
<path d="M305.3 520.6h1.1M305.3 518.0h1.1M305.3 516.1h1.1M305.3 514.7h1.1M305.3 513.5h1.1M305.3 512.5h1.1M305.3 511.7h1.1M305.3 510.9h1.1M305.3 505.8h1.1M305.3 503.2h1.1M305.3 501.3h1.1M305.3 499.9h1.1M305.3 498.7h1.1M305.3 497.7h1.1M305.3 496.9h1.1M305.3 496.1h1.1M305.3 491.0h1.1M305.3 488.4h1.1M305.3 486.6h1.1M305.3 485.1h1.1M305.3 484.0h1.1M305.3 483.0h1.1M305.3 482.1h1.1M305.3 481.4h1.1M305.3 476.2h1.1M305.3 473.6h1.1M305.3 471.8h1.1M305.3 470.3h1.1M305.3 469.2h1.1M305.3 468.2h1.1M305.3 467.3h1.1M305.3 466.6h1.1M305.3 461.5h1.1" stroke="#444" stroke-width="0.4" fill="none"/>
<path d="M320.1 533.6v1.1M322.7 533.6v1.1M324.5 533.6v1.1M325.8 533.6v1.1M327.0 533.6v1.1M327.9 533.6v1.1M328.8 533.6v1.1M329.5 533.6v1.1M334.5 533.6v1.1M337.0 533.6v1.1M338.8 533.6v1.1M340.2 533.6v1.1M341.4 533.6v1.1M342.3 533.6v1.1M343.2 533.6v1.1M343.9 533.6v1.1M348.9 533.6v1.1M351.4 533.6v1.1M353.2 533.6v1.1M354.6 533.6v1.1M355.7 533.6v1.1M356.7 533.6v1.1M357.5 533.6v1.1M358.3 533.6v1.1M363.3 533.6v1.1M365.8 533.6v1.1M367.6 533.6v1.1M369.0 533.6v1.1M370.1 533.6v1.1M371.1 533.6v1.1M371.9 533.6v1.1M372.6 533.6v1.1M377.6 533.6v1.1" stroke="#444" stroke-width="0.4" fill="none"/>
<line x1="315.80" y1="533.60" x2="315.80" y2="535.20" stroke="#444" stroke-width="0.6"/>
<text x="315.80" y="544.39" font-size="7.2" text-anchor="middle">10<tspan dy="-2.6" font-size="4.3">1</tspan></text>
<line x1="331.80" y1="533.60" x2="331.80" y2="535.20" stroke="#444" stroke-width="0.6"/>
<text x="331.80" y="544.39" font-size="7.2" text-anchor="middle">10<tspan dy="-2.6" font-size="4.3">2</tspan></text>
<line x1="346.40" y1="533.60" x2="346.40" y2="535.20" stroke="#444" stroke-width="0.6"/>
<text x="346.40" y="544.39" font-size="7.2" text-anchor="middle">10<tspan dy="-2.6" font-size="4.3">3</tspan></text>
<line x1="360.10" y1="533.60" x2="360.10" y2="535.20" stroke="#444" stroke-width="0.6"/>
<text x="360.10" y="544.39" font-size="7.2" text-anchor="middle">10<tspan dy="-2.6" font-size="4.3">4</tspan></text>
<line x1="373.30" y1="533.60" x2="373.30" y2="535.20" stroke="#444" stroke-width="0.6"/>
<text x="373.30" y="544.39" font-size="7.2" text-anchor="middle">10<tspan dy="-2.6" font-size="4.3">5</tspan></text>
<text x="304.00" y="457.97" font-size="8.8" textLength="16.70" lengthAdjust="spacingAndGlyphs" stroke="#231f20" stroke-width="0.05">CTL</text>
<text x="173.70" y="445.67" font-size="8.8" textLength="46.60" lengthAdjust="spacingAndGlyphs" stroke="#231f20" stroke-width="0.05">CD3/CD28</text>
<line x1="113.30" y1="448.40" x2="270.50" y2="448.40" stroke="#aaaaaa" stroke-width="0.8"/>
<line x1="9.60" y1="512.60" x2="9.60" y2="464.20" stroke="#4a5876" stroke-width="1.3"/>
<path d="M9.60,460.00 L11.70,464.20 L7.50,464.20 Z" fill="#4a5876"/>
<text x="10.50" y="528.97" font-size="8.8" text-anchor="middle" textLength="19.90" lengthAdjust="spacingAndGlyphs" transform="rotate(-90 10.50 525.80)" stroke="#231f20" stroke-width="0.05">GFP</text>
<text x="26.90" y="552.17" font-size="8.8" textLength="37.90" lengthAdjust="spacingAndGlyphs" stroke="#231f20" stroke-width="0.05">mCherry</text>
<line x1="69.20" y1="549.00" x2="374.30" y2="549.00" stroke="#4a5876" stroke-width="1.3"/>
<path d="M378.50,549.00 L374.30,551.10 L374.30,546.90 Z" fill="#4a5876"/>
<path fill="#888" d="M75.0 527.0h.5v.5h-.5zM66.5 507.1h.5v.5h-.5zM58.4 514.3h.5v.5h-.5zM58.8 501.1h.5v.5h-.5zM67.4 515.2h.5v.5h-.5zM69.8 505.8h.5v.5h-.5zM66.0 513.4h.5v.5h-.5zM55.5 518.8h.5v.5h-.5zM67.4 512.7h.5v.5h-.5zM74.6 515.8h.5v.5h-.5zM72.4 510.7h.5v.5h-.5zM67.5 523.2h.5v.5h-.5zM70.9 515.2h.5v.5h-.5zM58.4 518.0h.5v.5h-.5zM66.5 520.5h.5v.5h-.5zM67.5 523.8h.5v.5h-.5zM65.6 515.8h.5v.5h-.5zM70.7 504.2h.5v.5h-.5zM63.2 509.5h.5v.5h-.5zM79.9 513.2h.5v.5h-.5zM70.6 519.6h.5v.5h-.5zM64.0 500.0h.5v.5h-.5zM72.8 510.3h.5v.5h-.5zM71.0 502.3h.5v.5h-.5z"/>
<path d="M77.2,511.5C77.3,513.3 76.6,515.5 76.0,517.1C75.4,518.7 74.3,519.9 73.4,521.1C72.5,522.3 71.6,523.5 70.5,524.1C69.5,524.7 68.3,524.8 67.1,524.8C65.9,524.8 64.8,524.7 63.6,524.3C62.4,523.9 60.8,523.6 59.9,522.4C59.0,521.2 58.5,518.9 58.3,517.1C58.1,515.3 58.6,513.3 58.8,511.5C58.9,509.7 58.7,508.1 59.0,506.4C59.3,504.7 59.7,502.7 60.4,501.3C61.1,499.9 62.4,499.0 63.5,498.2C64.6,497.5 65.9,496.8 67.1,496.8C68.3,496.8 69.7,497.5 70.7,498.4C71.6,499.4 72.2,501.3 72.9,502.6C73.7,503.9 74.6,504.9 75.3,506.4C76.0,507.8 77.0,509.7 77.2,511.5 Z" fill="none" stroke="#111" stroke-width="0.55"/>
<path d="M74.7,511.0C74.7,512.6 74.9,514.1 74.7,515.8C74.5,517.4 74.4,519.7 73.6,521.0C72.9,522.2 71.5,522.9 70.4,523.2C69.3,523.5 68.2,523.2 67.1,523.0C66.0,522.9 65.0,522.9 64.0,522.4C63.0,521.9 62.1,520.9 61.3,519.8C60.6,518.7 59.9,517.4 59.3,515.9C58.7,514.5 58.0,512.6 57.9,511.0C57.9,509.4 58.6,507.4 59.2,506.0C59.9,504.7 61.0,504.0 61.8,502.9C62.6,501.9 63.1,500.6 64.0,499.7C64.9,498.8 66.0,497.7 67.1,497.5C68.2,497.4 69.4,498.2 70.4,498.9C71.4,499.6 72.4,500.5 73.2,501.8C73.9,503.0 74.5,504.6 74.8,506.2C75.0,507.7 74.7,509.4 74.7,511.0 Z" fill="none" stroke="#111" stroke-width="0.55"/>
<path d="M74.2,510.5C74.1,511.9 73.8,513.1 73.5,514.6C73.3,516.0 73.3,517.9 72.8,519.1C72.2,520.4 71.2,521.7 70.3,522.1C69.3,522.5 68.1,521.9 67.1,521.6C66.1,521.4 65.2,521.0 64.4,520.5C63.5,520.0 62.6,519.4 61.9,518.5C61.2,517.5 60.7,516.2 60.2,514.8C59.8,513.5 59.2,512.0 59.1,510.5C59.0,509.0 59.1,507.0 59.6,505.8C60.1,504.5 61.3,503.7 62.1,502.9C62.9,502.1 63.6,501.6 64.5,500.9C65.3,500.2 66.2,498.9 67.1,498.7C68.0,498.4 69.2,498.7 70.1,499.3C71.1,499.9 71.9,501.1 72.5,502.2C73.2,503.3 73.9,504.7 74.2,506.0C74.5,507.4 74.3,509.1 74.2,510.5 Z" fill="none" stroke="#111" stroke-width="0.55"/>
<path d="M74.2,510.0C74.2,511.3 73.7,512.7 73.2,513.9C72.8,515.1 72.4,516.2 71.8,517.1C71.2,518.0 70.3,518.6 69.6,519.1C68.8,519.5 68.0,519.7 67.1,519.8C66.2,520.0 65.2,520.4 64.4,520.1C63.5,519.7 62.5,518.8 62.0,517.7C61.5,516.7 61.4,515.0 61.2,513.7C61.0,512.4 60.9,511.3 60.8,510.0C60.7,508.7 60.6,507.3 60.8,506.1C61.1,504.8 61.7,503.6 62.3,502.6C62.9,501.7 63.6,500.7 64.4,500.2C65.2,499.6 66.3,499.2 67.1,499.4C67.9,499.6 68.8,500.5 69.5,501.2C70.2,501.8 70.8,502.5 71.5,503.3C72.2,504.1 73.2,504.8 73.6,505.9C74.1,507.0 74.3,508.7 74.2,510.0 Z" fill="#111" stroke="#111" stroke-width="0.55"/>
<path d="M71.9,509.9C71.8,511.1 71.1,512.0 70.8,513.1C70.4,514.3 70.4,516.1 69.7,516.9C69.1,517.7 67.9,518.0 67.1,517.8C66.3,517.6 65.6,516.3 64.9,515.6C64.2,514.9 63.4,514.5 63.0,513.5C62.5,512.6 62.3,511.2 62.2,509.9C62.1,508.6 61.9,506.7 62.4,505.8C62.8,504.8 64.1,504.6 64.9,504.1C65.7,503.7 66.3,503.3 67.1,503.1C67.9,502.9 69.0,502.4 69.8,502.9C70.5,503.4 71.0,505.0 71.4,506.2C71.7,507.3 72.0,508.7 71.9,509.9 Z" fill="none" stroke="#fff" stroke-width="0.3" opacity="0.7"/>
<path d="M70.7,509.2C70.8,510.0 70.7,511.2 70.4,511.9C70.1,512.5 69.4,512.8 68.9,513.1C68.4,513.4 67.9,513.8 67.4,513.8C66.9,513.8 66.4,513.5 65.9,513.2C65.4,512.9 64.5,512.6 64.3,511.9C64.0,511.3 64.2,510.0 64.3,509.2C64.5,508.4 64.7,507.8 65.0,507.0C65.2,506.3 65.3,505.3 65.7,504.8C66.1,504.3 66.8,504.2 67.4,504.2C67.9,504.2 68.6,504.4 69.0,504.9C69.4,505.3 69.5,506.4 69.7,507.1C70.0,507.9 70.5,508.4 70.7,509.2 Z" fill="none" stroke="#fff" stroke-width="0.3" opacity="0.7"/>
<ellipse cx="67.1" cy="510.0" rx="0.8" ry="1.4" fill="#fff"/>
<path fill="#888" d="M176.7 506.7h.5v.5h-.5zM161.2 515.6h.5v.5h-.5zM164.7 498.6h.5v.5h-.5zM154.7 505.7h.5v.5h-.5zM149.4 504.7h.5v.5h-.5zM153.9 510.8h.5v.5h-.5zM150.7 518.6h.5v.5h-.5zM153.6 478.8h.5v.5h-.5zM167.5 509.7h.5v.5h-.5zM152.1 517.0h.5v.5h-.5zM159.8 514.6h.5v.5h-.5zM151.2 516.1h.5v.5h-.5zM145.7 529.9h.5v.5h-.5zM147.9 511.7h.5v.5h-.5zM158.2 516.4h.5v.5h-.5zM156.0 519.3h.5v.5h-.5zM128.9 511.4h.5v.5h-.5zM155.7 507.8h.5v.5h-.5zM169.2 501.8h.5v.5h-.5zM156.3 490.2h.5v.5h-.5zM159.1 494.6h.5v.5h-.5zM162.6 512.5h.5v.5h-.5zM158.3 496.6h.5v.5h-.5zM148.5 517.2h.5v.5h-.5zM139.8 515.6h.5v.5h-.5zM142.9 513.9h.5v.5h-.5zM147.9 532.1h.5v.5h-.5zM165.2 506.8h.5v.5h-.5zM141.6 503.8h.5v.5h-.5zM156.5 501.5h.5v.5h-.5zM159.2 523.6h.5v.5h-.5zM156.5 507.7h.5v.5h-.5zM163.3 509.2h.5v.5h-.5zM163.8 509.0h.5v.5h-.5zM170.1 509.4h.5v.5h-.5zM148.3 513.6h.5v.5h-.5zM151.8 502.1h.5v.5h-.5zM155.9 520.9h.5v.5h-.5zM139.4 512.1h.5v.5h-.5z"/>
<path d="M167.2,505.8C167.8,507.8 168.8,510.2 169.0,512.2C169.1,514.3 168.6,516.8 167.9,518.3C167.2,519.7 165.9,520.3 164.8,521.0C163.8,521.7 162.8,522.4 161.7,522.6C160.6,522.8 159.4,522.7 158.2,522.2C157.1,521.6 156.0,520.5 154.8,519.4C153.7,518.2 152.3,517.1 151.4,515.3C150.5,513.6 149.6,511.0 149.5,508.9C149.3,506.8 150.1,504.7 150.4,502.8C150.7,501.0 151.0,499.5 151.4,497.8C151.8,496.1 152.0,493.7 152.8,492.5C153.6,491.3 154.9,490.7 156.1,490.5C157.2,490.3 158.6,490.7 159.8,491.3C161.0,492.0 162.4,493.0 163.4,494.5C164.3,495.9 164.9,498.3 165.6,500.2C166.2,502.0 166.6,503.7 167.2,505.8 Z" fill="none" stroke="#111" stroke-width="0.55"/>
<path d="M166.4,505.4C166.9,507.2 167.9,509.4 168.0,511.3C168.1,513.2 167.8,515.5 167.2,516.8C166.6,518.2 165.3,518.6 164.3,519.3C163.4,519.9 162.5,520.5 161.5,520.7C160.5,520.9 159.4,520.8 158.3,520.3C157.3,519.9 156.3,518.8 155.2,517.7C154.2,516.7 152.9,515.7 152.1,514.1C151.3,512.5 150.5,510.1 150.3,508.2C150.1,506.3 150.8,504.4 151.1,502.7C151.4,501.0 151.7,499.7 152.1,498.2C152.5,496.6 152.7,494.5 153.4,493.4C154.1,492.3 155.3,491.7 156.3,491.5C157.4,491.3 158.6,491.7 159.7,492.3C160.8,492.9 162.1,493.7 163.0,495.1C163.9,496.4 164.5,498.5 165.0,500.3C165.6,502.0 165.9,503.6 166.4,505.4 Z" fill="none" stroke="#111" stroke-width="0.55"/>
<path d="M166.6,504.9C167.1,506.5 167.4,508.8 167.3,510.4C167.1,512.0 166.3,513.3 165.7,514.5C165.1,515.7 164.5,516.7 163.8,517.5C163.0,518.2 162.1,518.8 161.2,518.9C160.3,519.1 159.4,518.7 158.4,518.3C157.4,518.0 156.3,517.9 155.3,517.0C154.3,516.1 153.2,514.6 152.6,513.0C152.1,511.4 152.2,509.1 152.1,507.4C152.0,505.7 152.1,504.3 152.1,502.7C152.1,501.1 151.8,499.1 152.1,497.7C152.4,496.3 153.2,495.0 153.9,494.1C154.6,493.3 155.6,492.8 156.6,492.6C157.6,492.4 158.7,492.4 159.7,493.0C160.6,493.7 161.5,495.3 162.3,496.6C163.1,497.8 163.6,499.2 164.3,500.6C165.0,501.9 166.1,503.2 166.6,504.9 Z" fill="none" stroke="#111" stroke-width="0.55"/>
<path d="M165.9,504.5C166.3,506.0 166.4,507.9 166.2,509.4C166.1,510.8 165.4,512.0 164.9,513.0C164.4,514.1 163.9,515.2 163.3,515.8C162.6,516.5 161.8,516.9 161.0,517.0C160.2,517.2 159.3,516.9 158.4,516.6C157.6,516.4 156.5,516.2 155.7,515.4C154.9,514.6 153.9,513.0 153.5,511.6C153.0,510.2 153.0,508.3 152.9,506.8C152.8,505.3 152.7,503.9 152.7,502.5C152.7,501.0 152.5,499.3 152.9,498.1C153.2,496.8 153.8,495.8 154.5,495.0C155.2,494.3 156.0,493.7 156.9,493.6C157.7,493.4 158.7,493.5 159.6,494.1C160.4,494.7 161.2,496.1 161.9,497.2C162.6,498.3 163.2,499.3 163.8,500.5C164.5,501.7 165.5,503.0 165.9,504.5 Z" fill="#111" stroke="#111" stroke-width="0.55"/>
<path d="M163.9,505.4C164.1,506.7 163.6,507.8 163.5,509.3C163.4,510.7 163.8,512.9 163.4,513.9C162.9,514.8 161.7,515.2 160.9,515.1C160.1,514.9 159.2,513.8 158.4,513.1C157.6,512.5 156.7,512.0 156.1,511.0C155.5,510.0 154.9,508.5 154.6,507.0C154.2,505.5 153.7,503.4 154.0,502.2C154.2,501.1 155.5,500.8 156.1,500.1C156.8,499.4 157.2,498.6 157.9,498.2C158.7,497.8 159.7,497.2 160.5,497.7C161.3,498.2 162.1,499.9 162.7,501.2C163.3,502.4 163.8,504.0 163.9,505.4 Z" fill="none" stroke="#fff" stroke-width="0.3" opacity="0.7"/>
<path d="M161.9,505.4C161.9,506.3 161.7,507.1 161.6,507.9C161.5,508.8 161.6,509.9 161.3,510.6C161.0,511.3 160.4,512.1 159.9,512.1C159.4,512.1 158.7,510.9 158.2,510.4C157.7,509.9 157.1,509.7 156.7,509.0C156.3,508.4 156.0,507.4 155.8,506.4C155.5,505.5 155.2,504.2 155.3,503.4C155.5,502.6 156.1,502.0 156.6,501.6C157.0,501.2 157.5,501.3 158.0,501.1C158.5,500.9 159.0,500.1 159.6,500.4C160.1,500.6 160.6,501.8 161.0,502.6C161.4,503.4 161.8,504.5 161.9,505.4 Z" fill="none" stroke="#fff" stroke-width="0.3" opacity="0.7"/>
<ellipse cx="159.0" cy="505.7" rx="0.8" ry="1.4" fill="#fff"/>
<path fill="#888" d="M250.9 521.8h.5v.5h-.5zM241.6 518.9h.5v.5h-.5zM247.7 505.1h.5v.5h-.5zM267.1 509.7h.5v.5h-.5zM249.6 516.0h.5v.5h-.5zM260.1 507.7h.5v.5h-.5zM255.3 497.3h.5v.5h-.5zM246.7 503.2h.5v.5h-.5zM238.0 491.4h.5v.5h-.5zM235.4 505.4h.5v.5h-.5zM248.4 504.5h.5v.5h-.5zM250.6 493.3h.5v.5h-.5zM249.3 510.6h.5v.5h-.5zM256.8 498.7h.5v.5h-.5zM246.4 485.8h.5v.5h-.5zM245.5 483.8h.5v.5h-.5zM237.2 520.1h.5v.5h-.5zM230.2 516.8h.5v.5h-.5zM253.0 504.6h.5v.5h-.5zM254.1 513.8h.5v.5h-.5zM259.4 505.5h.5v.5h-.5zM244.7 501.3h.5v.5h-.5zM241.1 507.5h.5v.5h-.5zM242.9 519.8h.5v.5h-.5zM233.2 496.0h.5v.5h-.5zM241.4 485.0h.5v.5h-.5zM267.1 481.5h.5v.5h-.5zM247.5 502.2h.5v.5h-.5zM264.9 486.2h.5v.5h-.5zM259.6 500.0h.5v.5h-.5zM248.6 500.6h.5v.5h-.5zM255.8 495.5h.5v.5h-.5zM249.3 511.9h.5v.5h-.5zM266.6 481.5h.5v.5h-.5zM263.7 518.4h.5v.5h-.5zM245.6 511.4h.5v.5h-.5zM245.8 526.1h.5v.5h-.5zM251.9 505.6h.5v.5h-.5zM247.9 505.8h.5v.5h-.5zM248.4 498.3h.5v.5h-.5zM268.5 487.0h.5v.5h-.5zM217.5 506.6h.5v.5h-.5zM248.7 512.1h.5v.5h-.5zM248.2 506.4h.5v.5h-.5zM253.0 518.7h.5v.5h-.5zM246.0 503.9h.5v.5h-.5zM267.5 513.8h.5v.5h-.5zM257.0 501.5h.5v.5h-.5zM239.4 511.3h.5v.5h-.5z"/>
<path d="M236.9,506.9C236.8,504.9 237.3,503.1 238.2,501.0C239.1,498.9 240.5,496.8 242.2,494.4C243.8,492.0 246.0,488.9 248.1,486.5C250.2,484.1 252.3,482.2 254.7,480.0C257.1,477.8 260.2,475.2 262.6,473.4C265.0,471.6 267.4,470.0 269.1,469.2C270.9,468.4 272.2,468.4 273.1,468.8C274.0,469.2 274.5,470.2 274.6,471.4C274.7,472.6 274.6,474.4 273.7,476.0C272.8,477.6 270.7,479.3 269.1,481.3C267.5,483.3 265.4,485.6 263.9,487.8C262.4,490.0 260.9,492.2 259.9,494.4C258.9,496.6 258.6,498.4 258.0,501.0C257.4,503.6 257.4,507.5 256.0,510.2C254.6,512.9 251.4,516.3 249.4,517.4C247.4,518.5 245.9,517.6 244.2,516.8C242.4,516.0 240.1,514.4 238.9,512.8C237.7,511.1 237.0,508.9 236.9,506.9 Z" fill="none" stroke="#111" stroke-width="0.6"/>
<path d="M237.5,506.4C237.4,504.5 237.9,502.7 238.8,500.7C239.6,498.7 241.0,496.7 242.6,494.4C244.2,492.1 246.3,489.1 248.3,486.8C250.3,484.5 252.3,482.7 254.6,480.6C256.9,478.5 259.9,476.0 262.2,474.2C264.5,472.5 266.7,470.9 268.4,470.2C270.1,469.5 271.4,469.5 272.3,469.8C273.1,470.2 273.6,471.2 273.7,472.3C273.8,473.5 273.7,475.1 272.8,476.7C272.0,478.3 270.0,479.9 268.4,481.8C266.8,483.7 264.9,486.0 263.4,488.0C262.0,490.1 260.5,492.3 259.6,494.4C258.6,496.5 258.4,498.2 257.8,500.7C257.1,503.2 257.2,506.9 255.8,509.6C254.5,512.2 251.4,515.4 249.5,516.5C247.6,517.5 246.2,516.6 244.5,515.9C242.8,515.2 240.6,513.6 239.4,512.0C238.3,510.5 237.6,508.3 237.5,506.4 Z" fill="none" stroke="#111" stroke-width="0.6"/>
<path d="M238.1,505.9C238.0,504.1 238.5,502.4 239.3,500.4C240.1,498.5 241.5,496.6 243.0,494.4C244.5,492.1 246.5,489.3 248.4,487.1C250.3,484.9 252.3,483.1 254.5,481.1C256.7,479.1 259.5,476.7 261.8,475.0C264.0,473.4 266.1,471.9 267.7,471.2C269.3,470.5 270.6,470.5 271.4,470.8C272.3,471.2 272.7,472.1 272.8,473.2C272.9,474.3 272.8,475.9 272.0,477.4C271.1,479.0 269.2,480.5 267.7,482.3C266.2,484.1 264.4,486.3 262.9,488.3C261.5,490.3 260.2,492.3 259.3,494.4C258.4,496.4 258.1,498.0 257.5,500.4C256.9,502.9 257.0,506.4 255.7,508.9C254.4,511.4 251.4,514.5 249.6,515.5C247.8,516.5 246.4,515.7 244.8,515.0C243.2,514.3 241.1,512.8 239.9,511.3C238.8,509.8 238.2,507.7 238.1,505.9 Z" fill="none" stroke="#111" stroke-width="0.6"/>
<path d="M238.7,505.4C238.6,503.6 239.1,502.0 239.9,500.2C240.6,498.3 241.9,496.5 243.4,494.4C244.8,492.2 246.7,489.5 248.6,487.4C250.4,485.3 252.2,483.6 254.4,481.7C256.5,479.8 259.2,477.5 261.3,475.9C263.4,474.3 265.5,472.9 267.0,472.2C268.6,471.5 269.8,471.5 270.6,471.8C271.4,472.1 271.8,473.1 271.9,474.1C272.0,475.2 271.9,476.7 271.1,478.2C270.3,479.6 268.5,481.1 267.0,482.8C265.6,484.6 263.8,486.6 262.5,488.5C261.1,490.5 259.8,492.4 259.0,494.4C258.1,496.3 257.9,497.8 257.3,500.2C256.7,502.5 256.8,505.9 255.5,508.3C254.3,510.7 251.4,513.6 249.7,514.6C248.0,515.6 246.7,514.7 245.1,514.1C243.6,513.4 241.5,512.0 240.5,510.5C239.4,509.1 238.8,507.1 238.7,505.4 Z" fill="none" stroke="#111" stroke-width="0.6"/>
<path d="M239.3,504.8C239.2,503.2 239.7,501.6 240.4,499.9C241.1,498.1 242.4,496.4 243.8,494.3C245.2,492.3 247.0,489.7 248.7,487.7C250.5,485.7 252.2,484.1 254.3,482.2C256.3,480.4 258.9,478.2 260.9,476.7C262.9,475.2 264.9,473.8 266.4,473.2C267.8,472.5 269.0,472.5 269.7,472.8C270.5,473.1 270.9,474.0 271.0,475.0C271.1,476.0 271.0,477.5 270.2,478.9C269.5,480.3 267.7,481.7 266.4,483.3C265.0,485.0 263.3,487.0 262.0,488.8C260.7,490.6 259.5,492.5 258.6,494.3C257.8,496.2 257.6,497.7 257.0,499.9C256.5,502.1 256.6,505.3 255.4,507.6C254.2,509.9 251.5,512.7 249.8,513.7C248.2,514.6 246.9,513.8 245.4,513.2C244.0,512.5 242.0,511.2 241.0,509.8C240.0,508.4 239.4,506.5 239.3,504.8 Z" fill="none" stroke="#111" stroke-width="0.6"/>
<path d="M239.9,504.3C239.8,502.7 240.3,501.3 241.0,499.6C241.7,497.9 242.8,496.3 244.2,494.3C245.5,492.4 247.2,489.9 248.9,488.0C250.5,486.1 252.2,484.5 254.2,482.8C256.1,481.1 258.6,479.0 260.5,477.5C262.4,476.1 264.3,474.8 265.7,474.2C267.1,473.5 268.1,473.5 268.9,473.8C269.6,474.1 270.0,475.0 270.1,475.9C270.2,476.9 270.1,478.3 269.4,479.6C268.6,480.9 267.0,482.3 265.7,483.8C264.4,485.4 262.7,487.3 261.5,489.0C260.3,490.8 259.1,492.6 258.3,494.3C257.5,496.1 257.3,497.5 256.8,499.6C256.3,501.7 256.3,504.8 255.2,507.0C254.1,509.1 251.5,511.8 249.9,512.7C248.3,513.6 247.2,512.9 245.8,512.2C244.4,511.6 242.5,510.4 241.5,509.0C240.5,507.7 240.0,505.9 239.9,504.3 Z" fill="none" stroke="#111" stroke-width="0.6"/>
<path d="M240.5,503.8C240.4,502.3 240.8,500.9 241.5,499.3C242.2,497.7 243.3,496.1 244.6,494.3C245.8,492.5 247.5,490.1 249.0,488.3C250.6,486.5 252.2,485.0 254.1,483.4C255.9,481.7 258.2,479.7 260.1,478.3C261.9,477.0 263.7,475.7 265.0,475.2C266.3,474.6 267.3,474.6 268.0,474.8C268.7,475.1 269.1,475.9 269.2,476.8C269.3,477.7 269.2,479.1 268.5,480.3C267.8,481.6 266.2,482.9 265.0,484.3C263.8,485.8 262.2,487.6 261.0,489.3C259.9,490.9 258.8,492.6 258.0,494.3C257.3,496.0 257.1,497.3 256.6,499.3C256.1,501.3 256.1,504.2 255.0,506.3C254.0,508.4 251.5,510.9 250.0,511.8C248.5,512.6 247.4,511.9 246.1,511.3C244.7,510.7 243.0,509.5 242.0,508.3C241.1,507.0 240.6,505.3 240.5,503.8 Z" fill="none" stroke="#111" stroke-width="0.6"/>
<path d="M253.0,505.0C255.2,504.5 256.4,500.5 258.1,498.1C259.8,495.8 261.3,493.6 263.1,491.1C264.9,488.5 267.1,485.4 268.8,482.7C270.6,480.0 273.7,476.9 273.7,474.8C273.6,472.7 270.4,470.0 268.3,470.2C266.3,470.5 263.6,474.0 261.2,476.3C258.8,478.6 256.1,481.4 253.9,483.9C251.7,486.5 249.4,489.0 247.9,491.9C246.4,494.7 244.1,498.8 245.0,501.0C245.8,503.2 250.8,505.5 253.0,505.0 Z" fill="#111"/>
<line x1="254.00" y1="495.00" x2="268.00" y2="476.00" stroke="#fff" stroke-width="0.7"/>
<path fill="#777" d="M354.2 493.3h.5v.5h-.5zM351.7 492.5h.5v.5h-.5zM358.6 492.9h.5v.5h-.5zM361.8 483.8h.5v.5h-.5zM354.3 485.1h.5v.5h-.5zM350.1 488.7h.5v.5h-.5zM355.1 492.9h.5v.5h-.5zM356.5 505.6h.5v.5h-.5zM358.3 478.8h.5v.5h-.5zM355.0 485.6h.5v.5h-.5zM351.4 499.1h.5v.5h-.5zM352.9 476.3h.5v.5h-.5zM355.6 488.0h.5v.5h-.5zM348.1 483.6h.5v.5h-.5zM350.9 489.8h.5v.5h-.5zM351.9 490.5h.5v.5h-.5zM363.2 484.4h.5v.5h-.5zM350.0 488.3h.5v.5h-.5zM359.5 485.1h.5v.5h-.5zM361.2 480.8h.5v.5h-.5zM348.8 489.6h.5v.5h-.5zM349.7 485.7h.5v.5h-.5zM356.3 495.1h.5v.5h-.5zM354.6 488.1h.5v.5h-.5zM360.7 492.8h.5v.5h-.5zM352.8 498.5h.5v.5h-.5zM349.5 491.2h.5v.5h-.5zM357.3 489.9h.5v.5h-.5zM351.1 492.5h.5v.5h-.5zM351.3 485.8h.5v.5h-.5zM348.9 499.1h.5v.5h-.5zM351.3 498.1h.5v.5h-.5zM355.9 488.2h.5v.5h-.5zM357.3 491.9h.5v.5h-.5zM354.7 480.4h.5v.5h-.5zM354.4 496.3h.5v.5h-.5zM356.4 497.0h.5v.5h-.5zM361.5 492.9h.5v.5h-.5zM363.9 479.4h.5v.5h-.5zM352.8 472.3h.5v.5h-.5zM358.1 490.7h.5v.5h-.5zM362.4 487.4h.5v.5h-.5zM343.9 498.9h.5v.5h-.5zM347.3 481.1h.5v.5h-.5zM353.1 494.4h.5v.5h-.5zM351.5 491.3h.5v.5h-.5zM344.6 502.1h.5v.5h-.5zM353.7 490.8h.5v.5h-.5zM356.9 491.2h.5v.5h-.5zM355.0 483.5h.5v.5h-.5z"/>
<path fill="#999" d="M330.3 502.9h.5v.5h-.5zM337.9 492.1h.5v.5h-.5zM333.8 496.1h.5v.5h-.5zM343.9 494.0h.5v.5h-.5zM344.1 491.6h.5v.5h-.5zM339.6 496.6h.5v.5h-.5zM334.5 502.8h.5v.5h-.5zM331.1 504.6h.5v.5h-.5zM341.6 495.7h.5v.5h-.5zM339.3 504.5h.5v.5h-.5zM337.4 497.8h.5v.5h-.5zM338.0 497.4h.5v.5h-.5zM335.5 500.3h.5v.5h-.5zM348.2 489.2h.5v.5h-.5zM339.9 499.2h.5v.5h-.5zM347.8 488.8h.5v.5h-.5zM338.6 505.9h.5v.5h-.5zM330.1 505.5h.5v.5h-.5zM344.8 499.4h.5v.5h-.5zM329.5 499.8h.5v.5h-.5zM340.5 495.0h.5v.5h-.5zM336.8 501.6h.5v.5h-.5zM339.6 498.4h.5v.5h-.5zM337.8 503.1h.5v.5h-.5zM345.6 491.7h.5v.5h-.5zM336.8 502.4h.5v.5h-.5zM338.8 495.0h.5v.5h-.5zM337.3 502.9h.5v.5h-.5zM337.0 498.9h.5v.5h-.5zM339.0 497.9h.5v.5h-.5zM335.0 496.0h.5v.5h-.5zM347.1 490.8h.5v.5h-.5zM335.1 504.8h.5v.5h-.5zM339.6 497.5h.5v.5h-.5zM346.7 497.5h.5v.5h-.5zM343.2 498.8h.5v.5h-.5zM347.3 486.9h.5v.5h-.5zM336.6 502.8h.5v.5h-.5zM329.0 506.9h.5v.5h-.5zM346.1 494.4h.5v.5h-.5zM338.0 493.2h.5v.5h-.5zM350.7 488.4h.5v.5h-.5zM342.6 496.1h.5v.5h-.5zM327.2 505.1h.5v.5h-.5zM334.8 508.0h.5v.5h-.5zM333.4 502.7h.5v.5h-.5zM337.6 501.1h.5v.5h-.5zM340.9 497.0h.5v.5h-.5zM326.9 500.2h.5v.5h-.5zM339.2 498.6h.5v.5h-.5z"/>
<ellipse cx="355" cy="491" rx="6.5" ry="8.0" fill="none" stroke="#aaa" stroke-width="0.4"/>
<ellipse cx="355" cy="491" rx="5.2" ry="6.4" fill="none" stroke="#aaa" stroke-width="0.4"/>
<ellipse cx="355" cy="491" rx="3.9" ry="4.8" fill="none" stroke="#aaa" stroke-width="0.4"/>
<path d="M364.0,475.1C364.2,475.5 363.8,476.5 363.6,477.2C363.3,478.0 363.0,478.8 362.5,479.7C362.0,480.6 361.2,481.6 360.4,482.6C359.6,483.6 358.7,484.5 357.7,485.6C356.7,486.6 355.6,487.8 354.6,488.7C353.5,489.6 352.1,490.6 351.2,491.0C350.4,491.3 349.9,490.9 349.4,490.8C349.0,490.7 348.7,490.5 348.3,490.3C348.0,490.0 347.4,490.0 347.3,489.4C347.3,488.9 347.7,488.0 348.2,487.1C348.6,486.2 349.4,485.1 350.2,484.0C351.0,483.0 352.1,481.7 353.1,480.8C354.1,479.9 355.3,479.2 356.3,478.5C357.3,477.9 358.1,477.5 359.1,476.9C360.0,476.3 361.4,475.3 362.2,475.0C363.0,474.7 363.7,474.7 364.0,475.1 Z" fill="none" stroke="#111" stroke-width="0.55"/>
<path d="M363.2,475.4C363.6,475.5 363.6,476.2 363.4,476.9C363.1,477.6 362.4,478.7 361.8,479.5C361.3,480.4 360.8,481.3 360.0,482.2C359.3,483.1 358.4,484.0 357.5,484.9C356.6,485.7 355.7,486.5 354.7,487.3C353.7,488.1 352.5,489.2 351.6,489.8C350.7,490.3 349.8,490.6 349.3,490.5C348.9,490.4 349.1,489.6 348.9,489.1C348.8,488.7 348.6,488.5 348.6,488.0C348.6,487.5 348.5,487.0 348.8,486.2C349.2,485.5 350.0,484.4 350.7,483.5C351.5,482.5 352.4,481.4 353.3,480.5C354.3,479.6 355.4,478.6 356.3,478.0C357.2,477.4 358.0,477.3 358.8,477.0C359.5,476.6 360.2,476.3 360.9,476.1C361.7,475.8 362.8,475.2 363.2,475.4 Z" fill="none" stroke="#111" stroke-width="0.55"/>
<path d="M362.0,476.1C362.1,476.4 362.2,476.8 362.1,477.4C362.0,477.9 361.6,478.7 361.2,479.4C360.7,480.1 360.1,480.9 359.5,481.8C358.8,482.6 358.3,483.5 357.5,484.3C356.7,485.2 355.6,486.2 354.7,486.8C353.9,487.4 353.1,487.7 352.4,487.9C351.7,488.2 351.2,488.2 350.6,488.3C350.1,488.4 349.4,488.6 349.1,488.5C348.8,488.3 348.7,487.8 348.8,487.3C348.8,486.8 349.0,486.2 349.4,485.4C349.8,484.7 350.4,483.7 351.1,482.9C351.8,482.1 352.9,481.2 353.7,480.4C354.6,479.7 355.3,479.2 356.2,478.5C357.0,477.8 358.0,476.9 358.8,476.4C359.6,475.9 360.6,475.4 361.1,475.4C361.6,475.3 361.8,475.7 362.0,476.1 Z" fill="#111" stroke="#111" stroke-width="0.55"/>
<path d="M359.8,476.9C360.0,477.3 360.0,477.7 359.7,478.3C359.5,478.9 358.8,479.7 358.3,480.5C357.8,481.3 357.3,482.2 356.6,482.9C355.9,483.7 354.6,484.8 353.9,485.2C353.2,485.6 352.8,485.3 352.2,485.4C351.7,485.6 350.9,486.0 350.6,485.9C350.2,485.7 350.3,485.2 350.4,484.7C350.5,484.1 350.7,483.3 351.3,482.6C351.9,481.8 353.1,480.9 353.9,480.1C354.7,479.4 355.4,478.9 356.2,478.3C357.0,477.7 358.3,476.5 358.9,476.3C359.5,476.1 359.7,476.6 359.8,476.9 Z" fill="none" stroke="#fff" stroke-width="0.3" opacity="0.7"/>
<path d="M358.7,480.2C358.8,480.4 358.8,480.6 358.8,480.9C358.8,481.3 358.9,481.7 358.6,482.1C358.2,482.6 357.3,483.3 356.8,483.8C356.2,484.3 355.7,484.7 355.2,485.0C354.7,485.4 354.2,485.6 353.8,485.8C353.4,486.0 352.8,486.2 352.6,486.1C352.5,485.9 352.5,485.5 352.7,485.1C352.9,484.6 353.6,484.0 354.0,483.5C354.4,482.9 354.5,482.4 355.0,481.9C355.4,481.5 356.2,480.9 356.7,480.5C357.2,480.2 357.8,479.9 358.2,479.8C358.5,479.8 358.6,480.0 358.7,480.2 Z" fill="none" stroke="#fff" stroke-width="0.3" opacity="0.7"/>
<ellipse cx="355.5" cy="482.3" rx="0.8" ry="1.4" fill="#fff"/>
<line x1="418.60" y1="458.90" x2="418.60" y2="540.60" stroke="#3a3a3a" stroke-width="0.7"/>
<line x1="416.40" y1="540.60" x2="418.60" y2="540.60" stroke="#3a3a3a" stroke-width="0.7"/>
<text x="413.40" y="543.48" font-size="8.0" text-anchor="end" textLength="4.63" lengthAdjust="spacingAndGlyphs" stroke="#231f20" stroke-width="0.05">0</text>
<line x1="416.40" y1="524.30" x2="418.60" y2="524.30" stroke="#3a3a3a" stroke-width="0.7"/>
<text x="413.40" y="527.18" font-size="8.0" text-anchor="end" textLength="4.63" lengthAdjust="spacingAndGlyphs" stroke="#231f20" stroke-width="0.05">2</text>
<line x1="416.40" y1="507.90" x2="418.60" y2="507.90" stroke="#3a3a3a" stroke-width="0.7"/>
<text x="413.40" y="510.78" font-size="8.0" text-anchor="end" textLength="4.63" lengthAdjust="spacingAndGlyphs" stroke="#231f20" stroke-width="0.05">4</text>
<line x1="416.40" y1="491.60" x2="418.60" y2="491.60" stroke="#3a3a3a" stroke-width="0.7"/>
<text x="413.40" y="494.48" font-size="8.0" text-anchor="end" textLength="4.63" lengthAdjust="spacingAndGlyphs" stroke="#231f20" stroke-width="0.05">6</text>
<line x1="416.40" y1="475.20" x2="418.60" y2="475.20" stroke="#3a3a3a" stroke-width="0.7"/>
<text x="413.40" y="478.08" font-size="8.0" text-anchor="end" textLength="4.63" lengthAdjust="spacingAndGlyphs" stroke="#231f20" stroke-width="0.05">8</text>
<line x1="416.40" y1="458.90" x2="418.60" y2="458.90" stroke="#3a3a3a" stroke-width="0.7"/>
<text x="413.40" y="461.78" font-size="8.0" text-anchor="end" textLength="9.25" lengthAdjust="spacingAndGlyphs" stroke="#231f20" stroke-width="0.05">10</text>
<line x1="418.60" y1="540.60" x2="500.80" y2="540.60" stroke="#3a3a3a" stroke-width="0.7"/>
<text x="399.20" y="504.07" font-size="8.8" text-anchor="middle" textLength="65.40" lengthAdjust="spacingAndGlyphs" transform="rotate(-90 399.20 500.90)" stroke="#231f20" stroke-width="0.05">Autophagy flux</text>
<path d="M427.70,469.40 L425.70,471.00 L425.70,474.00 L428.70,477.00 L428.70,479.00 L427.70,481.50 L429.70,483.40 L432.70,483.40 L434.70,481.50 L433.70,479.00 L433.70,477.00 L436.70,474.00 L436.70,471.00 L434.70,469.40 Z" fill="#fff" stroke="#333" stroke-width="0.6"/>
<circle cx="431.20" cy="469.80" r="1.50" fill="#111"/>
<circle cx="431.20" cy="474.30" r="1.50" fill="#111"/>
<circle cx="431.20" cy="483.40" r="1.50" fill="#111"/>
<path d="M445.90,511.00 L450.60,506.30 L455.30,509.80 Z" fill="#fff" stroke="#333" stroke-width="0.6"/>
<circle cx="445.90" cy="511.00" r="1.50" fill="#111"/>
<circle cx="450.60" cy="506.30" r="1.50" fill="#111"/>
<circle cx="455.30" cy="509.80" r="1.50" fill="#111"/>
<path d="M464.60,530.60 L470.00,523.60 L474.00,530.60 Z" fill="#fff" stroke="#333" stroke-width="0.6"/>
<circle cx="464.60" cy="530.60" r="1.50" fill="#111"/>
<circle cx="470.00" cy="523.60" r="1.50" fill="#111"/>
<circle cx="474.00" cy="530.60" r="1.50" fill="#111"/>
<line x1="484.00" y1="535.30" x2="493.30" y2="535.30" stroke="#333" stroke-width="0.6"/>
<circle cx="484.00" cy="535.30" r="1.50" fill="#111"/>
<circle cx="488.70" cy="533.90" r="1.50" fill="#111"/>
<circle cx="493.30" cy="535.30" r="1.50" fill="#111"/>
<text x="431.20" y="553.21" font-size="7.8" text-anchor="middle" textLength="4.77" lengthAdjust="spacingAndGlyphs" stroke="#231f20" stroke-width="0.05">0</text>
<text x="450.60" y="553.21" font-size="7.8" text-anchor="middle" textLength="4.77" lengthAdjust="spacingAndGlyphs" stroke="#231f20" stroke-width="0.05">4</text>
<text x="469.30" y="553.21" font-size="7.8" text-anchor="middle" textLength="9.54" lengthAdjust="spacingAndGlyphs" stroke="#231f20" stroke-width="0.05">24</text>
<text x="488.70" y="553.21" font-size="7.8" text-anchor="middle" textLength="16.21" lengthAdjust="spacingAndGlyphs" stroke="#231f20" stroke-width="0.05">CTL</text>
<line x1="425.40" y1="556.30" x2="477.50" y2="556.30" stroke="#555" stroke-width="0.7"/>
<text x="420.20" y="567.87" font-size="8.8" textLength="60.10" lengthAdjust="spacingAndGlyphs" stroke="#231f20" stroke-width="0.05">CD3/CD28 (h)</text>
<text x="448.30" y="449.58" font-size="6.6" textLength="26.30" lengthAdjust="spacingAndGlyphs">&lt;0.0001</text>
<line x1="431.20" y1="450.70" x2="488.70" y2="450.70" stroke="#c0c0c0" stroke-width="0.7"/>
<text x="437.70" y="457.28" font-size="6.6" textLength="27.60" lengthAdjust="spacingAndGlyphs">&lt;0.0001</text>
<line x1="431.20" y1="458.20" x2="470.00" y2="458.20" stroke="#c0c0c0" stroke-width="0.7"/>
<text x="431.90" y="464.78" font-size="6.6" textLength="26.40" lengthAdjust="spacingAndGlyphs">&lt;0.0001</text>
<line x1="431.20" y1="466.60" x2="450.60" y2="466.60" stroke="#c0c0c0" stroke-width="0.7"/>
<text x="0" y="583" font-size="14.5" font-weight="bold" fill="#000" textLength="8.00" lengthAdjust="spacingAndGlyphs" stroke="#000" stroke-width="0.05">k</text>
<rect x="30.70" y="606.50" width="73.80" height="73.00" fill="none" stroke="#444" stroke-width="0.8"/>
<line x1="30.70" y1="679.50" x2="104.50" y2="606.50" stroke="#7c7c7c" stroke-width="0.75" stroke-dasharray="3,2"/>
<line x1="29.10" y1="612.30" x2="30.70" y2="612.30" stroke="#444" stroke-width="0.6"/>
<text x="27.70" y="614.89" font-size="7.2" text-anchor="end">10<tspan dy="-2.6" font-size="4.3">5</tspan></text>
<line x1="29.10" y1="627.20" x2="30.70" y2="627.20" stroke="#444" stroke-width="0.6"/>
<text x="27.70" y="629.79" font-size="7.2" text-anchor="end">10<tspan dy="-2.6" font-size="4.3">4</tspan></text>
<line x1="29.10" y1="642.40" x2="30.70" y2="642.40" stroke="#444" stroke-width="0.6"/>
<text x="27.70" y="644.99" font-size="7.2" text-anchor="end">10<tspan dy="-2.6" font-size="4.3">3</tspan></text>
<line x1="29.10" y1="657.00" x2="30.70" y2="657.00" stroke="#444" stroke-width="0.6"/>
<text x="27.70" y="659.59" font-size="7.2" text-anchor="end">10<tspan dy="-2.6" font-size="4.3">2</tspan></text>
<line x1="29.10" y1="671.60" x2="30.70" y2="671.60" stroke="#444" stroke-width="0.6"/>
<text x="27.70" y="674.19" font-size="7.2" text-anchor="end">10<tspan dy="-2.6" font-size="4.3">1</tspan></text>
<path d="M29.6 667.1h1.1M29.6 664.5h1.1M29.6 662.7h1.1M29.6 661.2h1.1M29.6 660.1h1.1M29.6 659.1h1.1M29.6 658.2h1.1M29.6 657.5h1.1M29.6 652.3h1.1M29.6 649.7h1.1M29.6 647.8h1.1M29.6 646.4h1.1M29.6 645.2h1.1M29.6 644.2h1.1M29.6 643.4h1.1M29.6 642.6h1.1M29.6 637.5h1.1M29.6 634.9h1.1M29.6 633.0h1.1M29.6 631.6h1.1M29.6 630.4h1.1M29.6 629.4h1.1M29.6 628.6h1.1M29.6 627.8h1.1M29.6 622.7h1.1M29.6 620.1h1.1M29.6 618.2h1.1M29.6 616.8h1.1M29.6 615.6h1.1M29.6 614.6h1.1M29.6 613.7h1.1M29.6 613.0h1.1M29.6 607.8h1.1" stroke="#444" stroke-width="0.4" fill="none"/>
<path d="M42.9 679.5v1.1M45.4 679.5v1.1M47.2 679.5v1.1M48.6 679.5v1.1M49.8 679.5v1.1M50.7 679.5v1.1M51.6 679.5v1.1M52.3 679.5v1.1M57.3 679.5v1.1M59.9 679.5v1.1M61.7 679.5v1.1M63.1 679.5v1.1M64.2 679.5v1.1M65.2 679.5v1.1M66.0 679.5v1.1M66.8 679.5v1.1M71.8 679.5v1.1M74.4 679.5v1.1M76.2 679.5v1.1M77.6 679.5v1.1M78.7 679.5v1.1M79.7 679.5v1.1M80.5 679.5v1.1M81.3 679.5v1.1M86.3 679.5v1.1M88.8 679.5v1.1M90.6 679.5v1.1M92.0 679.5v1.1M93.2 679.5v1.1M94.2 679.5v1.1M95.0 679.5v1.1M95.7 679.5v1.1M100.8 679.5v1.1M103.3 679.5v1.1" stroke="#444" stroke-width="0.4" fill="none"/>
<line x1="38.50" y1="679.50" x2="38.50" y2="681.10" stroke="#444" stroke-width="0.6"/>
<text x="38.50" y="688.19" font-size="7.2" text-anchor="middle">10<tspan dy="-2.6" font-size="4.3">1</tspan></text>
<line x1="53.40" y1="679.50" x2="53.40" y2="681.10" stroke="#444" stroke-width="0.6"/>
<text x="53.40" y="688.19" font-size="7.2" text-anchor="middle">10<tspan dy="-2.6" font-size="4.3">2</tspan></text>
<line x1="68.00" y1="679.50" x2="68.00" y2="681.10" stroke="#444" stroke-width="0.6"/>
<text x="68.00" y="688.19" font-size="7.2" text-anchor="middle">10<tspan dy="-2.6" font-size="4.3">3</tspan></text>
<line x1="83.20" y1="679.50" x2="83.20" y2="681.10" stroke="#444" stroke-width="0.6"/>
<text x="83.20" y="688.19" font-size="7.2" text-anchor="middle">10<tspan dy="-2.6" font-size="4.3">4</tspan></text>
<line x1="96.40" y1="679.50" x2="96.40" y2="681.10" stroke="#444" stroke-width="0.6"/>
<text x="96.40" y="688.19" font-size="7.2" text-anchor="middle">10<tspan dy="-2.6" font-size="4.3">5</tspan></text>
<text x="30.70" y="604.07" font-size="8.8" textLength="45.80" lengthAdjust="spacingAndGlyphs" stroke="#231f20" stroke-width="0.05">Naive CD8</text>
<rect x="109.50" y="606.50" width="73.90" height="73.00" fill="none" stroke="#444" stroke-width="1.1"/>
<line x1="109.50" y1="679.50" x2="183.40" y2="606.50" stroke="#555" stroke-width="0.75" stroke-dasharray="3,2"/>
<line x1="107.90" y1="612.30" x2="109.50" y2="612.30" stroke="#444" stroke-width="0.6"/>
<line x1="107.90" y1="627.20" x2="109.50" y2="627.20" stroke="#444" stroke-width="0.6"/>
<line x1="107.90" y1="642.40" x2="109.50" y2="642.40" stroke="#444" stroke-width="0.6"/>
<line x1="107.90" y1="657.00" x2="109.50" y2="657.00" stroke="#444" stroke-width="0.6"/>
<line x1="107.90" y1="671.60" x2="109.50" y2="671.60" stroke="#444" stroke-width="0.6"/>
<path d="M108.4 667.1h1.1M108.4 664.5h1.1M108.4 662.7h1.1M108.4 661.2h1.1M108.4 660.1h1.1M108.4 659.1h1.1M108.4 658.2h1.1M108.4 657.5h1.1M108.4 652.3h1.1M108.4 649.7h1.1M108.4 647.8h1.1M108.4 646.4h1.1M108.4 645.2h1.1M108.4 644.2h1.1M108.4 643.4h1.1M108.4 642.6h1.1M108.4 637.5h1.1M108.4 634.9h1.1M108.4 633.0h1.1M108.4 631.6h1.1M108.4 630.4h1.1M108.4 629.4h1.1M108.4 628.6h1.1M108.4 627.8h1.1M108.4 622.7h1.1M108.4 620.1h1.1M108.4 618.2h1.1M108.4 616.8h1.1M108.4 615.6h1.1M108.4 614.6h1.1M108.4 613.7h1.1M108.4 613.0h1.1M108.4 607.8h1.1" stroke="#444" stroke-width="0.4" fill="none"/>
<path d="M121.2 679.5v1.1M123.8 679.5v1.1M125.6 679.5v1.1M127.0 679.5v1.1M128.2 679.5v1.1M129.1 679.5v1.1M130.0 679.5v1.1M130.7 679.5v1.1M135.8 679.5v1.1M138.4 679.5v1.1M140.2 679.5v1.1M141.6 679.5v1.1M142.8 679.5v1.1M143.7 679.5v1.1M144.6 679.5v1.1M145.3 679.5v1.1M150.4 679.5v1.1M153.0 679.5v1.1M154.8 679.5v1.1M156.2 679.5v1.1M157.4 679.5v1.1M158.3 679.5v1.1M159.2 679.5v1.1M159.9 679.5v1.1M165.0 679.5v1.1M167.6 679.5v1.1M169.4 679.5v1.1M170.8 679.5v1.1M172.0 679.5v1.1M172.9 679.5v1.1M173.8 679.5v1.1M174.5 679.5v1.1M179.6 679.5v1.1M182.2 679.5v1.1" stroke="#444" stroke-width="0.4" fill="none"/>
<line x1="116.80" y1="679.50" x2="116.80" y2="681.10" stroke="#444" stroke-width="0.6"/>
<text x="116.80" y="688.19" font-size="7.2" text-anchor="middle">10<tspan dy="-2.6" font-size="4.3">1</tspan></text>
<line x1="132.00" y1="679.50" x2="132.00" y2="681.10" stroke="#444" stroke-width="0.6"/>
<text x="132.00" y="688.19" font-size="7.2" text-anchor="middle">10<tspan dy="-2.6" font-size="4.3">2</tspan></text>
<line x1="146.90" y1="679.50" x2="146.90" y2="681.10" stroke="#444" stroke-width="0.6"/>
<text x="146.90" y="688.19" font-size="7.2" text-anchor="middle">10<tspan dy="-2.6" font-size="4.3">3</tspan></text>
<line x1="162.00" y1="679.50" x2="162.00" y2="681.10" stroke="#444" stroke-width="0.6"/>
<text x="162.00" y="688.19" font-size="7.2" text-anchor="middle">10<tspan dy="-2.6" font-size="4.3">4</tspan></text>
<line x1="175.20" y1="679.50" x2="175.20" y2="681.10" stroke="#444" stroke-width="0.6"/>
<text x="175.20" y="688.19" font-size="7.2" text-anchor="middle">10<tspan dy="-2.6" font-size="4.3">5</tspan></text>
<text x="110.40" y="604.07" font-size="8.8" textLength="21.60" lengthAdjust="spacingAndGlyphs" stroke="#231f20" stroke-width="0.05">Day 1</text>
<rect x="187.30" y="606.50" width="73.60" height="73.00" fill="none" stroke="#444" stroke-width="1.1"/>
<line x1="187.30" y1="679.50" x2="260.90" y2="606.50" stroke="#555" stroke-width="0.75" stroke-dasharray="3,2"/>
<line x1="185.70" y1="612.30" x2="187.30" y2="612.30" stroke="#444" stroke-width="0.6"/>
<line x1="185.70" y1="627.20" x2="187.30" y2="627.20" stroke="#444" stroke-width="0.6"/>
<line x1="185.70" y1="642.40" x2="187.30" y2="642.40" stroke="#444" stroke-width="0.6"/>
<line x1="185.70" y1="657.00" x2="187.30" y2="657.00" stroke="#444" stroke-width="0.6"/>
<line x1="185.70" y1="671.60" x2="187.30" y2="671.60" stroke="#444" stroke-width="0.6"/>
<path d="M186.2 667.1h1.1M186.2 664.5h1.1M186.2 662.7h1.1M186.2 661.2h1.1M186.2 660.1h1.1M186.2 659.1h1.1M186.2 658.2h1.1M186.2 657.5h1.1M186.2 652.3h1.1M186.2 649.7h1.1M186.2 647.8h1.1M186.2 646.4h1.1M186.2 645.2h1.1M186.2 644.2h1.1M186.2 643.4h1.1M186.2 642.6h1.1M186.2 637.5h1.1M186.2 634.9h1.1M186.2 633.0h1.1M186.2 631.6h1.1M186.2 630.4h1.1M186.2 629.4h1.1M186.2 628.6h1.1M186.2 627.8h1.1M186.2 622.7h1.1M186.2 620.1h1.1M186.2 618.2h1.1M186.2 616.8h1.1M186.2 615.6h1.1M186.2 614.6h1.1M186.2 613.7h1.1M186.2 613.0h1.1M186.2 607.8h1.1" stroke="#444" stroke-width="0.4" fill="none"/>
<path d="M199.1 679.5v1.1M201.7 679.5v1.1M203.6 679.5v1.1M205.1 679.5v1.1M206.3 679.5v1.1M207.3 679.5v1.1M208.1 679.5v1.1M208.9 679.5v1.1M214.1 679.5v1.1M216.7 679.5v1.1M218.6 679.5v1.1M220.0 679.5v1.1M221.2 679.5v1.1M222.2 679.5v1.1M223.1 679.5v1.1M223.9 679.5v1.1M229.1 679.5v1.1M231.7 679.5v1.1M233.6 679.5v1.1M235.0 679.5v1.1M236.2 679.5v1.1M237.2 679.5v1.1M238.1 679.5v1.1M238.8 679.5v1.1M244.0 679.5v1.1M246.7 679.5v1.1M248.5 679.5v1.1M250.0 679.5v1.1M251.2 679.5v1.1M252.2 679.5v1.1M253.0 679.5v1.1M253.8 679.5v1.1M259.0 679.5v1.1" stroke="#444" stroke-width="0.4" fill="none"/>
<line x1="194.60" y1="679.50" x2="194.60" y2="681.10" stroke="#444" stroke-width="0.6"/>
<text x="194.60" y="688.19" font-size="7.2" text-anchor="middle">10<tspan dy="-2.6" font-size="4.3">1</tspan></text>
<line x1="209.20" y1="679.50" x2="209.20" y2="681.10" stroke="#444" stroke-width="0.6"/>
<text x="209.20" y="688.19" font-size="7.2" text-anchor="middle">10<tspan dy="-2.6" font-size="4.3">2</tspan></text>
<line x1="224.40" y1="679.50" x2="224.40" y2="681.10" stroke="#444" stroke-width="0.6"/>
<text x="224.40" y="688.19" font-size="7.2" text-anchor="middle">10<tspan dy="-2.6" font-size="4.3">3</tspan></text>
<line x1="239.90" y1="679.50" x2="239.90" y2="681.10" stroke="#444" stroke-width="0.6"/>
<text x="239.90" y="688.19" font-size="7.2" text-anchor="middle">10<tspan dy="-2.6" font-size="4.3">4</tspan></text>
<line x1="254.50" y1="679.50" x2="254.50" y2="681.10" stroke="#444" stroke-width="0.6"/>
<text x="254.50" y="688.19" font-size="7.2" text-anchor="middle">10<tspan dy="-2.6" font-size="4.3">5</tspan></text>
<text x="187.30" y="604.07" font-size="8.8" textLength="24.80" lengthAdjust="spacingAndGlyphs" stroke="#231f20" stroke-width="0.05">Day 3</text>
<rect x="265.50" y="606.50" width="73.60" height="73.00" fill="none" stroke="#444" stroke-width="0.8"/>
<line x1="265.50" y1="679.50" x2="339.10" y2="606.50" stroke="#7c7c7c" stroke-width="0.75" stroke-dasharray="3,2"/>
<line x1="263.90" y1="612.30" x2="265.50" y2="612.30" stroke="#444" stroke-width="0.6"/>
<line x1="263.90" y1="627.20" x2="265.50" y2="627.20" stroke="#444" stroke-width="0.6"/>
<line x1="263.90" y1="642.40" x2="265.50" y2="642.40" stroke="#444" stroke-width="0.6"/>
<line x1="263.90" y1="657.00" x2="265.50" y2="657.00" stroke="#444" stroke-width="0.6"/>
<line x1="263.90" y1="671.60" x2="265.50" y2="671.60" stroke="#444" stroke-width="0.6"/>
<path d="M264.4 667.1h1.1M264.4 664.5h1.1M264.4 662.7h1.1M264.4 661.2h1.1M264.4 660.1h1.1M264.4 659.1h1.1M264.4 658.2h1.1M264.4 657.5h1.1M264.4 652.3h1.1M264.4 649.7h1.1M264.4 647.8h1.1M264.4 646.4h1.1M264.4 645.2h1.1M264.4 644.2h1.1M264.4 643.4h1.1M264.4 642.6h1.1M264.4 637.5h1.1M264.4 634.9h1.1M264.4 633.0h1.1M264.4 631.6h1.1M264.4 630.4h1.1M264.4 629.4h1.1M264.4 628.6h1.1M264.4 627.8h1.1M264.4 622.7h1.1M264.4 620.1h1.1M264.4 618.2h1.1M264.4 616.8h1.1M264.4 615.6h1.1M264.4 614.6h1.1M264.4 613.7h1.1M264.4 613.0h1.1M264.4 607.8h1.1" stroke="#444" stroke-width="0.4" fill="none"/>
<path d="M277.8 679.5v1.1M280.4 679.5v1.1M282.3 679.5v1.1M283.7 679.5v1.1M284.9 679.5v1.1M285.9 679.5v1.1M286.7 679.5v1.1M287.5 679.5v1.1M292.6 679.5v1.1M295.2 679.5v1.1M297.0 679.5v1.1M298.5 679.5v1.1M299.6 679.5v1.1M300.6 679.5v1.1M301.5 679.5v1.1M302.2 679.5v1.1M307.3 679.5v1.1M309.9 679.5v1.1M311.8 679.5v1.1M313.2 679.5v1.1M314.4 679.5v1.1M315.4 679.5v1.1M316.2 679.5v1.1M317.0 679.5v1.1M322.1 679.5v1.1M324.7 679.5v1.1M326.5 679.5v1.1M328.0 679.5v1.1M329.1 679.5v1.1M330.1 679.5v1.1M331.0 679.5v1.1M331.7 679.5v1.1M336.8 679.5v1.1" stroke="#444" stroke-width="0.4" fill="none"/>
<line x1="273.40" y1="679.50" x2="273.40" y2="681.10" stroke="#444" stroke-width="0.6"/>
<text x="273.40" y="688.19" font-size="7.2" text-anchor="middle">10<tspan dy="-2.6" font-size="4.3">1</tspan></text>
<line x1="288.00" y1="679.50" x2="288.00" y2="681.10" stroke="#444" stroke-width="0.6"/>
<text x="288.00" y="688.19" font-size="7.2" text-anchor="middle">10<tspan dy="-2.6" font-size="4.3">2</tspan></text>
<line x1="302.60" y1="679.50" x2="302.60" y2="681.10" stroke="#444" stroke-width="0.6"/>
<text x="302.60" y="688.19" font-size="7.2" text-anchor="middle">10<tspan dy="-2.6" font-size="4.3">3</tspan></text>
<line x1="317.80" y1="679.50" x2="317.80" y2="681.10" stroke="#444" stroke-width="0.6"/>
<text x="317.80" y="688.19" font-size="7.2" text-anchor="middle">10<tspan dy="-2.6" font-size="4.3">4</tspan></text>
<line x1="332.40" y1="679.50" x2="332.40" y2="681.10" stroke="#444" stroke-width="0.6"/>
<text x="332.40" y="688.19" font-size="7.2" text-anchor="middle">10<tspan dy="-2.6" font-size="4.3">5</tspan></text>
<text x="265.50" y="604.07" font-size="8.8" textLength="24.00" lengthAdjust="spacingAndGlyphs" stroke="#231f20" stroke-width="0.05">Day 7</text>
<text x="207.70" y="590.07" font-size="8.8" textLength="33.00" lengthAdjust="spacingAndGlyphs" stroke="#231f20" stroke-width="0.05">LmOVA</text>
<line x1="109.50" y1="592.70" x2="339.10" y2="592.70" stroke="#aaaaaa" stroke-width="0.8"/>
<line x1="11.10" y1="661.30" x2="11.10" y2="610.20" stroke="#4a5876" stroke-width="1.3"/>
<path d="M11.10,606.00 L13.20,610.20 L9.00,610.20 Z" fill="#4a5876"/>
<text x="12.00" y="674.67" font-size="8.8" text-anchor="middle" textLength="19.90" lengthAdjust="spacingAndGlyphs" transform="rotate(-90 12.00 671.50)" stroke="#231f20" stroke-width="0.05">GFP</text>
<text x="26.90" y="699.57" font-size="8.8" textLength="37.30" lengthAdjust="spacingAndGlyphs" stroke="#231f20" stroke-width="0.05">mCherry</text>
<line x1="69.20" y1="697.00" x2="334.90" y2="697.00" stroke="#4a5876" stroke-width="1.3"/>
<path d="M339.10,697.00 L334.90,699.10 L334.90,694.90 Z" fill="#4a5876"/>
<path fill="#888" d="M59.0 656.5h.5v.5h-.5zM79.0 645.8h.5v.5h-.5zM58.0 651.2h.5v.5h-.5zM74.3 665.2h.5v.5h-.5zM59.1 636.5h.5v.5h-.5zM76.4 657.7h.5v.5h-.5zM83.8 663.8h.5v.5h-.5zM69.1 648.7h.5v.5h-.5zM93.1 648.5h.5v.5h-.5zM62.9 638.3h.5v.5h-.5zM70.9 653.7h.5v.5h-.5zM66.9 651.3h.5v.5h-.5zM72.5 660.3h.5v.5h-.5zM79.9 654.5h.5v.5h-.5zM53.9 660.4h.5v.5h-.5zM57.2 649.9h.5v.5h-.5zM56.7 652.0h.5v.5h-.5zM63.0 654.6h.5v.5h-.5zM99.7 651.4h.5v.5h-.5zM77.6 636.1h.5v.5h-.5zM67.4 659.9h.5v.5h-.5zM69.2 656.4h.5v.5h-.5zM70.9 639.9h.5v.5h-.5zM75.1 642.3h.5v.5h-.5zM86.8 645.9h.5v.5h-.5zM76.2 652.0h.5v.5h-.5zM78.6 644.8h.5v.5h-.5zM79.0 650.5h.5v.5h-.5zM81.4 659.5h.5v.5h-.5zM71.3 642.6h.5v.5h-.5zM76.9 657.6h.5v.5h-.5zM84.8 647.5h.5v.5h-.5zM75.0 658.1h.5v.5h-.5zM72.5 654.5h.5v.5h-.5zM71.6 644.8h.5v.5h-.5zM60.9 647.2h.5v.5h-.5zM75.3 670.1h.5v.5h-.5zM78.8 664.6h.5v.5h-.5zM77.0 660.4h.5v.5h-.5zM71.7 661.3h.5v.5h-.5z"/>
<path d="M78.2,659.8C78.3,661.6 78.5,663.6 78.2,665.2C77.8,666.8 77.0,668.1 76.4,669.4C75.7,670.7 74.9,671.8 74.0,672.9C73.1,674.0 72.2,675.8 71.0,676.2C69.9,676.6 68.2,676.2 67.0,675.3C65.9,674.5 65.0,672.5 64.0,671.1C63.1,669.8 62.2,668.7 61.5,667.2C60.7,665.8 59.9,664.1 59.6,662.4C59.2,660.7 59.3,658.8 59.5,657.0C59.6,655.2 59.8,653.1 60.4,651.7C61.1,650.2 62.2,648.8 63.3,648.3C64.4,647.7 65.9,648.4 67.1,648.5C68.3,648.6 69.3,648.5 70.5,648.7C71.8,648.9 73.3,648.7 74.5,649.7C75.6,650.6 76.6,652.5 77.2,654.2C77.8,655.9 78.0,658.0 78.2,659.8 Z" fill="none" stroke="#111" stroke-width="0.55"/>
<path d="M77.4,659.4C77.5,661.0 77.4,662.7 77.1,664.2C76.8,665.6 76.1,666.7 75.6,668.1C75.1,669.4 74.8,671.2 74.0,672.3C73.2,673.4 72.0,674.5 70.9,674.6C69.8,674.6 68.4,673.3 67.3,672.5C66.3,671.7 65.4,670.7 64.5,669.6C63.6,668.6 62.5,667.7 61.9,666.4C61.2,665.1 60.8,663.4 60.5,661.8C60.1,660.2 59.9,658.4 60.1,656.7C60.2,655.1 60.4,653.0 61.1,651.9C61.8,650.8 63.2,650.3 64.2,649.9C65.3,649.4 66.3,649.6 67.3,649.3C68.4,649.1 69.4,648.1 70.5,648.3C71.6,648.4 73.0,649.1 74.0,650.1C74.9,651.2 75.6,653.0 76.2,654.6C76.7,656.1 77.2,657.8 77.4,659.4 Z" fill="none" stroke="#111" stroke-width="0.55"/>
<path d="M75.9,659.1C76.2,660.6 76.9,662.1 76.9,663.6C77.0,665.1 76.7,667.0 76.1,668.1C75.4,669.2 74.2,669.6 73.2,670.0C72.3,670.5 71.4,670.8 70.4,670.9C69.5,671.0 68.4,671.1 67.5,670.7C66.5,670.3 65.7,669.5 64.8,668.6C63.9,667.8 62.8,667.0 62.1,665.7C61.4,664.5 60.7,662.7 60.6,661.3C60.5,659.8 61.2,658.2 61.6,656.9C62.0,655.6 62.5,654.7 63.0,653.5C63.5,652.3 63.7,650.7 64.4,649.8C65.1,649.0 66.2,648.3 67.2,648.2C68.2,648.0 69.4,648.4 70.4,648.9C71.4,649.4 72.5,650.0 73.3,651.0C74.1,652.1 74.6,653.7 75.0,655.0C75.4,656.4 75.5,657.7 75.9,659.1 Z" fill="none" stroke="#111" stroke-width="0.55"/>
<path d="M75.7,658.6C75.8,660.0 75.9,661.4 75.7,662.6C75.4,663.7 74.9,664.7 74.4,665.7C73.9,666.7 73.4,667.5 72.7,668.3C72.0,669.1 71.3,670.3 70.4,670.6C69.6,670.8 68.4,670.4 67.5,669.8C66.7,669.2 66.0,667.9 65.3,667.0C64.6,666.0 64.0,665.2 63.4,664.1C62.9,663.1 62.3,661.8 62.1,660.6C61.9,659.3 61.9,657.9 62.0,656.6C62.1,655.3 62.3,653.8 62.8,652.7C63.2,651.7 64.1,650.8 64.9,650.4C65.7,650.0 66.7,650.3 67.6,650.3C68.5,650.3 69.2,650.2 70.1,650.4C71.0,650.5 72.1,650.6 72.9,651.3C73.7,652.0 74.4,653.4 74.9,654.6C75.3,655.9 75.5,657.3 75.7,658.6 Z" fill="#111" stroke="#111" stroke-width="0.55"/>
<path d="M74.5,659.0C74.7,660.2 74.0,661.7 73.6,662.8C73.2,663.9 72.7,664.9 72.1,665.5C71.5,666.2 70.7,666.2 69.8,666.5C69.0,666.7 68.0,667.4 67.2,667.1C66.4,666.7 65.3,665.4 64.9,664.3C64.5,663.2 64.8,661.6 64.7,660.4C64.5,659.1 64.0,657.8 64.1,656.7C64.2,655.6 64.8,654.4 65.5,653.6C66.1,652.8 67.0,651.9 67.8,651.9C68.6,651.9 69.6,653.1 70.3,653.8C71.1,654.4 71.7,655.0 72.4,655.8C73.1,656.7 74.3,657.8 74.5,659.0 Z" fill="none" stroke="#fff" stroke-width="0.3" opacity="0.7"/>
<path d="M71.8,659.5C71.9,660.3 72.0,661.0 71.9,661.8C71.9,662.6 71.8,663.9 71.4,664.3C71.0,664.8 70.1,664.4 69.5,664.3C69.0,664.3 68.4,664.3 67.9,664.0C67.4,663.7 67.0,663.2 66.6,662.5C66.1,661.9 65.5,661.1 65.4,660.4C65.2,659.6 65.5,658.5 65.7,657.8C66.0,657.2 66.7,657.1 67.1,656.5C67.5,656.0 67.7,655.0 68.2,654.8C68.7,654.6 69.4,654.9 70.0,655.3C70.5,655.7 71.1,656.3 71.4,657.0C71.7,657.7 71.7,658.7 71.8,659.5 Z" fill="none" stroke="#fff" stroke-width="0.3" opacity="0.7"/>
<ellipse cx="68.9" cy="659.6" rx="0.8" ry="1.4" fill="#fff"/>
<path d="M72,646 C73,640 75,635 76,632.5" fill="none" stroke="#999" stroke-width="0.4" stroke-dasharray="1,1"/>
<path fill="#888" d="M130.1 656.6h.5v.5h-.5zM142.9 648.7h.5v.5h-.5zM156.6 654.7h.5v.5h-.5zM143.0 673.8h.5v.5h-.5zM140.6 640.1h.5v.5h-.5zM130.9 648.2h.5v.5h-.5zM153.2 663.4h.5v.5h-.5zM158.5 674.4h.5v.5h-.5zM165.0 661.3h.5v.5h-.5zM161.0 661.6h.5v.5h-.5zM140.2 663.6h.5v.5h-.5zM147.2 652.2h.5v.5h-.5zM168.7 663.1h.5v.5h-.5zM141.2 653.7h.5v.5h-.5zM172.6 651.8h.5v.5h-.5zM154.8 661.5h.5v.5h-.5zM152.3 661.1h.5v.5h-.5zM141.2 649.5h.5v.5h-.5zM144.8 650.6h.5v.5h-.5zM155.6 671.8h.5v.5h-.5zM136.7 660.7h.5v.5h-.5zM135.7 646.9h.5v.5h-.5zM144.0 655.8h.5v.5h-.5zM141.7 625.5h.5v.5h-.5zM162.1 651.6h.5v.5h-.5zM139.5 662.2h.5v.5h-.5zM140.0 638.7h.5v.5h-.5zM152.1 659.3h.5v.5h-.5zM137.4 664.0h.5v.5h-.5zM150.8 642.0h.5v.5h-.5zM166.1 657.6h.5v.5h-.5zM134.0 659.7h.5v.5h-.5zM148.0 665.4h.5v.5h-.5zM131.6 666.2h.5v.5h-.5zM157.1 662.4h.5v.5h-.5zM153.4 669.3h.5v.5h-.5zM154.6 656.0h.5v.5h-.5zM137.3 667.0h.5v.5h-.5zM157.6 657.9h.5v.5h-.5zM148.3 662.7h.5v.5h-.5z"/>
<path d="M156.4,656.8C156.5,658.6 156.6,660.5 156.2,662.0C155.8,663.6 154.8,664.8 154.1,666.1C153.3,667.4 152.6,668.6 151.6,669.8C150.6,670.9 149.4,672.7 148.1,673.0C146.8,673.4 144.9,672.7 143.6,671.9C142.4,671.1 141.4,669.2 140.4,668.0C139.4,666.8 138.3,665.8 137.5,664.5C136.7,663.1 135.9,661.4 135.6,659.8C135.2,658.1 135.4,656.2 135.5,654.5C135.7,652.7 135.9,650.7 136.7,649.3C137.5,647.9 138.9,646.7 140.1,646.2C141.4,645.7 143.0,646.3 144.3,646.3C145.6,646.3 146.8,645.9 148.1,646.1C149.5,646.2 151.3,646.1 152.5,647.0C153.7,647.9 154.6,649.9 155.3,651.5C155.9,653.2 156.2,655.1 156.4,656.8 Z" fill="none" stroke="#111" stroke-width="0.55"/>
<path d="M155.4,656.5C155.5,658.0 154.9,659.5 154.6,660.9C154.3,662.4 154.2,663.8 153.7,665.3C153.2,666.7 152.7,668.8 151.7,669.7C150.8,670.5 149.1,670.7 147.8,670.5C146.5,670.4 145.3,669.4 144.1,668.8C142.9,668.2 141.7,667.8 140.7,667.0C139.7,666.1 138.7,664.9 138.0,663.6C137.3,662.3 136.8,660.7 136.5,659.1C136.1,657.6 135.6,655.6 135.8,654.1C136.1,652.6 137.0,650.9 137.9,649.9C138.8,648.9 140.3,648.8 141.3,648.2C142.4,647.6 143.2,646.7 144.4,646.2C145.5,645.7 147.0,645.0 148.2,645.3C149.4,645.6 150.7,646.8 151.7,647.9C152.7,649.0 153.6,650.4 154.2,651.9C154.8,653.3 155.3,655.0 155.4,656.5 Z" fill="none" stroke="#111" stroke-width="0.55"/>
<path d="M154.4,656.1C154.5,657.5 154.0,658.8 153.8,660.1C153.5,661.5 153.4,662.8 153.0,664.1C152.5,665.4 152.1,667.2 151.2,668.0C150.3,668.8 148.8,668.8 147.6,668.7C146.5,668.6 145.3,667.7 144.3,667.2C143.2,666.7 142.2,666.4 141.2,665.6C140.3,664.8 139.4,663.7 138.8,662.5C138.2,661.4 137.7,659.9 137.4,658.5C137.0,657.1 136.6,655.3 136.8,654.0C137.0,652.6 137.9,651.1 138.7,650.3C139.6,649.4 140.9,649.2 141.8,648.7C142.8,648.1 143.5,647.2 144.5,646.8C145.5,646.3 146.9,645.7 148.0,646.0C149.1,646.3 150.2,647.4 151.1,648.4C152.0,649.4 152.8,650.6 153.4,651.9C153.9,653.2 154.4,654.7 154.4,656.1 Z" fill="none" stroke="#111" stroke-width="0.55"/>
<path d="M154.2,655.6C154.5,656.9 154.1,658.5 153.8,659.6C153.5,660.8 152.8,661.9 152.2,662.8C151.6,663.7 150.9,664.7 150.1,665.2C149.3,665.8 148.3,666.0 147.3,666.1C146.4,666.3 145.4,666.4 144.4,666.2C143.4,666.0 142.1,665.9 141.2,665.1C140.4,664.4 139.7,662.9 139.3,661.7C139.0,660.4 139.1,659.0 139.0,657.8C138.9,656.5 138.7,655.4 138.7,654.1C138.8,652.9 139.0,651.5 139.5,650.5C140.0,649.5 140.9,648.7 141.7,648.0C142.6,647.4 143.6,646.7 144.6,646.6C145.6,646.5 146.7,646.8 147.6,647.3C148.6,647.9 149.2,649.0 150.0,649.8C150.8,650.6 151.6,651.2 152.3,652.2C153.0,653.2 154.0,654.4 154.2,655.6 Z" fill="#111" stroke="#111" stroke-width="0.55"/>
<path d="M151.5,655.7C151.6,656.9 151.0,658.3 150.6,659.3C150.2,660.4 149.6,661.3 148.9,662.0C148.2,662.6 147.4,662.9 146.4,663.2C145.5,663.6 144.2,664.5 143.3,664.0C142.5,663.6 141.9,661.7 141.5,660.5C141.0,659.4 140.8,658.4 140.5,657.2C140.3,656.1 139.9,654.7 140.1,653.6C140.3,652.5 141.0,651.3 141.7,650.5C142.5,649.8 143.6,649.1 144.5,649.2C145.4,649.2 146.2,650.6 147.1,651.1C148.0,651.6 149.2,651.4 149.9,652.2C150.7,653.0 151.4,654.5 151.5,655.7 Z" fill="none" stroke="#fff" stroke-width="0.3" opacity="0.7"/>
<path d="M149.9,656.7C149.9,657.4 149.5,658.1 149.3,658.8C149.1,659.6 149.1,660.5 148.7,661.0C148.4,661.6 147.6,662.4 147.0,662.3C146.4,662.3 145.8,661.4 145.2,661.0C144.6,660.6 144.0,660.4 143.6,659.8C143.2,659.3 142.9,658.5 142.8,657.7C142.6,656.9 142.3,655.8 142.5,655.1C142.7,654.4 143.5,653.9 144.1,653.6C144.6,653.3 145.1,653.3 145.7,653.2C146.3,653.0 147.1,652.3 147.7,652.5C148.2,652.7 148.8,653.7 149.2,654.4C149.5,655.1 149.9,655.9 149.9,656.7 Z" fill="none" stroke="#fff" stroke-width="0.3" opacity="0.7"/>
<ellipse cx="146.0" cy="656.8" rx="0.8" ry="1.4" fill="#fff"/>
<ellipse cx="154.1" cy="635" rx="3.70" ry="3.10" fill="none" stroke="#000" stroke-width="0.7"/>
<ellipse cx="154.1" cy="635" rx="2.59" ry="2.17" fill="none" stroke="#000" stroke-width="0.7"/>
<ellipse cx="154.1" cy="635" rx="1.48" ry="1.24" fill="none" stroke="#000" stroke-width="0.7"/>
<path d="M147.1,643.5 C148.5,640 150.5,638.5 151.8,637.6 M156.2,641.5 C157,639.5 157,638 156.8,637.5" fill="none" stroke="#111" stroke-width="0.5"/>
<path fill="#888" d="M221.1 671.7h.5v.5h-.5zM213.4 635.4h.5v.5h-.5zM225.1 662.3h.5v.5h-.5zM226.7 661.3h.5v.5h-.5zM221.4 649.2h.5v.5h-.5zM214.5 653.5h.5v.5h-.5zM218.8 666.2h.5v.5h-.5zM229.9 642.2h.5v.5h-.5zM230.8 655.8h.5v.5h-.5zM235.5 672.7h.5v.5h-.5zM229.3 636.5h.5v.5h-.5zM230.4 638.9h.5v.5h-.5zM240.6 648.9h.5v.5h-.5zM221.1 676.4h.5v.5h-.5zM203.6 656.5h.5v.5h-.5zM211.3 650.4h.5v.5h-.5zM214.3 663.8h.5v.5h-.5zM219.9 660.1h.5v.5h-.5zM230.3 637.2h.5v.5h-.5zM238.8 653.5h.5v.5h-.5zM204.8 648.9h.5v.5h-.5zM232.9 667.4h.5v.5h-.5zM215.6 657.4h.5v.5h-.5zM225.9 667.8h.5v.5h-.5zM221.7 667.2h.5v.5h-.5zM213.3 648.2h.5v.5h-.5zM230.7 664.4h.5v.5h-.5zM222.7 663.0h.5v.5h-.5zM225.6 664.9h.5v.5h-.5zM236.3 662.1h.5v.5h-.5zM232.5 651.9h.5v.5h-.5zM217.0 629.9h.5v.5h-.5zM227.9 656.6h.5v.5h-.5zM229.2 635.3h.5v.5h-.5zM217.8 650.0h.5v.5h-.5zM203.0 666.5h.5v.5h-.5zM237.0 642.0h.5v.5h-.5zM228.3 675.6h.5v.5h-.5zM209.7 667.4h.5v.5h-.5zM241.1 677.2h.5v.5h-.5zM208.0 644.3h.5v.5h-.5zM225.6 669.8h.5v.5h-.5zM209.1 647.8h.5v.5h-.5zM210.7 668.7h.5v.5h-.5zM217.0 662.7h.5v.5h-.5z"/>
<path d="M211.9,653.7C212.1,651.9 211.8,650.4 213.0,649.0C214.2,647.6 217.3,647.0 218.9,645.5C220.5,644.0 221.1,641.8 222.4,639.7C223.8,637.6 225.4,634.3 227.0,632.7C228.6,631.1 230.3,630.1 231.7,629.9C233.1,629.7 234.6,630.2 235.2,631.5C235.8,632.8 235.6,634.9 235.2,637.4C234.8,639.9 233.1,643.6 232.9,646.7C232.7,649.8 234.5,653.2 234.1,656.1C233.7,659.0 232.3,662.3 230.5,664.2C228.7,666.1 225.8,667.5 223.5,667.7C221.2,667.9 218.4,666.8 216.5,665.4C214.6,664.0 212.7,661.5 211.9,659.6C211.1,657.7 211.7,655.5 211.9,653.7 Z" fill="none" stroke="#111" stroke-width="0.55"/>
<path d="M212.4,653.6C212.6,651.9 212.4,650.4 213.5,649.1C214.6,647.8 217.6,647.2 219.1,645.8C220.6,644.3 221.1,642.3 222.4,640.2C223.7,638.2 225.3,635.1 226.8,633.6C228.3,632.0 230.0,631.1 231.3,630.9C232.6,630.7 234.1,631.2 234.6,632.4C235.2,633.6 235.0,635.6 234.6,638.0C234.3,640.4 232.6,643.9 232.4,646.9C232.3,649.9 234.0,653.1 233.6,655.9C233.2,658.6 231.8,661.7 230.2,663.6C228.5,665.4 225.7,666.7 223.5,666.9C221.3,667.1 218.6,666.0 216.8,664.7C215.0,663.4 213.1,661.1 212.4,659.2C211.7,657.3 212.2,655.3 212.4,653.6 Z" fill="none" stroke="#111" stroke-width="0.55"/>
<path d="M212.9,653.4C213.1,651.8 212.9,650.4 213.9,649.2C215.0,647.9 217.9,647.4 219.3,646.0C220.7,644.6 221.2,642.7 222.5,640.8C223.7,638.8 225.2,635.9 226.6,634.4C228.0,632.9 229.6,632.1 230.9,631.9C232.1,631.7 233.5,632.2 234.1,633.3C234.6,634.5 234.4,636.4 234.1,638.7C233.7,641.0 232.1,644.3 232.0,647.1C231.8,649.9 233.4,653.0 233.1,655.6C232.7,658.3 231.4,661.2 229.8,663.0C228.2,664.7 225.6,666.0 223.5,666.1C221.3,666.3 218.9,665.3 217.1,664.1C215.4,662.8 213.6,660.6 212.9,658.8C212.2,657.0 212.8,655.0 212.9,653.4 Z" fill="none" stroke="#111" stroke-width="0.55"/>
<path d="M213.5,653.3C213.6,651.8 213.4,650.5 214.4,649.3C215.4,648.1 218.1,647.6 219.5,646.3C220.8,644.9 221.3,643.1 222.5,641.3C223.6,639.4 225.1,636.7 226.4,635.3C227.8,633.9 229.3,633.0 230.5,632.9C231.7,632.7 233.0,633.2 233.5,634.2C234.0,635.3 233.8,637.1 233.5,639.3C233.2,641.5 231.7,644.6 231.5,647.3C231.4,650.0 232.9,652.9 232.5,655.4C232.2,657.9 231.0,660.7 229.4,662.4C227.9,664.0 225.4,665.2 223.4,665.4C221.4,665.5 219.1,664.5 217.4,663.4C215.7,662.2 214.1,660.1 213.5,658.4C212.8,656.7 213.3,654.8 213.5,653.3 Z" fill="#111" stroke="#111" stroke-width="0.55"/>
<line x1="224.00" y1="641.00" x2="230.00" y2="634.00" stroke="#fff" stroke-width="0.45" stroke-dasharray="1.2,0.8"/>
<line x1="226.50" y1="642.00" x2="231.50" y2="636.00" stroke="#fff" stroke-width="0.45" stroke-dasharray="1.2,0.8"/>
<line x1="222.50" y1="645.00" x2="228.00" y2="638.50" stroke="#fff" stroke-width="0.45" stroke-dasharray="1.2,0.8"/>
<line x1="229.00" y1="640.00" x2="233.00" y2="636.00" stroke="#fff" stroke-width="0.45" stroke-dasharray="1.2,0.8"/>
<path d="M228.2,654.6C228.5,655.5 228.4,656.5 228.2,657.3C228.0,658.2 227.5,658.9 227.0,659.7C226.5,660.6 225.9,661.9 225.1,662.2C224.2,662.5 222.9,662.0 222.0,661.7C221.1,661.4 220.3,661.0 219.6,660.4C218.9,659.9 218.1,659.2 217.7,658.4C217.4,657.6 217.2,656.5 217.3,655.6C217.4,654.7 217.9,653.4 218.5,652.9C219.2,652.3 220.5,652.4 221.4,652.1C222.3,651.8 223.1,651.0 224.0,651.0C225.0,651.0 226.2,651.4 226.9,652.0C227.6,652.6 228.0,653.7 228.2,654.6 Z" fill="none" stroke="#fff" stroke-width="0.3" opacity="0.6"/>
<path d="M226.2,655.3C226.4,655.8 226.3,656.5 226.1,657.0C226.0,657.5 225.7,658.0 225.3,658.4C225.0,658.8 224.5,659.1 224.0,659.4C223.5,659.6 222.8,660.1 222.3,660.0C221.8,659.9 221.4,659.2 221.0,658.8C220.6,658.4 220.3,658.0 220.1,657.5C219.9,657.1 219.7,656.5 219.7,656.0C219.8,655.4 220.1,654.8 220.4,654.4C220.8,654.0 221.4,653.6 221.9,653.4C222.4,653.3 223.0,653.7 223.5,653.8C224.1,653.9 224.8,653.7 225.2,653.9C225.7,654.2 226.1,654.8 226.2,655.3 Z" fill="none" stroke="#fff" stroke-width="0.3" opacity="0.6"/>
<ellipse cx="222.5" cy="655" rx="0.8" ry="1.3" fill="#fff"/>
<path fill="#888" d="M315.2 667.7h.5v.5h-.5zM289.3 635.7h.5v.5h-.5zM302.0 665.4h.5v.5h-.5zM301.5 641.0h.5v.5h-.5zM298.0 672.8h.5v.5h-.5zM289.2 668.5h.5v.5h-.5zM308.2 662.3h.5v.5h-.5zM310.7 651.0h.5v.5h-.5zM301.8 676.8h.5v.5h-.5zM299.1 652.4h.5v.5h-.5zM289.0 651.9h.5v.5h-.5zM310.4 670.7h.5v.5h-.5zM309.5 664.0h.5v.5h-.5zM308.9 660.7h.5v.5h-.5zM313.1 655.5h.5v.5h-.5zM313.7 656.3h.5v.5h-.5zM287.2 643.0h.5v.5h-.5zM301.1 652.1h.5v.5h-.5zM291.0 648.7h.5v.5h-.5zM304.9 661.5h.5v.5h-.5zM311.5 647.6h.5v.5h-.5zM306.8 668.3h.5v.5h-.5zM306.6 676.3h.5v.5h-.5zM298.4 657.0h.5v.5h-.5zM304.8 652.7h.5v.5h-.5zM302.5 659.6h.5v.5h-.5zM302.7 651.6h.5v.5h-.5zM298.6 656.2h.5v.5h-.5zM287.9 659.1h.5v.5h-.5zM292.2 654.4h.5v.5h-.5zM292.3 658.1h.5v.5h-.5zM299.3 654.2h.5v.5h-.5zM295.8 658.3h.5v.5h-.5zM318.7 637.5h.5v.5h-.5zM308.1 659.5h.5v.5h-.5zM299.2 643.3h.5v.5h-.5zM318.5 659.1h.5v.5h-.5zM312.8 653.0h.5v.5h-.5zM295.5 668.7h.5v.5h-.5zM310.3 653.8h.5v.5h-.5z"/>
<path d="M293.6,654.9C294.0,652.0 295.5,649.6 297.1,647.9C298.7,646.1 301.8,646.0 303.0,644.4C304.2,642.8 303.3,640.1 304.1,638.5C304.9,636.9 306.2,635.4 307.6,635.0C309.0,634.6 311.1,634.5 312.3,636.2C313.5,638.0 314.2,642.2 314.6,645.5C315.0,648.8 315.0,652.8 314.6,656.1C314.2,659.4 313.9,663.1 312.3,665.4C310.8,667.7 307.4,669.3 305.3,670.1C303.2,670.9 301.2,670.9 299.5,670.1C297.8,669.3 295.8,667.9 294.8,665.4C293.8,662.9 293.2,657.8 293.6,654.9 Z" fill="none" stroke="#111" stroke-width="0.55"/>
<path d="M294.2,654.9C294.5,652.1 296.0,649.9 297.5,648.3C299.0,646.6 302.0,646.4 303.1,644.9C304.2,643.4 303.4,640.8 304.1,639.3C304.9,637.8 306.2,636.4 307.5,636.0C308.8,635.6 310.8,635.5 311.9,637.1C313.0,638.8 313.8,642.8 314.1,646.0C314.5,649.1 314.5,652.9 314.1,656.0C313.8,659.2 313.4,662.7 311.9,664.9C310.5,667.1 307.3,668.6 305.3,669.3C303.3,670.1 301.4,670.1 299.8,669.3C298.1,668.6 296.2,667.3 295.3,664.9C294.4,662.5 293.8,657.7 294.2,654.9 Z" fill="none" stroke="#111" stroke-width="0.55"/>
<path d="M294.7,654.9C295.1,652.3 296.5,650.2 297.9,648.6C299.3,647.0 302.1,646.9 303.2,645.5C304.2,644.1 303.5,641.6 304.2,640.1C304.9,638.7 306.1,637.3 307.3,637.0C308.6,636.7 310.5,636.5 311.6,638.1C312.6,639.7 313.3,643.5 313.6,646.5C314.0,649.4 314.0,653.0 313.6,656.0C313.3,659.0 313.0,662.3 311.6,664.4C310.2,666.5 307.2,667.9 305.3,668.6C303.3,669.3 301.6,669.3 300.1,668.6C298.5,667.9 296.7,666.6 295.8,664.4C294.9,662.1 294.4,657.5 294.7,654.9 Z" fill="none" stroke="#111" stroke-width="0.55"/>
<path d="M295.3,654.9C295.6,652.4 297.0,650.5 298.3,649.0C299.6,647.5 302.3,647.3 303.3,646.0C304.3,644.7 303.6,642.3 304.2,641.0C304.9,639.6 306.0,638.3 307.2,638.0C308.4,637.7 310.2,637.5 311.2,639.0C312.2,640.5 312.8,644.1 313.2,646.9C313.5,649.7 313.5,653.1 313.2,655.9C312.8,658.8 312.5,661.9 311.2,663.8C309.9,665.8 307.1,667.2 305.3,667.8C303.4,668.5 301.8,668.5 300.3,667.8C298.8,667.2 297.2,666.0 296.3,663.8C295.5,661.7 295.0,657.4 295.3,654.9 Z" fill="none" stroke="#111" stroke-width="0.55"/>
<path d="M295.9,654.9C296.2,652.6 297.4,650.7 298.7,649.3C299.9,647.9 302.5,647.8 303.4,646.5C304.3,645.3 303.7,643.1 304.3,641.8C304.9,640.5 306.0,639.3 307.1,639.0C308.2,638.7 309.9,638.6 310.8,640.0C311.8,641.4 312.4,644.7 312.7,647.4C313.0,650.1 313.0,653.2 312.7,655.9C312.4,658.5 312.1,661.5 310.8,663.3C309.6,665.2 306.9,666.5 305.2,667.1C303.5,667.7 302.0,667.7 300.6,667.1C299.2,666.5 297.6,665.3 296.8,663.3C296.1,661.3 295.6,657.3 295.9,654.9 Z" fill="#111" stroke="#111" stroke-width="0.55"/>
<path d="M298.6,654.2C298.8,652.5 299.7,651.2 300.6,650.2C301.5,649.3 303.2,649.2 303.9,648.3C304.5,647.4 304.1,645.9 304.5,645.0C304.9,644.1 305.7,643.2 306.5,643.0C307.2,642.8 308.4,642.7 309.1,643.7C309.7,644.7 310.2,647.0 310.4,648.9C310.6,650.8 310.6,653.0 310.4,654.8C310.2,656.7 310.0,658.7 309.1,660.0C308.2,661.3 306.4,662.2 305.2,662.7C304.0,663.1 302.9,663.1 301.9,662.7C300.9,662.2 299.8,661.5 299.3,660.0C298.7,658.6 298.4,655.8 298.6,654.2 Z" fill="none" stroke="#fff" stroke-width="0.3" opacity="0.75"/>
<path d="M301.2,655.4C301.3,654.4 301.8,653.6 302.3,653.0C302.9,652.4 303.9,652.4 304.3,651.8C304.7,651.3 304.4,650.4 304.7,649.9C305.0,649.3 305.4,648.8 305.9,648.7C306.3,648.6 307.1,648.5 307.5,649.1C307.8,649.7 308.1,651.1 308.2,652.2C308.4,653.3 308.4,654.7 308.2,655.8C308.1,656.9 308.0,658.1 307.5,658.9C306.9,659.7 305.8,660.2 305.1,660.5C304.4,660.7 303.7,660.7 303.2,660.5C302.6,660.2 301.9,659.8 301.6,658.9C301.2,658.0 301.0,656.4 301.2,655.4 Z" fill="none" stroke="#fff" stroke-width="0.3" opacity="0.75"/>
<ellipse cx="309" cy="640.5" rx="3.20" ry="3.60" fill="none" stroke="#fff" stroke-width="0.4"/>
<ellipse cx="309" cy="640.5" rx="2.24" ry="2.52" fill="none" stroke="#fff" stroke-width="0.4"/>
<ellipse cx="309" cy="640.5" rx="1.28" ry="1.44" fill="none" stroke="#fff" stroke-width="0.4"/>
<line x1="305.00" y1="660.00" x2="308.00" y2="648.00" stroke="#fff" stroke-width="0.5"/>
<text x="360.5" y="582.9" font-size="14.5" font-weight="bold" fill="#000" textLength="3.90" lengthAdjust="spacingAndGlyphs" stroke="#000" stroke-width="0.05">l</text>
<line x1="400.90" y1="584.10" x2="410.80" y2="584.10" stroke="#111" stroke-width="0.9" stroke-dasharray="2.2,1.8"/>
<text x="416.60" y="586.91" font-size="7.8" textLength="12.40" lengthAdjust="spacingAndGlyphs" stroke="#231f20" stroke-width="0.05">UIC</text>
<line x1="441.90" y1="584.10" x2="451.80" y2="584.10" stroke="#e0302a" stroke-width="0.9" stroke-dasharray="2.2,1.8"/>
<text x="456.80" y="586.91" font-size="7.8" textLength="21.80" lengthAdjust="spacingAndGlyphs" stroke="#231f20" stroke-width="0.05">CD44<tspan dy="-2.6" font-size="4.5">+</tspan></text>
<line x1="393.00" y1="602.20" x2="393.00" y2="684.60" stroke="#3a3a3a" stroke-width="0.7"/>
<line x1="390.80" y1="684.60" x2="393.00" y2="684.60" stroke="#3a3a3a" stroke-width="0.7"/>
<text x="387.80" y="687.48" font-size="8.0" text-anchor="end" textLength="4.63" lengthAdjust="spacingAndGlyphs" stroke="#231f20" stroke-width="0.05">0</text>
<line x1="390.80" y1="663.80" x2="393.00" y2="663.80" stroke="#3a3a3a" stroke-width="0.7"/>
<text x="387.80" y="666.68" font-size="8.0" text-anchor="end" textLength="11.56" lengthAdjust="spacingAndGlyphs" stroke="#231f20" stroke-width="0.05">2.5</text>
<line x1="390.80" y1="643.40" x2="393.00" y2="643.40" stroke="#3a3a3a" stroke-width="0.7"/>
<text x="387.80" y="646.28" font-size="8.0" text-anchor="end" textLength="11.56" lengthAdjust="spacingAndGlyphs" stroke="#231f20" stroke-width="0.05">5.0</text>
<line x1="390.80" y1="622.80" x2="393.00" y2="622.80" stroke="#3a3a3a" stroke-width="0.7"/>
<text x="387.80" y="625.68" font-size="8.0" text-anchor="end" textLength="11.56" lengthAdjust="spacingAndGlyphs" stroke="#231f20" stroke-width="0.05">7.5</text>
<line x1="390.80" y1="602.20" x2="393.00" y2="602.20" stroke="#3a3a3a" stroke-width="0.7"/>
<text x="387.80" y="605.08" font-size="8.0" text-anchor="end" textLength="16.19" lengthAdjust="spacingAndGlyphs" stroke="#231f20" stroke-width="0.05">10.0</text>
<line x1="393.00" y1="684.60" x2="475.40" y2="684.60" stroke="#3a3a3a" stroke-width="0.7"/>
<line x1="398.90" y1="684.60" x2="398.90" y2="686.60" stroke="#3a3a3a" stroke-width="0.6"/>
<text x="398.90" y="694.41" font-size="7.8" text-anchor="middle" textLength="4.77" lengthAdjust="spacingAndGlyphs" stroke="#231f20" stroke-width="0.05">0</text>
<line x1="420.00" y1="684.60" x2="420.00" y2="686.60" stroke="#3a3a3a" stroke-width="0.6"/>
<text x="420.00" y="694.41" font-size="7.8" text-anchor="middle" textLength="4.77" lengthAdjust="spacingAndGlyphs" stroke="#231f20" stroke-width="0.05">1</text>
<line x1="441.10" y1="684.60" x2="441.10" y2="686.60" stroke="#3a3a3a" stroke-width="0.6"/>
<text x="441.10" y="694.41" font-size="7.8" text-anchor="middle" textLength="4.77" lengthAdjust="spacingAndGlyphs" stroke="#231f20" stroke-width="0.05">3</text>
<line x1="462.20" y1="684.60" x2="462.20" y2="686.60" stroke="#3a3a3a" stroke-width="0.6"/>
<text x="462.20" y="694.41" font-size="7.8" text-anchor="middle" textLength="4.77" lengthAdjust="spacingAndGlyphs" stroke="#231f20" stroke-width="0.05">7</text>
<text x="392.20" y="706.37" font-size="8.8" textLength="83.90" lengthAdjust="spacingAndGlyphs" stroke="#231f20" stroke-width="0.05">Days post infection</text>
<text x="363.70" y="646.37" font-size="8.8" text-anchor="middle" textLength="67.00" lengthAdjust="spacingAndGlyphs" transform="rotate(-90 363.70 643.20)" stroke="#231f20" stroke-width="0.05">Autophagy flux</text>
<path d="M398.9,619.6 L420,644.4 L441.1,653.9 L462.2,631.5" fill="none" stroke="#e8392e" stroke-width="1.0" stroke-dasharray="2.5,1.5"/>
<path d="M398.9,614.6 L420,618.4 L441.1,614.6 L462.2,619.6" fill="none" stroke="#222" stroke-width="0.9" stroke-dasharray="2.5,1.5"/>
<circle cx="399.10" cy="621.14" r="1.55" fill="#e03424" stroke="#7a1a10" stroke-width="0.35"/>
<circle cx="399.74" cy="622.04" r="1.55" fill="#e03424" stroke="#7a1a10" stroke-width="0.35"/>
<circle cx="399.54" cy="621.95" r="1.55" fill="#e03424" stroke="#7a1a10" stroke-width="0.35"/>
<circle cx="396.91" cy="619.90" r="1.55" fill="#e03424" stroke="#7a1a10" stroke-width="0.35"/>
<circle cx="400.29" cy="620.72" r="1.55" fill="#e03424" stroke="#7a1a10" stroke-width="0.35"/>
<circle cx="400.13" cy="618.31" r="1.55" fill="#e03424" stroke="#7a1a10" stroke-width="0.35"/>
<circle cx="419.62" cy="639.71" r="1.55" fill="#e03424" stroke="#7a1a10" stroke-width="0.35"/>
<circle cx="419.94" cy="643.57" r="1.55" fill="#e03424" stroke="#7a1a10" stroke-width="0.35"/>
<circle cx="417.66" cy="639.36" r="1.55" fill="#e03424" stroke="#7a1a10" stroke-width="0.35"/>
<circle cx="418.80" cy="647.61" r="1.55" fill="#e03424" stroke="#7a1a10" stroke-width="0.35"/>
<circle cx="420.89" cy="638.68" r="1.55" fill="#e03424" stroke="#7a1a10" stroke-width="0.35"/>
<circle cx="421.03" cy="638.44" r="1.55" fill="#e03424" stroke="#7a1a10" stroke-width="0.35"/>
<circle cx="420.26" cy="638.30" r="1.55" fill="#e03424" stroke="#7a1a10" stroke-width="0.35"/>
<circle cx="417.61" cy="647.08" r="1.55" fill="#e03424" stroke="#7a1a10" stroke-width="0.35"/>
<circle cx="418.50" cy="639.34" r="1.55" fill="#e03424" stroke="#7a1a10" stroke-width="0.35"/>
<circle cx="421.82" cy="647.09" r="1.55" fill="#e03424" stroke="#7a1a10" stroke-width="0.35"/>
<circle cx="418.84" cy="648.15" r="1.55" fill="#e03424" stroke="#7a1a10" stroke-width="0.35"/>
<circle cx="419.92" cy="644.80" r="1.55" fill="#e03424" stroke="#7a1a10" stroke-width="0.35"/>
<circle cx="418.48" cy="647.90" r="1.55" fill="#e03424" stroke="#7a1a10" stroke-width="0.35"/>
<circle cx="420.57" cy="648.21" r="1.55" fill="#e03424" stroke="#7a1a10" stroke-width="0.35"/>
<circle cx="442.44" cy="652.61" r="1.55" fill="#e03424" stroke="#7a1a10" stroke-width="0.35"/>
<circle cx="440.15" cy="651.36" r="1.55" fill="#e03424" stroke="#7a1a10" stroke-width="0.35"/>
<circle cx="439.23" cy="650.41" r="1.55" fill="#e03424" stroke="#7a1a10" stroke-width="0.35"/>
<circle cx="439.90" cy="655.47" r="1.55" fill="#e03424" stroke="#7a1a10" stroke-width="0.35"/>
<circle cx="438.61" cy="656.17" r="1.55" fill="#e03424" stroke="#7a1a10" stroke-width="0.35"/>
<circle cx="440.05" cy="652.71" r="1.55" fill="#e03424" stroke="#7a1a10" stroke-width="0.35"/>
<circle cx="442.12" cy="654.32" r="1.55" fill="#e03424" stroke="#7a1a10" stroke-width="0.35"/>
<circle cx="439.96" cy="654.32" r="1.55" fill="#e03424" stroke="#7a1a10" stroke-width="0.35"/>
<circle cx="441.63" cy="650.34" r="1.55" fill="#e03424" stroke="#7a1a10" stroke-width="0.35"/>
<circle cx="442.79" cy="650.01" r="1.55" fill="#e03424" stroke="#7a1a10" stroke-width="0.35"/>
<circle cx="441.82" cy="657.74" r="1.55" fill="#e03424" stroke="#7a1a10" stroke-width="0.35"/>
<circle cx="438.68" cy="657.20" r="1.55" fill="#e03424" stroke="#7a1a10" stroke-width="0.35"/>
<circle cx="461.05" cy="632.10" r="1.55" fill="#e03424" stroke="#7a1a10" stroke-width="0.35"/>
<circle cx="459.73" cy="628.70" r="1.55" fill="#e03424" stroke="#7a1a10" stroke-width="0.35"/>
<circle cx="460.37" cy="634.51" r="1.55" fill="#e03424" stroke="#7a1a10" stroke-width="0.35"/>
<circle cx="460.43" cy="633.24" r="1.55" fill="#e03424" stroke="#7a1a10" stroke-width="0.35"/>
<circle cx="463.14" cy="634.43" r="1.55" fill="#e03424" stroke="#7a1a10" stroke-width="0.35"/>
<circle cx="460.97" cy="630.67" r="1.55" fill="#e03424" stroke="#7a1a10" stroke-width="0.35"/>
<circle cx="461.64" cy="633.36" r="1.55" fill="#e03424" stroke="#7a1a10" stroke-width="0.35"/>
<circle cx="460.10" cy="633.19" r="1.55" fill="#e03424" stroke="#7a1a10" stroke-width="0.35"/>
<line x1="419.60" y1="648.00" x2="419.60" y2="654.90" stroke="#e03424" stroke-width="0.7"/>
<circle cx="419.40" cy="654.90" r="1.55" fill="#e03424" stroke="#7a1a10" stroke-width="0.35"/>
<line x1="461.80" y1="634.00" x2="461.80" y2="640.90" stroke="#e03424" stroke-width="0.7"/>
<circle cx="461.80" cy="640.90" r="1.55" fill="#e03424" stroke="#7a1a10" stroke-width="0.35"/>
<circle cx="400.67" cy="615.15" r="1.50" fill="#111"/>
<circle cx="397.93" cy="615.30" r="1.50" fill="#111"/>
<circle cx="398.13" cy="614.21" r="1.50" fill="#111"/>
<circle cx="400.00" cy="615.25" r="1.50" fill="#111"/>
<circle cx="419.96" cy="620.83" r="1.50" fill="#111"/>
<circle cx="420.65" cy="617.83" r="1.50" fill="#111"/>
<circle cx="419.88" cy="617.17" r="1.50" fill="#111"/>
<circle cx="419.07" cy="617.03" r="1.50" fill="#111"/>
<circle cx="421.14" cy="621.18" r="1.50" fill="#111"/>
<circle cx="440.38" cy="613.59" r="1.50" fill="#111"/>
<circle cx="443.35" cy="614.46" r="1.50" fill="#111"/>
<circle cx="441.26" cy="613.93" r="1.50" fill="#111"/>
<circle cx="441.94" cy="614.99" r="1.50" fill="#111"/>
<circle cx="462.53" cy="620.89" r="1.50" fill="#111"/>
<circle cx="461.01" cy="622.52" r="1.50" fill="#111"/>
<circle cx="460.92" cy="621.13" r="1.50" fill="#111"/>
<circle cx="463.99" cy="619.93" r="1.50" fill="#111"/>
<circle cx="462.70" cy="615.20" r="1.50" fill="#111"/>
<text x="399.5" y="612.3" font-size="8" textLength="17.4" lengthAdjust="spacingAndGlyphs" transform="rotate(-45 399.5 612.3)" stroke="#231f20" stroke-width="0.05">0.04</text>
<text x="420.5" y="612.3" font-size="8" textLength="32.6" lengthAdjust="spacingAndGlyphs" transform="rotate(-45 420.5 612.3)" stroke="#231f20" stroke-width="0.05">&lt;0.0001</text>
<text x="441.5" y="612.3" font-size="8" textLength="32.6" lengthAdjust="spacingAndGlyphs" transform="rotate(-45 441.5 612.3)" stroke="#231f20" stroke-width="0.05">&lt;0.0001</text>
<text x="462.5" y="612.3" font-size="8" textLength="17.4" lengthAdjust="spacingAndGlyphs" transform="rotate(-45 462.5 612.3)" stroke="#231f20" stroke-width="0.05">0.04</text>
<text x="496.4" y="583" font-size="14.5" font-weight="bold" fill="#000" textLength="12.50" lengthAdjust="spacingAndGlyphs" stroke="#000" stroke-width="0.05">m</text>
<text x="535.20" y="580.31" font-size="7.8" textLength="58.30" lengthAdjust="spacingAndGlyphs" stroke="#231f20" stroke-width="0.05">High autophagy</text>
<ellipse cx="601" cy="577.5" rx="3.6" ry="2.2" fill="none" stroke="#3a50b0" stroke-width="0.7"/>
<text x="514.40" y="591.41" font-size="7.8" textLength="79.10" lengthAdjust="spacingAndGlyphs" stroke="#231f20" stroke-width="0.05">Repressed autophagy</text>
<ellipse cx="601" cy="588.6" rx="3.6" ry="2.2" fill="none" stroke="#e0302a" stroke-width="0.7"/>
<line x1="535.20" y1="602.40" x2="535.20" y2="684.80" stroke="#3a3a3a" stroke-width="0.7"/>
<line x1="533.00" y1="684.80" x2="535.20" y2="684.80" stroke="#3a3a3a" stroke-width="0.7"/>
<text x="530.00" y="687.68" font-size="8.0" text-anchor="end" textLength="4.63" lengthAdjust="spacingAndGlyphs" stroke="#231f20" stroke-width="0.05">4</text>
<line x1="533.00" y1="657.40" x2="535.20" y2="657.40" stroke="#3a3a3a" stroke-width="0.7"/>
<text x="530.00" y="660.28" font-size="8.0" text-anchor="end" textLength="4.63" lengthAdjust="spacingAndGlyphs" stroke="#231f20" stroke-width="0.05">6</text>
<line x1="533.00" y1="630.20" x2="535.20" y2="630.20" stroke="#3a3a3a" stroke-width="0.7"/>
<text x="530.00" y="633.08" font-size="8.0" text-anchor="end" textLength="4.63" lengthAdjust="spacingAndGlyphs" stroke="#231f20" stroke-width="0.05">8</text>
<line x1="533.00" y1="602.40" x2="535.20" y2="602.40" stroke="#3a3a3a" stroke-width="0.7"/>
<text x="530.00" y="605.28" font-size="8.0" text-anchor="end" textLength="9.25" lengthAdjust="spacingAndGlyphs" stroke="#231f20" stroke-width="0.05">10</text>
<line x1="535.20" y1="684.80" x2="607.30" y2="684.80" stroke="#3a3a3a" stroke-width="0.7"/>
<line x1="570.50" y1="684.80" x2="570.50" y2="686.80" stroke="#3a3a3a" stroke-width="0.6"/>
<text x="542.70" y="696.37" font-size="8.8" textLength="22.20" lengthAdjust="spacingAndGlyphs" stroke="#231f20" stroke-width="0.05">Day 1</text>
<text x="577.70" y="696.37" font-size="8.8" textLength="23.30" lengthAdjust="spacingAndGlyphs" stroke="#231f20" stroke-width="0.05">Day 3</text>
<text x="500.50" y="647.17" font-size="8.8" text-anchor="middle" textLength="86.00" lengthAdjust="spacingAndGlyphs" transform="rotate(-90 500.50 644.00)" stroke="#231f20" stroke-width="0.05">Forward scatter MFI</text>
<text x="511.60" y="647.17" font-size="8.8" text-anchor="middle" transform="rotate(-90 511.60 644.00)" stroke="#231f20" stroke-width="0.05">(×10<tspan dy="-2.8" font-size="5">4</tspan><tspan dy="2.8">)</tspan></text>
<text x="538.00" y="615.15" font-size="6.8" textLength="26.90" lengthAdjust="spacingAndGlyphs">&lt;0.0001</text>
<line x1="546.00" y1="617.20" x2="563.00" y2="617.20" stroke="#c0c0c0" stroke-width="0.7"/>
<text x="574.00" y="607.65" font-size="6.8" textLength="27.00" lengthAdjust="spacingAndGlyphs">&lt;0.0001</text>
<line x1="580.00" y1="609.40" x2="596.00" y2="609.40" stroke="#c0c0c0" stroke-width="0.7"/>
<ellipse cx="546.1" cy="650.6" rx="5.1" ry="2.2" fill="#8090d0" opacity="0.35"/>
<circle cx="545.74" cy="650.08" r="1.15" fill="#26307a" stroke="#111" stroke-width="0.3"/>
<circle cx="542.60" cy="652.10" r="1.15" fill="#26307a" stroke="#111" stroke-width="0.3"/>
<circle cx="541.32" cy="650.61" r="1.15" fill="#26307a" stroke="#111" stroke-width="0.3"/>
<circle cx="549.96" cy="648.89" r="1.15" fill="#26307a" stroke="#111" stroke-width="0.3"/>
<circle cx="546.63" cy="651.08" r="1.15" fill="#26307a" stroke="#111" stroke-width="0.3"/>
<circle cx="541.65" cy="650.11" r="1.15" fill="#26307a" stroke="#111" stroke-width="0.3"/>
<circle cx="548.07" cy="650.40" r="1.15" fill="#26307a" stroke="#111" stroke-width="0.3"/>
<circle cx="548.28" cy="649.20" r="1.15" fill="#26307a" stroke="#111" stroke-width="0.3"/>
<circle cx="543.56" cy="649.01" r="1.15" fill="#26307a" stroke="#111" stroke-width="0.3"/>
<circle cx="546.16" cy="652.33" r="1.15" fill="#26307a" stroke="#111" stroke-width="0.3"/>
<line x1="563.00" y1="626.30" x2="563.00" y2="644.20" stroke="#f08080" stroke-width="0.7"/>
<ellipse cx="563.0" cy="638.4" rx="5.0" ry="3.1" fill="#f08080" opacity="0.35"/>
<circle cx="563.86" cy="639.98" r="1.15" fill="#c8141e" stroke="#111" stroke-width="0.3"/>
<circle cx="561.89" cy="639.82" r="1.15" fill="#c8141e" stroke="#111" stroke-width="0.3"/>
<circle cx="559.21" cy="637.19" r="1.15" fill="#c8141e" stroke="#111" stroke-width="0.3"/>
<circle cx="564.66" cy="639.70" r="1.15" fill="#c8141e" stroke="#111" stroke-width="0.3"/>
<circle cx="562.26" cy="636.02" r="1.15" fill="#c8141e" stroke="#111" stroke-width="0.3"/>
<circle cx="560.78" cy="636.72" r="1.15" fill="#c8141e" stroke="#111" stroke-width="0.3"/>
<circle cx="560.92" cy="640.19" r="1.15" fill="#c8141e" stroke="#111" stroke-width="0.3"/>
<circle cx="560.14" cy="640.63" r="1.15" fill="#c8141e" stroke="#111" stroke-width="0.3"/>
<circle cx="566.61" cy="635.83" r="1.15" fill="#c8141e" stroke="#111" stroke-width="0.3"/>
<circle cx="561.85" cy="638.35" r="1.15" fill="#c8141e" stroke="#111" stroke-width="0.3"/>
<line x1="578.60" y1="652.00" x2="578.60" y2="663.70" stroke="#8090d0" stroke-width="0.7"/>
<ellipse cx="578.6" cy="654.2" rx="5.5" ry="2.0" fill="#8090d0" opacity="0.35"/>
<circle cx="573.66" cy="653.92" r="1.15" fill="#26307a" stroke="#111" stroke-width="0.3"/>
<circle cx="582.81" cy="652.75" r="1.15" fill="#26307a" stroke="#111" stroke-width="0.3"/>
<circle cx="579.60" cy="652.78" r="1.15" fill="#26307a" stroke="#111" stroke-width="0.3"/>
<circle cx="579.42" cy="655.68" r="1.15" fill="#26307a" stroke="#111" stroke-width="0.3"/>
<circle cx="575.52" cy="652.36" r="1.15" fill="#26307a" stroke="#111" stroke-width="0.3"/>
<circle cx="574.28" cy="654.35" r="1.15" fill="#26307a" stroke="#111" stroke-width="0.3"/>
<circle cx="573.60" cy="652.65" r="1.15" fill="#26307a" stroke="#111" stroke-width="0.3"/>
<circle cx="578.57" cy="655.77" r="1.15" fill="#26307a" stroke="#111" stroke-width="0.3"/>
<circle cx="577.77" cy="653.82" r="1.15" fill="#26307a" stroke="#111" stroke-width="0.3"/>
<circle cx="580.04" cy="652.68" r="1.15" fill="#26307a" stroke="#111" stroke-width="0.3"/>
<line x1="597.40" y1="612.80" x2="597.40" y2="628.50" stroke="#f08080" stroke-width="0.7"/>
<ellipse cx="597.4" cy="621.8" rx="6.3" ry="3.2" fill="#f08080" opacity="0.35"/>
<circle cx="598.35" cy="619.80" r="1.15" fill="#c8141e" stroke="#111" stroke-width="0.3"/>
<circle cx="598.70" cy="624.60" r="1.15" fill="#c8141e" stroke="#111" stroke-width="0.3"/>
<circle cx="592.09" cy="622.14" r="1.15" fill="#c8141e" stroke="#111" stroke-width="0.3"/>
<circle cx="598.67" cy="619.65" r="1.15" fill="#c8141e" stroke="#111" stroke-width="0.3"/>
<circle cx="594.64" cy="624.83" r="1.15" fill="#c8141e" stroke="#111" stroke-width="0.3"/>
<circle cx="603.33" cy="619.48" r="1.15" fill="#c8141e" stroke="#111" stroke-width="0.3"/>
<circle cx="599.85" cy="624.56" r="1.15" fill="#c8141e" stroke="#111" stroke-width="0.3"/>
<circle cx="594.27" cy="622.48" r="1.15" fill="#c8141e" stroke="#111" stroke-width="0.3"/>
<circle cx="591.96" cy="620.98" r="1.15" fill="#c8141e" stroke="#111" stroke-width="0.3"/>
<circle cx="599.47" cy="622.35" r="1.15" fill="#c8141e" stroke="#111" stroke-width="0.3"/>
<circle cx="563.00" cy="629.50" r="1.15" fill="#c8141e" stroke="#111" stroke-width="0.3"/>
<circle cx="578.60" cy="662.50" r="1.15" fill="#26307a" stroke="#111" stroke-width="0.3"/>
<circle cx="597.40" cy="614.20" r="1.15" fill="#c8141e" stroke="#111" stroke-width="0.3"/>
<text x="0" y="723.6" font-size="14.5" font-weight="bold" fill="#000" textLength="8.20" lengthAdjust="spacingAndGlyphs" stroke="#000" stroke-width="0.05">n</text>
<text x="24.10" y="731.85" font-size="8.2" fill="#e8242c" textLength="78.80" lengthAdjust="spacingAndGlyphs" stroke="#e8242c" stroke-width="0.05">Repressed autophagy</text>
<text x="44.90" y="739.75" font-size="8.2" fill="#3346a8" textLength="58.00" lengthAdjust="spacingAndGlyphs" stroke="#3346a8" stroke-width="0.05">High autophagy</text>
<rect x="30.70" y="743.40" width="72.70" height="73.10" fill="none" stroke="#444" stroke-width="0.8"/>
<line x1="29.10" y1="749.30" x2="30.70" y2="749.30" stroke="#444" stroke-width="0.6"/>
<text x="27.50" y="751.89" font-size="7.2" text-anchor="end">10<tspan dy="-2.6" font-size="4.3">5</tspan></text>
<line x1="29.10" y1="764.20" x2="30.70" y2="764.20" stroke="#444" stroke-width="0.6"/>
<text x="27.50" y="766.79" font-size="7.2" text-anchor="end">10<tspan dy="-2.6" font-size="4.3">4</tspan></text>
<line x1="29.10" y1="778.80" x2="30.70" y2="778.80" stroke="#444" stroke-width="0.6"/>
<text x="27.50" y="781.39" font-size="7.2" text-anchor="end">10<tspan dy="-2.6" font-size="4.3">3</tspan></text>
<line x1="29.10" y1="794.20" x2="30.70" y2="794.20" stroke="#444" stroke-width="0.6"/>
<text x="27.50" y="796.79" font-size="7.2" text-anchor="end">10<tspan dy="-2.6" font-size="4.3">2</tspan></text>
<line x1="29.10" y1="808.80" x2="30.70" y2="808.80" stroke="#444" stroke-width="0.6"/>
<text x="27.50" y="811.39" font-size="7.2" text-anchor="end">10<tspan dy="-2.6" font-size="4.3">1</tspan></text>
<path d="M29.6 804.3h1.1M29.6 801.7h1.1M29.6 799.8h1.1M29.6 798.4h1.1M29.6 797.2h1.1M29.6 796.2h1.1M29.6 795.4h1.1M29.6 794.6h1.1M29.6 789.4h1.1M29.6 786.8h1.1M29.6 785.0h1.1M29.6 783.5h1.1M29.6 782.4h1.1M29.6 781.4h1.1M29.6 780.5h1.1M29.6 779.7h1.1M29.6 774.6h1.1M29.6 772.0h1.1M29.6 770.1h1.1M29.6 768.7h1.1M29.6 767.5h1.1M29.6 766.5h1.1M29.6 765.6h1.1M29.6 764.9h1.1M29.6 759.7h1.1M29.6 757.1h1.1M29.6 755.2h1.1M29.6 753.8h1.1M29.6 752.6h1.1M29.6 751.6h1.1M29.6 750.7h1.1M29.6 750.0h1.1M29.6 744.8h1.1" stroke="#444" stroke-width="0.4" fill="none"/>
<path d="M43.2 816.5v1.1M45.6 816.5v1.1M47.4 816.5v1.1M48.7 816.5v1.1M49.8 816.5v1.1M50.7 816.5v1.1M51.6 816.5v1.1M52.3 816.5v1.1M57.1 816.5v1.1M59.5 816.5v1.1M61.3 816.5v1.1M62.6 816.5v1.1M63.7 816.5v1.1M64.6 816.5v1.1M65.5 816.5v1.1M66.2 816.5v1.1M71.0 816.5v1.1M73.4 816.5v1.1M75.2 816.5v1.1M76.5 816.5v1.1M77.6 816.5v1.1M78.5 816.5v1.1M79.4 816.5v1.1M80.1 816.5v1.1M84.9 816.5v1.1M87.3 816.5v1.1M89.1 816.5v1.1M90.4 816.5v1.1M91.5 816.5v1.1M92.4 816.5v1.1M93.3 816.5v1.1M94.0 816.5v1.1M98.8 816.5v1.1M101.2 816.5v1.1M103.0 816.5v1.1" stroke="#444" stroke-width="0.4" fill="none"/>
<line x1="39.00" y1="816.50" x2="39.00" y2="818.10" stroke="#444" stroke-width="0.6"/>
<text x="39.00" y="826.99" font-size="7.2" text-anchor="middle">10<tspan dy="-2.6" font-size="4.3">1</tspan></text>
<line x1="52.60" y1="816.50" x2="52.60" y2="818.10" stroke="#444" stroke-width="0.6"/>
<text x="52.60" y="826.99" font-size="7.2" text-anchor="middle">10<tspan dy="-2.6" font-size="4.3">2</tspan></text>
<line x1="66.80" y1="816.50" x2="66.80" y2="818.10" stroke="#444" stroke-width="0.6"/>
<text x="66.80" y="826.99" font-size="7.2" text-anchor="middle">10<tspan dy="-2.6" font-size="4.3">3</tspan></text>
<line x1="81.50" y1="816.50" x2="81.50" y2="818.10" stroke="#444" stroke-width="0.6"/>
<text x="81.50" y="826.99" font-size="7.2" text-anchor="middle">10<tspan dy="-2.6" font-size="4.3">4</tspan></text>
<line x1="94.60" y1="816.50" x2="94.60" y2="818.10" stroke="#444" stroke-width="0.6"/>
<text x="94.60" y="826.99" font-size="7.2" text-anchor="middle">10<tspan dy="-2.6" font-size="4.3">5</tspan></text>
<text x="31.70" y="750.65" font-size="6.8" textLength="17.60" lengthAdjust="spacingAndGlyphs">CD8+</text>
<path fill="#999" d="M73.8 807.8h.5v.5h-.5zM58.4 781.7h.5v.5h-.5zM69.8 812.8h.5v.5h-.5zM70.3 778.6h.5v.5h-.5zM58.7 791.7h.5v.5h-.5zM75.6 792.2h.5v.5h-.5zM62.7 789.7h.5v.5h-.5zM68.0 783.6h.5v.5h-.5zM66.3 795.5h.5v.5h-.5zM82.4 791.7h.5v.5h-.5zM75.8 780.3h.5v.5h-.5zM74.7 794.3h.5v.5h-.5zM61.0 792.1h.5v.5h-.5zM75.2 788.6h.5v.5h-.5zM76.4 810.3h.5v.5h-.5zM82.2 811.4h.5v.5h-.5zM53.9 796.4h.5v.5h-.5zM59.7 803.5h.5v.5h-.5zM67.1 795.0h.5v.5h-.5zM70.9 785.4h.5v.5h-.5zM67.3 783.9h.5v.5h-.5zM86.8 787.0h.5v.5h-.5zM66.5 771.7h.5v.5h-.5zM51.9 782.6h.5v.5h-.5zM74.2 801.5h.5v.5h-.5zM69.1 784.9h.5v.5h-.5zM84.5 780.4h.5v.5h-.5zM58.0 798.2h.5v.5h-.5zM56.6 795.6h.5v.5h-.5zM75.9 791.6h.5v.5h-.5zM70.4 792.9h.5v.5h-.5zM59.7 755.0h.5v.5h-.5zM54.4 792.3h.5v.5h-.5zM50.2 785.8h.5v.5h-.5zM68.4 808.2h.5v.5h-.5zM52.9 786.2h.5v.5h-.5zM68.6 798.6h.5v.5h-.5zM52.8 814.4h.5v.5h-.5zM58.3 805.3h.5v.5h-.5zM64.4 797.3h.5v.5h-.5zM82.8 800.8h.5v.5h-.5zM67.6 780.5h.5v.5h-.5zM59.9 775.5h.5v.5h-.5zM86.3 774.0h.5v.5h-.5zM40.9 811.9h.5v.5h-.5zM79.0 788.2h.5v.5h-.5zM74.6 782.7h.5v.5h-.5zM60.7 798.4h.5v.5h-.5zM70.2 787.0h.5v.5h-.5zM82.4 801.2h.5v.5h-.5zM67.7 778.4h.5v.5h-.5zM67.7 788.6h.5v.5h-.5zM65.6 801.9h.5v.5h-.5zM60.6 795.6h.5v.5h-.5zM74.2 796.6h.5v.5h-.5zM89.1 771.7h.5v.5h-.5zM65.7 778.3h.5v.5h-.5zM50.1 788.9h.5v.5h-.5zM72.8 793.5h.5v.5h-.5z"/>
<path d="M62.8,777.0C60.5,777.6 59.7,781.0 58.0,783.0C56.3,785.0 53.3,786.7 52.5,789.0C51.7,791.3 52.2,794.8 53.0,797.0C53.8,799.2 55.0,800.7 57.0,802.0C59.0,803.3 62.4,805.0 65.0,804.8C67.6,804.6 70.8,802.6 72.5,801.0C74.2,799.4 74.9,797.5 75.5,795.0C76.1,792.5 76.6,788.6 76.0,786.0C75.4,783.4 74.2,781.0 72.0,779.5C69.8,778.0 65.1,776.4 62.8,777.0 Z" fill="none" stroke="#888" stroke-width="0.5"/>
<path d="M62.9,777.7C60.7,778.3 60.0,781.5 58.3,783.4C56.7,785.3 53.9,786.9 53.1,789.1C52.3,791.3 52.9,794.6 53.6,796.7C54.3,798.8 55.5,800.2 57.4,801.5C59.3,802.7 62.5,804.3 65.0,804.1C67.4,804.0 70.4,802.1 72.1,800.5C73.8,798.9 74.4,797.2 75.0,794.8C75.5,792.4 76.0,788.7 75.4,786.2C74.9,783.8 73.7,781.5 71.6,780.1C69.5,778.7 65.1,777.1 62.9,777.7 Z" fill="none" stroke="#888" stroke-width="0.5"/>
<path d="M63.0,778.3C60.8,778.8 60.1,781.9 58.6,783.7C57.0,785.5 54.3,787.1 53.6,789.2C52.8,791.3 53.4,794.5 54.0,796.5C54.7,798.4 55.9,799.8 57.7,801.0C59.5,802.2 62.6,803.7 65.0,803.6C67.3,803.4 70.2,801.6 71.8,800.1C73.4,798.6 74.0,796.9 74.5,794.6C75.0,792.4 75.5,788.8 75.0,786.5C74.4,784.1 73.3,781.9 71.3,780.5C69.3,779.2 65.1,777.7 63.0,778.3 Z" fill="#c8c8c8"/>
<ellipse cx="65" cy="791.2" rx="9.4" ry="11.6" fill="#2b46a0" transform="rotate(-15 65 791.2)"/>
<ellipse cx="71.9" cy="774" rx="8.6" ry="6.9" fill="#e42828" transform="rotate(-35 71.9 774)"/>
<ellipse cx="65.5" cy="791" rx="0.8" ry="1.3" fill="#fff"/>
<path d="M62.5,816.3 A2.5,2.2 0 0 1 67.5,816.3" fill="none" stroke="#888" stroke-width="0.5"/>
<line x1="95.20" y1="747.70" x2="110.00" y2="747.70" stroke="#3d4d66" stroke-width="3.2"/>
<path d="M116.50,747.70 L109.50,743.20 L109.50,752.20 Z" fill="#3d4d66"/>
<text x="10.20" y="812.67" font-size="8.8" text-anchor="middle" textLength="19.90" lengthAdjust="spacingAndGlyphs" transform="rotate(-90 10.20 809.50)" stroke="#231f20" stroke-width="0.05">GFP</text>
<line x1="9.90" y1="800.70" x2="9.90" y2="747.20" stroke="#4a5876" stroke-width="1.3"/>
<path d="M9.90,743.00 L12.00,747.20 L7.80,747.20 Z" fill="#4a5876"/>
<text x="29.20" y="837.07" font-size="8.8" textLength="38.10" lengthAdjust="spacingAndGlyphs" stroke="#231f20" stroke-width="0.05">mCherry</text>
<line x1="69.60" y1="833.90" x2="101.40" y2="833.90" stroke="#4a5876" stroke-width="1.3"/>
<path d="M105.60,833.90 L101.40,836.00 L101.40,831.80 Z" fill="#4a5876"/>
<text x="118.30" y="797.17" font-size="8.8" text-anchor="middle" textLength="44.00" lengthAdjust="spacingAndGlyphs" transform="rotate(-90 118.30 794.00)" stroke="#231f20" stroke-width="0.05">CD44-APC</text>
<text x="128.60" y="798.17" font-size="8.8" text-anchor="middle" textLength="42.00" lengthAdjust="spacingAndGlyphs" transform="rotate(-90 128.60 795.00)" stroke="#231f20" stroke-width="0.05">eFluor780</text>
<line x1="128.70" y1="767.00" x2="128.70" y2="749.20" stroke="#4a5876" stroke-width="1.3"/>
<path d="M128.70,745.00 L130.80,749.20 L126.60,749.20 Z" fill="#4a5876"/>
<text x="187.70" y="724.77" font-size="8.8" textLength="59.60" lengthAdjust="spacingAndGlyphs" stroke="#231f20" stroke-width="0.05">Day 3 LmOVA</text>
<line x1="140.00" y1="728.30" x2="295.50" y2="728.30" stroke="#aaaaaa" stroke-width="0.8"/>
<text x="157.20" y="741.25" font-size="8.2" fill="#3346a8" textLength="58.20" lengthAdjust="spacingAndGlyphs" stroke="#3346a8" stroke-width="0.05">High autophagy</text>
<text x="223.20" y="741.45" font-size="8.2" fill="#e8242c" textLength="79.70" lengthAdjust="spacingAndGlyphs" stroke="#e8242c" stroke-width="0.05">Repressed autophagy</text>
<rect x="149.40" y="743.80" width="73.50" height="72.70" fill="none" stroke="#444" stroke-width="0.8"/>
<line x1="147.80" y1="758.30" x2="149.40" y2="758.30" stroke="#444" stroke-width="0.6"/>
<text x="147.20" y="760.89" font-size="7.2" text-anchor="end">10<tspan dy="-2.6" font-size="4.3">4</tspan></text>
<line x1="147.80" y1="774.30" x2="149.40" y2="774.30" stroke="#444" stroke-width="0.6"/>
<text x="147.20" y="776.89" font-size="7.2" text-anchor="end">10<tspan dy="-2.6" font-size="4.3">3</tspan></text>
<line x1="147.80" y1="794.30" x2="149.40" y2="794.30" stroke="#444" stroke-width="0.6"/>
<text x="147.20" y="796.89" font-size="7.2" text-anchor="end">10<tspan dy="-2.6" font-size="4.3">2</tspan></text>
<line x1="147.80" y1="800.40" x2="149.40" y2="800.40" stroke="#444" stroke-width="0.6"/>
<text x="147.20" y="802.99" font-size="7.2" text-anchor="end">0</text>
<line x1="147.80" y1="807.60" x2="149.40" y2="807.60" stroke="#444" stroke-width="0.6"/>
<text x="147.20" y="810.19" font-size="7.2" text-anchor="end">-10<tspan dy="-2.6" font-size="4.3">2</tspan></text>
<line x1="154.40" y1="816.50" x2="154.40" y2="818.10" stroke="#444" stroke-width="0.6"/>
<text x="154.40" y="826.89" font-size="7.2" text-anchor="middle">-10<tspan dy="-2.6" font-size="4.3">3</tspan></text>
<line x1="166.90" y1="816.50" x2="166.90" y2="818.10" stroke="#444" stroke-width="0.6"/>
<text x="166.90" y="826.89" font-size="7.2" text-anchor="middle">0</text>
<line x1="178.00" y1="816.50" x2="178.00" y2="818.10" stroke="#444" stroke-width="0.6"/>
<text x="178.00" y="826.89" font-size="7.2" text-anchor="middle">10<tspan dy="-2.6" font-size="4.3">3</tspan></text>
<line x1="198.20" y1="816.50" x2="198.20" y2="818.10" stroke="#444" stroke-width="0.6"/>
<text x="198.20" y="826.89" font-size="7.2" text-anchor="middle">10<tspan dy="-2.6" font-size="4.3">4</tspan></text>
<line x1="214.90" y1="816.50" x2="214.90" y2="818.10" stroke="#444" stroke-width="0.6"/>
<text x="214.90" y="826.89" font-size="7.2" text-anchor="middle">10<tspan dy="-2.6" font-size="4.3">5</tspan></text>
<rect x="225.80" y="743.80" width="73.80" height="72.70" fill="none" stroke="#444" stroke-width="0.8"/>
<line x1="224.20" y1="758.30" x2="225.80" y2="758.30" stroke="#444" stroke-width="0.6"/>
<line x1="224.20" y1="774.30" x2="225.80" y2="774.30" stroke="#444" stroke-width="0.6"/>
<line x1="224.20" y1="794.30" x2="225.80" y2="794.30" stroke="#444" stroke-width="0.6"/>
<line x1="224.20" y1="800.40" x2="225.80" y2="800.40" stroke="#444" stroke-width="0.6"/>
<line x1="224.20" y1="807.60" x2="225.80" y2="807.60" stroke="#444" stroke-width="0.6"/>
<line x1="230.70" y1="816.50" x2="230.70" y2="818.10" stroke="#444" stroke-width="0.6"/>
<text x="230.70" y="826.89" font-size="7.2" text-anchor="middle">-10<tspan dy="-2.6" font-size="4.3">3</tspan></text>
<line x1="242.60" y1="816.50" x2="242.60" y2="818.10" stroke="#444" stroke-width="0.6"/>
<text x="242.60" y="826.89" font-size="7.2" text-anchor="middle">0</text>
<line x1="254.20" y1="816.50" x2="254.20" y2="818.10" stroke="#444" stroke-width="0.6"/>
<text x="254.20" y="826.89" font-size="7.2" text-anchor="middle">10<tspan dy="-2.6" font-size="4.3">3</tspan></text>
<line x1="274.20" y1="816.50" x2="274.20" y2="818.10" stroke="#444" stroke-width="0.6"/>
<text x="274.20" y="826.89" font-size="7.2" text-anchor="middle">10<tspan dy="-2.6" font-size="4.3">4</tspan></text>
<line x1="291.70" y1="816.50" x2="291.70" y2="818.10" stroke="#444" stroke-width="0.6"/>
<text x="291.70" y="826.89" font-size="7.2" text-anchor="middle">10<tspan dy="-2.6" font-size="4.3">5</tspan></text>
<path d="M164.2,770.2C165.0,768.7 166.9,767.7 168.6,766.9C170.2,766.1 172.4,765.3 174.1,765.3C175.8,765.3 177.7,766.3 179.0,766.9C180.3,767.5 180.8,769.1 181.8,769.1C182.8,769.1 183.6,767.8 185.0,766.9C186.4,766.0 188.7,764.4 190.5,763.6C192.3,762.8 194.2,762.0 196.0,762.0C197.8,762.0 200.2,762.5 201.5,763.6C202.8,764.7 203.5,766.5 203.7,768.5C203.9,770.5 203.1,773.4 202.6,775.7C202.1,778.0 201.3,779.7 200.9,782.2C200.5,784.8 200.7,788.4 200.4,791.0C200.1,793.6 200.2,795.9 199.3,797.6C198.4,799.3 196.7,800.7 194.9,801.4C193.1,802.1 190.3,801.6 188.3,801.9C186.3,802.2 184.6,802.5 182.8,803.0C181.0,803.5 179.4,804.2 177.4,804.7C175.4,805.2 173.0,806.3 170.8,806.3C168.6,806.3 165.9,805.8 164.2,804.7C162.5,803.6 160.9,802.0 160.4,799.7C159.9,797.4 160.5,793.9 160.9,791.0C161.3,788.1 162.6,784.8 163.1,782.2C163.6,779.7 163.5,777.7 163.7,775.7C163.9,773.7 163.4,771.7 164.2,770.2 Z" fill="#2b46a0"/>
<path d="M164.7,770.6C165.5,769.1 167.4,768.2 169.0,767.4C170.6,766.6 172.7,765.8 174.3,765.8C176.0,765.8 177.9,766.8 179.1,767.4C180.3,768.0 180.8,769.5 181.8,769.5C182.8,769.5 183.5,768.3 184.9,767.4C186.3,766.5 188.5,765.0 190.3,764.2C192.0,763.4 193.8,762.6 195.6,762.6C197.4,762.6 199.7,763.1 200.9,764.2C202.2,765.2 202.9,767.0 203.1,768.9C203.2,770.9 202.4,773.7 202.0,775.9C201.5,778.1 200.7,779.7 200.3,782.2C200.0,784.7 200.1,788.3 199.9,790.7C199.6,793.2 199.7,795.5 198.8,797.1C197.9,798.8 196.3,800.1 194.5,800.8C192.7,801.5 190.1,801.1 188.1,801.3C186.2,801.6 184.5,801.9 182.8,802.4C181.0,802.8 179.5,803.5 177.5,804.0C175.6,804.6 173.3,805.6 171.1,805.6C169.0,805.6 166.4,805.1 164.7,804.0C163.1,803.0 161.6,801.4 161.1,799.2C160.5,797.0 161.1,793.6 161.5,790.7C162.0,787.9 163.2,784.7 163.7,782.2C164.1,779.7 164.1,777.8 164.3,775.9C164.4,774.0 163.9,772.0 164.7,770.6 Z" fill="none" stroke="#4a62b8" stroke-width="0.35"/>
<path d="M165.5,771.1C166.2,769.7 168.0,768.8 169.6,768.0C171.1,767.2 173.1,766.5 174.7,766.5C176.3,766.5 178.0,767.4 179.2,768.0C180.4,768.6 180.9,770.0 181.8,770.0C182.8,770.0 183.5,768.8 184.8,768.0C186.2,767.1 188.2,765.7 189.9,764.9C191.6,764.2 193.3,763.4 195.0,763.4C196.7,763.4 199.0,763.9 200.2,764.9C201.3,765.9 202.0,767.6 202.2,769.5C202.4,771.4 201.6,774.1 201.2,776.2C200.7,778.3 199.9,779.8 199.6,782.2C199.3,784.6 199.4,788.0 199.1,790.4C198.9,792.8 199.0,794.9 198.1,796.5C197.3,798.2 195.7,799.4 194.0,800.1C192.3,800.7 189.8,800.3 187.9,800.5C186.0,800.8 184.5,801.1 182.8,801.6C181.1,802.0 179.6,802.6 177.7,803.1C175.9,803.7 173.6,804.6 171.6,804.6C169.6,804.6 167.1,804.2 165.5,803.1C163.9,802.1 162.4,800.6 161.9,798.5C161.4,796.4 162.0,793.1 162.4,790.4C162.8,787.7 164.0,784.6 164.4,782.2C164.9,779.8 164.8,778.0 165.0,776.2C165.2,774.3 164.7,772.4 165.5,771.1 Z" fill="none" stroke="#4a62b8" stroke-width="0.35"/>
<ellipse cx="180.1" cy="781.1" rx="3.6" ry="10.5" fill="none" stroke="#fff" stroke-width="0.45"/>
<ellipse cx="180.1" cy="781.5" rx="2.7" ry="8.5" fill="none" stroke="#fff" stroke-width="0.45"/>
<ellipse cx="180.1" cy="782" rx="1.8" ry="6.2" fill="none" stroke="#fff" stroke-width="0.45"/>
<ellipse cx="180.3" cy="782.5" rx="0.9" ry="3.5" fill="none" stroke="#fff" stroke-width="0.45"/>
<ellipse cx="176.8" cy="786.6" rx="3.5" ry="4.5" fill="none" stroke="#fff" stroke-width="0.45"/>
<ellipse cx="176.5" cy="787" rx="2" ry="3" fill="none" stroke="#fff" stroke-width="0.45"/>
<line x1="194.00" y1="776.00" x2="195.50" y2="795.00" stroke="#fff" stroke-width="0.5" stroke-dasharray="1,1.2"/>
<line x1="168.00" y1="773.00" x2="169.00" y2="790.00" stroke="#fff" stroke-width="0.5" stroke-dasharray="1,1.2"/>
<line x1="171.00" y1="774.00" x2="172.50" y2="792.00" stroke="#fff" stroke-width="0.5" stroke-dasharray="1,1.2"/>
<circle cx="168.10" cy="798.70" r="2.00" fill="#fff"/>
<path d="M186.6,744.2 C184,750 182.4,756 182.2,764 L181.7,816.6" fill="none" stroke="#111" stroke-width="0.7"/>
<path d="M149.4,782.5 L201.1,782 C208,781 215,779.5 222.9,777.4" fill="none" stroke="#111" stroke-width="0.7"/>
<path d="M235.4,766.9C236.1,764.9 237.3,763.7 239.2,762.5C241.1,761.3 244.2,760.4 246.9,759.8C249.7,759.2 253.9,759.3 255.7,758.7C257.5,758.1 256.7,756.5 257.8,756.0C258.9,755.5 260.7,754.9 262.2,755.4C263.7,755.9 265.3,757.9 266.6,759.2C267.9,760.5 268.2,762.5 269.9,763.1C271.5,763.8 274.6,762.6 276.5,763.1C278.4,763.6 280.6,764.7 281.4,766.4C282.2,768.1 282.0,771.6 281.4,773.5C280.8,775.4 279.0,776.2 277.6,777.8C276.2,779.3 275.6,781.7 273.2,782.8C270.8,783.9 266.6,784.3 263.3,784.4C260.0,784.5 257.1,783.6 253.5,783.3C249.8,783.0 244.2,783.2 241.4,782.8C238.6,782.4 237.6,782.5 236.5,781.1C235.4,779.7 235.1,777.0 234.9,774.6C234.7,772.2 234.7,768.9 235.4,766.9 Z" fill="none" stroke="#e42828" stroke-width="0.55"/>
<path d="M236.7,767.1C237.4,765.2 238.5,764.0 240.3,762.9C242.2,761.8 245.0,761.0 247.7,760.4C250.3,759.8 254.3,759.9 256.0,759.3C257.7,758.7 257.0,757.3 258.0,756.8C259.0,756.2 260.8,755.7 262.2,756.2C263.6,756.7 265.2,758.6 266.4,759.8C267.6,761.0 267.9,762.9 269.5,763.5C271.1,764.1 274.0,763.0 275.8,763.5C277.6,764.0 279.7,765.0 280.4,766.6C281.2,768.3 281.0,771.6 280.4,773.4C279.8,775.2 278.1,776.0 276.8,777.5C275.5,778.9 274.9,781.2 272.6,782.2C270.4,783.3 266.4,783.7 263.2,783.7C260.1,783.8 257.4,782.9 253.9,782.7C250.5,782.4 245.1,782.6 242.4,782.2C239.7,781.9 238.8,781.9 237.8,780.6C236.7,779.3 236.4,776.7 236.3,774.4C236.1,772.2 236.0,769.0 236.7,767.1 Z" fill="none" stroke="#e42828" stroke-width="0.55"/>
<path d="M238.1,767.3C238.7,765.5 239.8,764.4 241.5,763.4C243.2,762.3 245.9,761.5 248.4,760.9C250.9,760.3 254.7,760.5 256.3,759.9C258.0,759.4 257.2,758.0 258.2,757.5C259.2,757.0 260.9,756.5 262.2,757.0C263.5,757.4 265.0,759.2 266.1,760.4C267.3,761.5 267.6,763.3 269.1,763.9C270.6,764.5 273.3,763.4 275.1,763.9C276.8,764.4 278.7,765.3 279.5,766.9C280.2,768.4 280.0,771.5 279.5,773.2C278.9,775.0 277.3,775.7 276.0,777.1C274.8,778.5 274.2,780.6 272.1,781.6C269.9,782.6 266.1,783.0 263.2,783.1C260.2,783.1 257.6,782.3 254.3,782.1C251.1,781.8 246.0,782.0 243.5,781.6C240.9,781.3 240.0,781.3 239.1,780.1C238.1,778.9 237.8,776.4 237.6,774.2C237.4,772.1 237.4,769.1 238.1,767.3 Z" fill="none" stroke="#e42828" stroke-width="0.55"/>
<path d="M239.4,767.5C240.0,765.8 241.0,764.8 242.6,763.8C244.2,762.8 246.8,762.0 249.2,761.5C251.5,760.9 255.1,761.1 256.6,760.5C258.2,760.0 257.5,758.7 258.4,758.2C259.4,757.8 260.9,757.3 262.2,757.7C263.4,758.2 264.8,759.9 265.9,761.0C267.0,762.1 267.3,763.7 268.7,764.3C270.1,764.8 272.7,763.8 274.3,764.3C276.0,764.8 277.8,765.6 278.5,767.1C279.2,768.6 279.0,771.5 278.5,773.1C278.0,774.7 276.4,775.5 275.3,776.8C274.1,778.1 273.5,780.1 271.5,781.0C269.5,782.0 265.9,782.3 263.1,782.4C260.3,782.5 257.9,781.7 254.8,781.5C251.7,781.2 246.9,781.3 244.5,781.0C242.1,780.7 241.2,780.7 240.3,779.6C239.4,778.4 239.1,776.1 239.0,774.1C238.8,772.0 238.8,769.2 239.4,767.5 Z" fill="none" stroke="#e42828" stroke-width="0.55"/>
<path d="M240.7,767.7C241.3,766.1 242.2,765.1 243.8,764.2C245.3,763.3 247.7,762.5 249.9,762.0C252.1,761.5 255.5,761.7 257.0,761.2C258.4,760.7 257.8,759.4 258.6,759.0C259.5,758.6 261.0,758.1 262.2,758.5C263.3,758.9 264.7,760.5 265.7,761.6C266.7,762.6 267.0,764.2 268.3,764.7C269.6,765.2 272.1,764.2 273.6,764.7C275.1,765.1 276.9,765.9 277.5,767.3C278.2,768.7 278.0,771.5 277.5,773.0C277.0,774.5 275.6,775.2 274.5,776.4C273.4,777.7 272.9,779.6 271.0,780.4C269.1,781.3 265.7,781.7 263.0,781.7C260.4,781.8 258.1,781.1 255.2,780.8C252.3,780.6 247.8,780.7 245.5,780.4C243.3,780.1 242.5,780.2 241.6,779.1C240.7,778.0 240.5,775.8 240.3,773.9C240.2,772.0 240.1,769.3 240.7,767.7 Z" fill="none" stroke="#e42828" stroke-width="0.55"/>
<path d="M242.1,767.9C242.6,766.4 243.5,765.5 244.9,764.6C246.3,763.7 248.6,763.1 250.7,762.6C252.7,762.1 255.9,762.3 257.3,761.8C258.6,761.3 258.0,760.2 258.9,759.8C259.7,759.3 261.0,758.9 262.1,759.3C263.2,759.7 264.5,761.2 265.5,762.2C266.4,763.1 266.7,764.6 267.9,765.1C269.2,765.6 271.4,764.7 272.9,765.1C274.3,765.5 275.9,766.2 276.5,767.5C277.2,768.8 277.0,771.5 276.5,772.9C276.1,774.3 274.7,774.9 273.7,776.1C272.7,777.3 272.2,779.0 270.4,779.8C268.6,780.7 265.4,781.0 263.0,781.0C260.5,781.1 258.4,780.4 255.6,780.2C252.9,780.0 248.7,780.1 246.6,779.8C244.4,779.6 243.7,779.6 242.9,778.6C242.1,777.6 241.8,775.5 241.7,773.7C241.5,771.9 241.5,769.4 242.1,767.9 Z" fill="none" stroke="#e42828" stroke-width="0.55"/>
<ellipse cx="273" cy="771" rx="8.0" ry="8.0" fill="none" stroke="#e42828" stroke-width="0.55"/>
<ellipse cx="273" cy="771" rx="6.4" ry="6.4" fill="none" stroke="#e42828" stroke-width="0.55"/>
<ellipse cx="273" cy="771" rx="4.8" ry="4.8" fill="none" stroke="#e42828" stroke-width="0.55"/>
<ellipse cx="273" cy="771" rx="3.2" ry="3.2" fill="none" stroke="#e42828" stroke-width="0.55"/>
<path d="M235.4,766.9C236.1,764.9 237.3,763.7 239.2,762.5C241.1,761.3 244.2,760.4 246.9,759.8C249.7,759.2 253.6,759.1 255.7,758.7C257.8,758.3 258.4,757.0 259.5,757.5C260.6,758.0 261.3,759.6 262.0,762.0C262.7,764.4 263.5,769.0 263.5,772.0C263.5,775.0 263.1,778.1 262.0,780.0C260.9,781.9 259.0,782.7 257.0,783.3C255.0,783.9 252.6,783.6 250.0,783.5C247.4,783.4 243.7,783.2 241.4,782.8C239.2,782.4 237.6,782.5 236.5,781.1C235.4,779.7 235.1,777.0 234.9,774.6C234.7,772.2 234.7,768.9 235.4,766.9 Z" fill="#e42828"/>
<path d="M237.0,784.0C232.4,784.9 236.1,788.5 236.0,791.0C235.9,793.5 235.6,797.2 236.5,798.7C237.4,800.2 239.1,800.5 241.4,800.3C243.7,800.1 248.2,798.8 250.2,797.6C252.2,796.4 251.7,794.7 253.5,793.2C255.3,791.7 259.5,790.1 261.1,788.8C262.7,787.5 267.3,786.3 263.3,785.5C259.3,784.7 241.6,783.1 237.0,784.0 Z" fill="none" stroke="#e42828" stroke-width="0.5"/>
<path d="M238.6,785.6C235.0,786.3 237.9,789.2 237.8,791.2C237.7,793.2 237.5,796.1 238.2,797.4C238.9,798.6 240.3,798.8 242.1,798.6C243.9,798.5 247.5,797.4 249.2,796.5C250.8,795.5 250.3,794.1 251.8,793.0C253.3,791.8 256.6,790.5 257.9,789.4C259.2,788.4 262.9,787.4 259.6,786.8C256.4,786.2 242.2,784.9 238.6,785.6 Z" fill="none" stroke="#e42828" stroke-width="0.5"/>
<path d="M240.2,787.2C237.5,787.8 239.6,789.9 239.6,791.4C239.6,792.9 239.4,795.1 239.9,796.0C240.4,797.0 241.5,797.1 242.8,797.0C244.2,796.9 246.9,796.1 248.1,795.4C249.3,794.6 249.0,793.6 250.1,792.7C251.2,791.8 253.7,790.8 254.7,790.1C255.6,789.3 258.4,788.6 256.0,788.1C253.6,787.6 242.9,786.7 240.2,787.2 Z" fill="none" stroke="#e42828" stroke-width="0.5"/>
<path d="M241.8,788.8C240.0,789.2 241.4,790.6 241.4,791.6C241.4,792.6 241.2,794.1 241.6,794.7C242.0,795.3 242.6,795.4 243.6,795.3C244.5,795.2 246.3,794.7 247.1,794.2C247.9,793.8 247.7,793.1 248.4,792.5C249.1,791.9 250.8,791.2 251.4,790.7C252.1,790.2 253.9,789.7 252.3,789.4C250.7,789.1 243.6,788.4 241.8,788.8 Z" fill="none" stroke="#e42828" stroke-width="0.5"/>
<ellipse cx="249" cy="771" rx="5" ry="3.5" fill="none" stroke="#fff" stroke-width="0.45"/>
<ellipse cx="249" cy="771.5" rx="3" ry="2" fill="none" stroke="#fff" stroke-width="0.45"/>
<ellipse cx="257" cy="770" rx="2" ry="5" fill="none" stroke="#fff" stroke-width="0.45"/>
<circle cx="226.80" cy="762.20" r="1.30" fill="#e42828"/>
<path d="M263,744.2 C261,750 259.5,756 259.4,764 L258.8,816.6" fill="none" stroke="#111" stroke-width="0.7"/>
<path d="M225.8,783.2 L271.1,782.7 C280,781.5 290,779 299.6,776.9" fill="none" stroke="#111" stroke-width="0.7"/>
<text x="148.80" y="837.67" font-size="8.8" textLength="51.40" lengthAdjust="spacingAndGlyphs" stroke="#231f20" stroke-width="0.05">CD62L-APC</text>
<line x1="202.90" y1="834.50" x2="294.40" y2="834.50" stroke="#4a5876" stroke-width="1.3"/>
<path d="M298.60,834.50 L294.40,836.60 L294.40,832.40 Z" fill="#4a5876"/>
<line x1="339.30" y1="745.60" x2="339.30" y2="827.20" stroke="#3a3a3a" stroke-width="0.7"/>
<line x1="337.10" y1="827.20" x2="339.30" y2="827.20" stroke="#3a3a3a" stroke-width="0.7"/>
<text x="334.10" y="830.08" font-size="8.0" text-anchor="end" textLength="4.63" lengthAdjust="spacingAndGlyphs" stroke="#231f20" stroke-width="0.05">0</text>
<line x1="337.10" y1="807.10" x2="339.30" y2="807.10" stroke="#3a3a3a" stroke-width="0.7"/>
<text x="334.10" y="809.98" font-size="8.0" text-anchor="end" textLength="9.25" lengthAdjust="spacingAndGlyphs" stroke="#231f20" stroke-width="0.05">20</text>
<line x1="337.10" y1="786.60" x2="339.30" y2="786.60" stroke="#3a3a3a" stroke-width="0.7"/>
<text x="334.10" y="789.48" font-size="8.0" text-anchor="end" textLength="9.25" lengthAdjust="spacingAndGlyphs" stroke="#231f20" stroke-width="0.05">40</text>
<line x1="337.10" y1="766.30" x2="339.30" y2="766.30" stroke="#3a3a3a" stroke-width="0.7"/>
<text x="334.10" y="769.18" font-size="8.0" text-anchor="end" textLength="9.25" lengthAdjust="spacingAndGlyphs" stroke="#231f20" stroke-width="0.05">60</text>
<line x1="337.10" y1="745.60" x2="339.30" y2="745.60" stroke="#3a3a3a" stroke-width="0.7"/>
<text x="334.10" y="748.48" font-size="8.0" text-anchor="end" textLength="9.25" lengthAdjust="spacingAndGlyphs" stroke="#231f20" stroke-width="0.05">80</text>
<line x1="339.30" y1="827.20" x2="420.70" y2="827.20" stroke="#3a3a3a" stroke-width="0.7"/>
<text x="313.60" y="790.14" font-size="9.0" text-anchor="middle" textLength="30.20" lengthAdjust="spacingAndGlyphs" transform="rotate(-90 313.60 786.90)" stroke="#231f20" stroke-width="0.05">% cells</text>
<text x="340.40" y="748.12" font-size="7.0" textLength="28.90" lengthAdjust="spacingAndGlyphs">&lt;0.0001</text>
<text x="371.00" y="748.12" font-size="7.0" textLength="27.20" lengthAdjust="spacingAndGlyphs">&lt;0.0001</text>
<text x="404.60" y="748.12" font-size="7.0" textLength="8.10" lengthAdjust="spacingAndGlyphs">ns</text>
<line x1="347.00" y1="750.70" x2="357.00" y2="750.70" stroke="#c0c0c0" stroke-width="0.7"/>
<line x1="376.00" y1="750.70" x2="386.00" y2="750.70" stroke="#c0c0c0" stroke-width="0.7"/>
<line x1="404.00" y1="750.70" x2="414.00" y2="750.70" stroke="#c0c0c0" stroke-width="0.7"/>
<path d="M346.20,812.40 L344.30,815.00 L343.60,818.00 L344.20,821.00 L344.80,823.50 L346.20,825.20 L347.40,825.20 L348.80,823.50 L349.40,821.00 L350.00,818.00 L349.30,815.00 L347.40,812.40 Z" fill="#fbe2e2" stroke="#e42828" stroke-width="0.6"/>
<path d="M375.10,759.40 L373.20,763.00 L372.70,770.00 L371.70,778.00 L371.20,784.00 L372.70,790.00 L374.20,796.00 L375.20,802.80 L376.20,802.80 L377.20,796.00 L378.70,790.00 L380.20,784.00 L379.70,778.00 L378.70,770.00 L378.20,763.00 L376.30,759.40 Z" fill="#fbe2e2" stroke="#e42828" stroke-width="0.6"/>
<path d="M403.20,788.30 L400.20,792.00 L399.70,796.00 L399.70,800.00 L400.20,803.00 L402.70,806.00 L404.70,806.00 L407.20,803.00 L407.70,800.00 L407.70,796.00 L407.20,792.00 L404.20,788.30 Z" fill="#fbe2e2" stroke="#e42828" stroke-width="0.6"/>
<path d="M356.80,789.90 L354.40,792.00 L354.20,794.50 L355.40,797.00 L356.90,798.00 L357.90,798.00 L359.40,797.00 L360.60,794.50 L360.40,792.00 L358.00,789.90 Z" fill="#2b46a0" stroke="#2b46a0" stroke-width="0.5"/>
<path d="M385.50,814.00 L383.50,816.00 L383.20,818.50 L385.50,820.40 L386.50,820.40 L388.80,818.50 L388.50,816.00 L386.50,814.00 Z" fill="#2b46a0" stroke="#2b46a0" stroke-width="0.5"/>
<path d="M413.80,800.20 L412.30,803.00 L410.80,806.00 L411.80,809.00 L413.80,814.00 L414.80,814.00 L416.80,809.00 L417.80,806.00 L416.30,803.00 L414.80,800.20 Z" fill="#2b46a0" stroke="#2b46a0" stroke-width="0.5"/>
<circle cx="345.75" cy="819.53" r="1.00" fill="none" stroke="#e42828" stroke-width="0.6"/>
<circle cx="346.28" cy="820.25" r="1.00" fill="none" stroke="#e42828" stroke-width="0.6"/>
<circle cx="347.30" cy="813.79" r="1.00" fill="none" stroke="#e42828" stroke-width="0.6"/>
<circle cx="344.85" cy="823.05" r="1.00" fill="none" stroke="#e42828" stroke-width="0.6"/>
<circle cx="345.84" cy="815.81" r="1.00" fill="none" stroke="#e42828" stroke-width="0.6"/>
<circle cx="348.78" cy="818.64" r="1.00" fill="none" stroke="#e42828" stroke-width="0.6"/>
<circle cx="348.15" cy="818.72" r="1.00" fill="none" stroke="#e42828" stroke-width="0.6"/>
<circle cx="376.26" cy="766.33" r="1.00" fill="none" stroke="#e42828" stroke-width="0.6"/>
<circle cx="376.24" cy="796.46" r="1.00" fill="none" stroke="#e42828" stroke-width="0.6"/>
<circle cx="375.79" cy="791.13" r="1.00" fill="none" stroke="#e42828" stroke-width="0.6"/>
<circle cx="376.39" cy="762.69" r="1.00" fill="none" stroke="#e42828" stroke-width="0.6"/>
<circle cx="376.73" cy="784.83" r="1.00" fill="none" stroke="#e42828" stroke-width="0.6"/>
<circle cx="374.91" cy="761.30" r="1.00" fill="none" stroke="#e42828" stroke-width="0.6"/>
<circle cx="377.16" cy="779.86" r="1.00" fill="none" stroke="#e42828" stroke-width="0.6"/>
<circle cx="376.58" cy="796.91" r="1.00" fill="none" stroke="#e42828" stroke-width="0.6"/>
<circle cx="376.56" cy="798.69" r="1.00" fill="none" stroke="#e42828" stroke-width="0.6"/>
<circle cx="375.28" cy="793.64" r="1.00" fill="none" stroke="#e42828" stroke-width="0.6"/>
<circle cx="375.48" cy="799.29" r="1.00" fill="none" stroke="#e42828" stroke-width="0.6"/>
<circle cx="377.22" cy="764.09" r="1.00" fill="none" stroke="#e42828" stroke-width="0.6"/>
<circle cx="374.24" cy="769.11" r="1.00" fill="none" stroke="#e42828" stroke-width="0.6"/>
<circle cx="377.56" cy="778.32" r="1.00" fill="none" stroke="#e42828" stroke-width="0.6"/>
<circle cx="404.21" cy="793.82" r="1.00" fill="none" stroke="#e42828" stroke-width="0.6"/>
<circle cx="403.73" cy="795.17" r="1.00" fill="none" stroke="#e42828" stroke-width="0.6"/>
<circle cx="403.10" cy="798.36" r="1.00" fill="none" stroke="#e42828" stroke-width="0.6"/>
<circle cx="404.04" cy="803.47" r="1.00" fill="none" stroke="#e42828" stroke-width="0.6"/>
<circle cx="404.43" cy="803.86" r="1.00" fill="none" stroke="#e42828" stroke-width="0.6"/>
<circle cx="405.13" cy="804.86" r="1.00" fill="none" stroke="#e42828" stroke-width="0.6"/>
<circle cx="404.39" cy="791.61" r="1.00" fill="none" stroke="#e42828" stroke-width="0.6"/>
<circle cx="405.14" cy="804.43" r="1.00" fill="none" stroke="#e42828" stroke-width="0.6"/>
<circle cx="405.32" cy="798.11" r="1.00" fill="none" stroke="#e42828" stroke-width="0.6"/>
<circle cx="358.04" cy="791.69" r="1.10" fill="#2b46a0"/>
<circle cx="358.39" cy="794.59" r="1.10" fill="#2b46a0"/>
<circle cx="356.75" cy="790.51" r="1.10" fill="#2b46a0"/>
<circle cx="358.46" cy="797.92" r="1.10" fill="#2b46a0"/>
<circle cx="356.17" cy="796.40" r="1.10" fill="#2b46a0"/>
<circle cx="385.73" cy="814.90" r="1.10" fill="#2b46a0"/>
<circle cx="385.38" cy="818.61" r="1.10" fill="#2b46a0"/>
<circle cx="387.12" cy="814.27" r="1.10" fill="#2b46a0"/>
<circle cx="414.64" cy="800.63" r="1.10" fill="#2b46a0"/>
<circle cx="414.96" cy="804.63" r="1.10" fill="#2b46a0"/>
<circle cx="415.44" cy="813.73" r="1.10" fill="#2b46a0"/>
<circle cx="414.32" cy="813.98" r="1.10" fill="#2b46a0"/>
<rect x="411.70" y="758.40" width="6.40" height="6.50" fill="#fbd8d8" stroke="#e42828" stroke-width="0.6"/>
<text x="422.60" y="765.45" font-size="8.2" textLength="37.40" lengthAdjust="spacingAndGlyphs" stroke="#231f20" stroke-width="0.05">Repressed</text>
<rect x="411.70" y="772.30" width="6.40" height="6.40" fill="#d8e0f4" stroke="#5070c0" stroke-width="0.6"/>
<text x="422.60" y="778.35" font-size="8.2" textLength="16.60" lengthAdjust="spacingAndGlyphs" stroke="#231f20" stroke-width="0.05">High</text>
<text x="351.0" y="837.8" font-size="7.6" text-anchor="end" transform="rotate(-45 351.0 837.8)" stroke="#231f20" stroke-width="0.05">CD44<tspan dy="-2.5" font-size="4.5">+</tspan></text>
<text x="360.5" y="840.5" font-size="7.6" text-anchor="end" transform="rotate(-45 360.5 840.5)" stroke="#231f20" stroke-width="0.05">CD62L<tspan dy="-2.5" font-size="4.5">–</tspan></text>
<text x="382.0" y="837.8" font-size="7.6" text-anchor="end" transform="rotate(-45 382.0 837.8)" stroke="#231f20" stroke-width="0.05">CD44<tspan dy="-2.5" font-size="4.5">+</tspan></text>
<text x="391.5" y="840.5" font-size="7.6" text-anchor="end" transform="rotate(-45 391.5 840.5)" stroke="#231f20" stroke-width="0.05">CD62L<tspan dy="-2.5" font-size="4.5">–</tspan></text>
<text x="411.0" y="837.8" font-size="7.6" text-anchor="end" transform="rotate(-45 411.0 837.8)" stroke="#231f20" stroke-width="0.05">CD44<tspan dy="-2.5" font-size="4.5">+</tspan></text>
<text x="420.5" y="840.5" font-size="7.6" text-anchor="end" transform="rotate(-45 420.5 840.5)" stroke="#231f20" stroke-width="0.05">CD62L<tspan dy="-2.5" font-size="4.5">–</tspan></text>
<text x="467.3" y="723.6" font-size="14.5" font-weight="bold" fill="#000" textLength="8.70" lengthAdjust="spacingAndGlyphs" stroke="#000" stroke-width="0.05">o</text>
<text x="541.40" y="724.67" font-size="8.8" textLength="60.20" lengthAdjust="spacingAndGlyphs" stroke="#231f20" stroke-width="0.05">Day 3 LmOVA</text>
<line x1="494.90" y1="728.50" x2="648.00" y2="728.50" stroke="#aaaaaa" stroke-width="0.8"/>
<text x="506.70" y="739.25" font-size="8.2" fill="#3346a8" textLength="58.30" lengthAdjust="spacingAndGlyphs" stroke="#3346a8" stroke-width="0.05">High autophagy</text>
<text x="573.70" y="739.45" font-size="8.2" fill="#e8242c" textLength="79.00" lengthAdjust="spacingAndGlyphs" stroke="#e8242c" stroke-width="0.05">Repressed autophagy</text>
<line x1="512.70" y1="744.00" x2="512.70" y2="816.00" stroke="#d4d4d4" stroke-width="0.7"/>
<line x1="526.40" y1="744.00" x2="526.40" y2="816.00" stroke="#d4d4d4" stroke-width="0.7"/>
<line x1="540.30" y1="744.00" x2="540.30" y2="816.00" stroke="#d4d4d4" stroke-width="0.7"/>
<line x1="554.50" y1="744.00" x2="554.50" y2="816.00" stroke="#d4d4d4" stroke-width="0.7"/>
<line x1="568.40" y1="744.00" x2="568.40" y2="816.00" stroke="#d4d4d4" stroke-width="0.7"/>
<line x1="498.80" y1="747.30" x2="572.40" y2="747.30" stroke="#d4d4d4" stroke-width="0.7"/>
<line x1="498.80" y1="760.40" x2="572.40" y2="760.40" stroke="#d4d4d4" stroke-width="0.7"/>
<line x1="498.80" y1="774.40" x2="572.40" y2="774.40" stroke="#d4d4d4" stroke-width="0.7"/>
<line x1="498.80" y1="788.50" x2="572.40" y2="788.50" stroke="#d4d4d4" stroke-width="0.7"/>
<line x1="498.80" y1="802.00" x2="572.40" y2="802.00" stroke="#d4d4d4" stroke-width="0.7"/>
<rect x="498.80" y="743.60" width="73.60" height="72.60" fill="none" stroke="#222" stroke-width="0.9"/>
<line x1="497.20" y1="747.30" x2="498.80" y2="747.30" stroke="#444" stroke-width="0.6"/>
<line x1="497.20" y1="760.40" x2="498.80" y2="760.40" stroke="#444" stroke-width="0.6"/>
<line x1="497.20" y1="774.40" x2="498.80" y2="774.40" stroke="#444" stroke-width="0.6"/>
<line x1="497.20" y1="788.50" x2="498.80" y2="788.50" stroke="#444" stroke-width="0.6"/>
<line x1="497.20" y1="802.00" x2="498.80" y2="802.00" stroke="#444" stroke-width="0.6"/>
<line x1="497.20" y1="815.60" x2="498.80" y2="815.60" stroke="#444" stroke-width="0.6"/>
<line x1="499.30" y1="816.20" x2="499.30" y2="817.80" stroke="#444" stroke-width="0.6"/>
<text x="502.5" y="823.6" font-size="7.0" text-anchor="end" transform="rotate(-45 502.5 823.6)">0</text>
<line x1="512.70" y1="816.20" x2="512.70" y2="817.80" stroke="#444" stroke-width="0.6"/>
<text x="515.9" y="823.6" font-size="7.0" text-anchor="end" transform="rotate(-45 515.9 823.6)">50K</text>
<line x1="526.40" y1="816.20" x2="526.40" y2="817.80" stroke="#444" stroke-width="0.6"/>
<text x="529.6" y="823.6" font-size="7.0" text-anchor="end" transform="rotate(-45 529.6 823.6)">100K</text>
<line x1="540.30" y1="816.20" x2="540.30" y2="817.80" stroke="#444" stroke-width="0.6"/>
<text x="543.5" y="823.6" font-size="7.0" text-anchor="end" transform="rotate(-45 543.5 823.6)">150K</text>
<line x1="554.50" y1="816.20" x2="554.50" y2="817.80" stroke="#444" stroke-width="0.6"/>
<text x="557.7" y="823.6" font-size="7.0" text-anchor="end" transform="rotate(-45 557.7 823.6)">200K</text>
<line x1="568.40" y1="816.20" x2="568.40" y2="817.80" stroke="#444" stroke-width="0.6"/>
<text x="571.6" y="823.6" font-size="7.0" text-anchor="end" transform="rotate(-45 571.6 823.6)">250K</text>
<line x1="498.80" y1="816.20" x2="498.80" y2="817.20" stroke="#444" stroke-width="0.4"/>
<line x1="501.74" y1="816.20" x2="501.74" y2="817.20" stroke="#444" stroke-width="0.4"/>
<line x1="504.69" y1="816.20" x2="504.69" y2="817.20" stroke="#444" stroke-width="0.4"/>
<line x1="507.63" y1="816.20" x2="507.63" y2="817.20" stroke="#444" stroke-width="0.4"/>
<line x1="510.58" y1="816.20" x2="510.58" y2="817.20" stroke="#444" stroke-width="0.4"/>
<line x1="513.52" y1="816.20" x2="513.52" y2="817.20" stroke="#444" stroke-width="0.4"/>
<line x1="516.46" y1="816.20" x2="516.46" y2="817.20" stroke="#444" stroke-width="0.4"/>
<line x1="519.41" y1="816.20" x2="519.41" y2="817.20" stroke="#444" stroke-width="0.4"/>
<line x1="522.35" y1="816.20" x2="522.35" y2="817.20" stroke="#444" stroke-width="0.4"/>
<line x1="525.30" y1="816.20" x2="525.30" y2="817.20" stroke="#444" stroke-width="0.4"/>
<line x1="528.24" y1="816.20" x2="528.24" y2="817.20" stroke="#444" stroke-width="0.4"/>
<line x1="531.18" y1="816.20" x2="531.18" y2="817.20" stroke="#444" stroke-width="0.4"/>
<line x1="534.13" y1="816.20" x2="534.13" y2="817.20" stroke="#444" stroke-width="0.4"/>
<line x1="537.07" y1="816.20" x2="537.07" y2="817.20" stroke="#444" stroke-width="0.4"/>
<line x1="540.02" y1="816.20" x2="540.02" y2="817.20" stroke="#444" stroke-width="0.4"/>
<line x1="542.96" y1="816.20" x2="542.96" y2="817.20" stroke="#444" stroke-width="0.4"/>
<line x1="545.90" y1="816.20" x2="545.90" y2="817.20" stroke="#444" stroke-width="0.4"/>
<line x1="548.85" y1="816.20" x2="548.85" y2="817.20" stroke="#444" stroke-width="0.4"/>
<line x1="551.79" y1="816.20" x2="551.79" y2="817.20" stroke="#444" stroke-width="0.4"/>
<line x1="554.74" y1="816.20" x2="554.74" y2="817.20" stroke="#444" stroke-width="0.4"/>
<line x1="557.68" y1="816.20" x2="557.68" y2="817.20" stroke="#444" stroke-width="0.4"/>
<line x1="560.62" y1="816.20" x2="560.62" y2="817.20" stroke="#444" stroke-width="0.4"/>
<line x1="563.57" y1="816.20" x2="563.57" y2="817.20" stroke="#444" stroke-width="0.4"/>
<line x1="566.51" y1="816.20" x2="566.51" y2="817.20" stroke="#444" stroke-width="0.4"/>
<line x1="569.46" y1="816.20" x2="569.46" y2="817.20" stroke="#444" stroke-width="0.4"/>
<line x1="572.40" y1="816.20" x2="572.40" y2="817.20" stroke="#444" stroke-width="0.4"/>
<line x1="497.80" y1="815.60" x2="498.80" y2="815.60" stroke="#444" stroke-width="0.4"/>
<line x1="497.80" y1="812.87" x2="498.80" y2="812.87" stroke="#444" stroke-width="0.4"/>
<line x1="497.80" y1="810.14" x2="498.80" y2="810.14" stroke="#444" stroke-width="0.4"/>
<line x1="497.80" y1="807.40" x2="498.80" y2="807.40" stroke="#444" stroke-width="0.4"/>
<line x1="497.80" y1="804.67" x2="498.80" y2="804.67" stroke="#444" stroke-width="0.4"/>
<line x1="497.80" y1="801.94" x2="498.80" y2="801.94" stroke="#444" stroke-width="0.4"/>
<line x1="497.80" y1="799.21" x2="498.80" y2="799.21" stroke="#444" stroke-width="0.4"/>
<line x1="497.80" y1="796.48" x2="498.80" y2="796.48" stroke="#444" stroke-width="0.4"/>
<line x1="497.80" y1="793.74" x2="498.80" y2="793.74" stroke="#444" stroke-width="0.4"/>
<line x1="497.80" y1="791.01" x2="498.80" y2="791.01" stroke="#444" stroke-width="0.4"/>
<line x1="497.80" y1="788.28" x2="498.80" y2="788.28" stroke="#444" stroke-width="0.4"/>
<line x1="497.80" y1="785.55" x2="498.80" y2="785.55" stroke="#444" stroke-width="0.4"/>
<line x1="497.80" y1="782.82" x2="498.80" y2="782.82" stroke="#444" stroke-width="0.4"/>
<line x1="497.80" y1="780.08" x2="498.80" y2="780.08" stroke="#444" stroke-width="0.4"/>
<line x1="497.80" y1="777.35" x2="498.80" y2="777.35" stroke="#444" stroke-width="0.4"/>
<line x1="497.80" y1="774.62" x2="498.80" y2="774.62" stroke="#444" stroke-width="0.4"/>
<line x1="497.80" y1="771.89" x2="498.80" y2="771.89" stroke="#444" stroke-width="0.4"/>
<line x1="497.80" y1="769.16" x2="498.80" y2="769.16" stroke="#444" stroke-width="0.4"/>
<line x1="497.80" y1="766.42" x2="498.80" y2="766.42" stroke="#444" stroke-width="0.4"/>
<line x1="497.80" y1="763.69" x2="498.80" y2="763.69" stroke="#444" stroke-width="0.4"/>
<line x1="497.80" y1="760.96" x2="498.80" y2="760.96" stroke="#444" stroke-width="0.4"/>
<line x1="497.80" y1="758.23" x2="498.80" y2="758.23" stroke="#444" stroke-width="0.4"/>
<line x1="497.80" y1="755.50" x2="498.80" y2="755.50" stroke="#444" stroke-width="0.4"/>
<line x1="497.80" y1="752.76" x2="498.80" y2="752.76" stroke="#444" stroke-width="0.4"/>
<line x1="497.80" y1="750.03" x2="498.80" y2="750.03" stroke="#444" stroke-width="0.4"/>
<line x1="497.80" y1="747.30" x2="498.80" y2="747.30" stroke="#444" stroke-width="0.4"/>
<line x1="590.10" y1="744.00" x2="590.10" y2="816.00" stroke="#d4d4d4" stroke-width="0.7"/>
<line x1="603.80" y1="744.00" x2="603.80" y2="816.00" stroke="#d4d4d4" stroke-width="0.7"/>
<line x1="618.40" y1="744.00" x2="618.40" y2="816.00" stroke="#d4d4d4" stroke-width="0.7"/>
<line x1="632.10" y1="744.00" x2="632.10" y2="816.00" stroke="#d4d4d4" stroke-width="0.7"/>
<line x1="645.80" y1="744.00" x2="645.80" y2="816.00" stroke="#d4d4d4" stroke-width="0.7"/>
<line x1="576.40" y1="747.30" x2="649.40" y2="747.30" stroke="#d4d4d4" stroke-width="0.7"/>
<line x1="576.40" y1="760.40" x2="649.40" y2="760.40" stroke="#d4d4d4" stroke-width="0.7"/>
<line x1="576.40" y1="774.40" x2="649.40" y2="774.40" stroke="#d4d4d4" stroke-width="0.7"/>
<line x1="576.40" y1="788.50" x2="649.40" y2="788.50" stroke="#d4d4d4" stroke-width="0.7"/>
<line x1="576.40" y1="802.00" x2="649.40" y2="802.00" stroke="#d4d4d4" stroke-width="0.7"/>
<rect x="576.40" y="743.60" width="73.00" height="72.60" fill="none" stroke="#222" stroke-width="0.9"/>
<line x1="574.80" y1="747.30" x2="576.40" y2="747.30" stroke="#444" stroke-width="0.6"/>
<line x1="574.80" y1="760.40" x2="576.40" y2="760.40" stroke="#444" stroke-width="0.6"/>
<line x1="574.80" y1="774.40" x2="576.40" y2="774.40" stroke="#444" stroke-width="0.6"/>
<line x1="574.80" y1="788.50" x2="576.40" y2="788.50" stroke="#444" stroke-width="0.6"/>
<line x1="574.80" y1="802.00" x2="576.40" y2="802.00" stroke="#444" stroke-width="0.6"/>
<line x1="574.80" y1="815.60" x2="576.40" y2="815.60" stroke="#444" stroke-width="0.6"/>
<line x1="577.20" y1="816.20" x2="577.20" y2="817.80" stroke="#444" stroke-width="0.6"/>
<text x="580.4" y="823.6" font-size="7.0" text-anchor="end" transform="rotate(-45 580.4 823.6)">0</text>
<line x1="590.10" y1="816.20" x2="590.10" y2="817.80" stroke="#444" stroke-width="0.6"/>
<text x="593.3" y="823.6" font-size="7.0" text-anchor="end" transform="rotate(-45 593.3 823.6)">50K</text>
<line x1="603.80" y1="816.20" x2="603.80" y2="817.80" stroke="#444" stroke-width="0.6"/>
<text x="607.0" y="823.6" font-size="7.0" text-anchor="end" transform="rotate(-45 607.0 823.6)">100K</text>
<line x1="618.40" y1="816.20" x2="618.40" y2="817.80" stroke="#444" stroke-width="0.6"/>
<text x="621.6" y="823.6" font-size="7.0" text-anchor="end" transform="rotate(-45 621.6 823.6)">150K</text>
<line x1="632.10" y1="816.20" x2="632.10" y2="817.80" stroke="#444" stroke-width="0.6"/>
<text x="635.3" y="823.6" font-size="7.0" text-anchor="end" transform="rotate(-45 635.3 823.6)">200K</text>
<line x1="645.80" y1="816.20" x2="645.80" y2="817.80" stroke="#444" stroke-width="0.6"/>
<text x="649.0" y="823.6" font-size="7.0" text-anchor="end" transform="rotate(-45 649.0 823.6)">250K</text>
<line x1="576.40" y1="816.20" x2="576.40" y2="817.20" stroke="#444" stroke-width="0.4"/>
<line x1="579.32" y1="816.20" x2="579.32" y2="817.20" stroke="#444" stroke-width="0.4"/>
<line x1="582.24" y1="816.20" x2="582.24" y2="817.20" stroke="#444" stroke-width="0.4"/>
<line x1="585.16" y1="816.20" x2="585.16" y2="817.20" stroke="#444" stroke-width="0.4"/>
<line x1="588.08" y1="816.20" x2="588.08" y2="817.20" stroke="#444" stroke-width="0.4"/>
<line x1="591.00" y1="816.20" x2="591.00" y2="817.20" stroke="#444" stroke-width="0.4"/>
<line x1="593.92" y1="816.20" x2="593.92" y2="817.20" stroke="#444" stroke-width="0.4"/>
<line x1="596.84" y1="816.20" x2="596.84" y2="817.20" stroke="#444" stroke-width="0.4"/>
<line x1="599.76" y1="816.20" x2="599.76" y2="817.20" stroke="#444" stroke-width="0.4"/>
<line x1="602.68" y1="816.20" x2="602.68" y2="817.20" stroke="#444" stroke-width="0.4"/>
<line x1="605.60" y1="816.20" x2="605.60" y2="817.20" stroke="#444" stroke-width="0.4"/>
<line x1="608.52" y1="816.20" x2="608.52" y2="817.20" stroke="#444" stroke-width="0.4"/>
<line x1="611.44" y1="816.20" x2="611.44" y2="817.20" stroke="#444" stroke-width="0.4"/>
<line x1="614.36" y1="816.20" x2="614.36" y2="817.20" stroke="#444" stroke-width="0.4"/>
<line x1="617.28" y1="816.20" x2="617.28" y2="817.20" stroke="#444" stroke-width="0.4"/>
<line x1="620.20" y1="816.20" x2="620.20" y2="817.20" stroke="#444" stroke-width="0.4"/>
<line x1="623.12" y1="816.20" x2="623.12" y2="817.20" stroke="#444" stroke-width="0.4"/>
<line x1="626.04" y1="816.20" x2="626.04" y2="817.20" stroke="#444" stroke-width="0.4"/>
<line x1="628.96" y1="816.20" x2="628.96" y2="817.20" stroke="#444" stroke-width="0.4"/>
<line x1="631.88" y1="816.20" x2="631.88" y2="817.20" stroke="#444" stroke-width="0.4"/>
<line x1="634.80" y1="816.20" x2="634.80" y2="817.20" stroke="#444" stroke-width="0.4"/>
<line x1="637.72" y1="816.20" x2="637.72" y2="817.20" stroke="#444" stroke-width="0.4"/>
<line x1="640.64" y1="816.20" x2="640.64" y2="817.20" stroke="#444" stroke-width="0.4"/>
<line x1="643.56" y1="816.20" x2="643.56" y2="817.20" stroke="#444" stroke-width="0.4"/>
<line x1="646.48" y1="816.20" x2="646.48" y2="817.20" stroke="#444" stroke-width="0.4"/>
<line x1="649.40" y1="816.20" x2="649.40" y2="817.20" stroke="#444" stroke-width="0.4"/>
<line x1="575.40" y1="815.60" x2="576.40" y2="815.60" stroke="#444" stroke-width="0.4"/>
<line x1="575.40" y1="812.87" x2="576.40" y2="812.87" stroke="#444" stroke-width="0.4"/>
<line x1="575.40" y1="810.14" x2="576.40" y2="810.14" stroke="#444" stroke-width="0.4"/>
<line x1="575.40" y1="807.40" x2="576.40" y2="807.40" stroke="#444" stroke-width="0.4"/>
<line x1="575.40" y1="804.67" x2="576.40" y2="804.67" stroke="#444" stroke-width="0.4"/>
<line x1="575.40" y1="801.94" x2="576.40" y2="801.94" stroke="#444" stroke-width="0.4"/>
<line x1="575.40" y1="799.21" x2="576.40" y2="799.21" stroke="#444" stroke-width="0.4"/>
<line x1="575.40" y1="796.48" x2="576.40" y2="796.48" stroke="#444" stroke-width="0.4"/>
<line x1="575.40" y1="793.74" x2="576.40" y2="793.74" stroke="#444" stroke-width="0.4"/>
<line x1="575.40" y1="791.01" x2="576.40" y2="791.01" stroke="#444" stroke-width="0.4"/>
<line x1="575.40" y1="788.28" x2="576.40" y2="788.28" stroke="#444" stroke-width="0.4"/>
<line x1="575.40" y1="785.55" x2="576.40" y2="785.55" stroke="#444" stroke-width="0.4"/>
<line x1="575.40" y1="782.82" x2="576.40" y2="782.82" stroke="#444" stroke-width="0.4"/>
<line x1="575.40" y1="780.08" x2="576.40" y2="780.08" stroke="#444" stroke-width="0.4"/>
<line x1="575.40" y1="777.35" x2="576.40" y2="777.35" stroke="#444" stroke-width="0.4"/>
<line x1="575.40" y1="774.62" x2="576.40" y2="774.62" stroke="#444" stroke-width="0.4"/>
<line x1="575.40" y1="771.89" x2="576.40" y2="771.89" stroke="#444" stroke-width="0.4"/>
<line x1="575.40" y1="769.16" x2="576.40" y2="769.16" stroke="#444" stroke-width="0.4"/>
<line x1="575.40" y1="766.42" x2="576.40" y2="766.42" stroke="#444" stroke-width="0.4"/>
<line x1="575.40" y1="763.69" x2="576.40" y2="763.69" stroke="#444" stroke-width="0.4"/>
<line x1="575.40" y1="760.96" x2="576.40" y2="760.96" stroke="#444" stroke-width="0.4"/>
<line x1="575.40" y1="758.23" x2="576.40" y2="758.23" stroke="#444" stroke-width="0.4"/>
<line x1="575.40" y1="755.50" x2="576.40" y2="755.50" stroke="#444" stroke-width="0.4"/>
<line x1="575.40" y1="752.76" x2="576.40" y2="752.76" stroke="#444" stroke-width="0.4"/>
<line x1="575.40" y1="750.03" x2="576.40" y2="750.03" stroke="#444" stroke-width="0.4"/>
<line x1="575.40" y1="747.30" x2="576.40" y2="747.30" stroke="#444" stroke-width="0.4"/>
<text x="495.20" y="818.19" font-size="7.2" text-anchor="end" textLength="4.20" lengthAdjust="spacingAndGlyphs">0</text>
<text x="495.20" y="804.59" font-size="7.2" text-anchor="end" textLength="13.45" lengthAdjust="spacingAndGlyphs">50K</text>
<text x="495.20" y="791.09" font-size="7.2" text-anchor="end" textLength="17.65" lengthAdjust="spacingAndGlyphs">100K</text>
<text x="495.20" y="776.99" font-size="7.2" text-anchor="end" textLength="17.65" lengthAdjust="spacingAndGlyphs">150K</text>
<text x="495.20" y="762.99" font-size="7.2" text-anchor="end" textLength="17.65" lengthAdjust="spacingAndGlyphs">200K</text>
<text x="495.20" y="749.89" font-size="7.2" text-anchor="end" textLength="17.65" lengthAdjust="spacingAndGlyphs">250K</text>
<text x="472.50" y="795.17" font-size="8.8" text-anchor="middle" textLength="50.00" lengthAdjust="spacingAndGlyphs" transform="rotate(-90 472.50 792.00)" stroke="#231f20" stroke-width="0.05">Side scatter</text>
<line x1="472.50" y1="764.00" x2="472.50" y2="745.70" stroke="#4a5876" stroke-width="1.3"/>
<path d="M472.50,741.50 L474.60,745.70 L470.40,745.70 Z" fill="#4a5876"/>
<text x="498.80" y="845.07" font-size="8.8" textLength="68.30" lengthAdjust="spacingAndGlyphs" stroke="#231f20" stroke-width="0.05">Forward scatter</text>
<line x1="568.40" y1="842.00" x2="644.30" y2="842.00" stroke="#4a5876" stroke-width="1.3"/>
<path d="M648.50,842.00 L644.30,844.10 L644.30,839.90 Z" fill="#4a5876"/>
<path fill="#9aa8d8" d="M524.4 804.1h.6v.6h-.6zM516.1 806.8h.6v.6h-.6zM523.6 805.1h.6v.6h-.6zM523.0 809.0h.6v.6h-.6zM526.9 807.9h.6v.6h-.6zM520.6 802.6h.6v.6h-.6zM516.7 803.3h.6v.6h-.6zM507.7 809.2h.6v.6h-.6zM522.8 804.3h.6v.6h-.6zM526.7 802.9h.6v.6h-.6zM523.4 806.5h.6v.6h-.6zM513.8 809.6h.6v.6h-.6zM522.9 806.0h.6v.6h-.6zM516.6 802.1h.6v.6h-.6zM531.2 802.4h.6v.6h-.6zM519.9 805.6h.6v.6h-.6zM529.8 796.3h.6v.6h-.6zM530.0 804.9h.6v.6h-.6zM526.9 800.8h.6v.6h-.6zM523.8 809.2h.6v.6h-.6zM521.6 802.0h.6v.6h-.6zM519.8 802.4h.6v.6h-.6zM526.4 804.7h.6v.6h-.6zM519.5 806.6h.6v.6h-.6zM516.3 799.5h.6v.6h-.6z"/>
<ellipse cx="517.7" cy="809" rx="7.2" ry="5.4" fill="#2b46a0" transform="rotate(-20 517.7 809)"/>
<ellipse cx="601.8" cy="804.4" rx="11.6" ry="8.6" fill="#e42828" transform="rotate(-28 601.8 804.4)"/>
<circle cx="599.00" cy="806.00" r="0.80" fill="#fff"/>
<text x="0" y="875.4" font-size="14.5" font-weight="bold" fill="#000" textLength="8.60" lengthAdjust="spacingAndGlyphs" stroke="#000" stroke-width="0.05">p</text>
<text x="28.90" y="878.87" font-size="8.8" textLength="34.20" lengthAdjust="spacingAndGlyphs" stroke="#231f20" stroke-width="0.05">CD8 TIL</text>
<rect x="29.40" y="881.50" width="73.10" height="73.10" fill="none" stroke="#444" stroke-width="0.8"/>
<line x1="29.40" y1="954.60" x2="102.50" y2="881.50" stroke="#7c7c7c" stroke-width="0.75" stroke-dasharray="3,2"/>
<line x1="27.80" y1="888.10" x2="29.40" y2="888.10" stroke="#444" stroke-width="0.6"/>
<text x="26.00" y="890.69" font-size="7.2" text-anchor="end">10<tspan dy="-2.6" font-size="4.3">5</tspan></text>
<line x1="27.80" y1="902.50" x2="29.40" y2="902.50" stroke="#444" stroke-width="0.6"/>
<text x="26.00" y="905.09" font-size="7.2" text-anchor="end">10<tspan dy="-2.6" font-size="4.3">4</tspan></text>
<line x1="27.80" y1="917.80" x2="29.40" y2="917.80" stroke="#444" stroke-width="0.6"/>
<text x="26.00" y="920.39" font-size="7.2" text-anchor="end">10<tspan dy="-2.6" font-size="4.3">3</tspan></text>
<line x1="27.80" y1="932.80" x2="29.40" y2="932.80" stroke="#444" stroke-width="0.6"/>
<text x="26.00" y="935.39" font-size="7.2" text-anchor="end">10<tspan dy="-2.6" font-size="4.3">2</tspan></text>
<line x1="27.80" y1="947.20" x2="29.40" y2="947.20" stroke="#444" stroke-width="0.6"/>
<text x="26.00" y="949.79" font-size="7.2" text-anchor="end">10<tspan dy="-2.6" font-size="4.3">1</tspan></text>
<path d="M28.3 942.8h1.1M28.3 940.2h1.1M28.3 938.3h1.1M28.3 936.9h1.1M28.3 935.7h1.1M28.3 934.7h1.1M28.3 933.9h1.1M28.3 933.1h1.1M28.3 928.0h1.1M28.3 925.4h1.1M28.3 923.5h1.1M28.3 922.1h1.1M28.3 920.9h1.1M28.3 919.9h1.1M28.3 919.1h1.1M28.3 918.3h1.1M28.3 913.2h1.1M28.3 910.6h1.1M28.3 908.8h1.1M28.3 907.3h1.1M28.3 906.2h1.1M28.3 905.2h1.1M28.3 904.3h1.1M28.3 903.6h1.1M28.3 898.4h1.1M28.3 895.8h1.1M28.3 894.0h1.1M28.3 892.5h1.1M28.3 891.4h1.1M28.3 890.4h1.1M28.3 889.5h1.1M28.3 888.8h1.1M28.3 883.7h1.1" stroke="#444" stroke-width="0.4" fill="none"/>
<path d="M41.2 954.6v1.1M43.8 954.6v1.1M45.6 954.6v1.1M47.0 954.6v1.1M48.1 954.6v1.1M49.1 954.6v1.1M50.0 954.6v1.1M50.7 954.6v1.1M55.8 954.6v1.1M58.3 954.6v1.1M60.2 954.6v1.1M61.6 954.6v1.1M62.7 954.6v1.1M63.7 954.6v1.1M64.5 954.6v1.1M65.3 954.6v1.1M70.3 954.6v1.1M72.9 954.6v1.1M74.7 954.6v1.1M76.1 954.6v1.1M77.3 954.6v1.1M78.3 954.6v1.1M79.1 954.6v1.1M79.9 954.6v1.1M84.9 954.6v1.1M87.5 954.6v1.1M89.3 954.6v1.1M90.7 954.6v1.1M91.9 954.6v1.1M92.8 954.6v1.1M93.7 954.6v1.1M94.4 954.6v1.1M99.5 954.6v1.1M102.1 954.6v1.1" stroke="#444" stroke-width="0.4" fill="none"/>
<line x1="36.80" y1="954.60" x2="36.80" y2="956.20" stroke="#444" stroke-width="0.6"/>
<text x="36.80" y="966.09" font-size="7.2" text-anchor="middle">10<tspan dy="-2.6" font-size="4.3">1</tspan></text>
<line x1="51.20" y1="954.60" x2="51.20" y2="956.20" stroke="#444" stroke-width="0.6"/>
<text x="51.20" y="966.09" font-size="7.2" text-anchor="middle">10<tspan dy="-2.6" font-size="4.3">2</tspan></text>
<line x1="65.70" y1="954.60" x2="65.70" y2="956.20" stroke="#444" stroke-width="0.6"/>
<text x="65.70" y="966.09" font-size="7.2" text-anchor="middle">10<tspan dy="-2.6" font-size="4.3">3</tspan></text>
<line x1="80.10" y1="954.60" x2="80.10" y2="956.20" stroke="#444" stroke-width="0.6"/>
<text x="80.10" y="966.09" font-size="7.2" text-anchor="middle">10<tspan dy="-2.6" font-size="4.3">4</tspan></text>
<line x1="95.10" y1="954.60" x2="95.10" y2="956.20" stroke="#444" stroke-width="0.6"/>
<text x="95.10" y="966.09" font-size="7.2" text-anchor="middle">10<tspan dy="-2.6" font-size="4.3">5</tspan></text>
<rect x="109.20" y="881.50" width="72.80" height="73.10" fill="none" stroke="#444" stroke-width="0.8"/>
<line x1="107.60" y1="888.10" x2="109.20" y2="888.10" stroke="#444" stroke-width="0.6"/>
<line x1="107.60" y1="902.50" x2="109.20" y2="902.50" stroke="#444" stroke-width="0.6"/>
<line x1="107.60" y1="917.80" x2="109.20" y2="917.80" stroke="#444" stroke-width="0.6"/>
<line x1="107.60" y1="932.80" x2="109.20" y2="932.80" stroke="#444" stroke-width="0.6"/>
<line x1="107.60" y1="947.20" x2="109.20" y2="947.20" stroke="#444" stroke-width="0.6"/>
<path d="M108.1 942.8h1.1M108.1 940.2h1.1M108.1 938.3h1.1M108.1 936.9h1.1M108.1 935.7h1.1M108.1 934.7h1.1M108.1 933.9h1.1M108.1 933.1h1.1M108.1 928.0h1.1M108.1 925.4h1.1M108.1 923.5h1.1M108.1 922.1h1.1M108.1 920.9h1.1M108.1 919.9h1.1M108.1 919.1h1.1M108.1 918.3h1.1M108.1 913.2h1.1M108.1 910.6h1.1M108.1 908.8h1.1M108.1 907.3h1.1M108.1 906.2h1.1M108.1 905.2h1.1M108.1 904.3h1.1M108.1 903.6h1.1M108.1 898.4h1.1M108.1 895.8h1.1M108.1 894.0h1.1M108.1 892.5h1.1M108.1 891.4h1.1M108.1 890.4h1.1M108.1 889.5h1.1M108.1 888.8h1.1M108.1 883.7h1.1" stroke="#444" stroke-width="0.4" fill="none"/>
<path d="M120.0 954.6v1.1M122.6 954.6v1.1M124.5 954.6v1.1M125.9 954.6v1.1M127.1 954.6v1.1M128.1 954.6v1.1M128.9 954.6v1.1M129.7 954.6v1.1M134.8 954.6v1.1M137.4 954.6v1.1M139.3 954.6v1.1M140.7 954.6v1.1M141.9 954.6v1.1M142.9 954.6v1.1M143.7 954.6v1.1M144.5 954.6v1.1M149.6 954.6v1.1M152.2 954.6v1.1M154.0 954.6v1.1M155.5 954.6v1.1M156.6 954.6v1.1M157.6 954.6v1.1M158.5 954.6v1.1M159.2 954.6v1.1M164.4 954.6v1.1M167.0 954.6v1.1M168.8 954.6v1.1M170.3 954.6v1.1M171.4 954.6v1.1M172.4 954.6v1.1M173.3 954.6v1.1M174.0 954.6v1.1M179.1 954.6v1.1M181.7 954.6v1.1" stroke="#444" stroke-width="0.4" fill="none"/>
<line x1="115.60" y1="954.60" x2="115.60" y2="956.20" stroke="#444" stroke-width="0.6"/>
<text x="115.60" y="966.09" font-size="7.2" text-anchor="middle">10<tspan dy="-2.6" font-size="4.3">1</tspan></text>
<line x1="130.00" y1="954.60" x2="130.00" y2="956.20" stroke="#444" stroke-width="0.6"/>
<text x="130.00" y="966.09" font-size="7.2" text-anchor="middle">10<tspan dy="-2.6" font-size="4.3">2</tspan></text>
<line x1="144.50" y1="954.60" x2="144.50" y2="956.20" stroke="#444" stroke-width="0.6"/>
<text x="144.50" y="966.09" font-size="7.2" text-anchor="middle">10<tspan dy="-2.6" font-size="4.3">3</tspan></text>
<line x1="159.70" y1="954.60" x2="159.70" y2="956.20" stroke="#444" stroke-width="0.6"/>
<text x="159.70" y="966.09" font-size="7.2" text-anchor="middle">10<tspan dy="-2.6" font-size="4.3">4</tspan></text>
<line x1="174.70" y1="954.60" x2="174.70" y2="956.20" stroke="#444" stroke-width="0.6"/>
<text x="174.70" y="966.09" font-size="7.2" text-anchor="middle">10<tspan dy="-2.6" font-size="4.3">5</tspan></text>
<text x="103.20" y="870.05" font-size="8.2" fill="#1f8a50" textLength="78.80" lengthAdjust="spacingAndGlyphs" stroke="#1f8a50" stroke-width="0.05">Repressed autophagy</text>
<text x="123.60" y="878.65" font-size="8.2" fill="#5a3ca8" textLength="58.40" lengthAdjust="spacingAndGlyphs" stroke="#5a3ca8" stroke-width="0.05">High autophagy</text>
<path fill="#7a9ad8" d="M90.8 900.1h.7v.7h-.7zM68.0 893.8h.7v.7h-.7zM51.2 926.7h.7v.7h-.7zM53.8 917.3h.7v.7h-.7zM74.2 893.5h.7v.7h-.7zM68.5 898.1h.7v.7h-.7zM63.3 934.6h.7v.7h-.7zM54.0 928.2h.7v.7h-.7zM78.9 918.6h.7v.7h-.7zM71.5 928.2h.7v.7h-.7zM56.4 917.7h.7v.7h-.7zM72.7 897.6h.7v.7h-.7zM81.9 910.6h.7v.7h-.7zM82.9 906.0h.7v.7h-.7zM75.2 922.9h.7v.7h-.7zM72.3 898.4h.7v.7h-.7zM78.0 897.3h.7v.7h-.7zM82.1 906.8h.7v.7h-.7zM80.6 912.6h.7v.7h-.7zM57.2 930.6h.7v.7h-.7zM66.8 930.6h.7v.7h-.7zM57.0 929.9h.7v.7h-.7zM78.4 916.9h.7v.7h-.7zM80.5 911.6h.7v.7h-.7zM80.5 900.2h.7v.7h-.7zM80.6 900.6h.7v.7h-.7zM76.9 898.4h.7v.7h-.7zM80.8 909.7h.7v.7h-.7zM76.4 919.8h.7v.7h-.7zM65.1 905.4h.7v.7h-.7zM80.7 902.9h.7v.7h-.7zM57.1 923.7h.7v.7h-.7zM75.1 899.4h.7v.7h-.7zM80.3 902.3h.7v.7h-.7zM79.4 901.0h.7v.7h-.7zM78.5 914.2h.7v.7h-.7zM79.6 903.4h.7v.7h-.7zM61.2 912.8h.7v.7h-.7zM68.8 903.4h.7v.7h-.7zM78.5 902.3h.7v.7h-.7zM61.2 928.8h.7v.7h-.7zM66.3 906.1h.7v.7h-.7zM59.1 926.8h.7v.7h-.7zM70.4 902.7h.7v.7h-.7zM59.0 919.2h.7v.7h-.7zM64.4 928.7h.7v.7h-.7zM61.7 913.1h.7v.7h-.7zM62.9 911.0h.7v.7h-.7zM62.7 928.6h.7v.7h-.7zM63.7 909.8h.7v.7h-.7zM59.2 925.1h.7v.7h-.7zM63.9 928.2h.7v.7h-.7zM59.0 923.2h.7v.7h-.7zM61.5 914.0h.7v.7h-.7zM73.7 920.4h.7v.7h-.7zM70.5 903.5h.7v.7h-.7zM65.7 907.9h.7v.7h-.7zM59.5 924.2h.7v.7h-.7zM66.1 907.4h.7v.7h-.7zM76.5 915.6h.7v.7h-.7zM62.5 912.7h.7v.7h-.7zM75.7 916.9h.7v.7h-.7zM78.3 909.0h.7v.7h-.7zM76.5 903.0h.7v.7h-.7zM78.0 910.5h.7v.7h-.7zM65.9 926.9h.7v.7h-.7zM64.9 909.2h.7v.7h-.7zM78.3 908.1h.7v.7h-.7zM63.7 927.3h.7v.7h-.7zM76.7 903.7h.7v.7h-.7zM62.7 913.2h.7v.7h-.7zM60.7 918.6h.7v.7h-.7zM60.4 920.8h.7v.7h-.7zM61.6 925.0h.7v.7h-.7zM63.3 913.1h.7v.7h-.7zM74.4 917.2h.7v.7h-.7zM77.1 907.8h.7v.7h-.7zM62.2 916.2h.7v.7h-.7zM61.6 918.1h.7v.7h-.7zM61.6 919.1h.7v.7h-.7zM76.4 907.6h.7v.7h-.7zM73.9 917.1h.7v.7h-.7zM62.0 923.0h.7v.7h-.7zM76.2 907.8h.7v.7h-.7zM62.7 915.9h.7v.7h-.7zM75.3 913.7h.7v.7h-.7zM71.1 906.1h.7v.7h-.7zM66.6 923.8h.7v.7h-.7zM68.4 908.2h.7v.7h-.7zM73.4 917.1h.7v.7h-.7zM75.0 913.3h.7v.7h-.7zM62.4 919.9h.7v.7h-.7zM70.9 920.1h.7v.7h-.7zM64.1 923.2h.7v.7h-.7zM75.3 910.2h.7v.7h-.7zM63.1 921.7h.7v.7h-.7zM65.4 912.6h.7v.7h-.7zM71.1 919.4h.7v.7h-.7zM70.2 920.4h.7v.7h-.7zM63.1 919.9h.7v.7h-.7zM68.4 921.8h.7v.7h-.7zM74.3 912.7h.7v.7h-.7zM63.7 917.2h.7v.7h-.7zM74.3 909.0h.7v.7h-.7zM68.6 909.4h.7v.7h-.7zM70.7 908.1h.7v.7h-.7zM70.8 908.1h.7v.7h-.7zM63.7 919.8h.7v.7h-.7zM68.8 909.5h.7v.7h-.7zM64.2 916.7h.7v.7h-.7zM69.5 909.2h.7v.7h-.7zM72.3 908.3h.7v.7h-.7zM72.2 908.3h.7v.7h-.7zM65.5 921.3h.7v.7h-.7zM70.5 909.0h.7v.7h-.7zM64.4 918.9h.7v.7h-.7zM68.2 920.5h.7v.7h-.7zM68.7 910.6h.7v.7h-.7zM72.9 910.1h.7v.7h-.7zM68.6 910.9h.7v.7h-.7zM65.4 920.0h.7v.7h-.7zM68.2 919.9h.7v.7h-.7zM72.6 910.3h.7v.7h-.7zM72.4 914.5h.7v.7h-.7zM65.2 916.8h.7v.7h-.7zM69.3 910.6h.7v.7h-.7zM69.2 919.0h.7v.7h-.7zM66.2 914.4h.7v.7h-.7zM71.9 915.3h.7v.7h-.7zM72.4 913.5h.7v.7h-.7zM66.0 919.4h.7v.7h-.7zM72.0 910.9h.7v.7h-.7zM70.4 916.5h.7v.7h-.7zM71.6 914.0h.7v.7h-.7zM68.0 913.1h.7v.7h-.7zM67.4 918.5h.7v.7h-.7zM71.3 913.8h.7v.7h-.7zM66.9 915.7h.7v.7h-.7zM68.7 913.6h.7v.7h-.7zM69.7 915.8h.7v.7h-.7z"/>
<path fill="#6a8ad8" d="M83.3 884.6h1.0v1.0h-1.0zM53.1 932.5h1.0v1.0h-1.0zM84.6 889.3h1.0v1.0h-1.0zM81.7 889.2h1.0v1.0h-1.0zM58.3 919.6h1.0v1.0h-1.0zM56.8 926.2h1.0v1.0h-1.0zM67.6 931.0h1.0v1.0h-1.0zM84.7 901.2h1.0v1.0h-1.0zM73.1 897.1h1.0v1.0h-1.0zM83.8 902.0h1.0v1.0h-1.0zM58.7 930.7h1.0v1.0h-1.0zM72.3 924.9h1.0v1.0h-1.0zM61.7 932.1h1.0v1.0h-1.0zM63.2 911.0h1.0v1.0h-1.0zM69.4 901.7h1.0v1.0h-1.0zM83.4 899.8h1.0v1.0h-1.0zM83.3 901.1h1.0v1.0h-1.0zM82.3 906.3h1.0v1.0h-1.0zM81.5 908.3h1.0v1.0h-1.0zM63.1 930.9h1.0v1.0h-1.0zM72.0 899.4h1.0v1.0h-1.0zM59.1 925.3h1.0v1.0h-1.0zM81.4 896.0h1.0v1.0h-1.0zM64.1 910.4h1.0v1.0h-1.0zM73.8 898.1h1.0v1.0h-1.0zM74.7 920.6h1.0v1.0h-1.0zM79.4 912.4h1.0v1.0h-1.0zM60.7 918.7h1.0v1.0h-1.0zM76.0 918.3h1.0v1.0h-1.0zM60.7 928.9h1.0v1.0h-1.0zM65.9 929.0h1.0v1.0h-1.0zM60.8 918.8h1.0v1.0h-1.0zM76.1 918.0h1.0v1.0h-1.0zM71.5 924.1h1.0v1.0h-1.0zM81.3 906.6h1.0v1.0h-1.0zM81.1 897.2h1.0v1.0h-1.0zM60.2 927.5h1.0v1.0h-1.0zM79.0 896.4h1.0v1.0h-1.0zM80.4 896.8h1.0v1.0h-1.0zM62.0 916.0h1.0v1.0h-1.0zM76.9 916.4h1.0v1.0h-1.0zM79.8 897.2h1.0v1.0h-1.0zM61.1 919.7h1.0v1.0h-1.0zM77.8 914.2h1.0v1.0h-1.0zM62.5 928.6h1.0v1.0h-1.0zM65.9 928.1h1.0v1.0h-1.0zM63.2 928.6h1.0v1.0h-1.0zM73.1 921.4h1.0v1.0h-1.0zM60.6 924.5h1.0v1.0h-1.0zM67.3 907.2h1.0v1.0h-1.0zM81.0 901.3h1.0v1.0h-1.0zM69.2 904.7h1.0v1.0h-1.0zM71.0 923.5h1.0v1.0h-1.0zM73.5 900.2h1.0v1.0h-1.0zM75.5 917.4h1.0v1.0h-1.0zM75.3 899.2h1.0v1.0h-1.0zM61.2 923.5h1.0v1.0h-1.0zM71.7 922.3h1.0v1.0h-1.0zM68.7 905.6h1.0v1.0h-1.0zM73.4 900.6h1.0v1.0h-1.0zM65.2 927.3h1.0v1.0h-1.0zM78.1 898.6h1.0v1.0h-1.0zM68.4 906.1h1.0v1.0h-1.0zM65.2 927.2h1.0v1.0h-1.0zM72.9 901.1h1.0v1.0h-1.0zM62.6 917.1h1.0v1.0h-1.0zM62.9 926.8h1.0v1.0h-1.0zM75.1 917.5h1.0v1.0h-1.0zM76.1 915.8h1.0v1.0h-1.0zM72.5 921.1h1.0v1.0h-1.0zM78.8 899.5h1.0v1.0h-1.0zM74.7 917.8h1.0v1.0h-1.0zM66.2 910.0h1.0v1.0h-1.0zM73.2 901.3h1.0v1.0h-1.0zM62.3 919.7h1.0v1.0h-1.0zM71.5 903.0h1.0v1.0h-1.0zM63.0 917.4h1.0v1.0h-1.0zM63.2 926.0h1.0v1.0h-1.0zM77.0 913.5h1.0v1.0h-1.0zM74.7 917.3h1.0v1.0h-1.0z"/>
<path fill="#3c78c8" d="M65.2 926.0h1.0v1.0h-1.0zM77.2 912.6h1.0v1.0h-1.0zM64.0 925.7h1.0v1.0h-1.0zM74.3 917.7h1.0v1.0h-1.0zM64.7 925.7h1.0v1.0h-1.0zM74.8 916.8h1.0v1.0h-1.0zM63.1 918.2h1.0v1.0h-1.0zM71.2 904.1h1.0v1.0h-1.0zM79.3 904.7h1.0v1.0h-1.0zM78.1 900.9h1.0v1.0h-1.0zM66.6 910.4h1.0v1.0h-1.0zM64.6 914.4h1.0v1.0h-1.0zM71.9 903.5h1.0v1.0h-1.0zM63.2 924.2h1.0v1.0h-1.0zM79.1 903.2h1.0v1.0h-1.0zM64.4 925.1h1.0v1.0h-1.0zM78.8 902.1h1.0v1.0h-1.0zM63.5 917.8h1.0v1.0h-1.0zM70.4 922.1h1.0v1.0h-1.0zM72.2 920.1h1.0v1.0h-1.0zM69.9 905.8h1.0v1.0h-1.0zM63.3 923.7h1.0v1.0h-1.0zM67.2 924.5h1.0v1.0h-1.0zM73.8 902.2h1.0v1.0h-1.0zM78.3 901.9h1.0v1.0h-1.0zM66.6 924.5h1.0v1.0h-1.0zM63.5 923.5h1.0v1.0h-1.0zM69.4 906.7h1.0v1.0h-1.0zM77.8 909.7h1.0v1.0h-1.0zM64.9 924.6h1.0v1.0h-1.0zM77.8 901.9h1.0v1.0h-1.0zM78.7 904.5h1.0v1.0h-1.0zM63.7 923.4h1.0v1.0h-1.0zM63.4 922.8h1.0v1.0h-1.0zM76.8 912.1h1.0v1.0h-1.0zM74.9 915.7h1.0v1.0h-1.0zM75.8 914.0h1.0v1.0h-1.0zM66.7 911.0h1.0v1.0h-1.0zM70.7 905.4h1.0v1.0h-1.0zM64.9 915.0h1.0v1.0h-1.0zM66.7 924.1h1.0v1.0h-1.0zM69.4 907.0h1.0v1.0h-1.0zM77.1 911.0h1.0v1.0h-1.0zM76.9 911.4h1.0v1.0h-1.0zM63.5 921.3h1.0v1.0h-1.0zM75.7 914.0h1.0v1.0h-1.0zM71.5 920.3h1.0v1.0h-1.0zM63.8 922.3h1.0v1.0h-1.0zM71.2 920.5h1.0v1.0h-1.0zM72.3 919.1h1.0v1.0h-1.0zM75.3 902.2h1.0v1.0h-1.0zM66.6 911.7h1.0v1.0h-1.0zM63.7 920.5h1.0v1.0h-1.0zM66.3 912.2h1.0v1.0h-1.0zM66.8 911.3h1.0v1.0h-1.0zM78.0 907.2h1.0v1.0h-1.0zM75.3 914.4h1.0v1.0h-1.0zM76.7 902.5h1.0v1.0h-1.0zM65.8 923.5h1.0v1.0h-1.0zM76.8 902.7h1.0v1.0h-1.0zM65.4 914.7h1.0v1.0h-1.0zM77.4 903.3h1.0v1.0h-1.0zM74.1 916.2h1.0v1.0h-1.0zM76.6 902.7h1.0v1.0h-1.0zM72.8 918.1h1.0v1.0h-1.0zM74.8 915.0h1.0v1.0h-1.0zM64.1 920.6h1.0v1.0h-1.0zM77.8 904.9h1.0v1.0h-1.0zM67.9 922.7h1.0v1.0h-1.0zM77.8 905.0h1.0v1.0h-1.0zM77.8 906.6h1.0v1.0h-1.0zM65.5 914.7h1.0v1.0h-1.0zM67.6 910.5h1.0v1.0h-1.0zM68.8 908.6h1.0v1.0h-1.0zM68.3 922.4h1.0v1.0h-1.0zM64.3 920.0h1.0v1.0h-1.0zM70.6 906.5h1.0v1.0h-1.0zM73.6 903.8h1.0v1.0h-1.0zM73.1 904.1h1.0v1.0h-1.0zM66.3 923.0h1.0v1.0h-1.0zM64.5 918.6h1.0v1.0h-1.0zM64.8 917.2h1.0v1.0h-1.0zM76.9 910.0h1.0v1.0h-1.0zM68.0 910.1h1.0v1.0h-1.0zM73.7 916.4h1.0v1.0h-1.0zM71.3 905.8h1.0v1.0h-1.0zM64.6 921.7h1.0v1.0h-1.0zM71.4 905.7h1.0v1.0h-1.0zM75.4 913.2h1.0v1.0h-1.0zM71.1 919.7h1.0v1.0h-1.0zM77.3 904.9h1.0v1.0h-1.0zM67.9 922.2h1.0v1.0h-1.0zM70.8 906.5h1.0v1.0h-1.0zM67.6 922.3h1.0v1.0h-1.0zM75.6 903.5h1.0v1.0h-1.0zM71.9 905.5h1.0v1.0h-1.0zM69.2 921.3h1.0v1.0h-1.0zM70.8 906.5h1.0v1.0h-1.0zM72.3 905.1h1.0v1.0h-1.0zM74.6 903.7h1.0v1.0h-1.0z"/>
<path fill="#28a08c" d="M67.6 911.1h1.0v1.0h-1.0zM68.9 921.4h1.0v1.0h-1.0zM75.6 903.8h1.0v1.0h-1.0zM77.1 907.1h1.0v1.0h-1.0zM69.5 920.8h1.0v1.0h-1.0zM67.4 911.6h1.0v1.0h-1.0zM76.6 909.7h1.0v1.0h-1.0zM70.0 907.8h1.0v1.0h-1.0zM66.4 922.2h1.0v1.0h-1.0zM72.5 917.6h1.0v1.0h-1.0zM70.6 907.0h1.0v1.0h-1.0zM73.4 904.6h1.0v1.0h-1.0zM65.3 916.7h1.0v1.0h-1.0zM67.9 921.8h1.0v1.0h-1.0zM65.1 920.8h1.0v1.0h-1.0zM68.5 921.5h1.0v1.0h-1.0zM76.5 904.4h1.0v1.0h-1.0zM68.2 910.4h1.0v1.0h-1.0zM66.0 915.0h1.0v1.0h-1.0zM75.7 904.0h1.0v1.0h-1.0zM68.8 909.6h1.0v1.0h-1.0zM76.0 904.2h1.0v1.0h-1.0zM75.5 904.2h1.0v1.0h-1.0zM68.4 910.3h1.0v1.0h-1.0zM67.6 921.6h1.0v1.0h-1.0zM76.8 906.6h1.0v1.0h-1.0zM68.7 921.1h1.0v1.0h-1.0zM65.2 918.6h1.0v1.0h-1.0zM75.8 904.5h1.0v1.0h-1.0zM67.0 913.0h1.0v1.0h-1.0zM73.8 904.7h1.0v1.0h-1.0zM75.0 913.1h1.0v1.0h-1.0zM67.0 912.9h1.0v1.0h-1.0zM76.4 905.2h1.0v1.0h-1.0zM74.4 904.5h1.0v1.0h-1.0zM70.7 907.4h1.0v1.0h-1.0zM75.4 904.5h1.0v1.0h-1.0zM72.0 906.1h1.0v1.0h-1.0zM76.6 906.9h1.0v1.0h-1.0zM65.7 920.5h1.0v1.0h-1.0zM74.3 904.8h1.0v1.0h-1.0zM74.1 914.4h1.0v1.0h-1.0zM65.5 919.2h1.0v1.0h-1.0zM68.3 920.8h1.0v1.0h-1.0zM66.0 916.1h1.0v1.0h-1.0zM76.2 909.1h1.0v1.0h-1.0zM73.4 905.4h1.0v1.0h-1.0zM76.3 906.7h1.0v1.0h-1.0zM66.1 920.5h1.0v1.0h-1.0zM67.0 913.7h1.0v1.0h-1.0zM66.2 920.5h1.0v1.0h-1.0zM75.5 905.3h1.0v1.0h-1.0zM75.3 911.7h1.0v1.0h-1.0zM67.2 920.8h1.0v1.0h-1.0zM72.1 906.5h1.0v1.0h-1.0zM67.2 913.5h1.0v1.0h-1.0zM76.1 908.2h1.0v1.0h-1.0zM76.1 908.1h1.0v1.0h-1.0zM75.9 906.1h1.0v1.0h-1.0zM76.1 907.7h1.0v1.0h-1.0zM66.2 920.0h1.0v1.0h-1.0zM76.1 908.1h1.0v1.0h-1.0zM67.6 920.6h1.0v1.0h-1.0zM69.5 909.5h1.0v1.0h-1.0zM75.9 909.0h1.0v1.0h-1.0zM66.2 919.7h1.0v1.0h-1.0zM67.6 912.7h1.0v1.0h-1.0zM72.0 917.1h1.0v1.0h-1.0zM70.5 908.5h1.0v1.0h-1.0zM66.4 916.3h1.0v1.0h-1.0zM74.3 905.7h1.0v1.0h-1.0zM73.9 914.0h1.0v1.0h-1.0zM66.5 915.7h1.0v1.0h-1.0zM70.1 909.0h1.0v1.0h-1.0zM66.4 919.2h1.0v1.0h-1.0zM75.7 907.2h1.0v1.0h-1.0zM75.2 910.7h1.0v1.0h-1.0zM68.8 911.1h1.0v1.0h-1.0zM75.6 906.9h1.0v1.0h-1.0zM68.5 919.8h1.0v1.0h-1.0zM66.6 916.4h1.0v1.0h-1.0zM74.8 911.7h1.0v1.0h-1.0zM74.8 906.4h1.0v1.0h-1.0zM69.4 910.3h1.0v1.0h-1.0zM66.8 919.0h1.0v1.0h-1.0zM67.2 919.4h1.0v1.0h-1.0zM69.3 919.1h1.0v1.0h-1.0zM74.0 906.4h1.0v1.0h-1.0zM66.8 916.3h1.0v1.0h-1.0zM70.8 917.8h1.0v1.0h-1.0z"/>
<path fill="#8cc83c" d="M68.6 911.8h1.0v1.0h-1.0zM67.1 915.1h1.0v1.0h-1.0zM74.1 912.8h1.0v1.0h-1.0zM74.6 906.7h1.0v1.0h-1.0zM68.2 919.4h1.0v1.0h-1.0zM72.8 915.2h1.0v1.0h-1.0zM72.0 907.7h1.0v1.0h-1.0zM68.2 919.3h1.0v1.0h-1.0zM68.3 912.5h1.0v1.0h-1.0zM74.2 912.4h1.0v1.0h-1.0zM74.7 911.0h1.0v1.0h-1.0zM67.7 914.0h1.0v1.0h-1.0zM74.4 906.9h1.0v1.0h-1.0zM68.2 919.2h1.0v1.0h-1.0zM66.9 918.1h1.0v1.0h-1.0zM68.2 912.9h1.0v1.0h-1.0zM67.4 914.7h1.0v1.0h-1.0zM70.4 909.4h1.0v1.0h-1.0zM72.4 915.5h1.0v1.0h-1.0zM74.7 910.7h1.0v1.0h-1.0zM69.4 918.6h1.0v1.0h-1.0zM67.0 917.2h1.0v1.0h-1.0zM73.6 913.4h1.0v1.0h-1.0zM74.4 907.2h1.0v1.0h-1.0zM75.0 908.4h1.0v1.0h-1.0zM73.8 907.1h1.0v1.0h-1.0zM69.1 918.6h1.0v1.0h-1.0zM74.9 909.1h1.0v1.0h-1.0zM69.0 918.6h1.0v1.0h-1.0zM68.0 913.6h1.0v1.0h-1.0zM67.2 916.1h1.0v1.0h-1.0zM67.3 918.3h1.0v1.0h-1.0zM68.1 913.5h1.0v1.0h-1.0zM67.7 914.6h1.0v1.0h-1.0zM71.6 916.3h1.0v1.0h-1.0zM70.3 909.8h1.0v1.0h-1.0zM73.7 907.3h1.0v1.0h-1.0zM67.3 915.8h1.0v1.0h-1.0zM71.9 908.2h1.0v1.0h-1.0zM67.3 917.7h1.0v1.0h-1.0zM67.4 915.7h1.0v1.0h-1.0zM68.2 918.6h1.0v1.0h-1.0zM71.4 916.4h1.0v1.0h-1.0zM71.5 908.7h1.0v1.0h-1.0zM72.7 914.6h1.0v1.0h-1.0zM72.1 908.2h1.0v1.0h-1.0zM68.0 918.3h1.0v1.0h-1.0zM71.9 908.3h1.0v1.0h-1.0zM73.8 907.6h1.0v1.0h-1.0zM67.4 916.4h1.0v1.0h-1.0zM67.5 917.2h1.0v1.0h-1.0zM74.5 909.0h1.0v1.0h-1.0zM70.0 910.5h1.0v1.0h-1.0zM73.8 912.3h1.0v1.0h-1.0zM69.9 910.7h1.0v1.0h-1.0zM74.4 910.1h1.0v1.0h-1.0zM68.0 914.4h1.0v1.0h-1.0zM72.4 914.8h1.0v1.0h-1.0zM74.4 909.4h1.0v1.0h-1.0zM73.2 913.4h1.0v1.0h-1.0zM73.3 913.1h1.0v1.0h-1.0zM69.8 917.7h1.0v1.0h-1.0zM67.6 917.2h1.0v1.0h-1.0zM73.8 912.0h1.0v1.0h-1.0zM68.3 918.0h1.0v1.0h-1.0zM69.0 918.0h1.0v1.0h-1.0zM74.3 909.1h1.0v1.0h-1.0zM69.3 917.8h1.0v1.0h-1.0zM73.5 912.7h1.0v1.0h-1.0zM72.2 908.5h1.0v1.0h-1.0zM70.4 917.1h1.0v1.0h-1.0zM69.5 917.7h1.0v1.0h-1.0zM68.7 913.0h1.0v1.0h-1.0zM69.4 911.7h1.0v1.0h-1.0zM73.1 908.2h1.0v1.0h-1.0zM74.0 908.5h1.0v1.0h-1.0zM73.9 908.5h1.0v1.0h-1.0zM70.4 910.5h1.0v1.0h-1.0zM74.1 909.5h1.0v1.0h-1.0zM71.2 909.6h1.0v1.0h-1.0zM72.4 908.6h1.0v1.0h-1.0zM68.4 917.5h1.0v1.0h-1.0zM73.2 908.4h1.0v1.0h-1.0zM70.2 910.9h1.0v1.0h-1.0zM71.2 909.8h1.0v1.0h-1.0zM69.9 917.0h1.0v1.0h-1.0zM70.5 916.5h1.0v1.0h-1.0zM68.4 914.5h1.0v1.0h-1.0zM71.0 916.0h1.0v1.0h-1.0zM68.4 914.6h1.0v1.0h-1.0zM68.2 915.6h1.0v1.0h-1.0zM73.5 909.1h1.0v1.0h-1.0zM73.7 909.5h1.0v1.0h-1.0zM68.8 917.1h1.0v1.0h-1.0zM68.5 916.5h1.0v1.0h-1.0zM72.8 912.9h1.0v1.0h-1.0zM69.9 911.8h1.0v1.0h-1.0zM69.2 916.8h1.0v1.0h-1.0zM73.4 911.4h1.0v1.0h-1.0zM69.0 913.5h1.0v1.0h-1.0zM71.8 914.6h1.0v1.0h-1.0zM72.3 913.8h1.0v1.0h-1.0zM72.5 913.4h1.0v1.0h-1.0zM73.0 912.4h1.0v1.0h-1.0zM73.0 909.4h1.0v1.0h-1.0z"/>
<path fill="#e8e020" d="M69.3 916.6h1.0v1.0h-1.0zM73.3 911.2h1.0v1.0h-1.0zM72.4 909.5h1.0v1.0h-1.0zM69.7 912.3h1.0v1.0h-1.0zM70.2 911.5h1.0v1.0h-1.0zM72.2 913.7h1.0v1.0h-1.0zM71.8 914.3h1.0v1.0h-1.0zM72.7 909.7h1.0v1.0h-1.0zM73.2 910.7h1.0v1.0h-1.0zM68.9 915.8h1.0v1.0h-1.0zM71.1 910.7h1.0v1.0h-1.0zM69.3 916.1h1.0v1.0h-1.0zM71.7 910.2h1.0v1.0h-1.0zM70.9 911.0h1.0v1.0h-1.0zM72.0 913.7h1.0v1.0h-1.0zM69.4 915.9h1.0v1.0h-1.0zM69.6 913.0h1.0v1.0h-1.0zM72.7 912.2h1.0v1.0h-1.0zM71.1 910.9h1.0v1.0h-1.0zM70.8 911.2h1.0v1.0h-1.0zM71.2 910.8h1.0v1.0h-1.0zM70.7 915.2h1.0v1.0h-1.0zM69.7 913.2h1.0v1.0h-1.0zM70.4 915.3h1.0v1.0h-1.0zM71.3 914.4h1.0v1.0h-1.0zM72.3 912.5h1.0v1.0h-1.0zM69.5 915.0h1.0v1.0h-1.0zM69.6 915.2h1.0v1.0h-1.0zM72.5 911.4h1.0v1.0h-1.0zM69.9 913.2h1.0v1.0h-1.0zM70.4 912.2h1.0v1.0h-1.0zM71.8 913.1h1.0v1.0h-1.0zM70.4 914.7h1.0v1.0h-1.0zM70.3 914.7h1.0v1.0h-1.0zM70.7 914.5h1.0v1.0h-1.0zM69.9 914.0h1.0v1.0h-1.0zM72.1 912.0h1.0v1.0h-1.0zM70.0 913.8h1.0v1.0h-1.0zM71.8 912.8h1.0v1.0h-1.0zM71.7 912.7h1.0v1.0h-1.0zM70.6 914.0h1.0v1.0h-1.0zM70.4 913.4h1.0v1.0h-1.0zM70.9 912.5h1.0v1.0h-1.0zM70.9 913.7h1.0v1.0h-1.0zM70.5 913.3h1.0v1.0h-1.0z"/>
<path fill="#e07030" d="M67.3 914.7h.8v.8h-.8zM69.0 916.9h.8v.8h-.8zM75.5 907.0h.8v.8h-.8zM72.1 914.6h.8v.8h-.8zM72.0 914.6h.8v.8h-.8zM69.0 912.2h.8v.8h-.8zM74.7 906.8h.8v.8h-.8zM69.8 911.0h.8v.8h-.8zM74.2 907.0h.8v.8h-.8zM71.1 909.0h.8v.8h-.8zM72.9 912.8h.8v.8h-.8zM74.3 910.2h.8v.8h-.8zM71.7 908.5h.8v.8h-.8zM71.8 908.4h.8v.8h-.8zM69.8 912.4h.8v.8h-.8zM71.1 914.1h.8v.8h-.8zM69.7 913.3h.8v.8h-.8zM74.0 909.9h.8v.8h-.8zM73.3 911.4h.8v.8h-.8zM71.6 913.3h.8v.8h-.8zM73.7 908.6h.8v.8h-.8zM73.4 908.5h.8v.8h-.8zM70.5 911.9h.8v.8h-.8zM70.7 911.3h.8v.8h-.8zM73.2 910.7h.8v.8h-.8zM73.2 910.3h.8v.8h-.8zM72.1 909.7h.8v.8h-.8zM71.1 911.7h.8v.8h-.8zM71.1 911.7h.8v.8h-.8zM72.7 910.9h.8v.8h-.8zM72.6 909.7h.8v.8h-.8zM72.8 910.1h.8v.8h-.8zM71.4 911.6h.8v.8h-.8zM72.3 911.2h.8v.8h-.8zM71.7 911.8h.8v.8h-.8zM72.0 910.4h.8v.8h-.8zM71.7 911.7h.8v.8h-.8zM72.3 911.0h.8v.8h-.8zM72.2 910.8h.8v.8h-.8zM72.1 911.1h.8v.8h-.8z"/>
<line x1="10.50" y1="938.00" x2="10.50" y2="885.20" stroke="#4a5876" stroke-width="1.3"/>
<path d="M10.50,881.00 L12.60,885.20 L8.40,885.20 Z" fill="#4a5876"/>
<text x="11.50" y="950.17" font-size="8.8" text-anchor="middle" textLength="19.90" lengthAdjust="spacingAndGlyphs" transform="rotate(-90 11.50 947.00)" stroke="#231f20" stroke-width="0.05">GFP</text>
<text x="27.60" y="983.17" font-size="8.8" textLength="38.10" lengthAdjust="spacingAndGlyphs" stroke="#231f20" stroke-width="0.05">mCherry</text>
<line x1="68.30" y1="980.00" x2="177.30" y2="980.00" stroke="#4a5876" stroke-width="1.3"/>
<path d="M181.50,980.00 L177.30,982.10 L177.30,977.90 Z" fill="#4a5876"/>
<line x1="95.10" y1="918.80" x2="123.30" y2="918.80" stroke="#3d4d66" stroke-width="3.2"/>
<path d="M130.80,918.80 L122.80,913.80 L122.80,923.80 Z" fill="#3d4d66"/>
<path fill="#cfcfcf" d="M150.1 911.4h.7v.7h-.7zM146.5 917.1h.7v.7h-.7zM130.8 917.5h.7v.7h-.7zM134.0 924.8h.7v.7h-.7zM146.8 913.0h.7v.7h-.7zM135.3 929.3h.7v.7h-.7zM128.9 924.8h.7v.7h-.7zM137.2 921.7h.7v.7h-.7zM142.9 907.8h.7v.7h-.7zM138.9 920.6h.7v.7h-.7zM132.6 923.7h.7v.7h-.7zM137.7 912.9h.7v.7h-.7zM131.8 924.6h.7v.7h-.7zM139.2 919.8h.7v.7h-.7zM155.9 909.4h.7v.7h-.7zM140.9 913.5h.7v.7h-.7zM143.7 910.8h.7v.7h-.7zM152.7 913.6h.7v.7h-.7zM124.7 924.7h.7v.7h-.7zM137.8 917.8h.7v.7h-.7zM129.1 920.7h.7v.7h-.7zM143.1 912.7h.7v.7h-.7zM129.9 925.0h.7v.7h-.7zM150.3 918.2h.7v.7h-.7zM139.6 916.7h.7v.7h-.7zM133.7 920.5h.7v.7h-.7zM146.5 919.1h.7v.7h-.7zM147.0 910.9h.7v.7h-.7zM147.4 915.8h.7v.7h-.7zM136.5 908.2h.7v.7h-.7zM138.9 917.5h.7v.7h-.7zM147.4 910.3h.7v.7h-.7zM143.4 916.5h.7v.7h-.7zM149.7 913.8h.7v.7h-.7zM150.1 917.3h.7v.7h-.7zM147.9 915.5h.7v.7h-.7zM138.7 919.6h.7v.7h-.7zM153.3 907.0h.7v.7h-.7zM142.9 915.1h.7v.7h-.7zM130.5 910.3h.7v.7h-.7zM147.5 905.6h.7v.7h-.7zM138.4 926.4h.7v.7h-.7zM125.6 930.2h.7v.7h-.7zM131.8 915.2h.7v.7h-.7zM141.8 912.5h.7v.7h-.7zM138.3 917.2h.7v.7h-.7zM149.7 921.6h.7v.7h-.7zM134.5 927.1h.7v.7h-.7zM134.9 920.5h.7v.7h-.7zM125.5 924.2h.7v.7h-.7zM139.5 922.7h.7v.7h-.7zM143.0 918.5h.7v.7h-.7zM140.9 910.0h.7v.7h-.7zM148.1 909.5h.7v.7h-.7zM143.7 913.9h.7v.7h-.7zM143.3 918.6h.7v.7h-.7zM131.4 935.8h.7v.7h-.7zM143.9 920.5h.7v.7h-.7zM141.6 917.2h.7v.7h-.7zM130.9 923.6h.7v.7h-.7zM126.0 928.9h.7v.7h-.7zM144.8 904.1h.7v.7h-.7zM134.8 920.4h.7v.7h-.7zM150.3 915.8h.7v.7h-.7zM140.6 918.0h.7v.7h-.7zM137.8 917.3h.7v.7h-.7zM135.9 919.0h.7v.7h-.7zM139.3 919.0h.7v.7h-.7zM137.7 923.2h.7v.7h-.7zM141.1 919.8h.7v.7h-.7zM129.8 922.9h.7v.7h-.7zM141.3 918.4h.7v.7h-.7zM142.9 923.6h.7v.7h-.7zM142.4 923.5h.7v.7h-.7zM150.3 913.0h.7v.7h-.7zM144.2 917.4h.7v.7h-.7zM136.2 915.3h.7v.7h-.7zM135.2 918.7h.7v.7h-.7zM135.6 917.9h.7v.7h-.7zM133.7 923.9h.7v.7h-.7zM146.5 908.0h.7v.7h-.7zM127.2 925.7h.7v.7h-.7zM129.8 921.2h.7v.7h-.7zM131.7 924.2h.7v.7h-.7zM149.0 922.2h.7v.7h-.7zM129.1 919.7h.7v.7h-.7zM138.6 918.5h.7v.7h-.7zM153.2 913.7h.7v.7h-.7zM130.6 915.2h.7v.7h-.7zM142.3 913.7h.7v.7h-.7zM148.1 910.6h.7v.7h-.7zM136.0 915.1h.7v.7h-.7zM142.7 921.8h.7v.7h-.7zM135.5 922.8h.7v.7h-.7zM138.7 923.8h.7v.7h-.7zM141.0 920.0h.7v.7h-.7zM139.7 913.7h.7v.7h-.7zM136.3 928.0h.7v.7h-.7zM135.2 916.6h.7v.7h-.7zM140.3 926.4h.7v.7h-.7zM143.4 920.9h.7v.7h-.7zM131.9 936.8h.7v.7h-.7zM144.0 921.7h.7v.7h-.7zM138.0 919.4h.7v.7h-.7zM150.2 919.3h.7v.7h-.7zM139.3 915.1h.7v.7h-.7zM151.7 919.2h.7v.7h-.7zM129.6 922.4h.7v.7h-.7zM142.9 913.3h.7v.7h-.7zM126.4 929.4h.7v.7h-.7zM143.6 918.6h.7v.7h-.7zM145.3 906.8h.7v.7h-.7zM136.6 920.6h.7v.7h-.7zM140.7 913.5h.7v.7h-.7zM138.2 915.5h.7v.7h-.7zM148.6 917.4h.7v.7h-.7zM136.9 923.8h.7v.7h-.7zM134.8 924.6h.7v.7h-.7zM132.0 926.1h.7v.7h-.7zM149.6 914.8h.7v.7h-.7z"/>
<defs><linearGradient id="gg" x1="0" x2="1" y1="0" y2="0"><stop offset="0" stop-color="#1a8a3e"/><stop offset="0.6" stop-color="#1f9446"/><stop offset="1" stop-color="#d8f0dc"/></linearGradient></defs>
<path d="M144.10,909.00 L166.60,895.30 L167.10,903.00 L143.00,917.20 Z" fill="url(#gg)" stroke="#222" stroke-width="0.6"/>
<path d="M143.60,917.80 L161.70,910.10 L160.60,923.80 L145.80,930.40 L141.40,929.30 Z" fill="#6650b0" stroke="#222" stroke-width="0.6"/>
<path d="M146.76,919.82 L156.71,915.58 L156.11,923.12 L147.97,926.75 L145.55,926.14 Z" fill="#5840a0"/>
<circle cx="155.50" cy="903.50" r="0.60" fill="#fff"/>
<circle cx="153.00" cy="917.50" r="0.70" fill="#fff"/>
<line x1="167.00" y1="902.50" x2="200.00" y2="897.50" stroke="#1f8a50" stroke-width="1.3" stroke-dasharray="3,2"/>
<path d="M205.10,896.80 L199.50,894.80 L200.50,900.20 Z" fill="#1f8a50"/>
<line x1="165.70" y1="932.00" x2="196.50" y2="945.60" stroke="#7a2a9a" stroke-width="1.3" stroke-dasharray="3,2"/>
<path d="M201.20,947.70 L195.30,947.90 L197.60,943.00 Z" fill="#7a2a9a"/>
<rect x="191.40" y="881.50" width="73.60" height="73.60" fill="none" stroke="#444" stroke-width="0.8"/>
<path d="M191.4,931.5 L204,931.5 L206.5,929 L209,921 L211.5,908 L213.5,897 L215,891 L216.1,890 L217.5,893 L220,899 L224,907 L228,914 L232,920 L236,925 L240,929.5 L243,931.3 L265,931.5" fill="none" stroke="#3aa868" stroke-width="0.7"/>
<path d="M191.4,954.4 L206,954.4 L208,950 L210,935 L211.5,920 L213,912.5 L214.5,915 L216.5,928 L218.5,944 L220.9,953.5 L222,954.4 L265,954.4" fill="none" stroke="#6a48b0" stroke-width="0.7"/>
<line x1="193.30" y1="955.00" x2="193.30" y2="956.60" stroke="#444" stroke-width="0.6"/>
<text x="195.9" y="961.5" font-size="6.8" text-anchor="end" transform="rotate(-45 195.9 961.5)">0</text>
<line x1="206.40" y1="955.00" x2="206.40" y2="956.60" stroke="#444" stroke-width="0.6"/>
<text x="209.0" y="961.5" font-size="6.8" text-anchor="end" transform="rotate(-45 209.0 961.5)">50K</text>
<line x1="219.50" y1="955.00" x2="219.50" y2="956.60" stroke="#444" stroke-width="0.6"/>
<text x="222.1" y="961.5" font-size="6.8" text-anchor="end" transform="rotate(-45 222.1 961.5)">100K</text>
<line x1="234.00" y1="955.00" x2="234.00" y2="956.60" stroke="#444" stroke-width="0.6"/>
<text x="236.6" y="961.5" font-size="6.8" text-anchor="end" transform="rotate(-45 236.6 961.5)">150K</text>
<line x1="248.40" y1="955.00" x2="248.40" y2="956.60" stroke="#444" stroke-width="0.6"/>
<text x="251.0" y="961.5" font-size="6.8" text-anchor="end" transform="rotate(-45 251.0 961.5)">200K</text>
<line x1="261.60" y1="955.00" x2="261.60" y2="956.60" stroke="#444" stroke-width="0.6"/>
<text x="264.2" y="961.5" font-size="6.8" text-anchor="end" transform="rotate(-45 264.2 961.5)">250K</text>
<text x="190.60" y="983.17" font-size="8.8" textLength="35.50" lengthAdjust="spacingAndGlyphs" stroke="#231f20" stroke-width="0.05">Forward</text>
<text x="190.60" y="995.07" font-size="8.8" textLength="29.70" lengthAdjust="spacingAndGlyphs" stroke="#231f20" stroke-width="0.05">scatter</text>
<line x1="228.70" y1="980.00" x2="260.00" y2="980.00" stroke="#4a5876" stroke-width="1.3"/>
<path d="M264.20,980.00 L260.00,982.10 L260.00,977.90 Z" fill="#4a5876"/>
<line x1="308.60" y1="879.20" x2="308.60" y2="960.50" stroke="#3a3a3a" stroke-width="0.7"/>
<line x1="306.40" y1="960.50" x2="308.60" y2="960.50" stroke="#3a3a3a" stroke-width="0.7"/>
<text x="303.40" y="963.38" font-size="8.0" text-anchor="end" textLength="4.63" lengthAdjust="spacingAndGlyphs" stroke="#231f20" stroke-width="0.05">6</text>
<line x1="306.40" y1="927.80" x2="308.60" y2="927.80" stroke="#3a3a3a" stroke-width="0.7"/>
<text x="303.40" y="930.68" font-size="8.0" text-anchor="end" textLength="4.63" lengthAdjust="spacingAndGlyphs" stroke="#231f20" stroke-width="0.05">8</text>
<line x1="306.40" y1="895.10" x2="308.60" y2="895.10" stroke="#3a3a3a" stroke-width="0.7"/>
<text x="303.40" y="897.98" font-size="8.0" text-anchor="end" textLength="9.25" lengthAdjust="spacingAndGlyphs" stroke="#231f20" stroke-width="0.05">10</text>
<line x1="308.60" y1="960.50" x2="363.20" y2="960.50" stroke="#3a3a3a" stroke-width="0.7"/>
<line x1="324.20" y1="960.50" x2="324.20" y2="962.30" stroke="#3a3a3a" stroke-width="0.6"/>
<line x1="347.60" y1="960.50" x2="347.60" y2="962.30" stroke="#3a3a3a" stroke-width="0.6"/>
<text x="279.20" y="923.94" font-size="9.0" text-anchor="middle" textLength="68.00" lengthAdjust="spacingAndGlyphs" transform="rotate(-90 279.20 920.70)" stroke="#231f20" stroke-width="0.05">Forward scatter</text>
<text x="290.40" y="924.04" font-size="9.0" text-anchor="middle" textLength="41.50" lengthAdjust="spacingAndGlyphs" transform="rotate(-90 290.40 920.80)" stroke="#231f20" stroke-width="0.05">MFI (×10<tspan dy="-2.8" font-size="5">4</tspan><tspan dy="2.8">)</tspan></text>
<text x="325.90" y="878.72" font-size="7.0" textLength="21.00" lengthAdjust="spacingAndGlyphs">0.004</text>
<line x1="324.20" y1="879.90" x2="348.30" y2="879.90" stroke="#c0c0c0" stroke-width="0.7"/>
<path d="M317.20,890.20 L316.70,892.00 L317.70,894.50 L317.70,897.50 L318.70,899.80 L329.70,899.80 L330.70,897.50 L330.70,894.50 L331.70,892.00 L331.20,890.20 Z" fill="#dcf1e4" stroke="#2a9a5a" stroke-width="0.6"/>
<line x1="317.00" y1="894.50" x2="331.50" y2="894.50" stroke="#2a9a5a" stroke-width="0.5"/>
<circle cx="324.20" cy="890.50" r="1.20" fill="#1a7a40"/>
<circle cx="324.20" cy="894.50" r="1.20" fill="#1a7a40"/>
<circle cx="324.20" cy="899.00" r="1.20" fill="#1a7a40"/>
<path d="M346.60,929.00 L341.10,930.00 L340.60,931.20 L346.60,932.20 L348.60,932.20 L354.60,931.20 L354.10,930.00 L348.60,929.00 Z" fill="#e2dcf4" stroke="#6a48b0" stroke-width="0.6"/>
<circle cx="344.50" cy="930.60" r="1.10" fill="#5a3ca8"/>
<circle cx="347.60" cy="930.60" r="1.10" fill="#5a3ca8"/>
<circle cx="350.50" cy="930.60" r="1.10" fill="#5a3ca8"/>
<circle cx="352.50" cy="930.60" r="1.10" fill="#5a3ca8"/>
<text x="326.6" y="969.1" font-size="8.6" fill="#2a9a5a" text-anchor="end" transform="rotate(-45 326.6 969.1)" stroke="#2a9a5a" stroke-width="0.05">Repressed</text>
<text x="351.1" y="968" font-size="8.6" fill="#6a48b0" text-anchor="end" transform="rotate(-45 351.1 968)" stroke="#6a48b0" stroke-width="0.05">High</text>
<line x1="313.30" y1="994.40" x2="360.00" y2="994.40" stroke="#555" stroke-width="0.7"/>
<text x="303.20" y="1002.67" font-size="8.8" textLength="66.60" lengthAdjust="spacingAndGlyphs" stroke="#231f20" stroke-width="0.05">Autophagy flux</text>
<text x="376.8" y="875.4" font-size="14.5" font-weight="bold" fill="#000" textLength="8.90" lengthAdjust="spacingAndGlyphs" stroke="#000" stroke-width="0.05">q</text>
<text x="406.00" y="879.97" font-size="8.8" textLength="34.00" lengthAdjust="spacingAndGlyphs" stroke="#231f20" stroke-width="0.05">CD8 TIL</text>
<rect x="406.70" y="882.30" width="73.30" height="73.20" fill="none" stroke="#444" stroke-width="0.8"/>
<line x1="405.10" y1="906.60" x2="406.70" y2="906.60" stroke="#444" stroke-width="0.6"/>
<text x="405.00" y="909.19" font-size="7.2" text-anchor="end">10<tspan dy="-2.6" font-size="4.3">1</tspan></text>
<line x1="405.10" y1="931.40" x2="406.70" y2="931.40" stroke="#444" stroke-width="0.6"/>
<text x="405.00" y="933.99" font-size="7.2" text-anchor="end">10<tspan dy="-2.6" font-size="4.3">0</tspan></text>
<line x1="405.10" y1="954.20" x2="406.70" y2="954.20" stroke="#444" stroke-width="0.6"/>
<text x="405.00" y="956.79" font-size="7.2" text-anchor="end">10<tspan dy="-2.6" font-size="4.3">-1</tspan></text>
<line x1="411.70" y1="955.50" x2="411.70" y2="957.10" stroke="#444" stroke-width="0.6"/>
<text x="411.70" y="966.29" font-size="7.2" text-anchor="middle">-10<tspan dy="-2.6" font-size="4.3">3</tspan></text>
<line x1="422.90" y1="955.50" x2="422.90" y2="957.10" stroke="#444" stroke-width="0.6"/>
<text x="422.90" y="966.29" font-size="7.2" text-anchor="middle">0</text>
<line x1="435.00" y1="955.50" x2="435.00" y2="957.10" stroke="#444" stroke-width="0.6"/>
<text x="435.00" y="966.29" font-size="7.2" text-anchor="middle">10<tspan dy="-2.6" font-size="4.3">3</tspan></text>
<line x1="455.60" y1="955.50" x2="455.60" y2="957.10" stroke="#444" stroke-width="0.6"/>
<text x="455.60" y="966.29" font-size="7.2" text-anchor="middle">10<tspan dy="-2.6" font-size="4.3">4</tspan></text>
<line x1="472.30" y1="955.50" x2="472.30" y2="957.10" stroke="#444" stroke-width="0.6"/>
<text x="472.30" y="966.29" font-size="7.2" text-anchor="middle">10<tspan dy="-2.6" font-size="4.3">5</tspan></text>
<path fill="#555" d="M429.4 936.0h.4v.4h-.4zM437.3 939.4h.4v.4h-.4zM430.3 936.7h.4v.4h-.4zM436.7 922.2h.4v.4h-.4zM442.5 923.2h.4v.4h-.4zM417.6 922.4h.4v.4h-.4zM422.1 921.9h.4v.4h-.4zM437.6 925.8h.4v.4h-.4zM445.5 924.3h.4v.4h-.4zM435.5 927.2h.4v.4h-.4zM413.5 928.2h.4v.4h-.4zM434.2 936.6h.4v.4h-.4zM419.0 937.1h.4v.4h-.4zM441.9 919.6h.4v.4h-.4zM434.0 939.5h.4v.4h-.4zM414.0 932.1h.4v.4h-.4zM410.8 929.5h.4v.4h-.4zM444.8 924.6h.4v.4h-.4zM436.2 912.0h.4v.4h-.4zM424.6 923.1h.4v.4h-.4zM438.5 925.2h.4v.4h-.4zM438.0 926.9h.4v.4h-.4zM424.1 928.9h.4v.4h-.4zM433.0 925.0h.4v.4h-.4zM437.8 919.9h.4v.4h-.4zM432.5 933.2h.4v.4h-.4zM425.0 927.3h.4v.4h-.4zM430.0 913.7h.4v.4h-.4zM444.9 924.2h.4v.4h-.4zM435.5 897.8h.4v.4h-.4zM440.1 920.9h.4v.4h-.4zM419.0 923.5h.4v.4h-.4zM436.6 908.2h.4v.4h-.4zM436.9 911.8h.4v.4h-.4zM437.7 927.5h.4v.4h-.4zM438.6 931.9h.4v.4h-.4zM419.4 920.7h.4v.4h-.4zM432.8 921.3h.4v.4h-.4zM427.5 914.8h.4v.4h-.4zM434.4 948.9h.4v.4h-.4zM438.0 929.1h.4v.4h-.4zM417.8 923.5h.4v.4h-.4zM439.7 924.8h.4v.4h-.4zM434.4 921.4h.4v.4h-.4zM424.2 926.6h.4v.4h-.4zM423.3 919.2h.4v.4h-.4zM429.9 921.9h.4v.4h-.4zM408.1 930.8h.4v.4h-.4zM441.5 926.9h.4v.4h-.4zM423.0 913.7h.4v.4h-.4zM419.6 922.5h.4v.4h-.4zM435.7 924.3h.4v.4h-.4zM425.4 913.9h.4v.4h-.4zM427.7 916.4h.4v.4h-.4zM443.6 927.5h.4v.4h-.4zM426.3 940.6h.4v.4h-.4zM443.7 924.8h.4v.4h-.4zM415.3 935.6h.4v.4h-.4zM423.4 930.9h.4v.4h-.4zM417.8 920.7h.4v.4h-.4zM424.8 916.1h.4v.4h-.4zM417.2 933.6h.4v.4h-.4zM423.8 936.4h.4v.4h-.4zM433.5 926.2h.4v.4h-.4zM433.0 921.6h.4v.4h-.4zM426.6 927.5h.4v.4h-.4zM429.7 918.4h.4v.4h-.4zM435.5 928.1h.4v.4h-.4zM441.9 920.0h.4v.4h-.4zM450.1 926.4h.4v.4h-.4zM437.8 930.3h.4v.4h-.4zM414.5 922.8h.4v.4h-.4zM439.0 938.3h.4v.4h-.4zM426.9 939.8h.4v.4h-.4zM439.2 921.0h.4v.4h-.4zM441.6 926.1h.4v.4h-.4zM416.4 931.4h.4v.4h-.4zM429.9 922.0h.4v.4h-.4zM417.9 921.0h.4v.4h-.4zM439.5 920.8h.4v.4h-.4zM418.1 916.4h.4v.4h-.4zM438.0 940.2h.4v.4h-.4zM418.4 920.1h.4v.4h-.4zM434.8 934.5h.4v.4h-.4zM424.1 929.1h.4v.4h-.4zM444.3 920.1h.4v.4h-.4zM425.8 926.9h.4v.4h-.4zM433.2 925.6h.4v.4h-.4zM418.0 925.5h.4v.4h-.4zM436.6 916.2h.4v.4h-.4zM420.9 919.8h.4v.4h-.4zM444.6 923.9h.4v.4h-.4zM419.6 937.9h.4v.4h-.4zM438.3 922.8h.4v.4h-.4zM431.7 927.6h.4v.4h-.4zM434.7 924.8h.4v.4h-.4zM430.9 920.8h.4v.4h-.4zM429.8 931.0h.4v.4h-.4zM430.5 922.6h.4v.4h-.4zM413.8 928.7h.4v.4h-.4zM427.9 925.8h.4v.4h-.4zM444.9 927.7h.4v.4h-.4zM427.9 929.4h.4v.4h-.4zM414.3 923.6h.4v.4h-.4zM427.5 930.3h.4v.4h-.4zM432.8 934.9h.4v.4h-.4zM429.7 922.5h.4v.4h-.4zM429.9 913.2h.4v.4h-.4zM421.2 923.0h.4v.4h-.4zM438.9 928.0h.4v.4h-.4zM418.1 932.8h.4v.4h-.4zM433.7 928.0h.4v.4h-.4zM438.7 927.2h.4v.4h-.4zM438.8 929.8h.4v.4h-.4zM422.0 928.9h.4v.4h-.4zM436.0 943.8h.4v.4h-.4zM425.1 926.5h.4v.4h-.4zM416.3 919.2h.4v.4h-.4zM411.1 927.3h.4v.4h-.4zM435.8 915.1h.4v.4h-.4zM437.5 927.4h.4v.4h-.4zM423.8 925.7h.4v.4h-.4zM416.4 926.0h.4v.4h-.4zM429.2 911.7h.4v.4h-.4zM428.9 918.8h.4v.4h-.4zM421.4 919.5h.4v.4h-.4zM429.2 921.7h.4v.4h-.4zM435.1 938.1h.4v.4h-.4zM428.0 919.9h.4v.4h-.4zM430.7 911.4h.4v.4h-.4zM423.3 918.5h.4v.4h-.4zM434.8 928.2h.4v.4h-.4zM430.9 906.4h.4v.4h-.4zM430.2 928.0h.4v.4h-.4zM417.2 942.4h.4v.4h-.4zM433.2 945.4h.4v.4h-.4zM432.5 910.1h.4v.4h-.4zM441.7 925.3h.4v.4h-.4zM431.9 934.6h.4v.4h-.4zM419.0 933.6h.4v.4h-.4zM420.7 937.0h.4v.4h-.4zM434.9 927.1h.4v.4h-.4zM429.9 931.1h.4v.4h-.4zM428.9 908.6h.4v.4h-.4zM437.0 931.4h.4v.4h-.4zM435.4 926.3h.4v.4h-.4zM437.0 936.3h.4v.4h-.4zM437.4 912.0h.4v.4h-.4zM427.6 934.6h.4v.4h-.4zM430.5 938.5h.4v.4h-.4zM430.9 940.4h.4v.4h-.4zM418.4 928.0h.4v.4h-.4zM442.4 912.1h.4v.4h-.4zM427.5 939.6h.4v.4h-.4zM428.8 927.2h.4v.4h-.4zM432.3 921.5h.4v.4h-.4zM426.4 939.3h.4v.4h-.4zM434.0 919.2h.4v.4h-.4zM427.2 917.7h.4v.4h-.4zM439.7 927.2h.4v.4h-.4zM431.7 931.2h.4v.4h-.4zM418.8 932.7h.4v.4h-.4zM430.1 931.9h.4v.4h-.4zM422.9 923.1h.4v.4h-.4zM417.2 921.3h.4v.4h-.4zM422.6 943.0h.4v.4h-.4zM431.4 925.5h.4v.4h-.4zM432.7 927.6h.4v.4h-.4zM421.8 926.4h.4v.4h-.4zM426.2 901.5h.4v.4h-.4zM422.5 928.0h.4v.4h-.4zM432.4 944.4h.4v.4h-.4zM435.9 910.0h.4v.4h-.4zM438.3 926.0h.4v.4h-.4zM428.9 918.3h.4v.4h-.4zM437.3 936.1h.4v.4h-.4zM421.7 933.7h.4v.4h-.4zM423.2 923.4h.4v.4h-.4zM442.9 927.9h.4v.4h-.4zM430.0 911.6h.4v.4h-.4zM425.4 932.8h.4v.4h-.4zM423.3 920.1h.4v.4h-.4zM428.7 915.7h.4v.4h-.4zM412.6 923.0h.4v.4h-.4zM433.3 929.9h.4v.4h-.4zM412.5 923.6h.4v.4h-.4zM444.1 917.4h.4v.4h-.4zM431.4 933.0h.4v.4h-.4zM429.1 932.1h.4v.4h-.4zM431.1 930.4h.4v.4h-.4zM433.2 916.6h.4v.4h-.4zM440.7 923.9h.4v.4h-.4zM430.1 906.3h.4v.4h-.4zM423.1 924.2h.4v.4h-.4zM421.3 931.1h.4v.4h-.4zM434.7 935.2h.4v.4h-.4zM430.1 918.5h.4v.4h-.4zM432.9 926.6h.4v.4h-.4zM425.3 930.2h.4v.4h-.4zM407.1 930.7h.4v.4h-.4zM429.9 933.9h.4v.4h-.4zM424.9 923.0h.4v.4h-.4zM445.6 908.5h.4v.4h-.4zM437.5 926.7h.4v.4h-.4zM429.6 924.4h.4v.4h-.4zM414.5 920.7h.4v.4h-.4zM434.3 924.4h.4v.4h-.4zM439.3 920.9h.4v.4h-.4zM428.5 919.9h.4v.4h-.4zM438.3 928.9h.4v.4h-.4zM435.5 925.3h.4v.4h-.4zM453.1 923.3h.4v.4h-.4zM419.8 927.7h.4v.4h-.4zM430.8 925.3h.4v.4h-.4zM424.4 923.5h.4v.4h-.4zM428.6 916.1h.4v.4h-.4zM422.7 920.4h.4v.4h-.4zM440.1 914.6h.4v.4h-.4zM439.8 927.7h.4v.4h-.4zM433.1 945.3h.4v.4h-.4zM441.8 918.1h.4v.4h-.4zM420.2 910.1h.4v.4h-.4zM429.1 933.1h.4v.4h-.4zM439.5 919.4h.4v.4h-.4zM424.7 941.9h.4v.4h-.4zM428.3 924.9h.4v.4h-.4zM441.9 920.7h.4v.4h-.4zM428.6 922.5h.4v.4h-.4zM432.4 926.3h.4v.4h-.4zM429.1 923.6h.4v.4h-.4zM427.2 933.4h.4v.4h-.4zM423.2 929.7h.4v.4h-.4zM437.4 931.9h.4v.4h-.4zM436.9 929.5h.4v.4h-.4zM428.2 929.5h.4v.4h-.4zM440.6 933.5h.4v.4h-.4zM437.9 930.6h.4v.4h-.4zM415.4 913.2h.4v.4h-.4zM417.6 916.5h.4v.4h-.4zM431.9 922.9h.4v.4h-.4zM443.7 931.0h.4v.4h-.4zM427.8 935.6h.4v.4h-.4zM426.9 930.5h.4v.4h-.4zM421.5 932.0h.4v.4h-.4zM431.7 920.6h.4v.4h-.4zM438.3 932.9h.4v.4h-.4zM434.8 919.3h.4v.4h-.4zM424.5 942.9h.4v.4h-.4zM430.1 924.1h.4v.4h-.4zM437.7 933.3h.4v.4h-.4zM421.0 931.8h.4v.4h-.4zM425.4 928.2h.4v.4h-.4zM430.6 908.3h.4v.4h-.4zM423.4 921.4h.4v.4h-.4zM426.8 919.4h.4v.4h-.4zM437.9 933.3h.4v.4h-.4zM413.0 917.8h.4v.4h-.4zM425.2 928.2h.4v.4h-.4zM426.4 924.8h.4v.4h-.4zM425.4 948.7h.4v.4h-.4zM423.4 931.7h.4v.4h-.4zM432.6 925.1h.4v.4h-.4zM430.5 912.3h.4v.4h-.4zM432.9 923.7h.4v.4h-.4zM421.2 928.5h.4v.4h-.4zM434.1 926.4h.4v.4h-.4zM431.1 928.5h.4v.4h-.4zM425.0 913.2h.4v.4h-.4zM416.9 936.1h.4v.4h-.4zM437.0 911.9h.4v.4h-.4zM431.2 933.7h.4v.4h-.4zM430.5 928.1h.4v.4h-.4zM439.9 925.2h.4v.4h-.4zM423.6 916.8h.4v.4h-.4zM428.8 927.5h.4v.4h-.4zM426.6 934.5h.4v.4h-.4zM435.1 928.4h.4v.4h-.4zM431.5 924.0h.4v.4h-.4zM421.8 920.9h.4v.4h-.4zM426.0 914.9h.4v.4h-.4zM430.7 917.1h.4v.4h-.4zM437.6 914.0h.4v.4h-.4zM438.0 925.1h.4v.4h-.4zM431.9 935.5h.4v.4h-.4zM423.8 918.4h.4v.4h-.4zM437.1 931.8h.4v.4h-.4zM431.6 926.8h.4v.4h-.4zM426.4 920.1h.4v.4h-.4zM444.2 916.2h.4v.4h-.4zM429.1 921.8h.4v.4h-.4zM430.4 935.9h.4v.4h-.4zM420.3 922.2h.4v.4h-.4zM434.2 926.0h.4v.4h-.4zM436.8 922.1h.4v.4h-.4zM410.0 924.5h.4v.4h-.4zM430.0 934.7h.4v.4h-.4zM425.3 920.7h.4v.4h-.4zM416.3 932.8h.4v.4h-.4zM433.2 912.7h.4v.4h-.4zM429.4 924.7h.4v.4h-.4zM439.2 931.2h.4v.4h-.4zM428.8 923.2h.4v.4h-.4zM419.8 931.8h.4v.4h-.4zM428.0 927.4h.4v.4h-.4zM418.3 922.8h.4v.4h-.4zM424.1 923.9h.4v.4h-.4zM428.1 928.0h.4v.4h-.4zM423.3 924.7h.4v.4h-.4zM410.8 926.3h.4v.4h-.4zM422.4 927.2h.4v.4h-.4zM423.6 912.8h.4v.4h-.4zM428.0 936.5h.4v.4h-.4zM429.3 921.0h.4v.4h-.4zM427.3 919.1h.4v.4h-.4zM419.7 931.9h.4v.4h-.4zM435.2 925.3h.4v.4h-.4zM424.4 953.8h.4v.4h-.4zM434.4 929.2h.4v.4h-.4zM425.0 917.1h.4v.4h-.4zM430.3 920.7h.4v.4h-.4zM431.5 919.4h.4v.4h-.4zM435.1 935.0h.4v.4h-.4zM428.8 934.3h.4v.4h-.4zM440.6 914.7h.4v.4h-.4zM424.4 916.1h.4v.4h-.4zM436.8 926.8h.4v.4h-.4zM431.0 911.6h.4v.4h-.4zM438.2 926.4h.4v.4h-.4zM424.9 915.5h.4v.4h-.4zM422.3 928.5h.4v.4h-.4zM426.9 926.2h.4v.4h-.4zM431.3 924.5h.4v.4h-.4zM437.0 945.5h.4v.4h-.4zM424.9 924.0h.4v.4h-.4zM429.5 935.3h.4v.4h-.4zM429.8 926.6h.4v.4h-.4zM431.9 926.9h.4v.4h-.4zM428.4 937.5h.4v.4h-.4zM432.9 935.1h.4v.4h-.4zM423.5 933.8h.4v.4h-.4zM422.1 926.5h.4v.4h-.4zM415.0 911.8h.4v.4h-.4zM413.8 912.7h.4v.4h-.4zM418.5 925.7h.4v.4h-.4zM422.4 932.3h.4v.4h-.4zM416.5 927.1h.4v.4h-.4zM429.4 922.3h.4v.4h-.4zM437.6 927.6h.4v.4h-.4zM431.7 934.8h.4v.4h-.4zM431.2 936.6h.4v.4h-.4zM423.6 928.5h.4v.4h-.4zM428.0 904.0h.4v.4h-.4zM427.0 936.2h.4v.4h-.4zM417.4 940.9h.4v.4h-.4zM429.2 927.6h.4v.4h-.4zM440.4 918.0h.4v.4h-.4zM426.5 926.4h.4v.4h-.4zM424.5 934.6h.4v.4h-.4zM423.7 923.7h.4v.4h-.4zM426.6 929.9h.4v.4h-.4zM431.1 931.0h.4v.4h-.4zM419.8 931.9h.4v.4h-.4zM430.8 921.5h.4v.4h-.4zM433.6 921.7h.4v.4h-.4zM440.7 928.5h.4v.4h-.4zM445.4 914.0h.4v.4h-.4zM407.3 926.8h.4v.4h-.4zM437.1 920.7h.4v.4h-.4zM421.6 914.2h.4v.4h-.4zM430.2 923.2h.4v.4h-.4zM427.7 927.0h.4v.4h-.4zM438.0 928.5h.4v.4h-.4zM430.6 927.6h.4v.4h-.4zM433.0 925.7h.4v.4h-.4zM432.6 917.2h.4v.4h-.4zM419.4 930.2h.4v.4h-.4zM426.0 922.5h.4v.4h-.4zM446.8 918.0h.4v.4h-.4z"/>
<path fill="#777" d="M419.1 932.9h.4v.4h-.4zM419.4 942.1h.4v.4h-.4zM437.8 937.7h.4v.4h-.4zM428.9 932.0h.4v.4h-.4zM431.2 938.9h.4v.4h-.4zM441.6 954.9h.4v.4h-.4zM429.9 936.1h.4v.4h-.4zM429.8 937.0h.4v.4h-.4zM425.2 944.1h.4v.4h-.4zM430.5 942.7h.4v.4h-.4zM419.9 939.7h.4v.4h-.4zM425.7 946.7h.4v.4h-.4zM432.3 939.8h.4v.4h-.4zM429.5 942.1h.4v.4h-.4zM426.8 935.4h.4v.4h-.4zM425.1 941.4h.4v.4h-.4zM432.0 931.7h.4v.4h-.4zM417.6 943.0h.4v.4h-.4zM430.8 944.6h.4v.4h-.4zM434.9 939.1h.4v.4h-.4zM431.1 941.0h.4v.4h-.4zM423.9 931.8h.4v.4h-.4zM437.6 941.8h.4v.4h-.4zM425.0 942.7h.4v.4h-.4zM430.7 944.9h.4v.4h-.4zM440.0 948.8h.4v.4h-.4zM432.7 945.9h.4v.4h-.4zM423.5 934.3h.4v.4h-.4zM421.6 941.0h.4v.4h-.4zM434.0 938.8h.4v.4h-.4zM431.8 944.0h.4v.4h-.4zM429.5 934.8h.4v.4h-.4zM427.8 941.3h.4v.4h-.4zM437.1 945.2h.4v.4h-.4zM431.0 945.5h.4v.4h-.4zM430.5 944.3h.4v.4h-.4zM435.5 950.2h.4v.4h-.4zM424.2 935.9h.4v.4h-.4zM431.8 949.4h.4v.4h-.4zM426.5 939.0h.4v.4h-.4zM437.2 951.1h.4v.4h-.4zM426.9 944.6h.4v.4h-.4zM441.7 945.8h.4v.4h-.4zM430.3 946.4h.4v.4h-.4zM428.5 933.9h.4v.4h-.4zM426.1 942.7h.4v.4h-.4zM428.1 936.4h.4v.4h-.4zM416.9 931.6h.4v.4h-.4zM439.2 936.5h.4v.4h-.4zM426.6 938.3h.4v.4h-.4zM435.9 929.9h.4v.4h-.4zM428.6 941.5h.4v.4h-.4zM422.7 938.9h.4v.4h-.4zM436.9 933.2h.4v.4h-.4zM422.2 942.6h.4v.4h-.4zM419.8 940.9h.4v.4h-.4zM423.4 934.4h.4v.4h-.4zM432.5 948.8h.4v.4h-.4zM435.2 941.3h.4v.4h-.4zM428.5 939.6h.4v.4h-.4zM425.1 937.4h.4v.4h-.4zM428.5 941.7h.4v.4h-.4zM423.3 944.5h.4v.4h-.4zM442.7 942.9h.4v.4h-.4zM438.4 939.4h.4v.4h-.4zM417.7 937.0h.4v.4h-.4zM424.1 933.9h.4v.4h-.4zM421.6 940.9h.4v.4h-.4zM427.8 941.8h.4v.4h-.4zM431.8 932.7h.4v.4h-.4zM442.1 940.2h.4v.4h-.4zM437.2 939.5h.4v.4h-.4zM434.3 938.3h.4v.4h-.4zM421.5 933.4h.4v.4h-.4zM425.2 942.3h.4v.4h-.4zM435.8 944.7h.4v.4h-.4zM427.2 945.3h.4v.4h-.4zM426.2 937.6h.4v.4h-.4zM428.3 940.8h.4v.4h-.4zM424.1 933.1h.4v.4h-.4zM428.7 943.3h.4v.4h-.4zM424.9 935.9h.4v.4h-.4zM434.7 932.4h.4v.4h-.4zM422.9 941.6h.4v.4h-.4zM421.7 936.7h.4v.4h-.4zM421.3 940.9h.4v.4h-.4zM422.6 945.6h.4v.4h-.4zM426.3 940.2h.4v.4h-.4zM425.8 936.7h.4v.4h-.4zM425.1 945.6h.4v.4h-.4zM434.9 936.3h.4v.4h-.4zM421.8 944.1h.4v.4h-.4zM437.4 932.8h.4v.4h-.4zM432.5 939.9h.4v.4h-.4zM423.5 939.1h.4v.4h-.4zM426.0 943.2h.4v.4h-.4zM420.1 935.4h.4v.4h-.4zM428.5 938.4h.4v.4h-.4zM417.2 942.0h.4v.4h-.4zM425.7 942.6h.4v.4h-.4zM424.0 945.4h.4v.4h-.4zM428.6 942.9h.4v.4h-.4zM433.7 940.2h.4v.4h-.4zM428.9 938.3h.4v.4h-.4zM427.3 943.5h.4v.4h-.4zM435.0 931.3h.4v.4h-.4zM433.7 940.7h.4v.4h-.4zM429.9 942.9h.4v.4h-.4zM413.4 941.6h.4v.4h-.4zM421.4 944.4h.4v.4h-.4zM414.2 939.4h.4v.4h-.4zM422.0 944.6h.4v.4h-.4zM435.0 943.3h.4v.4h-.4zM438.2 941.3h.4v.4h-.4zM427.0 937.6h.4v.4h-.4zM419.5 940.9h.4v.4h-.4zM422.7 950.4h.4v.4h-.4zM435.9 942.1h.4v.4h-.4zM448.3 938.3h.4v.4h-.4zM425.7 940.1h.4v.4h-.4z"/>
<path fill="#444" d="M455.3 918.5h.4v.4h-.4zM451.8 906.5h.4v.4h-.4zM459.7 915.0h.4v.4h-.4zM456.6 915.9h.4v.4h-.4zM460.2 918.6h.4v.4h-.4zM455.6 928.3h.4v.4h-.4zM451.7 916.9h.4v.4h-.4zM452.2 920.1h.4v.4h-.4zM456.9 921.8h.4v.4h-.4zM453.7 927.7h.4v.4h-.4zM454.3 907.8h.4v.4h-.4zM462.4 900.6h.4v.4h-.4zM466.4 902.7h.4v.4h-.4zM443.7 911.5h.4v.4h-.4zM459.4 909.7h.4v.4h-.4zM458.3 929.4h.4v.4h-.4zM448.7 917.7h.4v.4h-.4zM456.7 922.9h.4v.4h-.4zM448.8 900.0h.4v.4h-.4zM448.9 909.3h.4v.4h-.4zM453.6 919.2h.4v.4h-.4zM448.2 907.8h.4v.4h-.4zM448.9 920.8h.4v.4h-.4zM456.2 923.8h.4v.4h-.4zM459.5 929.8h.4v.4h-.4zM449.9 932.1h.4v.4h-.4zM445.0 925.0h.4v.4h-.4zM452.6 899.9h.4v.4h-.4zM463.5 941.5h.4v.4h-.4zM460.8 902.8h.4v.4h-.4zM436.5 926.9h.4v.4h-.4zM455.0 911.5h.4v.4h-.4zM447.7 899.3h.4v.4h-.4zM453.3 895.4h.4v.4h-.4zM442.7 916.0h.4v.4h-.4zM462.2 926.5h.4v.4h-.4zM459.8 933.0h.4v.4h-.4zM458.5 912.9h.4v.4h-.4zM454.9 920.4h.4v.4h-.4zM448.9 918.3h.4v.4h-.4zM452.3 903.9h.4v.4h-.4zM442.6 919.0h.4v.4h-.4zM457.5 928.9h.4v.4h-.4zM461.4 923.0h.4v.4h-.4zM454.1 912.9h.4v.4h-.4zM444.6 886.4h.4v.4h-.4zM450.9 925.7h.4v.4h-.4zM452.8 939.8h.4v.4h-.4zM463.6 928.2h.4v.4h-.4zM452.1 937.4h.4v.4h-.4zM463.3 905.1h.4v.4h-.4zM456.1 932.0h.4v.4h-.4zM447.2 939.5h.4v.4h-.4zM451.8 925.4h.4v.4h-.4zM450.5 921.6h.4v.4h-.4zM454.9 935.9h.4v.4h-.4zM450.9 925.2h.4v.4h-.4zM458.0 915.6h.4v.4h-.4zM456.0 903.0h.4v.4h-.4zM443.5 913.5h.4v.4h-.4zM441.3 908.7h.4v.4h-.4zM451.1 910.8h.4v.4h-.4zM448.3 908.1h.4v.4h-.4zM456.1 916.4h.4v.4h-.4zM435.6 927.5h.4v.4h-.4zM463.3 926.3h.4v.4h-.4zM460.8 910.1h.4v.4h-.4zM464.3 925.7h.4v.4h-.4zM452.3 932.2h.4v.4h-.4zM455.5 910.3h.4v.4h-.4zM453.1 924.5h.4v.4h-.4zM451.2 923.3h.4v.4h-.4zM448.5 899.5h.4v.4h-.4zM461.1 923.6h.4v.4h-.4zM456.2 900.6h.4v.4h-.4zM452.2 932.5h.4v.4h-.4zM449.5 906.9h.4v.4h-.4zM468.4 918.9h.4v.4h-.4zM456.5 917.8h.4v.4h-.4zM462.2 921.3h.4v.4h-.4zM448.2 914.9h.4v.4h-.4zM453.5 938.3h.4v.4h-.4zM453.3 917.3h.4v.4h-.4zM461.0 931.2h.4v.4h-.4zM449.4 922.0h.4v.4h-.4zM458.9 915.9h.4v.4h-.4zM459.4 924.3h.4v.4h-.4zM444.6 927.8h.4v.4h-.4zM453.3 914.5h.4v.4h-.4zM438.1 923.2h.4v.4h-.4zM438.4 921.0h.4v.4h-.4zM463.2 907.4h.4v.4h-.4zM451.0 914.7h.4v.4h-.4zM458.9 918.0h.4v.4h-.4zM450.1 931.2h.4v.4h-.4zM441.3 914.9h.4v.4h-.4zM437.7 912.9h.4v.4h-.4zM455.3 903.5h.4v.4h-.4zM451.5 934.5h.4v.4h-.4zM441.2 918.9h.4v.4h-.4zM451.1 938.3h.4v.4h-.4zM452.0 912.3h.4v.4h-.4zM460.5 914.2h.4v.4h-.4zM447.1 922.6h.4v.4h-.4zM443.5 931.9h.4v.4h-.4zM460.0 913.2h.4v.4h-.4zM445.3 916.5h.4v.4h-.4zM463.5 935.0h.4v.4h-.4zM451.6 920.2h.4v.4h-.4zM453.6 928.2h.4v.4h-.4zM454.0 912.3h.4v.4h-.4zM461.3 938.8h.4v.4h-.4zM447.5 942.9h.4v.4h-.4zM456.0 919.3h.4v.4h-.4zM454.7 929.6h.4v.4h-.4zM446.9 916.6h.4v.4h-.4zM469.4 913.0h.4v.4h-.4zM434.4 905.7h.4v.4h-.4zM465.3 896.1h.4v.4h-.4zM450.2 916.3h.4v.4h-.4zM451.0 917.6h.4v.4h-.4zM434.0 938.1h.4v.4h-.4zM444.6 929.3h.4v.4h-.4zM463.5 913.7h.4v.4h-.4zM446.8 927.9h.4v.4h-.4zM461.8 932.4h.4v.4h-.4zM449.3 911.2h.4v.4h-.4zM440.5 927.9h.4v.4h-.4zM457.7 921.3h.4v.4h-.4zM444.4 905.0h.4v.4h-.4zM443.5 915.0h.4v.4h-.4zM462.1 919.9h.4v.4h-.4zM450.4 917.5h.4v.4h-.4zM447.7 917.5h.4v.4h-.4zM446.0 935.1h.4v.4h-.4zM453.6 917.5h.4v.4h-.4zM461.5 927.1h.4v.4h-.4zM461.8 911.8h.4v.4h-.4zM446.7 934.3h.4v.4h-.4zM455.2 916.9h.4v.4h-.4zM460.3 921.7h.4v.4h-.4zM451.0 906.0h.4v.4h-.4zM448.9 919.9h.4v.4h-.4zM454.1 921.8h.4v.4h-.4zM447.7 920.8h.4v.4h-.4zM446.1 913.0h.4v.4h-.4zM447.9 935.9h.4v.4h-.4zM449.0 929.5h.4v.4h-.4zM442.5 923.6h.4v.4h-.4zM464.4 916.8h.4v.4h-.4zM464.7 919.0h.4v.4h-.4zM443.1 916.7h.4v.4h-.4zM454.2 919.4h.4v.4h-.4zM456.5 919.5h.4v.4h-.4zM461.3 930.4h.4v.4h-.4zM453.7 907.8h.4v.4h-.4zM454.6 930.5h.4v.4h-.4zM456.9 924.5h.4v.4h-.4zM439.0 926.9h.4v.4h-.4zM452.5 913.6h.4v.4h-.4zM458.8 889.8h.4v.4h-.4zM456.2 914.7h.4v.4h-.4zM438.5 905.3h.4v.4h-.4zM452.8 933.4h.4v.4h-.4zM440.9 898.6h.4v.4h-.4zM456.6 908.0h.4v.4h-.4zM449.0 914.9h.4v.4h-.4zM455.3 911.6h.4v.4h-.4zM451.0 913.8h.4v.4h-.4zM451.1 899.3h.4v.4h-.4zM458.5 926.1h.4v.4h-.4zM457.6 930.3h.4v.4h-.4zM454.5 944.5h.4v.4h-.4zM454.3 915.6h.4v.4h-.4zM453.2 927.6h.4v.4h-.4zM458.7 929.7h.4v.4h-.4zM451.5 906.4h.4v.4h-.4zM448.7 918.6h.4v.4h-.4zM440.0 924.7h.4v.4h-.4zM457.4 922.7h.4v.4h-.4zM444.8 917.2h.4v.4h-.4zM457.0 936.3h.4v.4h-.4zM461.0 917.7h.4v.4h-.4zM469.5 917.2h.4v.4h-.4zM453.0 909.8h.4v.4h-.4zM437.5 909.5h.4v.4h-.4zM457.6 908.8h.4v.4h-.4zM453.1 927.5h.4v.4h-.4zM443.3 931.2h.4v.4h-.4zM445.8 926.0h.4v.4h-.4zM455.5 930.2h.4v.4h-.4zM454.2 921.9h.4v.4h-.4zM455.3 932.3h.4v.4h-.4zM446.3 903.9h.4v.4h-.4zM444.7 929.1h.4v.4h-.4zM454.8 917.6h.4v.4h-.4zM448.2 916.4h.4v.4h-.4zM456.8 917.4h.4v.4h-.4zM449.9 928.3h.4v.4h-.4zM453.4 902.5h.4v.4h-.4z"/>
<ellipse cx="428.6" cy="932" rx="12.2" ry="6.2" fill="#fff"/>
<ellipse cx="428.6" cy="932.0" rx="12.2" ry="6.2" fill="none" stroke="#111" stroke-width="0.75"/>
<ellipse cx="429.3" cy="931.9" rx="10.3" ry="5.2" fill="none" stroke="#111" stroke-width="0.75"/>
<ellipse cx="430.0" cy="931.8" rx="8.4" ry="4.3" fill="none" stroke="#111" stroke-width="0.75"/>
<ellipse cx="430.7" cy="931.7" rx="6.5" ry="3.3" fill="none" stroke="#111" stroke-width="0.75"/>
<ellipse cx="431.4" cy="931.6" rx="4.6" ry="2.4" fill="none" stroke="#111" stroke-width="0.75"/>
<ellipse cx="432.1" cy="931.5" rx="2.7" ry="1.4" fill="none" stroke="#111" stroke-width="0.75"/>
<line x1="429.00" y1="933.00" x2="434.00" y2="931.50" stroke="#fff" stroke-width="0.8"/>
<path d="M460.9,920.0C461.1,921.8 461.7,924.0 461.4,925.7C461.2,927.5 460.2,929.3 459.3,930.4C458.4,931.5 457.0,931.8 456.0,932.3C454.9,932.7 453.9,933.3 452.8,933.3C451.7,933.3 450.6,932.9 449.6,932.3C448.6,931.7 447.7,930.7 446.8,929.6C445.9,928.5 444.7,927.3 444.2,925.7C443.7,924.1 443.5,921.8 443.7,920.0C443.9,918.2 445.0,916.7 445.5,915.2C446.1,913.7 446.5,912.3 447.1,910.9C447.8,909.5 448.4,907.6 449.4,906.8C450.3,905.9 451.7,905.7 452.8,905.7C453.9,905.7 455.2,906.1 456.2,906.8C457.2,907.6 458.3,908.7 459.0,910.1C459.6,911.5 459.8,913.5 460.1,915.2C460.4,916.8 460.7,918.2 460.9,920.0 Z" fill="none" stroke="#111" stroke-width="0.55"/>
<path d="M461.0,919.5C461.2,921.1 461.1,923.3 460.7,924.7C460.2,926.2 459.1,927.3 458.3,928.3C457.4,929.3 456.6,930.1 455.7,930.7C454.8,931.3 453.8,931.7 452.8,931.6C451.8,931.6 450.9,931.1 449.9,930.6C449.0,930.2 447.8,929.9 446.9,928.9C446.1,927.9 445.2,926.3 444.9,924.8C444.6,923.2 445.1,921.1 445.4,919.5C445.6,917.9 445.9,916.6 446.2,915.1C446.5,913.6 446.6,911.8 447.2,910.5C447.8,909.3 448.8,908.2 449.7,907.5C450.6,906.8 451.8,906.5 452.8,906.5C453.8,906.5 455.0,906.7 455.9,907.4C456.8,908.2 457.4,909.8 458.0,911.1C458.6,912.4 458.9,913.7 459.4,915.1C459.9,916.5 460.8,917.9 461.0,919.5 Z" fill="none" stroke="#111" stroke-width="0.55"/>
<path d="M459.6,919.0C459.5,920.4 459.0,921.6 458.7,923.0C458.5,924.3 458.4,926.0 457.9,927.3C457.5,928.5 456.6,930.1 455.8,930.6C454.9,931.1 453.7,930.5 452.8,930.2C451.9,929.9 451.1,929.3 450.3,928.8C449.5,928.2 448.6,927.7 447.9,926.8C447.3,925.9 446.8,924.6 446.4,923.3C446.0,922.0 445.6,920.5 445.5,919.0C445.4,917.5 445.3,915.6 445.7,914.3C446.1,913.0 447.2,912.0 448.0,911.3C448.8,910.5 449.6,910.3 450.4,909.7C451.2,909.1 451.9,907.9 452.8,907.6C453.7,907.3 454.8,907.3 455.7,907.9C456.5,908.4 457.3,909.7 457.9,910.8C458.5,911.9 459.1,913.2 459.4,914.6C459.7,916.0 459.7,917.6 459.6,919.0 Z" fill="none" stroke="#111" stroke-width="0.55"/>
<path d="M459.1,918.5C459.0,919.8 458.9,921.2 458.5,922.3C458.2,923.4 457.5,924.3 457.0,925.2C456.4,926.1 455.9,926.9 455.2,927.6C454.5,928.4 453.6,929.4 452.8,929.5C452.0,929.6 451.0,928.9 450.3,928.2C449.6,927.4 449.2,926.1 448.7,925.2C448.1,924.2 447.6,923.3 447.2,922.2C446.9,921.1 446.6,919.8 446.5,918.5C446.5,917.2 446.7,915.9 446.9,914.6C447.2,913.3 447.5,911.9 448.1,910.9C448.7,910.0 449.6,909.3 450.4,909.0C451.1,908.8 452.0,909.2 452.8,909.3C453.6,909.4 454.3,909.3 455.1,909.6C455.9,909.8 456.9,910.1 457.5,910.9C458.1,911.7 458.6,913.2 458.8,914.5C459.1,915.8 459.1,917.2 459.1,918.5 Z" fill="#111" stroke="#111" stroke-width="0.55"/>
<path d="M457.2,918.3C457.3,919.6 457.9,921.3 457.6,922.4C457.4,923.5 456.3,924.4 455.6,924.8C454.9,925.3 454.0,925.1 453.2,925.1C452.5,925.0 451.7,924.8 451.1,924.3C450.4,923.8 449.7,923.0 449.2,922.0C448.8,921.0 448.0,919.5 448.1,918.3C448.2,917.2 449.3,916.1 449.8,915.1C450.3,914.1 450.5,913.0 451.1,912.3C451.6,911.5 452.5,910.6 453.2,910.6C454.0,910.5 455.0,911.1 455.6,911.8C456.2,912.5 456.8,913.7 457.1,914.8C457.3,915.9 457.1,917.0 457.2,918.3 Z" fill="none" stroke="#fff" stroke-width="0.3" opacity="0.7"/>
<path d="M455.4,919.5C455.4,920.3 455.2,921.2 455.0,921.8C454.7,922.4 454.2,922.7 453.8,923.2C453.4,923.6 452.9,924.5 452.5,924.7C452.0,924.8 451.2,924.4 450.9,923.9C450.5,923.4 450.4,922.3 450.2,921.6C450.0,920.8 449.6,920.2 449.5,919.5C449.5,918.7 449.6,917.8 449.8,917.1C450.1,916.3 450.4,915.3 450.8,915.0C451.3,914.7 452.0,915.1 452.5,915.2C453.0,915.3 453.3,915.4 453.8,915.7C454.3,916.0 455.1,916.2 455.3,916.8C455.6,917.5 455.5,918.7 455.4,919.5 Z" fill="none" stroke="#fff" stroke-width="0.3" opacity="0.7"/>
<ellipse cx="452.8" cy="918.5" rx="0.8" ry="1.4" fill="#fff"/>
<line x1="453.00" y1="914.50" x2="453.00" y2="924.50" stroke="#fff" stroke-width="1.0"/>
<text x="406.00" y="975.27" font-size="8.8" textLength="42.20" lengthAdjust="spacingAndGlyphs" stroke="#231f20" stroke-width="0.05">PD1 - APC</text>
<line x1="450.70" y1="972.10" x2="475.30" y2="972.10" stroke="#4a5876" stroke-width="1.3"/>
<path d="M479.50,972.10 L475.30,974.20 L475.30,970.00 Z" fill="#4a5876"/>
<line x1="389.40" y1="955.50" x2="389.40" y2="887.00" stroke="#4a5876" stroke-width="1.7"/>
<path d="M389.40,882.00 L391.90,887.00 L386.90,887.00 Z" fill="#4a5876"/>
<text x="381.90" y="924.67" font-size="8.8" text-anchor="middle" textLength="65.50" lengthAdjust="spacingAndGlyphs" transform="rotate(-90 381.90 921.50)" stroke="#231f20" stroke-width="0.05">Autophagy flux</text>
<rect x="499.10" y="882.80" width="73.50" height="73.90" fill="none" stroke="#444" stroke-width="0.8"/>
<text x="500.80" y="889.95" font-size="6.8" textLength="17.70" lengthAdjust="spacingAndGlyphs">CD8+</text>
<path d="M529.9,919.2 L533,917 L535.5,908 L537.5,896 L539,890 L539.8,888.4 L541,890 L543,898 L545.5,909 L548,916 L551.2,919.2 Z" fill="#c8c8c8" stroke="#888" stroke-width="0.5"/>
<line x1="499.10" y1="919.20" x2="572.60" y2="919.20" stroke="#aaa" stroke-width="0.6"/>
<text x="553.20" y="919.49" font-size="7.2" fill="#999" textLength="17.90" lengthAdjust="spacingAndGlyphs">Naive</text>
<path d="M499.3,938 L505,937.5 L510,936 L514,933.5 L517.5,928 L520,918 L522,908 L523.3,905.5 L524.8,909 L526.5,922 L528.4,931.5 L530.5,932 L532.7,930.5 L536,932.5 L540,934.5 L545,936.8 L549.8,938.2 L572.6,938.2" fill="none" stroke="#3aa868" stroke-width="0.7"/>
<path d="M499.3,956.5 L524,956.5 L526.4,952 L528,940 L529.5,929 L530.4,925.4 L532,927 L534,926.5 L536,928 L538,929 L539.8,929.7 L542,933 L545,941 L548,950 L551.2,955.5 L553,956.5 L572.6,956.5" fill="none" stroke="#a040b0" stroke-width="0.7"/>
<text x="557.70" y="935.69" font-size="7.2" fill="#3aa868" textLength="13.40" lengthAdjust="spacingAndGlyphs">PD1<tspan dy="-2.4" font-size="4.5">–</tspan></text>
<text x="557.70" y="952.79" font-size="7.2" fill="#a040b0" textLength="13.40" lengthAdjust="spacingAndGlyphs">PD1<tspan dy="-2.4" font-size="4.5">+</tspan></text>
<text x="484.20" y="942.14" font-size="7.6" textLength="9.90" lengthAdjust="spacingAndGlyphs" stroke="#231f20" stroke-width="0.05">TIL</text>
<line x1="496.10" y1="924.00" x2="496.10" y2="955.50" stroke="#555" stroke-width="0.7"/>
<text x="499.10" y="965.60" font-size="6.4" text-anchor="middle">10<tspan dy="-2.6" font-size="4.3">-1</tspan></text>
<text x="521.90" y="965.60" font-size="6.4" text-anchor="middle">10<tspan dy="-2.6" font-size="4.3">0</tspan></text>
<text x="548.40" y="965.60" font-size="6.4" text-anchor="middle">10<tspan dy="-2.6" font-size="4.3">1</tspan></text>
<line x1="499.10" y1="971.80" x2="568.10" y2="971.80" stroke="#4a5876" stroke-width="1.3"/>
<path d="M572.60,971.80 L568.10,974.00 L568.10,969.60 Z" fill="#4a5876"/>
<text x="498.50" y="982.67" font-size="8.8" textLength="66.90" lengthAdjust="spacingAndGlyphs" stroke="#231f20" stroke-width="0.05">Autophagy flux</text>
<text x="500.80" y="993.17" font-size="8.8" textLength="65.50" lengthAdjust="spacingAndGlyphs" stroke="#231f20" stroke-width="0.05">(mCherry/GFP)</text>
<line x1="606.10" y1="884.20" x2="606.10" y2="966.10" stroke="#3a3a3a" stroke-width="0.7"/>
<line x1="603.90" y1="966.10" x2="606.10" y2="966.10" stroke="#3a3a3a" stroke-width="0.7"/>
<text x="600.90" y="968.98" font-size="8.0" text-anchor="end" textLength="4.63" lengthAdjust="spacingAndGlyphs" stroke="#231f20" stroke-width="0.05">0</text>
<line x1="603.90" y1="945.60" x2="606.10" y2="945.60" stroke="#3a3a3a" stroke-width="0.7"/>
<text x="600.90" y="948.48" font-size="8.0" text-anchor="end" textLength="4.63" lengthAdjust="spacingAndGlyphs" stroke="#231f20" stroke-width="0.05">1</text>
<line x1="603.90" y1="925.40" x2="606.10" y2="925.40" stroke="#3a3a3a" stroke-width="0.7"/>
<text x="600.90" y="928.28" font-size="8.0" text-anchor="end" textLength="4.63" lengthAdjust="spacingAndGlyphs" stroke="#231f20" stroke-width="0.05">2</text>
<line x1="603.90" y1="904.70" x2="606.10" y2="904.70" stroke="#3a3a3a" stroke-width="0.7"/>
<text x="600.90" y="907.58" font-size="8.0" text-anchor="end" textLength="4.63" lengthAdjust="spacingAndGlyphs" stroke="#231f20" stroke-width="0.05">3</text>
<line x1="603.90" y1="884.20" x2="606.10" y2="884.20" stroke="#3a3a3a" stroke-width="0.7"/>
<text x="600.90" y="887.08" font-size="8.0" text-anchor="end" textLength="4.63" lengthAdjust="spacingAndGlyphs" stroke="#231f20" stroke-width="0.05">4</text>
<line x1="606.10" y1="966.10" x2="660.80" y2="966.10" stroke="#3a3a3a" stroke-width="0.7"/>
<line x1="622.00" y1="966.10" x2="622.00" y2="968.10" stroke="#3a3a3a" stroke-width="0.6"/>
<line x1="646.10" y1="966.10" x2="646.10" y2="968.10" stroke="#3a3a3a" stroke-width="0.6"/>
<text x="586.80" y="928.57" font-size="8.8" text-anchor="middle" textLength="65.50" lengthAdjust="spacingAndGlyphs" transform="rotate(-90 586.80 925.40)" stroke="#231f20" stroke-width="0.05">Autophagy flux</text>
<rect x="614.40" y="946.20" width="15.10" height="19.90" fill="#dff2e6" stroke="#3aa06a" stroke-width="0.7"/>
<rect x="638.60" y="914.90" width="15.10" height="51.20" fill="#e8e2f6" stroke="#7a5ab8" stroke-width="0.7"/>
<line x1="646.10" y1="907.00" x2="646.10" y2="921.50" stroke="#444" stroke-width="0.6"/>
<line x1="643.60" y1="907.00" x2="648.60" y2="907.00" stroke="#444" stroke-width="0.6"/>
<line x1="643.60" y1="921.50" x2="648.60" y2="921.50" stroke="#444" stroke-width="0.6"/>
<circle cx="619.00" cy="944.60" r="1.40" fill="#111"/>
<circle cx="622.00" cy="946.00" r="1.40" fill="#111"/>
<circle cx="625.50" cy="945.40" r="1.40" fill="#111"/>
<circle cx="643.00" cy="906.00" r="1.40" fill="#111"/>
<circle cx="641.80" cy="919.60" r="1.40" fill="#111"/>
<circle cx="648.60" cy="919.00" r="1.40" fill="#111"/>
<text x="624.40" y="895.82" font-size="7.0" textLength="19.30" lengthAdjust="spacingAndGlyphs">0.001</text>
<line x1="622.00" y1="896.10" x2="646.00" y2="896.10" stroke="#c0c0c0" stroke-width="0.7"/>
<text x="614.60" y="978.55" font-size="8.2" textLength="15.50" lengthAdjust="spacingAndGlyphs" stroke="#231f20" stroke-width="0.05">PD1<tspan dy="-2.8" font-size="5">–</tspan></text>
<text x="638.80" y="978.55" font-size="8.2" textLength="15.50" lengthAdjust="spacingAndGlyphs" stroke="#231f20" stroke-width="0.05">PD1<tspan dy="-2.8" font-size="5">+</tspan></text>
<line x1="609.00" y1="981.50" x2="657.40" y2="981.50" stroke="#555" stroke-width="0.7"/>
<text x="616.70" y="992.67" font-size="8.8" textLength="32.70" lengthAdjust="spacingAndGlyphs" stroke="#231f20" stroke-width="0.05">CD8 TIL</text>
</svg>
</body></html>
